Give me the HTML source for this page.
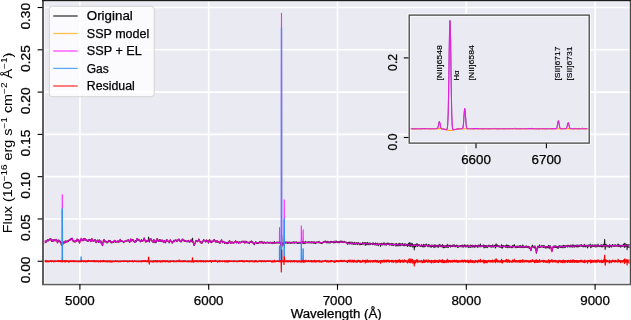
<!DOCTYPE html>
<html><head><meta charset="utf-8"><style>html,body{margin:0;padding:0;background:#fff;overflow:hidden}svg{display:block;font-family:"Liberation Sans",sans-serif}text{-webkit-font-smoothing:antialiased}</style></head><body>
<svg width="631" height="320" viewBox="0 0 631 320" style="will-change:transform">
<defs><clipPath id="cm"><rect x="43" y="0.5" width="587" height="283.5"/></clipPath><clipPath id="ci"><rect x="409" y="15" width="180" height="128"/></clipPath></defs>
<rect x="43" y="0.5" width="587" height="283.5" fill="#eaeaf2"/>
<line x1="43" x2="630" y1="7.51" y2="7.51" stroke="#fff" stroke-width="1.6"/>
<line x1="43" x2="630" y1="49.80" y2="49.80" stroke="#fff" stroke-width="1.6"/>
<line x1="43" x2="630" y1="92.09" y2="92.09" stroke="#fff" stroke-width="1.6"/>
<line x1="43" x2="630" y1="134.38" y2="134.38" stroke="#fff" stroke-width="1.6"/>
<line x1="43" x2="630" y1="176.67" y2="176.67" stroke="#fff" stroke-width="1.6"/>
<line x1="43" x2="630" y1="218.96" y2="218.96" stroke="#fff" stroke-width="1.6"/>
<line x1="43" x2="630" y1="261.25" y2="261.25" stroke="#fff" stroke-width="1.6"/>
<line y1="0.5" y2="284" x1="79.90" x2="79.90" stroke="#fff" stroke-width="1.6"/>
<line y1="0.5" y2="284" x1="208.70" x2="208.70" stroke="#fff" stroke-width="1.6"/>
<line y1="0.5" y2="284" x1="337.50" x2="337.50" stroke="#fff" stroke-width="1.6"/>
<line y1="0.5" y2="284" x1="466.30" x2="466.30" stroke="#fff" stroke-width="1.6"/>
<line y1="0.5" y2="284" x1="595.10" x2="595.10" stroke="#fff" stroke-width="1.6"/>
<g clip-path="url(#cm)" fill="none" stroke-linejoin="round">
<path d="M42.4,240.7 L42.5,240.3 L42.7,240.0 L42.8,239.9 L43.0,239.9 L43.2,239.9 L43.3,240.0 L43.5,240.2 L43.7,240.4 L43.8,240.7 L44.0,241.1 L44.1,241.7 L44.3,242.3 L44.5,242.9 L44.6,243.0 L44.8,242.8 L44.9,242.3 L45.1,241.7 L45.3,241.4 L45.4,241.4 L45.6,241.6 L45.7,241.8 L45.9,241.8 L46.1,241.7 L46.2,241.6 L46.4,241.7 L46.6,241.7 L46.7,241.4 L46.9,241.1 L47.0,240.6 L47.2,240.3 L47.4,240.1 L47.5,240.1 L47.7,240.1 L47.8,240.3 L48.0,240.4 L48.2,240.5 L48.3,240.4 L48.5,240.3 L48.6,240.1 L48.8,240.0 L49.0,239.8 L49.1,239.5 L49.3,239.3 L49.4,239.2 L49.6,239.4 L49.8,239.6 L49.9,239.8 L50.1,239.7 L50.3,239.6 L50.4,239.3 L50.6,239.2 L50.7,239.1 L50.9,239.3 L51.1,239.7 L51.2,240.2 L51.4,240.6 L51.5,240.9 L51.7,241.0 L51.9,240.8 L52.0,240.4 L52.2,240.1 L52.3,240.2 L52.5,240.6 L52.7,241.1 L52.8,241.4 L53.0,241.3 L53.2,240.9 L53.3,240.3 L53.5,239.8 L53.6,239.7 L53.8,239.8 L54.0,239.9 L54.1,239.9 L54.3,239.8 L54.4,239.9 L54.6,240.1 L54.8,240.4 L54.9,240.6 L55.1,240.8 L55.2,240.8 L55.4,240.5 L55.6,240.1 L55.7,239.7 L55.9,239.4 L56.1,239.4 L56.2,239.5 L56.4,239.6 L56.5,239.8 L56.7,240.2 L56.9,240.8 L57.0,241.5 L57.2,242.2 L57.3,242.7 L57.5,242.8 L57.7,242.3 L57.8,241.6 L58.0,240.8 L58.1,240.5 L58.3,240.5 L58.5,240.6 L58.6,240.7 L58.8,240.7 L58.9,240.7 L59.1,240.7 L59.3,240.8 L59.4,241.0 L59.6,241.4 L59.8,241.7 L59.9,241.9 L60.1,242.0 L60.2,241.9 L60.4,241.7 L60.6,241.7 L60.7,241.9 L60.9,242.4 L61.0,243.2 L61.2,244.0 L61.4,244.7 L61.5,245.0 L61.7,245.1 L61.8,244.9 L61.8,244.7 L61.9,244.4 L62.0,244.1 L62.0,243.8 L62.0,243.6 L62.1,243.5 L62.2,243.2 L62.2,243.0 L62.3,242.9 L62.3,243.1 L62.4,243.5 L62.4,243.8 L62.5,243.9 L62.6,243.9 L62.6,244.0 L62.7,244.2 L62.7,244.4 L62.7,244.3 L62.8,243.8 L63.0,243.2 L63.1,242.6 L63.3,242.4 L63.5,242.5 L63.6,242.6 L63.8,242.7 L63.9,242.7 L64.1,242.6 L64.3,242.6 L64.4,242.5 L64.6,242.4 L64.7,242.0 L64.9,241.7 L65.1,241.5 L65.2,241.3 L65.4,241.3 L65.5,241.4 L65.7,241.7 L65.9,242.0 L66.0,242.2 L66.2,242.0 L66.4,241.7 L66.5,241.4 L66.7,241.2 L66.8,241.2 L67.0,241.4 L67.2,241.6 L67.3,241.7 L67.5,241.7 L67.6,241.5 L67.8,241.1 L68.0,240.8 L68.1,240.8 L68.3,240.8 L68.4,240.8 L68.6,240.8 L68.8,240.7 L68.9,240.4 L69.1,240.1 L69.3,239.8 L69.4,239.6 L69.6,239.7 L69.7,240.0 L69.9,240.3 L70.1,240.3 L70.2,240.0 L70.4,239.6 L70.5,239.2 L70.7,239.0 L70.9,238.8 L71.0,238.8 L71.2,239.0 L71.3,239.2 L71.5,239.3 L71.7,239.3 L71.8,239.1 L72.0,238.6 L72.2,238.4 L72.3,238.5 L72.5,239.2 L72.6,240.0 L72.8,240.7 L73.0,241.0 L73.1,241.0 L73.3,241.1 L73.4,241.3 L73.6,241.6 L73.8,241.7 L73.9,241.4 L74.1,241.1 L74.2,241.0 L74.4,241.2 L74.6,241.6 L74.7,241.8 L74.9,241.9 L75.0,241.8 L75.2,241.5 L75.4,241.1 L75.5,240.8 L75.7,240.9 L75.9,241.1 L76.0,241.4 L76.2,241.5 L76.3,241.3 L76.5,240.8 L76.7,240.3 L76.8,239.7 L77.0,239.3 L77.1,239.2 L77.3,239.4 L77.5,239.7 L77.6,240.1 L77.8,240.5 L77.9,240.6 L78.1,240.5 L78.3,240.2 L78.4,239.9 L78.6,239.8 L78.8,239.9 L78.9,240.3 L79.1,241.1 L79.2,242.1 L79.4,242.9 L79.6,243.2 L79.7,242.8 L79.9,241.9 L80.0,241.1 L80.2,240.6 L80.4,240.3 L80.5,240.1 L80.6,239.9 L80.7,239.6 L80.7,239.5 L80.7,239.4 L80.8,239.3 L80.8,239.2 L80.9,239.4 L81.0,239.6 L81.0,239.9 L81.0,240.0 L81.1,240.1 L81.2,240.2 L81.2,240.3 L81.3,240.3 L81.3,240.1 L81.4,239.6 L81.4,239.1 L81.5,238.9 L81.6,239.1 L81.6,239.7 L81.6,240.3 L81.8,240.8 L82.0,240.9 L82.1,240.8 L82.3,240.7 L82.5,240.5 L82.6,240.2 L82.8,239.8 L82.9,239.4 L83.1,239.1 L83.3,239.2 L83.4,239.5 L83.6,239.9 L83.7,240.1 L83.9,239.9 L84.1,239.4 L84.2,238.9 L84.4,238.7 L84.5,238.9 L84.7,239.3 L84.9,239.6 L85.0,239.8 L85.2,239.7 L85.4,239.4 L85.5,239.3 L85.7,239.4 L85.8,239.7 L86.0,239.9 L86.2,239.8 L86.3,239.7 L86.5,239.7 L86.6,240.1 L86.8,240.4 L87.0,240.6 L87.1,240.6 L87.3,240.5 L87.4,240.5 L87.6,240.7 L87.8,241.0 L87.9,241.3 L88.1,241.4 L88.2,241.3 L88.4,241.0 L88.6,240.6 L88.7,240.1 L88.9,239.8 L89.1,239.8 L89.2,240.0 L89.4,240.4 L89.5,240.5 L89.7,240.5 L89.9,240.2 L90.0,239.9 L90.2,239.9 L90.3,240.2 L90.5,240.7 L90.7,241.2 L90.8,241.5 L91.0,241.5 L91.1,241.1 L91.3,240.6 L91.5,239.9 L91.6,239.3 L91.8,239.0 L92.0,238.8 L92.1,239.0 L92.3,239.5 L92.4,240.1 L92.6,240.6 L92.8,240.8 L92.9,240.6 L93.1,240.3 L93.2,240.5 L93.4,240.8 L93.6,241.2 L93.7,241.2 L93.9,241.1 L94.0,240.8 L94.2,240.7 L94.4,240.6 L94.5,240.6 L94.7,240.5 L94.9,240.3 L95.0,239.9 L95.2,239.6 L95.3,239.6 L95.5,240.1 L95.7,240.8 L95.8,241.7 L96.0,242.2 L96.1,242.3 L96.3,242.0 L96.5,241.6 L96.6,241.4 L96.8,241.5 L96.9,241.7 L97.1,241.5 L97.3,240.9 L97.4,240.3 L97.6,240.1 L97.7,240.5 L97.9,241.1 L98.1,241.6 L98.2,241.9 L98.4,242.0 L98.6,241.8 L98.7,241.5 L98.9,240.9 L99.0,240.3 L99.2,239.9 L99.4,239.9 L99.5,240.2 L99.7,240.7 L99.8,241.2 L100.0,241.8 L100.2,242.2 L100.3,242.3 L100.5,242.1 L100.6,241.7 L100.8,241.3 L101.0,241.3 L101.1,241.6 L101.3,242.1 L101.5,242.5 L101.6,242.9 L101.8,243.3 L101.9,243.9 L102.1,244.7 L102.3,245.3 L102.4,245.6 L102.6,245.3 L102.7,244.6 L102.9,243.5 L103.1,242.4 L103.2,241.4 L103.4,240.8 L103.5,240.5 L103.7,240.5 L103.9,240.6 L104.0,240.3 L104.2,240.0 L104.4,239.9 L104.5,240.2 L104.7,240.8 L104.8,241.4 L105.0,241.7 L105.2,241.6 L105.3,241.4 L105.5,241.2 L105.6,241.1 L105.8,241.3 L106.0,241.6 L106.1,241.8 L106.3,242.0 L106.4,242.1 L106.6,242.2 L106.8,242.3 L106.9,242.5 L107.1,242.5 L107.2,242.3 L107.4,242.1 L107.6,241.9 L107.7,241.9 L107.9,241.9 L108.1,241.8 L108.2,241.5 L108.4,241.1 L108.5,240.8 L108.7,240.7 L108.9,240.8 L109.0,241.0 L109.2,241.1 L109.3,241.1 L109.5,241.0 L109.7,240.9 L109.8,241.0 L110.0,241.1 L110.1,241.2 L110.3,241.2 L110.5,241.2 L110.6,241.2 L110.8,241.5 L111.0,241.8 L111.1,242.1 L111.3,242.3 L111.4,242.4 L111.6,242.3 L111.8,242.1 L111.9,242.1 L112.1,242.3 L112.2,242.4 L112.4,242.5 L112.6,242.3 L112.7,242.0 L112.9,241.8 L113.0,241.6 L113.2,241.5 L113.4,241.6 L113.5,241.8 L113.7,242.0 L113.8,242.0 L114.0,241.7 L114.2,241.1 L114.3,240.7 L114.5,240.5 L114.7,240.3 L114.8,240.3 L115.0,240.4 L115.1,240.8 L115.3,241.4 L115.5,242.0 L115.6,242.2 L115.8,241.9 L115.9,241.5 L116.1,241.4 L116.3,241.5 L116.4,241.6 L116.6,241.7 L116.7,241.7 L116.9,241.7 L117.1,241.7 L117.2,241.6 L117.4,241.5 L117.6,241.6 L117.7,241.7 L117.9,241.6 L118.0,241.2 L118.2,240.8 L118.4,240.8 L118.5,241.2 L118.7,241.7 L118.8,242.0 L119.0,241.9 L119.2,241.6 L119.3,241.4 L119.5,241.2 L119.6,240.9 L119.8,240.5 L120.0,239.9 L120.1,239.5 L120.3,239.5 L120.5,239.9 L120.6,240.5 L120.8,241.1 L120.9,241.4 L121.1,241.4 L121.3,241.3 L121.4,241.1 L121.6,240.9 L121.7,240.8 L121.9,240.9 L122.1,241.1 L122.2,241.4 L122.4,241.5 L122.5,241.5 L122.7,241.4 L122.9,241.3 L123.0,241.4 L123.2,241.7 L123.3,241.9 L123.5,242.1 L123.7,242.2 L123.8,242.2 L124.0,242.0 L124.2,241.6 L124.3,241.4 L124.5,241.3 L124.6,241.3 L124.8,241.5 L125.0,241.6 L125.1,241.6 L125.3,241.5 L125.4,241.4 L125.6,241.2 L125.8,241.0 L125.9,240.9 L126.1,240.9 L126.2,240.9 L126.4,241.0 L126.6,240.9 L126.7,240.7 L126.9,240.5 L127.1,240.4 L127.2,240.4 L127.4,240.5 L127.5,240.4 L127.7,240.4 L127.9,240.4 L128.0,240.4 L128.2,240.3 L128.3,240.0 L128.5,239.8 L128.7,239.9 L128.8,240.2 L129.0,240.7 L129.1,241.3 L129.3,241.8 L129.5,242.2 L129.6,242.4 L129.8,242.3 L129.9,241.9 L130.1,241.3 L130.3,240.5 L130.4,239.8 L130.6,239.3 L130.8,239.1 L130.9,239.3 L131.1,239.9 L131.2,240.6 L131.4,241.0 L131.6,241.0 L131.7,240.7 L131.9,240.3 L132.0,240.1 L132.2,240.1 L132.4,240.1 L132.5,240.0 L132.7,239.7 L132.8,239.6 L133.0,239.6 L133.2,239.9 L133.3,240.5 L133.5,241.0 L133.7,241.4 L133.8,241.5 L134.0,241.4 L134.1,241.3 L134.3,241.5 L134.5,241.8 L134.6,242.1 L134.8,242.4 L134.9,242.4 L135.1,242.1 L135.3,241.6 L135.4,241.1 L135.6,240.8 L135.7,240.8 L135.9,241.1 L136.1,241.3 L136.2,241.3 L136.4,240.9 L136.6,240.1 L136.7,239.4 L136.9,238.9 L137.0,238.9 L137.2,239.1 L137.4,239.5 L137.5,239.8 L137.7,239.8 L137.8,239.6 L138.0,239.4 L138.2,239.3 L138.3,239.4 L138.5,239.5 L138.6,239.6 L138.8,239.6 L139.0,239.7 L139.1,239.9 L139.3,240.2 L139.4,240.4 L139.6,240.4 L139.8,240.5 L139.9,240.8 L140.1,241.1 L140.3,241.4 L140.4,241.5 L140.6,241.4 L140.7,241.0 L140.9,240.6 L141.1,240.2 L141.2,240.0 L141.4,240.0 L141.5,240.1 L141.7,240.2 L141.9,240.5 L142.0,240.9 L142.2,241.1 L142.3,241.0 L142.5,240.9 L142.7,240.8 L142.8,240.8 L143.0,240.8 L143.2,240.8 L143.3,240.7 L143.5,240.5 L143.6,240.1 L143.8,239.5 L144.0,238.8 L144.1,238.3 L144.3,238.3 L144.4,238.6 L144.6,239.1 L144.8,239.7 L144.9,240.2 L145.1,240.7 L145.2,241.1 L145.4,241.5 L145.6,241.9 L145.7,242.1 L145.9,242.0 L146.0,241.7 L146.2,241.3 L146.4,240.9 L146.5,240.6 L146.7,240.5 L146.9,240.7 L147.0,240.9 L147.2,241.1 L147.3,241.2 L147.5,241.1 L147.7,241.0 L147.8,241.0 L148.0,241.1 L148.1,241.2 L148.3,241.3 L148.5,241.4 L148.6,241.3 L148.8,241.0 L148.9,240.3 L149.1,239.6 L149.3,239.1 L149.4,239.0 L149.6,239.0 L149.8,239.2 L149.9,239.4 L150.1,239.6 L150.2,239.6 L150.4,239.5 L150.6,239.3 L150.7,239.1 L150.9,238.9 L151.0,239.0 L151.2,239.4 L151.4,240.1 L151.5,240.6 L151.7,240.7 L151.8,240.7 L152.0,240.6 L152.2,240.8 L152.3,241.2 L152.5,241.5 L152.7,241.6 L152.8,241.7 L153.0,241.8 L153.1,241.8 L153.3,241.7 L153.5,241.3 L153.6,240.6 L153.8,239.9 L153.9,239.6 L154.1,239.9 L154.3,240.7 L154.4,241.6 L154.6,242.1 L154.7,242.4 L154.9,242.3 L155.1,242.2 L155.2,242.1 L155.4,242.0 L155.5,241.8 L155.7,241.5 L155.9,241.3 L156.0,241.3 L156.2,241.5 L156.4,241.6 L156.5,241.5 L156.7,241.1 L156.8,240.2 L157.0,239.2 L157.2,238.7 L157.3,238.7 L157.5,239.1 L157.6,239.5 L157.8,239.9 L158.0,240.3 L158.1,240.6 L158.3,240.9 L158.4,241.1 L158.6,241.2 L158.8,241.2 L158.9,240.9 L159.1,240.5 L159.3,240.2 L159.4,240.0 L159.6,240.1 L159.7,240.3 L159.9,240.5 L160.1,240.6 L160.2,240.5 L160.4,240.3 L160.5,240.1 L160.7,240.0 L160.9,240.1 L161.0,240.3 L161.2,240.6 L161.3,240.9 L161.5,241.2 L161.7,241.4 L161.8,241.4 L162.0,241.0 L162.1,240.6 L162.3,240.3 L162.5,240.3 L162.6,240.6 L162.8,240.9 L163.0,241.1 L163.1,241.4 L163.3,241.8 L163.4,242.2 L163.6,242.6 L163.8,242.6 L163.9,242.2 L164.1,241.6 L164.2,241.0 L164.4,240.6 L164.6,240.6 L164.7,241.1 L164.9,241.7 L165.0,242.2 L165.2,242.3 L165.4,242.2 L165.5,242.1 L165.7,241.9 L165.9,241.7 L166.0,241.3 L166.2,240.9 L166.3,240.5 L166.5,240.2 L166.7,240.0 L166.8,239.8 L167.0,239.8 L167.1,240.0 L167.3,240.3 L167.5,240.8 L167.6,241.2 L167.8,241.4 L167.9,241.3 L168.1,241.2 L168.3,241.0 L168.4,241.1 L168.6,241.4 L168.8,241.8 L168.9,242.0 L169.1,242.0 L169.2,241.8 L169.4,241.6 L169.6,241.4 L169.7,241.2 L169.9,240.9 L170.0,240.6 L170.2,240.2 L170.4,239.9 L170.5,240.0 L170.7,240.4 L170.8,240.9 L171.0,241.3 L171.2,241.5 L171.3,241.7 L171.5,241.8 L171.6,242.1 L171.8,242.3 L172.0,242.7 L172.1,242.9 L172.3,243.0 L172.5,242.8 L172.6,242.5 L172.8,242.1 L172.9,241.9 L173.1,241.7 L173.3,241.4 L173.4,241.1 L173.6,240.9 L173.7,241.0 L173.9,241.2 L174.1,241.4 L174.2,241.5 L174.4,241.4 L174.5,241.1 L174.7,240.6 L174.9,240.2 L175.0,240.1 L175.2,240.2 L175.4,240.2 L175.5,240.1 L175.7,239.9 L175.8,239.8 L176.0,239.9 L176.2,240.1 L176.3,240.4 L176.5,240.6 L176.6,241.0 L176.8,241.3 L177.0,241.6 L177.1,241.5 L177.3,241.0 L177.4,240.6 L177.6,240.2 L177.8,240.1 L177.9,240.1 L178.1,239.9 L178.2,239.7 L178.4,239.4 L178.6,239.4 L178.7,239.6 L178.9,239.9 L179.1,240.2 L179.2,240.4 L179.4,240.6 L179.5,240.6 L179.7,240.7 L179.9,240.8 L180.0,241.0 L180.2,241.1 L180.3,241.3 L180.5,241.4 L180.7,241.5 L180.8,241.4 L181.0,241.4 L181.1,241.3 L181.3,241.4 L181.5,241.4 L181.6,241.3 L181.8,241.0 L182.0,240.4 L182.1,239.7 L182.3,239.1 L182.4,239.1 L182.6,239.4 L182.8,239.8 L182.9,240.1 L183.1,240.3 L183.2,240.4 L183.4,240.4 L183.6,240.4 L183.7,240.3 L183.9,240.4 L184.0,240.5 L184.2,240.6 L184.4,240.7 L184.5,240.8 L184.7,241.0 L184.9,241.3 L185.0,241.5 L185.2,241.5 L185.3,241.3 L185.5,240.9 L185.7,240.7 L185.8,240.7 L186.0,240.9 L186.1,241.1 L186.3,241.2 L186.5,241.3 L186.6,241.2 L186.8,241.3 L186.9,241.3 L187.1,241.4 L187.3,241.4 L187.4,241.5 L187.6,241.5 L187.7,241.4 L187.9,241.1 L188.1,240.8 L188.2,240.6 L188.4,240.6 L188.6,240.7 L188.7,240.9 L188.9,241.2 L189.0,241.4 L189.2,241.6 L189.4,241.8 L189.5,241.9 L189.7,241.9 L189.8,241.8 L190.0,241.6 L190.2,241.3 L190.3,240.9 L190.5,240.5 L190.6,240.2 L190.8,240.0 L191.0,240.0 L191.1,240.2 L191.3,240.5 L191.5,240.7 L191.6,240.8 L191.8,240.9 L191.9,241.3 L192.1,241.8 L192.3,241.9 L192.4,241.8 L192.6,241.5 L192.7,241.4 L192.9,241.4 L193.1,241.6 L193.2,241.9 L193.4,242.5 L193.5,243.2 L193.7,244.0 L193.9,244.7 L194.0,245.0 L194.2,245.1 L194.3,244.9 L194.5,244.6 L194.7,244.3 L194.8,243.9 L195.0,243.5 L195.2,243.0 L195.3,242.3 L195.5,241.6 L195.6,241.1 L195.8,240.9 L196.0,240.8 L196.1,240.8 L196.3,240.8 L196.4,240.8 L196.6,240.9 L196.8,241.1 L196.9,241.3 L197.1,241.4 L197.2,241.4 L197.4,241.3 L197.6,241.2 L197.7,241.1 L197.9,241.1 L198.1,241.0 L198.2,240.7 L198.4,240.4 L198.5,240.0 L198.7,239.6 L198.9,239.4 L199.0,239.5 L199.2,239.9 L199.3,240.4 L199.5,240.7 L199.7,241.0 L199.8,241.2 L200.0,241.5 L200.1,242.0 L200.3,242.4 L200.5,242.6 L200.6,242.5 L200.8,242.3 L201.0,242.1 L201.1,242.0 L201.3,242.1 L201.4,242.3 L201.6,242.7 L201.8,243.1 L201.9,243.1 L202.1,242.8 L202.2,242.2 L202.4,241.7 L202.6,241.4 L202.7,241.3 L202.9,241.3 L203.0,241.2 L203.2,240.9 L203.4,240.5 L203.5,240.1 L203.7,240.0 L203.8,240.2 L204.0,240.5 L204.2,240.7 L204.3,240.7 L204.5,240.5 L204.7,240.4 L204.8,240.5 L205.0,240.7 L205.1,241.0 L205.3,241.1 L205.5,241.3 L205.6,241.4 L205.8,241.5 L205.9,241.4 L206.1,241.0 L206.3,240.5 L206.4,240.2 L206.6,240.3 L206.7,240.7 L206.9,241.0 L207.1,241.2 L207.2,241.1 L207.4,241.0 L207.6,240.9 L207.7,240.8 L207.9,241.0 L208.0,241.5 L208.2,242.1 L208.4,242.5 L208.5,242.5 L208.7,242.2 L208.8,241.6 L209.0,240.8 L209.2,240.2 L209.3,239.8 L209.5,239.8 L209.6,240.0 L209.8,240.4 L210.0,240.7 L210.1,241.2 L210.3,241.6 L210.4,241.9 L210.6,242.1 L210.8,242.2 L210.9,242.3 L211.1,242.3 L211.3,242.0 L211.4,241.6 L211.6,241.3 L211.7,241.1 L211.9,241.2 L212.1,241.4 L212.2,241.7 L212.4,241.8 L212.5,241.8 L212.7,241.7 L212.9,241.6 L213.0,241.5 L213.2,241.3 L213.3,241.0 L213.5,240.6 L213.7,240.2 L213.8,239.9 L214.0,239.8 L214.2,239.8 L214.3,239.9 L214.5,239.9 L214.6,240.1 L214.8,240.6 L215.0,241.1 L215.1,241.5 L215.3,241.6 L215.4,241.7 L215.6,241.7 L215.8,241.9 L215.9,242.1 L216.1,242.2 L216.2,242.1 L216.4,241.8 L216.6,241.4 L216.7,241.1 L216.9,240.9 L217.1,240.8 L217.2,241.0 L217.4,241.2 L217.5,241.3 L217.7,241.4 L217.9,241.4 L218.0,241.4 L218.2,241.5 L218.3,241.7 L218.5,241.9 L218.7,242.1 L218.8,242.1 L219.0,242.1 L219.1,242.1 L219.3,242.4 L219.5,242.8 L219.6,243.2 L219.8,243.3 L219.9,242.9 L220.1,242.4 L220.3,242.0 L220.4,241.8 L220.6,241.7 L220.8,241.5 L220.9,241.1 L221.1,240.8 L221.2,240.4 L221.4,240.1 L221.6,239.9 L221.7,240.1 L221.9,240.5 L222.0,241.1 L222.2,241.6 L222.4,242.1 L222.5,242.4 L222.7,242.4 L222.8,242.2 L223.0,241.9 L223.2,241.6 L223.3,241.4 L223.5,241.5 L223.7,241.6 L223.8,241.7 L224.0,241.8 L224.1,242.0 L224.3,242.4 L224.5,242.8 L224.6,243.0 L224.8,243.0 L224.9,242.8 L225.1,242.6 L225.3,242.5 L225.4,242.5 L225.6,242.4 L225.7,242.5 L225.9,242.7 L226.1,243.0 L226.2,243.2 L226.4,243.2 L226.5,243.1 L226.7,243.0 L226.9,242.9 L227.0,242.8 L227.2,242.8 L227.4,242.8 L227.5,242.8 L227.7,242.9 L227.8,243.1 L228.0,243.2 L228.2,243.2 L228.3,243.0 L228.5,242.7 L228.6,242.3 L228.8,241.9 L229.0,241.6 L229.1,241.4 L229.3,241.2 L229.4,241.0 L229.6,241.0 L229.8,241.3 L229.9,241.7 L230.1,242.1 L230.3,242.5 L230.4,242.8 L230.6,243.0 L230.7,243.2 L230.9,243.4 L231.1,243.4 L231.2,243.1 L231.4,242.6 L231.5,242.2 L231.7,242.1 L231.9,242.2 L232.0,242.4 L232.2,242.4 L232.3,242.3 L232.5,242.1 L232.7,242.0 L232.8,242.1 L233.0,242.6 L233.2,243.1 L233.3,243.5 L233.5,243.5 L233.6,243.2 L233.8,242.9 L234.0,242.6 L234.1,242.4 L234.3,242.3 L234.4,242.3 L234.6,242.4 L234.8,242.4 L234.9,242.3 L235.1,241.9 L235.2,241.5 L235.4,241.1 L235.6,240.9 L235.7,241.0 L235.9,241.4 L236.0,241.8 L236.2,242.3 L236.4,242.5 L236.5,242.5 L236.7,242.4 L236.9,242.3 L237.0,242.2 L237.2,242.1 L237.3,241.8 L237.5,241.6 L237.7,241.6 L237.8,241.7 L238.0,242.1 L238.1,242.6 L238.3,243.1 L238.5,243.3 L238.6,243.2 L238.8,243.0 L238.9,242.6 L239.1,242.4 L239.3,242.3 L239.4,242.3 L239.6,242.4 L239.8,242.5 L239.9,242.6 L240.1,242.6 L240.2,242.5 L240.4,242.5 L240.6,242.6 L240.7,242.6 L240.9,242.6 L241.0,242.5 L241.2,242.3 L241.4,242.1 L241.5,241.9 L241.7,241.6 L241.8,241.5 L242.0,241.5 L242.2,241.6 L242.3,241.7 L242.5,241.7 L242.6,241.6 L242.8,241.6 L243.0,241.7 L243.1,241.9 L243.3,242.1 L243.5,242.1 L243.6,241.9 L243.8,241.6 L243.9,241.4 L244.1,241.3 L244.3,241.4 L244.4,241.8 L244.6,242.4 L244.7,242.9 L244.9,243.1 L245.1,242.9 L245.2,242.5 L245.4,242.1 L245.5,241.7 L245.7,241.4 L245.9,241.4 L246.0,241.6 L246.2,241.9 L246.4,242.2 L246.5,242.3 L246.7,242.4 L246.8,242.4 L247.0,242.4 L247.2,242.5 L247.3,242.6 L247.5,242.7 L247.6,242.6 L247.8,242.4 L248.0,242.3 L248.1,242.3 L248.3,242.4 L248.4,242.5 L248.6,242.5 L248.8,242.6 L248.9,242.8 L249.1,243.0 L249.2,243.1 L249.4,242.9 L249.6,242.6 L249.7,242.2 L249.9,242.1 L250.1,242.1 L250.2,242.0 L250.4,241.9 L250.5,241.9 L250.7,242.1 L250.9,242.2 L251.0,242.0 L251.2,241.7 L251.3,241.4 L251.5,241.3 L251.7,241.5 L251.8,241.8 L252.0,242.2 L252.1,242.4 L252.3,242.5 L252.5,242.4 L252.6,242.3 L252.8,242.2 L253.0,242.3 L253.1,242.6 L253.3,242.9 L253.4,243.2 L253.6,243.4 L253.8,243.6 L253.9,243.7 L254.1,243.9 L254.2,244.0 L254.4,244.0 L254.6,243.8 L254.7,243.4 L254.9,243.0 L255.0,242.6 L255.2,242.5 L255.4,242.5 L255.5,242.5 L255.7,242.5 L255.9,242.4 L256.0,242.4 L256.2,242.5 L256.3,242.7 L256.5,242.9 L256.7,243.0 L256.8,243.0 L257.0,243.0 L257.1,243.0 L257.3,242.9 L257.5,242.7 L257.6,242.6 L257.8,242.5 L257.9,242.6 L258.1,242.7 L258.3,242.9 L258.4,243.0 L258.6,243.0 L258.7,243.1 L258.9,243.0 L259.1,242.8 L259.2,242.6 L259.4,242.4 L259.6,242.3 L259.7,242.3 L259.9,242.2 L260.0,242.1 L260.2,242.1 L260.4,242.2 L260.5,242.4 L260.7,242.6 L260.8,242.8 L261.0,242.7 L261.2,242.5 L261.3,242.3 L261.5,242.1 L261.6,242.0 L261.8,242.0 L262.0,242.0 L262.1,242.0 L262.3,242.2 L262.5,242.5 L262.6,242.8 L262.8,243.1 L262.9,243.2 L263.1,243.2 L263.3,243.1 L263.4,242.9 L263.6,242.7 L263.7,242.5 L263.9,242.3 L264.1,242.3 L264.2,242.3 L264.4,242.5 L264.5,242.6 L264.7,242.7 L264.9,242.7 L265.0,242.8 L265.2,242.8 L265.4,242.8 L265.5,242.7 L265.7,242.7 L265.8,242.7 L266.0,242.7 L266.2,242.8 L266.3,242.8 L266.5,242.7 L266.6,242.5 L266.8,242.5 L267.0,242.5 L267.1,242.5 L267.3,242.6 L267.4,242.6 L267.6,242.6 L267.8,242.6 L267.9,242.6 L268.1,242.7 L268.2,242.8 L268.4,242.9 L268.6,242.9 L268.7,242.9 L268.9,242.9 L269.1,242.9 L269.2,242.9 L269.4,242.8 L269.5,242.8 L269.7,242.8 L269.9,242.8 L270.0,242.7 L270.2,242.6 L270.3,242.5 L270.5,242.5 L270.7,242.6 L270.8,242.6 L271.0,242.7 L271.1,242.7 L271.3,242.7 L271.5,242.7 L271.6,242.6 L271.8,242.6 L272.0,242.6 L272.1,242.7 L272.3,242.7 L272.4,242.8 L272.6,242.8 L272.8,242.8 L272.9,242.7 L273.1,242.6 L273.2,242.5 L273.4,242.5 L273.6,242.5 L273.7,242.6 L273.9,242.7 L274.0,242.8 L274.2,242.8 L274.4,242.8 L274.5,242.7 L274.7,242.7 L274.8,242.8 L275.0,242.8 L275.2,242.8 L275.3,242.8 L275.5,242.7 L275.7,242.7 L275.8,242.7 L276.0,242.7 L276.1,242.7 L276.3,242.6 L276.5,242.5 L276.6,242.4 L276.8,242.4 L276.9,242.4 L277.1,242.6 L277.3,242.7 L277.4,242.8 L277.6,242.8 L277.7,242.8 L277.9,242.8 L278.1,242.7 L278.2,242.7 L278.4,242.7 L278.6,242.6 L278.7,242.6 L278.9,242.5 L279.0,242.4 L279.1,242.3 L279.1,242.3 L279.2,242.3 L279.3,242.4 L279.3,242.4 L279.4,242.4 L279.4,242.4 L279.5,242.4 L279.5,242.4 L279.6,242.4 L279.6,242.5 L279.7,242.6 L279.7,242.7 L279.8,242.8 L279.8,242.9 L279.9,242.9 L280.0,243.0 L280.0,242.9 L280.0,242.9 L280.1,242.9 L280.2,243.0 L280.3,243.2 L280.5,243.5 L280.6,244.0 L280.8,244.6 L281.0,245.2 L281.0,245.4 L281.1,245.6 L281.1,245.7 L281.2,245.9 L281.3,246.0 L281.3,246.1 L281.3,246.2 L281.4,246.3 L281.4,246.3 L281.5,246.4 L281.6,246.3 L281.6,246.3 L281.6,246.3 L281.7,246.2 L281.8,246.1 L281.8,246.0 L281.9,245.8 L281.9,245.7 L282.0,245.6 L282.0,245.4 L282.1,245.2 L282.3,244.7 L282.4,244.2 L282.6,243.8 L282.7,243.5 L282.9,243.2 L283.1,242.9 L283.2,242.8 L283.4,242.7 L283.5,242.6 L283.7,242.5 L283.8,242.5 L283.8,242.5 L283.9,242.5 L283.9,242.5 L284.0,242.5 L284.0,242.5 L284.1,242.5 L284.2,242.5 L284.2,242.5 L284.2,242.6 L284.3,242.5 L284.3,242.6 L284.4,242.6 L284.5,242.6 L284.5,242.6 L284.5,242.6 L284.6,242.6 L284.7,242.6 L284.7,242.7 L284.8,242.8 L285.0,242.8 L285.2,242.8 L285.3,242.7 L285.5,242.6 L285.6,242.5 L285.8,242.4 L286.0,242.4 L286.1,242.3 L286.3,242.3 L286.4,242.4 L286.6,242.4 L286.8,242.5 L286.9,242.6 L287.1,242.6 L287.2,242.7 L287.4,242.8 L287.6,242.8 L287.7,242.8 L287.9,242.8 L288.1,242.8 L288.2,242.8 L288.4,242.8 L288.5,242.7 L288.7,242.7 L288.9,242.7 L289.0,242.7 L289.2,242.6 L289.3,242.6 L289.5,242.6 L289.7,242.6 L289.8,242.6 L290.0,242.6 L290.1,242.6 L290.3,242.6 L290.5,242.6 L290.6,242.7 L290.8,242.8 L290.9,242.8 L291.1,242.9 L291.3,242.9 L291.4,242.8 L291.6,242.8 L291.8,242.7 L291.9,242.6 L292.1,242.6 L292.2,242.6 L292.4,242.5 L292.6,242.5 L292.7,242.5 L292.9,242.5 L293.0,242.5 L293.2,242.6 L293.4,242.6 L293.5,242.6 L293.7,242.5 L293.8,242.5 L294.0,242.5 L294.2,242.5 L294.3,242.6 L294.5,242.6 L294.7,242.6 L294.8,242.6 L295.0,242.6 L295.1,242.5 L295.3,242.5 L295.5,242.5 L295.6,242.5 L295.8,242.5 L295.9,242.4 L296.1,242.3 L296.3,242.3 L296.4,242.3 L296.6,242.3 L296.7,242.4 L296.9,242.5 L297.1,242.6 L297.2,242.6 L297.4,242.7 L297.6,242.7 L297.7,242.7 L297.9,242.6 L298.0,242.6 L298.2,242.6 L298.4,242.6 L298.5,242.6 L298.7,242.6 L298.8,242.6 L299.0,242.6 L299.2,242.6 L299.3,242.6 L299.5,242.6 L299.6,242.6 L299.8,242.6 L300.0,242.5 L300.1,242.5 L300.3,242.4 L300.4,242.4 L300.6,242.4 L300.8,242.5 L300.8,242.6 L300.9,242.7 L300.9,242.8 L301.0,242.8 L301.0,242.7 L301.1,242.7 L301.2,242.7 L301.2,242.7 L301.3,242.7 L301.3,242.7 L301.3,242.7 L301.4,242.7 L301.5,242.8 L301.5,242.8 L301.6,242.7 L301.6,242.7 L301.7,242.6 L301.7,242.6 L301.8,242.6 L301.9,242.6 L301.9,242.6 L302.1,242.7 L302.2,242.6 L302.4,242.6 L302.5,242.6 L302.6,242.5 L302.7,242.5 L302.8,242.4 L302.8,242.4 L302.9,242.3 L302.9,242.3 L303.0,242.3 L303.0,242.2 L303.1,242.2 L303.2,242.3 L303.2,242.3 L303.2,242.4 L303.3,242.5 L303.3,242.5 L303.4,242.5 L303.5,242.5 L303.5,242.5 L303.5,242.5 L303.6,242.5 L303.7,242.6 L303.8,242.6 L304.0,242.6 L304.2,242.6 L304.3,242.6 L304.5,242.6 L304.6,242.6 L304.8,242.6 L305.0,242.6 L305.1,242.6 L305.3,242.5 L305.4,242.5 L305.6,242.5 L305.8,242.5 L305.9,242.5 L306.1,242.5 L306.2,242.5 L306.4,242.5 L306.6,242.5 L306.7,242.5 L306.9,242.5 L307.0,242.4 L307.2,242.4 L307.4,242.4 L307.5,242.4 L307.7,242.4 L307.9,242.3 L308.0,242.3 L308.2,242.4 L308.3,242.5 L308.5,242.6 L308.7,242.6 L308.8,242.6 L309.0,242.5 L309.1,242.4 L309.3,242.3 L309.5,242.3 L309.6,242.3 L309.8,242.3 L309.9,242.3 L310.1,242.3 L310.3,242.4 L310.4,242.4 L310.6,242.4 L310.8,242.4 L310.9,242.4 L311.1,242.5 L311.2,242.5 L311.4,242.5 L311.6,242.5 L311.7,242.5 L311.9,242.4 L312.0,242.4 L312.2,242.4 L312.4,242.4 L312.5,242.4 L312.7,242.4 L312.8,242.3 L313.0,242.3 L313.2,242.4 L313.3,242.4 L313.5,242.5 L313.7,242.6 L313.8,242.6 L314.0,242.6 L314.1,242.6 L314.3,242.7 L314.5,242.7 L314.6,242.8 L314.8,242.8 L314.9,242.8 L315.1,242.7 L315.3,242.7 L315.4,242.7 L315.6,242.7 L315.7,242.6 L315.9,242.6 L316.1,242.6 L316.2,242.5 L316.4,242.5 L316.5,242.4 L316.7,242.4 L316.9,242.3 L317.0,242.3 L317.2,242.3 L317.4,242.3 L317.5,242.3 L317.7,242.3 L317.8,242.3 L318.0,242.3 L318.2,242.2 L318.3,242.2 L318.5,242.1 L318.6,242.1 L318.8,242.1 L319.0,242.2 L319.1,242.3 L319.3,242.3 L319.4,242.3 L319.6,242.3 L319.8,242.3 L319.9,242.4 L320.1,242.4 L320.3,242.5 L320.4,242.6 L320.6,242.6 L320.7,242.7 L320.9,242.7 L321.1,242.7 L321.2,242.6 L321.4,242.6 L321.5,242.5 L321.7,242.5 L321.9,242.6 L322.0,242.6 L322.2,242.7 L322.3,242.7 L322.5,242.7 L322.7,242.6 L322.8,242.4 L323.0,242.2 L323.1,242.1 L323.3,242.0 L323.5,242.0 L323.6,242.1 L323.8,242.1 L324.0,242.1 L324.1,242.0 L324.3,242.0 L324.4,241.9 L324.6,241.9 L324.8,241.9 L324.9,241.9 L325.1,241.9 L325.2,242.0 L325.4,242.0 L325.6,242.0 L325.7,242.0 L325.9,242.0 L326.0,242.0 L326.2,242.0 L326.4,242.0 L326.5,242.0 L326.7,242.1 L326.9,242.1 L327.0,242.3 L327.2,242.3 L327.3,242.3 L327.5,242.2 L327.7,242.0 L327.8,242.0 L328.0,242.0 L328.1,242.0 L328.3,242.0 L328.5,242.0 L328.6,242.0 L328.8,242.0 L328.9,242.1 L329.1,242.2 L329.3,242.4 L329.4,242.5 L329.6,242.5 L329.8,242.5 L329.9,242.4 L330.1,242.3 L330.2,242.3 L330.4,242.1 L330.6,242.0 L330.7,241.9 L330.9,241.8 L331.0,241.9 L331.2,241.9 L331.4,242.0 L331.5,242.1 L331.7,242.1 L331.8,242.1 L332.0,242.1 L332.2,242.0 L332.3,242.1 L332.5,242.1 L332.6,242.2 L332.8,242.3 L333.0,242.3 L333.1,242.3 L333.3,242.3 L333.5,242.2 L333.6,242.1 L333.8,241.9 L333.9,241.8 L334.1,241.7 L334.3,241.6 L334.4,241.7 L334.6,241.7 L334.7,241.8 L334.9,241.8 L335.1,241.8 L335.2,241.8 L335.4,241.7 L335.5,241.7 L335.7,241.8 L335.9,241.8 L336.0,241.9 L336.2,241.9 L336.4,241.9 L336.5,241.9 L336.7,241.9 L336.8,241.9 L337.0,242.0 L337.2,242.1 L337.3,242.2 L337.5,242.3 L337.6,242.3 L337.8,242.2 L338.0,242.2 L338.1,242.2 L338.3,242.2 L338.4,242.1 L338.6,242.1 L338.8,242.1 L338.9,242.1 L339.1,242.1 L339.2,242.2 L339.4,242.2 L339.6,242.2 L339.7,242.1 L339.9,242.1 L340.1,242.0 L340.2,242.0 L340.4,242.0 L340.5,242.0 L340.7,242.1 L340.9,242.0 L341.0,242.0 L341.2,241.9 L341.3,241.8 L341.5,241.8 L341.7,241.8 L341.8,241.8 L342.0,241.8 L342.1,241.8 L342.3,241.9 L342.5,242.0 L342.6,242.1 L342.8,242.3 L343.0,242.3 L343.1,242.3 L343.3,242.3 L343.4,242.3 L343.6,242.2 L343.8,242.2 L343.9,242.1 L344.1,242.1 L344.2,242.1 L344.4,242.1 L344.6,242.2 L344.7,242.2 L344.9,242.2 L345.0,242.3 L345.2,242.3 L345.4,242.4 L345.5,242.4 L345.7,242.3 L345.8,242.3 L346.0,242.3 L346.2,242.4 L346.3,242.6 L346.5,242.8 L346.7,242.8 L346.8,242.8 L347.0,242.8 L347.1,242.8 L347.3,243.0 L347.5,243.2 L347.6,243.3 L347.8,243.4 L347.9,243.4 L348.1,243.3 L348.3,243.3 L348.4,243.2 L348.6,243.2 L348.7,243.2 L348.9,243.2 L349.1,243.3 L349.2,243.4 L349.4,243.4 L349.6,243.4 L349.7,243.4 L349.9,243.4 L350.0,243.3 L350.2,243.2 L350.4,243.2 L350.5,243.2 L350.7,243.1 L350.8,243.1 L351.0,243.2 L351.2,243.2 L351.3,243.3 L351.5,243.3 L351.6,243.1 L351.8,243.0 L352.0,243.0 L352.1,243.1 L352.3,243.2 L352.5,243.3 L352.6,243.4 L352.8,243.4 L352.9,243.4 L353.1,243.4 L353.3,243.4 L353.4,243.5 L353.6,243.6 L353.7,243.7 L353.9,243.7 L354.1,243.7 L354.2,243.6 L354.4,243.4 L354.5,243.3 L354.7,243.3 L354.9,243.4 L355.0,243.5 L355.2,243.6 L355.3,243.7 L355.5,243.7 L355.7,243.6 L355.8,243.5 L356.0,243.4 L356.2,243.3 L356.3,243.2 L356.5,243.1 L356.6,243.1 L356.8,243.1 L357.0,243.2 L357.1,243.3 L357.3,243.4 L357.4,243.5 L357.6,243.7 L357.8,243.7 L357.9,243.6 L358.1,243.6 L358.2,243.5 L358.4,243.6 L358.6,243.7 L358.7,243.8 L358.9,243.9 L359.1,243.9 L359.2,243.9 L359.4,243.9 L359.5,243.9 L359.7,243.9 L359.9,243.9 L360.0,243.8 L360.2,243.8 L360.3,243.7 L360.5,243.6 L360.7,243.5 L360.8,243.5 L361.0,243.5 L361.1,243.5 L361.3,243.5 L361.5,243.5 L361.6,243.5 L361.8,243.5 L361.9,243.4 L362.1,243.4 L362.3,243.4 L362.4,243.5 L362.6,243.6 L362.8,243.6 L362.9,243.7 L363.1,243.8 L363.2,243.9 L363.4,243.8 L363.6,243.7 L363.7,243.6 L363.9,243.5 L364.0,243.5 L364.2,243.4 L364.4,243.4 L364.5,243.4 L364.7,243.5 L364.8,243.5 L365.0,243.6 L365.2,243.7 L365.3,243.8 L365.5,243.8 L365.7,243.7 L365.8,243.7 L366.0,243.7 L366.1,243.7 L366.3,243.7 L366.5,243.7 L366.6,243.7 L366.8,243.7 L366.9,243.6 L367.1,243.6 L367.3,243.7 L367.4,243.8 L367.6,243.8 L367.7,243.9 L367.9,243.8 L368.1,243.8 L368.2,243.8 L368.4,243.8 L368.6,243.9 L368.7,244.0 L368.9,244.0 L369.0,243.9 L369.2,243.7 L369.4,243.6 L369.5,243.6 L369.7,243.7 L369.8,243.7 L370.0,243.7 L370.2,243.7 L370.3,243.7 L370.5,243.7 L370.6,243.7 L370.8,243.7 L371.0,243.7 L371.1,243.8 L371.3,243.8 L371.4,243.9 L371.6,244.0 L371.8,244.0 L371.9,244.0 L372.1,243.9 L372.3,243.9 L372.4,243.8 L372.6,243.7 L372.7,243.6 L372.9,243.6 L373.1,243.5 L373.2,243.5 L373.4,243.6 L373.5,243.6 L373.7,243.7 L373.9,243.8 L374.0,243.9 L374.2,244.1 L374.3,244.2 L374.5,244.3 L374.7,244.4 L374.8,244.3 L375.0,244.2 L375.2,244.1 L375.3,244.0 L375.5,244.0 L375.6,244.0 L375.8,244.1 L376.0,244.2 L376.1,244.3 L376.3,244.3 L376.4,244.3 L376.6,244.3 L376.8,244.3 L376.9,244.3 L377.1,244.2 L377.2,244.1 L377.4,244.0 L377.6,243.9 L377.7,244.0 L377.9,244.2 L378.1,244.4 L378.2,244.5 L378.4,244.5 L378.5,244.4 L378.7,244.3 L378.9,244.2 L379.0,244.1 L379.2,244.1 L379.3,244.1 L379.5,244.1 L379.7,244.2 L379.8,244.2 L380.0,244.3 L380.1,244.4 L380.3,244.5 L380.5,244.4 L380.6,244.3 L380.8,244.1 L380.9,244.0 L381.1,244.0 L381.3,244.0 L381.4,244.1 L381.6,244.2 L381.8,244.3 L381.9,244.3 L382.1,244.2 L382.2,244.2 L382.4,244.2 L382.6,244.2 L382.7,244.2 L382.9,244.1 L383.0,244.1 L383.2,244.1 L383.4,244.1 L383.5,244.1 L383.7,244.1 L383.8,244.0 L384.0,243.9 L384.2,243.8 L384.3,243.9 L384.5,244.0 L384.7,244.2 L384.8,244.3 L385.0,244.4 L385.1,244.4 L385.3,244.4 L385.5,244.5 L385.6,244.5 L385.8,244.5 L385.9,244.5 L386.1,244.5 L386.3,244.4 L386.4,244.4 L386.6,244.4 L386.7,244.4 L386.9,244.4 L387.1,244.3 L387.2,244.1 L387.4,244.1 L387.5,244.1 L387.7,244.2 L387.9,244.2 L388.0,244.2 L388.2,244.1 L388.4,244.0 L388.5,244.0 L388.7,244.0 L388.8,244.0 L389.0,244.0 L389.2,244.1 L389.3,244.2 L389.5,244.3 L389.6,244.4 L389.8,244.5 L390.0,244.6 L390.1,244.7 L390.3,244.7 L390.4,244.6 L390.6,244.4 L390.8,244.2 L390.9,244.1 L391.1,244.1 L391.3,244.1 L391.4,244.3 L391.6,244.4 L391.7,244.6 L391.9,244.6 L392.1,244.7 L392.2,244.7 L392.4,244.7 L392.5,244.6 L392.7,244.5 L392.9,244.5 L393.0,244.4 L393.2,244.4 L393.3,244.5 L393.5,244.5 L393.7,244.6 L393.8,244.6 L394.0,244.5 L394.2,244.4 L394.3,244.4 L394.5,244.5 L394.6,244.6 L394.8,244.7 L395.0,244.7 L395.1,244.7 L395.3,244.6 L395.4,244.6 L395.6,244.6 L395.8,244.5 L395.9,244.5 L396.1,244.4 L396.2,244.4 L396.4,244.4 L396.6,244.5 L396.7,244.5 L396.9,244.6 L397.0,244.7 L397.2,244.7 L397.4,244.8 L397.5,244.8 L397.7,244.8 L397.9,244.8 L398.0,244.9 L398.2,245.1 L398.3,245.2 L398.5,245.1 L398.7,245.0 L398.8,244.8 L399.0,244.7 L399.1,244.6 L399.3,244.7 L399.5,244.8 L399.6,244.8 L399.8,244.8 L399.9,244.8 L400.1,244.8 L400.3,244.7 L400.4,244.6 L400.6,244.6 L400.8,244.6 L400.9,244.6 L401.1,244.6 L401.2,244.6 L401.4,244.6 L401.6,244.7 L401.7,244.7 L401.9,244.7 L402.0,244.7 L402.2,244.6 L402.4,244.5 L402.5,244.5 L402.7,244.4 L402.8,244.4 L403.0,244.4 L403.2,244.4 L403.3,244.5 L403.5,244.7 L403.6,244.9 L403.8,245.0 L404.0,245.0 L404.1,245.0 L404.3,245.0 L404.5,245.1 L404.6,245.1 L404.8,245.2 L404.9,245.1 L405.1,244.9 L405.3,244.7 L405.4,244.5 L405.6,244.5 L405.7,244.7 L405.9,244.9 L406.1,245.2 L406.2,245.3 L406.4,245.2 L406.5,245.1 L406.7,244.9 L406.9,244.7 L407.0,244.7 L407.2,244.7 L407.4,244.7 L407.5,244.8 L407.7,244.9 L407.8,244.9 L408.0,244.9 L408.2,244.8 L408.3,244.8 L408.5,244.8 L408.6,244.9 L408.8,245.0 L409.0,245.0 L409.1,245.0 L409.3,244.9 L409.4,244.9 L409.6,244.9 L409.8,244.9 L409.9,244.9 L410.1,245.0 L410.3,245.0 L410.4,245.0 L410.6,245.0 L410.7,245.0 L410.9,245.1 L411.1,245.1 L411.2,245.2 L411.4,245.2 L411.5,245.2 L411.7,245.2 L411.9,245.2 L412.0,245.3 L412.2,245.4 L412.3,245.4 L412.5,245.4 L412.7,245.3 L412.8,245.2 L413.0,245.2 L413.1,245.1 L413.3,245.1 L413.5,245.2 L413.6,245.2 L413.8,245.2 L414.0,245.2 L414.1,245.2 L414.3,245.2 L414.4,245.3 L414.6,245.3 L414.8,245.2 L414.9,245.2 L415.1,245.1 L415.2,245.0 L415.4,244.9 L415.6,245.0 L415.7,245.2 L415.9,245.3 L416.0,245.4 L416.2,245.4 L416.4,245.3 L416.5,245.3 L416.7,245.3 L416.9,245.3 L417.0,245.4 L417.2,245.4 L417.3,245.4 L417.5,245.4 L417.7,245.4 L417.8,245.2 L418.0,245.1 L418.1,244.9 L418.3,244.9 L418.5,244.8 L418.6,244.8 L418.8,244.8 L418.9,244.8 L419.1,244.9 L419.3,245.0 L419.4,245.2 L419.6,245.3 L419.7,245.4 L419.9,245.5 L420.1,245.7 L420.2,245.8 L420.4,245.9 L420.6,245.8 L420.7,245.7 L420.9,245.6 L421.0,245.5 L421.2,245.3 L421.4,245.2 L421.5,245.1 L421.7,245.0 L421.8,245.1 L422.0,245.1 L422.2,245.2 L422.3,245.2 L422.5,245.3 L422.6,245.4 L422.8,245.5 L423.0,245.7 L423.1,245.7 L423.3,245.8 L423.5,245.8 L423.6,245.8 L423.8,245.7 L423.9,245.7 L424.1,245.7 L424.3,245.7 L424.4,245.8 L424.6,245.8 L424.7,245.8 L424.9,245.7 L425.1,245.6 L425.2,245.5 L425.4,245.5 L425.5,245.5 L425.7,245.5 L425.9,245.4 L426.0,245.4 L426.2,245.4 L426.3,245.4 L426.5,245.4 L426.7,245.4 L426.8,245.3 L427.0,245.3 L427.2,245.3 L427.3,245.3 L427.5,245.3 L427.6,245.4 L427.8,245.5 L428.0,245.6 L428.1,245.7 L428.3,245.7 L428.4,245.8 L428.6,245.8 L428.8,245.7 L428.9,245.7 L429.1,245.6 L429.2,245.6 L429.4,245.7 L429.6,245.7 L429.7,245.7 L429.9,245.8 L430.1,245.9 L430.2,246.0 L430.4,246.1 L430.5,246.1 L430.7,246.0 L430.9,246.0 L431.0,245.9 L431.2,245.8 L431.3,245.7 L431.5,245.6 L431.7,245.5 L431.8,245.5 L432.0,245.5 L432.1,245.5 L432.3,245.6 L432.5,245.7 L432.6,245.7 L432.8,245.8 L433.0,245.9 L433.1,245.9 L433.3,245.9 L433.4,245.9 L433.6,246.0 L433.8,246.1 L433.9,246.2 L434.1,246.2 L434.2,246.2 L434.4,246.0 L434.6,245.9 L434.7,245.8 L434.9,245.8 L435.0,245.8 L435.2,245.9 L435.4,245.9 L435.5,246.0 L435.7,245.9 L435.8,245.9 L436.0,245.9 L436.2,246.0 L436.3,246.1 L436.5,246.1 L436.7,246.1 L436.8,246.0 L437.0,246.0 L437.1,245.9 L437.3,245.9 L437.5,245.9 L437.6,245.9 L437.8,245.9 L437.9,246.0 L438.1,246.1 L438.3,246.1 L438.4,246.1 L438.6,246.0 L438.7,245.9 L438.9,245.8 L439.1,245.7 L439.2,245.7 L439.4,245.7 L439.6,245.7 L439.7,245.7 L439.9,245.7 L440.0,245.7 L440.2,245.8 L440.4,245.9 L440.5,246.0 L440.7,246.1 L440.8,246.2 L441.0,246.3 L441.2,246.3 L441.3,246.1 L441.5,246.0 L441.6,245.8 L441.8,245.8 L442.0,245.8 L442.1,245.9 L442.3,246.0 L442.4,246.1 L442.6,246.1 L442.8,246.2 L442.9,246.2 L443.1,246.2 L443.3,246.3 L443.4,246.3 L443.6,246.4 L443.7,246.4 L443.9,246.4 L444.1,246.4 L444.2,246.4 L444.4,246.3 L444.5,246.2 L444.7,246.2 L444.9,246.2 L445.0,246.2 L445.2,246.2 L445.3,246.2 L445.5,246.2 L445.7,246.2 L445.8,246.2 L446.0,246.2 L446.2,246.1 L446.3,246.0 L446.5,246.0 L446.6,246.1 L446.8,246.1 L447.0,246.1 L447.1,246.2 L447.3,246.2 L447.4,246.3 L447.6,246.3 L447.8,246.3 L447.9,246.3 L448.1,246.3 L448.2,246.3 L448.4,246.3 L448.6,246.3 L448.7,246.2 L448.9,246.2 L449.1,246.2 L449.2,246.2 L449.4,246.3 L449.5,246.2 L449.7,246.1 L449.9,246.0 L450.0,245.9 L450.2,246.0 L450.3,246.0 L450.5,246.1 L450.7,246.1 L450.8,246.1 L451.0,245.9 L451.1,245.8 L451.3,245.8 L451.5,245.8 L451.6,245.8 L451.8,245.9 L451.9,246.0 L452.1,246.1 L452.3,246.0 L452.4,246.0 L452.6,245.9 L452.8,245.9 L452.9,245.9 L453.1,246.0 L453.2,245.9 L453.4,245.9 L453.6,245.9 L453.7,245.8 L453.9,245.8 L454.0,245.9 L454.2,245.9 L454.4,245.9 L454.5,246.0 L454.7,245.9 L454.8,245.9 L455.0,245.9 L455.2,245.9 L455.3,245.9 L455.5,246.0 L455.7,246.1 L455.8,246.2 L456.0,246.3 L456.1,246.3 L456.3,246.2 L456.5,246.1 L456.6,245.9 L456.8,245.7 L456.9,245.7 L457.1,245.7 L457.3,245.9 L457.4,246.2 L457.6,246.3 L457.7,246.4 L457.9,246.5 L458.1,246.5 L458.2,246.5 L458.4,246.5 L458.6,246.5 L458.7,246.5 L458.9,246.4 L459.0,246.2 L459.2,246.1 L459.4,246.0 L459.5,245.9 L459.7,245.9 L459.8,245.9 L460.0,245.9 L460.2,245.9 L460.3,245.9 L460.5,246.1 L460.6,246.2 L460.8,246.3 L461.0,246.3 L461.1,246.3 L461.3,246.2 L461.4,246.1 L461.6,246.1 L461.8,246.1 L461.9,246.2 L462.1,246.2 L462.3,246.2 L462.4,246.2 L462.6,246.1 L462.7,246.0 L462.9,246.0 L463.1,245.9 L463.2,246.0 L463.4,246.1 L463.5,246.2 L463.7,246.3 L463.9,246.3 L464.0,246.2 L464.2,246.2 L464.3,246.1 L464.5,246.1 L464.7,246.1 L464.8,246.1 L465.0,246.1 L465.2,246.1 L465.3,246.0 L465.5,246.1 L465.6,246.1 L465.8,246.3 L466.0,246.4 L466.1,246.5 L466.3,246.4 L466.4,246.4 L466.6,246.3 L466.8,246.2 L466.9,246.1 L467.1,246.1 L467.2,246.0 L467.4,246.0 L467.6,246.0 L467.7,246.0 L467.9,246.1 L468.0,246.3 L468.2,246.4 L468.4,246.4 L468.5,246.3 L468.7,246.2 L468.9,246.1 L469.0,246.0 L469.2,246.1 L469.3,246.2 L469.5,246.4 L469.7,246.5 L469.8,246.5 L470.0,246.5 L470.1,246.4 L470.3,246.4 L470.5,246.4 L470.6,246.3 L470.8,246.3 L470.9,246.2 L471.1,246.2 L471.3,246.1 L471.4,246.1 L471.6,246.0 L471.8,246.0 L471.9,245.8 L472.1,245.7 L472.2,245.7 L472.4,245.6 L472.6,245.7 L472.7,245.7 L472.9,245.8 L473.0,245.8 L473.2,245.9 L473.4,246.0 L473.5,246.0 L473.7,246.0 L473.8,246.0 L474.0,246.0 L474.2,246.0 L474.3,246.0 L474.5,245.9 L474.7,245.9 L474.8,245.8 L475.0,245.8 L475.1,245.8 L475.3,245.8 L475.5,245.9 L475.6,246.0 L475.8,246.1 L475.9,246.2 L476.1,246.2 L476.3,246.2 L476.4,246.1 L476.6,246.0 L476.7,246.0 L476.9,245.9 L477.1,245.8 L477.2,245.9 L477.4,245.9 L477.5,246.0 L477.7,246.0 L477.9,246.0 L478.0,246.0 L478.2,246.0 L478.4,246.1 L478.5,246.3 L478.7,246.5 L478.8,246.5 L479.0,246.4 L479.2,246.3 L479.3,246.2 L479.5,246.1 L479.6,246.1 L479.8,246.1 L480.0,246.1 L480.1,246.0 L480.3,245.9 L480.4,245.8 L480.6,245.9 L480.8,246.1 L480.9,246.2 L481.1,246.3 L481.3,246.4 L481.4,246.3 L481.6,246.3 L481.7,246.2 L481.9,246.3 L482.1,246.3 L482.2,246.3 L482.4,246.3 L482.5,246.2 L482.7,246.1 L482.9,246.0 L483.0,246.0 L483.2,246.0 L483.3,246.1 L483.5,246.2 L483.7,246.2 L483.8,246.2 L484.0,246.1 L484.1,245.9 L484.3,245.9 L484.5,246.0 L484.6,246.0 L484.8,246.1 L485.0,246.1 L485.1,246.0 L485.3,246.0 L485.4,246.0 L485.6,246.0 L485.8,246.0 L485.9,246.0 L486.1,245.9 L486.2,245.9 L486.4,245.8 L486.6,245.8 L486.7,245.8 L486.9,245.9 L487.0,246.0 L487.2,246.1 L487.4,246.3 L487.5,246.4 L487.7,246.4 L487.9,246.4 L488.0,246.4 L488.2,246.4 L488.3,246.3 L488.5,246.3 L488.7,246.2 L488.8,246.0 L489.0,245.9 L489.1,245.8 L489.3,245.8 L489.5,245.9 L489.6,246.0 L489.8,246.1 L489.9,246.1 L490.1,246.1 L490.3,246.2 L490.4,246.2 L490.6,246.2 L490.8,246.2 L490.9,246.2 L491.1,246.3 L491.2,246.3 L491.4,246.4 L491.6,246.4 L491.7,246.4 L491.9,246.4 L492.0,246.4 L492.2,246.3 L492.4,246.3 L492.5,246.2 L492.7,246.1 L492.8,246.0 L493.0,245.9 L493.2,246.0 L493.3,246.0 L493.5,246.1 L493.6,246.2 L493.8,246.3 L494.0,246.3 L494.1,246.3 L494.3,246.3 L494.5,246.3 L494.6,246.3 L494.8,246.3 L494.9,246.3 L495.1,246.3 L495.3,246.3 L495.4,246.4 L495.6,246.4 L495.7,246.4 L495.9,246.4 L496.1,246.4 L496.2,246.3 L496.4,246.2 L496.5,246.2 L496.7,246.2 L496.9,246.2 L497.0,246.2 L497.2,246.3 L497.4,246.3 L497.5,246.2 L497.7,246.1 L497.8,245.9 L498.0,245.9 L498.2,245.9 L498.3,246.0 L498.5,246.0 L498.6,246.1 L498.8,246.1 L499.0,246.1 L499.1,246.1 L499.3,246.2 L499.4,246.2 L499.6,246.2 L499.8,246.2 L499.9,246.2 L500.1,246.2 L500.2,246.3 L500.4,246.4 L500.6,246.5 L500.7,246.6 L500.9,246.6 L501.1,246.6 L501.2,246.5 L501.4,246.5 L501.5,246.4 L501.7,246.5 L501.9,246.5 L502.0,246.6 L502.2,246.6 L502.3,246.5 L502.5,246.4 L502.7,246.3 L502.8,246.1 L503.0,246.1 L503.1,246.1 L503.3,246.1 L503.5,246.2 L503.6,246.2 L503.8,246.2 L504.0,246.2 L504.1,246.2 L504.3,246.2 L504.4,246.2 L504.6,246.3 L504.8,246.4 L504.9,246.4 L505.1,246.4 L505.2,246.5 L505.4,246.5 L505.6,246.6 L505.7,246.7 L505.9,246.8 L506.0,247.0 L506.2,247.0 L506.4,246.9 L506.5,246.8 L506.7,246.6 L506.8,246.6 L507.0,246.6 L507.2,246.6 L507.3,246.7 L507.5,246.8 L507.7,246.8 L507.8,246.8 L508.0,246.8 L508.1,246.8 L508.3,246.7 L508.5,246.7 L508.6,246.6 L508.8,246.6 L508.9,246.6 L509.1,246.6 L509.3,246.6 L509.4,246.6 L509.6,246.6 L509.7,246.6 L509.9,246.6 L510.1,246.7 L510.2,246.7 L510.4,246.7 L510.6,246.6 L510.7,246.5 L510.9,246.4 L511.0,246.4 L511.2,246.4 L511.4,246.5 L511.5,246.6 L511.7,246.7 L511.8,246.8 L512.0,246.8 L512.2,246.8 L512.3,246.8 L512.5,246.8 L512.6,246.7 L512.8,246.7 L513.0,246.7 L513.1,246.6 L513.3,246.5 L513.5,246.4 L513.6,246.4 L513.8,246.4 L513.9,246.4 L514.1,246.5 L514.3,246.5 L514.4,246.6 L514.6,246.6 L514.7,246.6 L514.9,246.6 L515.1,246.6 L515.2,246.7 L515.4,246.8 L515.5,246.8 L515.7,246.8 L515.9,246.8 L516.0,246.8 L516.2,246.8 L516.3,246.7 L516.5,246.7 L516.7,246.7 L516.8,246.7 L517.0,246.7 L517.2,246.7 L517.3,246.7 L517.5,246.7 L517.6,246.7 L517.8,246.7 L518.0,246.7 L518.1,246.8 L518.3,246.8 L518.4,246.9 L518.6,246.9 L518.8,246.8 L518.9,246.8 L519.1,246.6 L519.2,246.5 L519.4,246.5 L519.6,246.5 L519.7,246.5 L519.9,246.5 L520.1,246.5 L520.2,246.5 L520.4,246.5 L520.5,246.6 L520.7,246.6 L520.9,246.6 L521.0,246.7 L521.2,246.8 L521.3,246.9 L521.5,247.0 L521.7,247.0 L521.8,247.0 L522.0,247.0 L522.1,246.9 L522.3,246.8 L522.5,246.6 L522.6,246.5 L522.8,246.4 L522.9,246.3 L523.1,246.4 L523.3,246.5 L523.4,246.8 L523.6,247.0 L523.8,247.1 L523.9,247.0 L524.1,246.9 L524.2,246.8 L524.4,246.8 L524.6,246.8 L524.7,246.9 L524.9,247.0 L525.0,247.1 L525.2,247.1 L525.4,247.0 L525.5,247.0 L525.7,246.9 L525.8,246.9 L526.0,246.8 L526.2,246.7 L526.3,246.7 L526.5,246.7 L526.7,246.8 L526.8,247.0 L527.0,247.0 L527.1,247.0 L527.3,247.0 L527.5,246.9 L527.6,246.9 L527.8,247.0 L527.9,247.0 L528.1,247.0 L528.3,247.0 L528.4,246.9 L528.6,246.9 L528.7,247.0 L528.9,247.0 L529.1,247.1 L529.2,247.1 L529.4,247.0 L529.6,247.0 L529.7,247.1 L529.9,247.3 L530.0,247.6 L530.2,248.2 L530.4,248.9 L530.5,249.7 L530.7,250.2 L530.8,250.2 L531.0,249.7 L531.2,248.9 L531.3,248.2 L531.5,247.7 L531.6,247.3 L531.8,247.1 L532.0,246.9 L532.1,246.8 L532.3,246.7 L532.4,246.7 L532.6,246.7 L532.8,246.8 L532.9,246.8 L533.1,246.8 L533.3,246.8 L533.4,246.8 L533.6,246.9 L533.7,247.0 L533.9,247.1 L534.1,247.0 L534.2,246.9 L534.4,246.7 L534.5,246.6 L534.7,246.6 L534.9,246.6 L535.0,246.7 L535.2,246.8 L535.3,247.2 L535.5,247.7 L535.7,248.4 L535.8,249.4 L536.0,250.6 L536.2,251.6 L536.3,252.3 L536.5,252.4 L536.6,251.9 L536.8,250.8 L537.0,249.7 L537.1,248.5 L537.3,247.7 L537.4,247.1 L537.6,246.8 L537.8,246.7 L537.9,246.8 L538.1,246.9 L538.2,247.0 L538.4,247.0 L538.6,246.9 L538.7,246.8 L538.9,246.6 L539.0,246.6 L539.2,246.5 L539.4,246.6 L539.5,246.6 L539.7,246.6 L539.9,246.6 L540.0,246.6 L540.2,246.6 L540.3,246.6 L540.5,246.6 L540.7,246.7 L540.8,246.8 L541.0,246.9 L541.1,246.9 L541.3,246.8 L541.5,246.6 L541.6,246.5 L541.8,246.4 L541.9,246.4 L542.1,246.4 L542.3,246.5 L542.4,246.5 L542.6,246.6 L542.8,246.6 L542.9,246.5 L543.1,246.5 L543.2,246.5 L543.4,246.4 L543.6,246.4 L543.7,246.4 L543.9,246.4 L544.0,246.5 L544.2,246.5 L544.4,246.6 L544.5,246.8 L544.7,246.9 L544.8,247.0 L545.0,247.0 L545.2,247.0 L545.3,247.0 L545.5,246.9 L545.7,246.9 L545.8,246.8 L546.0,246.8 L546.1,246.8 L546.3,246.9 L546.5,246.9 L546.6,246.9 L546.8,246.9 L546.9,246.8 L547.1,246.7 L547.3,246.7 L547.4,246.8 L547.6,246.9 L547.7,247.0 L547.9,247.0 L548.1,247.0 L548.2,247.0 L548.4,246.9 L548.5,246.8 L548.7,246.8 L548.9,246.9 L549.0,246.9 L549.2,246.9 L549.4,246.8 L549.5,246.7 L549.7,246.6 L549.8,246.5 L550.0,246.5 L550.2,246.5 L550.3,246.5 L550.5,246.6 L550.6,246.8 L550.8,247.1 L551.0,247.6 L551.1,248.3 L551.3,249.2 L551.4,250.2 L551.6,251.1 L551.8,251.7 L551.9,251.7 L552.1,251.1 L552.3,250.1 L552.4,249.0 L552.6,248.0 L552.7,247.4 L552.9,247.0 L553.1,246.9 L553.2,246.8 L553.4,246.7 L553.5,246.6 L553.7,246.6 L553.9,246.6 L554.0,246.6 L554.2,246.6 L554.3,246.6 L554.5,246.6 L554.7,246.7 L554.8,246.8 L555.0,246.9 L555.1,246.9 L555.3,246.9 L555.5,246.7 L555.6,246.6 L555.8,246.6 L556.0,246.6 L556.1,246.6 L556.3,246.6 L556.4,246.6 L556.6,246.6 L556.8,246.6 L556.9,246.7 L557.1,246.8 L557.2,246.9 L557.4,247.0 L557.6,246.9 L557.7,246.8 L557.9,246.8 L558.0,246.7 L558.2,246.7 L558.4,246.7 L558.5,246.7 L558.7,246.8 L558.9,246.8 L559.0,246.7 L559.2,246.7 L559.3,246.6 L559.5,246.6 L559.7,246.6 L559.8,246.7 L560.0,246.7 L560.1,246.6 L560.3,246.6 L560.5,246.6 L560.6,246.6 L560.8,246.6 L560.9,246.6 L561.1,246.5 L561.3,246.5 L561.4,246.5 L561.6,246.5 L561.8,246.5 L561.9,246.6 L562.1,246.6 L562.2,246.7 L562.4,246.8 L562.6,246.8 L562.7,246.7 L562.9,246.7 L563.0,246.6 L563.2,246.6 L563.4,246.5 L563.5,246.5 L563.7,246.4 L563.8,246.3 L564.0,246.3 L564.2,246.3 L564.3,246.3 L564.5,246.3 L564.6,246.3 L564.8,246.3 L565.0,246.4 L565.1,246.4 L565.3,246.3 L565.5,246.3 L565.6,246.2 L565.8,246.2 L565.9,246.2 L566.1,246.2 L566.3,246.3 L566.4,246.3 L566.6,246.3 L566.7,246.3 L566.9,246.2 L567.1,246.1 L567.2,246.0 L567.4,246.0 L567.5,246.1 L567.7,246.2 L567.9,246.3 L568.0,246.3 L568.2,246.3 L568.4,246.3 L568.5,246.2 L568.7,246.1 L568.8,246.0 L569.0,245.9 L569.2,245.9 L569.3,246.0 L569.5,246.0 L569.6,246.0 L569.8,246.0 L570.0,246.1 L570.1,246.1 L570.3,246.2 L570.4,246.2 L570.6,246.2 L570.8,246.1 L570.9,246.0 L571.1,246.0 L571.2,245.9 L571.4,245.9 L571.6,246.0 L571.7,246.0 L571.9,246.0 L572.1,246.0 L572.2,246.0 L572.4,246.1 L572.5,246.1 L572.7,246.2 L572.9,246.2 L573.0,246.3 L573.2,246.3 L573.3,246.3 L573.5,246.3 L573.7,246.3 L573.8,246.2 L574.0,246.2 L574.1,246.2 L574.3,246.2 L574.5,246.2 L574.6,246.1 L574.8,246.0 L575.0,245.9 L575.1,245.9 L575.3,245.9 L575.4,245.9 L575.6,245.8 L575.8,245.7 L575.9,245.7 L576.1,245.7 L576.2,245.8 L576.4,245.9 L576.6,245.9 L576.7,245.9 L576.9,246.0 L577.0,246.0 L577.2,245.9 L577.4,245.9 L577.5,245.9 L577.7,245.9 L577.9,245.9 L578.0,245.9 L578.2,245.9 L578.3,245.8 L578.5,245.8 L578.7,245.8 L578.8,245.8 L579.0,245.8 L579.1,245.7 L579.3,245.7 L579.5,245.7 L579.6,245.7 L579.8,245.7 L579.9,245.6 L580.1,245.6 L580.3,245.6 L580.4,245.6 L580.6,245.6 L580.7,245.6 L580.9,245.7 L581.1,245.7 L581.2,245.8 L581.4,245.8 L581.6,245.8 L581.7,245.8 L581.9,245.8 L582.0,245.8 L582.2,245.8 L582.4,245.8 L582.5,245.8 L582.7,245.8 L582.8,245.8 L583.0,245.8 L583.2,245.7 L583.3,245.6 L583.5,245.6 L583.6,245.5 L583.8,245.5 L584.0,245.5 L584.1,245.4 L584.3,245.4 L584.5,245.3 L584.6,245.3 L584.8,245.4 L584.9,245.4 L585.1,245.5 L585.3,245.6 L585.4,245.7 L585.6,245.8 L585.7,245.9 L585.9,245.9 L586.1,245.8 L586.2,245.7 L586.4,245.7 L586.5,245.7 L586.7,245.7 L586.9,245.7 L587.0,245.7 L587.2,245.8 L587.3,245.9 L587.5,246.1 L587.7,246.1 L587.8,246.1 L588.0,246.0 L588.2,245.9 L588.3,245.7 L588.5,245.7 L588.6,245.6 L588.8,245.7 L589.0,245.7 L589.1,245.7 L589.3,245.7 L589.4,245.7 L589.6,245.7 L589.8,245.7 L589.9,245.7 L590.1,245.6 L590.2,245.6 L590.4,245.6 L590.6,245.7 L590.7,245.9 L590.9,246.0 L591.1,246.0 L591.2,246.0 L591.4,246.0 L591.5,245.9 L591.7,245.9 L591.9,245.8 L592.0,245.9 L592.2,245.9 L592.3,245.8 L592.5,245.8 L592.7,245.7 L592.8,245.6 L593.0,245.6 L593.1,245.6 L593.3,245.7 L593.5,245.8 L593.6,245.8 L593.8,245.8 L594.0,245.7 L594.1,245.6 L594.3,245.6 L594.4,245.7 L594.6,245.8 L594.8,245.9 L594.9,245.8 L595.1,245.8 L595.2,245.7 L595.4,245.7 L595.6,245.8 L595.7,245.8 L595.9,245.8 L596.0,245.8 L596.2,245.8 L596.4,245.7 L596.5,245.8 L596.7,245.8 L596.8,245.9 L597.0,246.0 L597.2,246.0 L597.3,245.9 L597.5,245.8 L597.7,245.8 L597.8,245.8 L598.0,245.8 L598.1,245.8 L598.3,245.8 L598.5,245.9 L598.6,245.9 L598.8,245.9 L598.9,245.9 L599.1,245.9 L599.3,245.7 L599.4,245.6 L599.6,245.6 L599.7,245.6 L599.9,245.7 L600.1,245.7 L600.2,245.8 L600.4,245.7 L600.6,245.6 L600.7,245.5 L600.9,245.5 L601.0,245.5 L601.2,245.6 L601.4,245.6 L601.5,245.6 L601.7,245.6 L601.8,245.6 L602.0,245.6 L602.2,245.7 L602.3,245.8 L602.5,245.8 L602.6,245.9 L602.8,245.8 L603.0,245.8 L603.1,245.7 L603.3,245.7 L603.4,245.7 L603.6,245.7 L603.8,245.7 L603.9,245.6 L604.1,245.6 L604.3,245.5 L604.4,245.5 L604.6,245.5 L604.7,245.5 L604.9,245.5 L605.1,245.6 L605.2,245.6 L605.4,245.7 L605.5,245.6 L605.7,245.7 L605.9,245.7 L606.0,245.8 L606.2,245.8 L606.3,245.9 L606.5,246.0 L606.7,246.0 L606.8,246.0 L607.0,246.0 L607.2,246.0 L607.3,246.0 L607.5,245.9 L607.6,245.9 L607.8,246.0 L608.0,246.0 L608.1,246.0 L608.3,246.0 L608.4,246.1 L608.6,246.1 L608.8,246.0 L608.9,245.9 L609.1,245.8 L609.2,245.8 L609.4,245.7 L609.6,245.6 L609.7,245.5 L609.9,245.5 L610.1,245.6 L610.2,245.7 L610.4,245.8 L610.5,245.8 L610.7,245.8 L610.9,245.8 L611.0,245.8 L611.2,245.8 L611.3,245.7 L611.5,245.7 L611.7,245.7 L611.8,245.7 L612.0,245.7 L612.1,245.6 L612.3,245.5 L612.5,245.5 L612.6,245.5 L612.8,245.6 L612.9,245.7 L613.1,245.8 L613.3,245.9 L613.4,245.9 L613.6,245.9 L613.8,245.9 L613.9,245.9 L614.1,245.8 L614.2,245.7 L614.4,245.7 L614.6,245.7 L614.7,245.7 L614.9,245.6 L615.0,245.6 L615.2,245.6 L615.4,245.6 L615.5,245.6 L615.7,245.6 L615.8,245.6 L616.0,245.6 L616.2,245.6 L616.3,245.6 L616.5,245.7 L616.7,245.7 L616.8,245.7 L617.0,245.6 L617.1,245.4 L617.3,245.3 L617.5,245.4 L617.6,245.5 L617.8,245.7 L617.9,245.8 L618.1,245.9 L618.3,246.0 L618.4,246.0 L618.6,246.0 L618.7,245.8 L618.9,245.7 L619.1,245.6 L619.2,245.6 L619.4,245.7 L619.5,245.8 L619.7,245.9 L619.9,246.0 L620.0,245.9 L620.2,245.8 L620.4,245.8 L620.5,245.7 L620.7,245.7 L620.8,245.7 L621.0,245.7 L621.2,245.7 L621.3,245.8 L621.5,245.8 L621.6,245.8 L621.8,245.8 L622.0,245.8 L622.1,245.8 L622.3,245.8 L622.4,245.7 L622.6,245.6 L622.8,245.5 L622.9,245.5 L623.1,245.4 L623.3,245.5 L623.4,245.6 L623.6,245.7 L623.7,245.6 L623.9,245.5 L624.1,245.4 L624.2,245.3 L624.4,245.3 L624.5,245.4 L624.7,245.5 L624.9,245.6 L625.0,245.7 L625.2,245.8 L625.3,245.8 L625.5,245.9 L625.7,245.9 L625.8,245.9 L626.0,245.9 L626.2,245.9 L626.3,245.9 L626.5,245.9 L626.6,245.9 L626.8,245.9 L627.0,245.9 L627.1,245.9 L627.3,246.0 L627.4,246.0 L627.6,246.0 L627.8,246.0 L627.9,245.9 L628.1,245.9 L628.2,245.9 L628.4,245.9 L628.6,245.9 L628.7,245.9 L628.9,245.8 L629.0,245.8 L629.2,245.8 L629.4,245.8 L629.5,245.9 L629.7,246.0 L629.9,246.0 L630.0,246.0 L630.2,245.9 L630.3,245.8 L630.5,245.9 L630.7,246.0 L630.8,246.1 L631.0,246.1 L631.1,246.1 L631.3,246.0 L631.5,245.9 L631.6,245.8 L631.8,245.7 L631.9,245.7 L632.1,245.6 L632.3,245.7" stroke="#ffa500" stroke-width="1.1"/>
<path d="M42.4,240.8 L42.5,240.4 L42.7,240.2 L42.8,239.7 L43.0,240.1 L43.2,240.1 L43.3,240.3 L43.5,240.0 L43.7,240.6 L43.8,241.2 L44.0,240.9 L44.1,241.9 L44.3,242.2 L44.5,242.7 L44.6,242.6 L44.8,242.5 L44.9,242.5 L45.1,241.8 L45.3,241.8 L45.4,240.8 L45.6,241.5 L45.7,241.4 L45.9,241.9 L46.1,242.4 L46.2,241.1 L46.4,241.6 L46.6,241.6 L46.7,241.4 L46.9,240.8 L47.0,240.4 L47.2,240.8 L47.4,239.7 L47.5,240.3 L47.7,240.3 L47.8,239.7 L48.0,240.1 L48.2,240.6 L48.3,241.1 L48.5,240.2 L48.6,239.9 L48.8,240.0 L49.0,240.2 L49.1,239.8 L49.3,239.7 L49.4,239.1 L49.6,239.1 L49.8,239.3 L49.9,240.0 L50.1,239.7 L50.3,239.4 L50.4,239.5 L50.6,239.2 L50.7,238.4 L50.9,239.2 L51.1,239.4 L51.2,240.3 L51.4,240.6 L51.5,241.5 L51.7,241.0 L51.9,240.4 L52.0,239.7 L52.2,239.7 L52.3,240.0 L52.5,240.6 L52.7,241.3 L52.8,241.4 L53.0,241.1 L53.2,241.2 L53.3,240.0 L53.5,240.1 L53.6,240.3 L53.8,240.1 L54.0,240.4 L54.1,240.3 L54.3,239.5 L54.4,240.0 L54.6,240.0 L54.8,240.0 L54.9,240.2 L55.1,241.0 L55.2,240.3 L55.4,240.4 L55.6,240.1 L55.7,239.5 L55.9,239.9 L56.1,239.7 L56.2,239.5 L56.4,239.4 L56.5,239.9 L56.7,240.2 L56.9,240.4 L57.0,241.0 L57.2,241.9 L57.3,242.3 L57.5,242.9 L57.7,242.4 L57.8,241.5 L58.0,240.9 L58.1,240.6 L58.3,239.9 L58.5,240.7 L58.6,241.1 L58.8,240.5 L58.9,240.0 L59.1,240.6 L59.3,240.4 L59.4,241.2 L59.6,241.5 L59.8,241.9 L59.9,241.9 L60.1,241.3 L60.2,242.3 L60.4,241.2 L60.6,242.0 L60.7,242.0 L60.9,242.2 L61.0,243.0 L61.2,244.0 L61.4,245.2 L61.5,244.9 L61.7,245.4 L61.8,244.1 L61.8,244.8 L61.9,244.4 L62.0,244.5 L62.0,244.0 L62.0,244.1 L62.1,243.1 L62.2,243.3 L62.2,242.8 L62.3,243.1 L62.3,243.3 L62.4,243.0 L62.4,244.1 L62.5,244.5 L62.6,243.7 L62.6,244.4 L62.7,244.4 L62.7,244.1 L62.7,244.5 L62.8,243.5 L63.0,243.4 L63.1,242.1 L63.3,241.9 L63.5,242.6 L63.6,242.7 L63.8,243.0 L63.9,242.6 L64.1,242.2 L64.3,243.1 L64.4,242.2 L64.6,242.8 L64.7,242.3 L64.9,242.3 L65.1,240.8 L65.2,241.3 L65.4,241.2 L65.5,241.6 L65.7,241.3 L65.9,242.7 L66.0,242.2 L66.2,241.3 L66.4,241.8 L66.5,241.4 L66.7,241.0 L66.8,241.5 L67.0,241.4 L67.2,241.2 L67.3,241.7 L67.5,241.6 L67.6,241.6 L67.8,241.0 L68.0,240.8 L68.1,240.3 L68.3,240.6 L68.4,240.9 L68.6,241.6 L68.8,240.4 L68.9,240.2 L69.1,240.4 L69.3,240.5 L69.4,240.0 L69.6,239.4 L69.7,240.4 L69.9,240.4 L70.1,240.2 L70.2,239.5 L70.4,239.6 L70.5,239.3 L70.7,239.2 L70.9,238.3 L71.0,238.5 L71.2,239.0 L71.3,239.7 L71.5,239.6 L71.7,239.1 L71.8,239.3 L72.0,238.3 L72.2,238.2 L72.3,238.4 L72.5,238.9 L72.6,239.9 L72.8,241.0 L73.0,241.1 L73.1,240.2 L73.3,241.5 L73.4,241.5 L73.6,241.3 L73.8,241.7 L73.9,241.7 L74.1,241.6 L74.2,240.9 L74.4,240.9 L74.6,241.1 L74.7,241.8 L74.9,241.6 L75.0,242.2 L75.2,241.4 L75.4,241.3 L75.5,240.7 L75.7,240.6 L75.9,240.8 L76.0,241.7 L76.2,241.0 L76.3,241.4 L76.5,241.2 L76.7,240.3 L76.8,240.2 L77.0,239.3 L77.1,239.1 L77.3,239.4 L77.5,239.5 L77.6,240.2 L77.8,240.5 L77.9,241.1 L78.1,240.4 L78.3,240.4 L78.4,240.0 L78.6,239.8 L78.8,239.8 L78.9,240.9 L79.1,241.6 L79.2,242.2 L79.4,242.7 L79.6,243.0 L79.7,242.5 L79.9,241.5 L80.0,240.9 L80.2,240.6 L80.4,240.7 L80.5,240.5 L80.6,240.0 L80.7,239.5 L80.7,239.4 L80.7,239.4 L80.8,239.3 L80.8,239.0 L80.9,239.3 L81.0,239.5 L81.0,239.8 L81.0,240.2 L81.1,240.5 L81.2,240.1 L81.2,240.2 L81.3,240.4 L81.3,240.2 L81.4,238.8 L81.4,239.3 L81.5,238.9 L81.6,239.0 L81.6,240.1 L81.6,240.3 L81.8,240.1 L82.0,240.6 L82.1,240.6 L82.3,240.5 L82.5,240.5 L82.6,239.9 L82.8,239.8 L82.9,239.5 L83.1,239.1 L83.3,238.9 L83.4,239.4 L83.6,239.7 L83.7,240.8 L83.9,239.5 L84.1,238.6 L84.2,238.4 L84.4,238.8 L84.5,239.2 L84.7,239.2 L84.9,239.9 L85.0,239.5 L85.2,239.8 L85.4,239.1 L85.5,238.8 L85.7,240.1 L85.8,239.6 L86.0,240.1 L86.2,240.3 L86.3,239.9 L86.5,239.8 L86.6,239.7 L86.8,241.0 L87.0,240.3 L87.1,239.9 L87.3,240.3 L87.4,240.4 L87.6,240.7 L87.8,241.4 L87.9,241.1 L88.1,241.3 L88.2,241.1 L88.4,240.1 L88.6,240.3 L88.7,240.0 L88.9,239.3 L89.1,240.3 L89.2,240.4 L89.4,240.5 L89.5,240.8 L89.7,240.3 L89.9,240.3 L90.0,239.4 L90.2,239.4 L90.3,239.9 L90.5,240.8 L90.7,241.0 L90.8,241.2 L91.0,241.8 L91.1,241.0 L91.3,240.3 L91.5,239.9 L91.6,238.8 L91.8,238.6 L92.0,239.1 L92.1,239.0 L92.3,239.7 L92.4,239.9 L92.6,240.9 L92.8,240.5 L92.9,240.4 L93.1,240.0 L93.2,240.5 L93.4,241.3 L93.6,240.6 L93.7,241.3 L93.9,240.6 L94.0,240.7 L94.2,240.4 L94.4,240.0 L94.5,240.5 L94.7,240.0 L94.9,240.8 L95.0,239.6 L95.2,239.7 L95.3,239.6 L95.5,240.0 L95.7,240.7 L95.8,241.1 L96.0,242.8 L96.1,242.3 L96.3,242.2 L96.5,241.2 L96.6,241.6 L96.8,241.4 L96.9,241.8 L97.1,241.2 L97.3,240.6 L97.4,240.5 L97.6,240.1 L97.7,240.9 L97.9,241.0 L98.1,241.3 L98.2,242.1 L98.4,241.6 L98.6,242.5 L98.7,242.1 L98.9,241.4 L99.0,240.5 L99.2,239.9 L99.4,240.0 L99.5,240.3 L99.7,240.5 L99.8,241.4 L100.0,242.2 L100.2,242.6 L100.3,241.6 L100.5,242.9 L100.6,241.7 L100.8,240.8 L101.0,241.2 L101.1,241.9 L101.3,242.1 L101.5,242.2 L101.6,242.5 L101.8,243.6 L101.9,243.7 L102.1,244.6 L102.3,245.0 L102.4,245.2 L102.6,245.4 L102.7,245.0 L102.9,243.4 L103.1,241.8 L103.2,241.2 L103.4,240.7 L103.5,239.7 L103.7,240.9 L103.9,240.3 L104.0,240.5 L104.2,240.0 L104.4,239.9 L104.5,239.7 L104.7,241.1 L104.8,241.6 L105.0,242.2 L105.2,241.5 L105.3,241.5 L105.5,241.0 L105.6,241.5 L105.8,241.4 L106.0,241.2 L106.1,241.9 L106.3,241.8 L106.4,241.9 L106.6,242.3 L106.8,242.9 L106.9,242.1 L107.1,242.4 L107.2,242.0 L107.4,242.7 L107.6,242.5 L107.7,242.6 L107.9,242.2 L108.1,241.5 L108.2,241.3 L108.4,241.2 L108.5,240.8 L108.7,240.4 L108.9,240.9 L109.0,240.8 L109.2,241.0 L109.3,241.8 L109.5,241.1 L109.7,240.5 L109.8,241.1 L110.0,241.2 L110.1,241.5 L110.3,241.4 L110.5,240.8 L110.6,241.3 L110.8,241.8 L111.0,242.9 L111.1,242.3 L111.3,243.0 L111.4,243.0 L111.6,242.0 L111.8,241.9 L111.9,242.8 L112.1,242.0 L112.2,242.3 L112.4,242.7 L112.6,242.0 L112.7,242.6 L112.9,242.2 L113.0,242.1 L113.2,241.9 L113.4,241.3 L113.5,242.2 L113.7,242.4 L113.8,242.3 L114.0,241.6 L114.2,241.3 L114.3,240.4 L114.5,240.7 L114.7,240.8 L114.8,240.4 L115.0,240.4 L115.1,241.1 L115.3,241.3 L115.5,241.4 L115.6,242.4 L115.8,241.9 L115.9,241.1 L116.1,241.6 L116.3,241.8 L116.4,242.0 L116.6,241.6 L116.7,241.6 L116.9,241.8 L117.1,241.7 L117.2,241.1 L117.4,241.2 L117.6,242.1 L117.7,241.7 L117.9,241.6 L118.0,241.0 L118.2,240.9 L118.4,241.0 L118.5,241.4 L118.7,242.3 L118.8,242.0 L119.0,242.1 L119.2,241.4 L119.3,241.7 L119.5,241.3 L119.6,241.3 L119.8,240.9 L120.0,239.7 L120.1,239.6 L120.3,239.3 L120.5,240.3 L120.6,240.5 L120.8,241.7 L120.9,241.5 L121.1,241.6 L121.3,241.1 L121.4,241.0 L121.6,240.9 L121.7,240.5 L121.9,240.8 L122.1,240.9 L122.2,241.1 L122.4,241.5 L122.5,241.6 L122.7,241.3 L122.9,241.5 L123.0,241.3 L123.2,241.3 L123.3,241.6 L123.5,242.3 L123.7,242.7 L123.8,242.2 L124.0,242.0 L124.2,241.3 L124.3,241.5 L124.5,241.3 L124.6,241.1 L124.8,241.7 L125.0,241.6 L125.1,241.0 L125.3,241.0 L125.4,241.2 L125.6,241.1 L125.8,241.4 L125.9,240.7 L126.1,240.9 L126.2,240.9 L126.4,241.2 L126.6,240.9 L126.7,240.8 L126.9,240.4 L127.1,239.9 L127.2,240.3 L127.4,241.0 L127.5,240.8 L127.7,240.9 L127.9,240.7 L128.0,240.2 L128.2,240.2 L128.3,240.3 L128.5,239.7 L128.7,240.1 L128.8,240.7 L129.0,241.2 L129.1,241.6 L129.3,241.3 L129.5,242.6 L129.6,242.0 L129.8,241.9 L129.9,242.0 L130.1,241.3 L130.3,240.8 L130.4,239.9 L130.6,239.1 L130.8,239.1 L130.9,239.0 L131.1,239.6 L131.2,240.5 L131.4,240.9 L131.6,241.1 L131.7,240.6 L131.9,240.7 L132.0,240.0 L132.2,240.1 L132.4,240.4 L132.5,239.3 L132.7,240.1 L132.8,239.9 L133.0,239.5 L133.2,240.6 L133.3,240.7 L133.5,241.5 L133.7,241.7 L133.8,241.5 L134.0,241.3 L134.1,241.0 L134.3,241.3 L134.5,241.4 L134.6,241.9 L134.8,242.5 L134.9,242.0 L135.1,242.3 L135.3,241.8 L135.4,240.6 L135.6,240.5 L135.7,240.7 L135.9,240.8 L136.1,241.0 L136.2,241.8 L136.4,240.9 L136.6,240.5 L136.7,239.3 L136.9,239.1 L137.0,238.4 L137.2,239.0 L137.4,239.8 L137.5,239.8 L137.7,240.2 L137.8,239.7 L138.0,239.3 L138.2,239.3 L138.3,240.1 L138.5,239.7 L138.6,239.4 L138.8,239.5 L139.0,239.3 L139.1,240.4 L139.3,240.1 L139.4,240.7 L139.6,240.4 L139.8,240.4 L139.9,240.5 L140.1,241.3 L140.3,241.4 L140.4,241.9 L140.6,241.9 L140.7,240.9 L140.9,240.6 L141.1,240.8 L141.2,240.3 L141.4,240.0 L141.5,239.5 L141.7,239.9 L141.9,240.3 L142.0,241.5 L142.2,241.1 L142.3,240.9 L142.5,240.8 L142.7,240.7 L142.8,240.9 L143.0,240.2 L143.2,240.3 L143.3,240.7 L143.5,240.8 L143.6,239.4 L143.8,239.7 L144.0,238.4 L144.1,237.7 L144.3,238.6 L144.4,238.6 L144.6,239.3 L144.8,239.5 L144.9,240.1 L145.1,240.0 L145.2,240.9 L145.4,241.5 L145.6,241.5 L145.7,242.2 L145.9,242.2 L146.0,241.0 L146.2,241.6 L146.4,241.1 L146.5,240.6 L146.7,240.9 L146.9,241.4 L147.0,240.6 L147.2,241.4 L147.3,241.4 L147.5,241.2 L147.7,241.3 L147.8,241.3 L148.0,241.0 L148.1,240.3 L148.3,240.2 L148.5,237.7 L148.6,237.1 L148.8,238.8 L148.9,240.8 L149.1,241.4 L149.3,242.1 L149.4,240.4 L149.6,239.3 L149.8,239.4 L149.9,239.9 L150.1,239.4 L150.2,240.1 L150.4,239.9 L150.6,239.4 L150.7,239.3 L150.9,238.8 L151.0,238.6 L151.2,239.4 L151.4,240.0 L151.5,240.6 L151.7,240.4 L151.8,241.3 L152.0,240.5 L152.2,241.2 L152.3,241.6 L152.5,241.5 L152.7,241.8 L152.8,241.6 L153.0,241.5 L153.1,242.7 L153.3,241.8 L153.5,240.7 L153.6,240.3 L153.8,239.5 L153.9,239.6 L154.1,240.4 L154.3,241.1 L154.4,241.3 L154.6,241.8 L154.7,242.6 L154.9,242.4 L155.1,242.2 L155.2,242.8 L155.4,242.1 L155.5,241.2 L155.7,240.8 L155.9,241.4 L156.0,240.7 L156.2,241.7 L156.4,241.9 L156.5,242.3 L156.7,240.7 L156.8,240.3 L157.0,238.5 L157.2,238.6 L157.3,238.6 L157.5,239.7 L157.6,239.0 L157.8,240.1 L158.0,240.3 L158.1,241.3 L158.3,240.6 L158.4,240.7 L158.6,241.4 L158.8,241.1 L158.9,240.8 L159.1,240.2 L159.3,240.1 L159.4,239.5 L159.6,240.2 L159.7,240.5 L159.9,240.7 L160.1,241.5 L160.2,240.8 L160.4,239.9 L160.5,240.0 L160.7,240.3 L160.9,240.0 L161.0,241.0 L161.2,240.7 L161.3,240.8 L161.5,241.0 L161.7,241.7 L161.8,241.1 L162.0,240.4 L162.1,240.8 L162.3,240.1 L162.5,240.9 L162.6,241.2 L162.8,240.7 L163.0,241.1 L163.1,241.4 L163.3,242.0 L163.4,242.4 L163.6,242.3 L163.8,242.0 L163.9,242.3 L164.1,242.2 L164.2,240.6 L164.4,240.4 L164.6,240.4 L164.7,241.1 L164.9,241.0 L165.0,242.2 L165.2,242.2 L165.4,242.9 L165.5,242.3 L165.7,242.2 L165.9,241.7 L166.0,241.2 L166.2,241.1 L166.3,239.9 L166.5,240.6 L166.7,240.1 L166.8,239.8 L167.0,240.2 L167.1,239.8 L167.3,240.1 L167.5,240.9 L167.6,240.6 L167.8,241.3 L167.9,241.2 L168.1,241.5 L168.3,241.6 L168.4,241.3 L168.6,241.5 L168.8,242.0 L168.9,241.8 L169.1,242.9 L169.2,242.2 L169.4,242.2 L169.6,240.9 L169.7,241.4 L169.9,241.1 L170.0,241.0 L170.2,239.9 L170.4,240.1 L170.5,239.9 L170.7,241.1 L170.8,240.5 L171.0,241.2 L171.2,241.4 L171.3,241.3 L171.5,241.9 L171.6,242.1 L171.8,242.1 L172.0,242.5 L172.1,243.0 L172.3,243.0 L172.5,243.0 L172.6,242.2 L172.8,241.8 L172.9,242.0 L173.1,241.1 L173.3,242.0 L173.4,241.2 L173.6,240.3 L173.7,241.1 L173.9,241.7 L174.1,240.9 L174.2,241.4 L174.4,241.8 L174.5,240.8 L174.7,240.9 L174.9,240.7 L175.0,240.2 L175.2,240.4 L175.4,240.6 L175.5,240.3 L175.7,240.3 L175.8,239.8 L176.0,239.9 L176.2,239.9 L176.3,240.6 L176.5,241.1 L176.6,241.4 L176.8,241.4 L177.0,241.1 L177.1,241.2 L177.3,241.3 L177.4,240.3 L177.6,240.6 L177.8,239.8 L177.9,240.2 L178.1,239.7 L178.2,239.5 L178.4,239.6 L178.6,239.3 L178.7,240.0 L178.9,239.9 L179.1,239.8 L179.2,239.1 L179.4,240.4 L179.5,240.6 L179.7,241.1 L179.9,240.5 L180.0,241.5 L180.2,241.4 L180.3,241.2 L180.5,241.9 L180.7,241.0 L180.8,241.1 L181.0,241.6 L181.1,241.5 L181.3,241.8 L181.5,241.9 L181.6,241.2 L181.8,240.8 L182.0,240.3 L182.1,239.6 L182.3,239.4 L182.4,239.0 L182.6,239.9 L182.8,239.8 L182.9,239.6 L183.1,239.9 L183.2,240.6 L183.4,240.6 L183.6,239.9 L183.7,239.8 L183.9,240.9 L184.0,240.7 L184.2,240.6 L184.4,240.3 L184.5,241.1 L184.7,240.8 L184.9,241.4 L185.0,240.7 L185.2,241.4 L185.3,241.3 L185.5,241.0 L185.7,240.4 L185.8,240.5 L186.0,241.3 L186.1,241.0 L186.3,241.7 L186.5,241.5 L186.6,241.7 L186.8,241.7 L186.9,241.6 L187.1,241.7 L187.3,241.3 L187.4,241.2 L187.6,241.6 L187.7,241.8 L187.9,240.9 L188.1,241.5 L188.2,241.3 L188.4,240.3 L188.6,240.5 L188.7,240.6 L188.9,241.3 L189.0,241.9 L189.2,241.8 L189.4,241.6 L189.5,242.1 L189.7,242.1 L189.8,242.3 L190.0,242.0 L190.2,241.1 L190.3,240.8 L190.5,240.9 L190.6,240.6 L190.8,240.2 L191.0,239.8 L191.1,240.6 L191.3,240.6 L191.5,241.4 L191.6,241.2 L191.8,240.8 L191.9,241.0 L192.1,242.0 L192.3,241.1 L192.4,238.3 L192.6,238.2 L192.7,240.2 L192.9,241.9 L193.1,242.7 L193.2,242.2 L193.4,242.3 L193.5,243.5 L193.7,244.1 L193.9,244.7 L194.0,245.5 L194.2,245.4 L194.3,244.6 L194.5,245.2 L194.7,244.0 L194.8,243.9 L195.0,243.6 L195.2,242.8 L195.3,242.1 L195.5,241.2 L195.6,241.2 L195.8,240.9 L196.0,240.9 L196.1,240.2 L196.3,240.5 L196.4,241.2 L196.6,241.1 L196.8,241.4 L196.9,241.3 L197.1,241.4 L197.2,240.7 L197.4,242.0 L197.6,240.9 L197.7,241.0 L197.9,241.3 L198.1,241.0 L198.2,240.9 L198.4,240.4 L198.5,239.6 L198.7,240.1 L198.9,238.9 L199.0,239.6 L199.2,239.4 L199.3,240.3 L199.5,240.3 L199.7,240.8 L199.8,240.8 L200.0,241.5 L200.1,242.3 L200.3,242.2 L200.5,242.4 L200.6,241.8 L200.8,243.0 L201.0,242.2 L201.1,241.7 L201.3,242.5 L201.4,242.4 L201.6,242.0 L201.8,242.6 L201.9,243.4 L202.1,242.3 L202.2,241.8 L202.4,241.5 L202.6,241.3 L202.7,241.3 L202.9,241.6 L203.0,241.4 L203.2,240.6 L203.4,240.4 L203.5,239.5 L203.7,240.1 L203.8,241.0 L204.0,240.6 L204.2,240.6 L204.3,240.6 L204.5,240.5 L204.7,240.7 L204.8,240.0 L205.0,240.9 L205.1,240.7 L205.3,241.2 L205.5,241.7 L205.6,240.9 L205.8,242.3 L205.9,241.7 L206.1,240.9 L206.3,240.6 L206.4,239.9 L206.6,240.3 L206.7,240.8 L206.9,240.3 L207.1,241.3 L207.2,241.2 L207.4,241.4 L207.6,241.1 L207.7,240.6 L207.9,240.8 L208.0,241.5 L208.2,242.3 L208.4,242.3 L208.5,243.1 L208.7,242.3 L208.8,241.7 L209.0,241.1 L209.2,240.1 L209.3,240.1 L209.5,240.1 L209.6,239.4 L209.8,240.1 L210.0,240.3 L210.1,241.2 L210.3,241.3 L210.4,241.6 L210.6,241.7 L210.8,241.4 L210.9,242.4 L211.1,242.2 L211.3,242.0 L211.4,242.8 L211.6,241.7 L211.7,241.1 L211.9,241.0 L212.1,241.6 L212.2,241.3 L212.4,241.4 L212.5,241.9 L212.7,241.2 L212.9,241.0 L213.0,241.3 L213.2,241.6 L213.3,240.5 L213.5,240.6 L213.7,240.3 L213.8,239.9 L214.0,240.0 L214.2,239.5 L214.3,239.6 L214.5,239.5 L214.6,239.9 L214.8,240.9 L215.0,241.1 L215.1,241.2 L215.3,241.8 L215.4,240.7 L215.6,241.8 L215.8,242.1 L215.9,241.7 L216.1,241.9 L216.2,242.1 L216.4,241.9 L216.6,241.3 L216.7,240.8 L216.9,240.6 L217.1,240.9 L217.2,240.8 L217.4,240.9 L217.5,241.1 L217.7,242.5 L217.9,241.7 L218.0,241.7 L218.2,241.6 L218.3,241.6 L218.5,241.6 L218.7,241.9 L218.8,242.2 L219.0,242.1 L219.1,241.5 L219.3,242.6 L219.5,242.7 L219.6,242.7 L219.8,243.1 L219.9,243.6 L220.1,242.3 L220.3,242.1 L220.4,241.8 L220.6,241.3 L220.8,241.3 L220.9,241.2 L221.1,240.5 L221.2,240.2 L221.4,240.0 L221.6,239.8 L221.7,240.0 L221.9,240.7 L222.0,241.3 L222.2,241.6 L222.4,242.4 L222.5,242.8 L222.7,242.0 L222.8,242.3 L223.0,241.9 L223.2,241.6 L223.3,241.4 L223.5,241.5 L223.7,241.6 L223.8,242.0 L224.0,241.5 L224.1,242.3 L224.3,242.1 L224.5,243.5 L224.6,243.4 L224.8,242.6 L224.9,242.8 L225.1,242.8 L225.3,242.4 L225.4,242.8 L225.6,242.4 L225.7,243.3 L225.9,242.9 L226.1,243.2 L226.2,243.0 L226.4,242.9 L226.5,243.4 L226.7,242.4 L226.9,243.1 L227.0,243.5 L227.2,243.6 L227.4,242.2 L227.5,242.8 L227.7,243.1 L227.8,243.3 L228.0,243.6 L228.2,242.7 L228.3,243.0 L228.5,242.1 L228.6,242.3 L228.8,242.7 L229.0,241.4 L229.1,241.5 L229.3,241.3 L229.4,240.5 L229.6,241.1 L229.8,240.9 L229.9,241.7 L230.1,242.3 L230.3,242.3 L230.4,243.0 L230.6,242.6 L230.7,242.9 L230.9,243.4 L231.1,243.2 L231.2,242.9 L231.4,242.7 L231.5,241.9 L231.7,242.2 L231.9,242.0 L232.0,242.7 L232.2,242.4 L232.3,242.2 L232.5,242.4 L232.7,242.1 L232.8,242.3 L233.0,242.3 L233.2,243.4 L233.3,243.3 L233.5,243.0 L233.6,243.1 L233.8,243.4 L234.0,242.5 L234.1,242.0 L234.3,242.4 L234.4,241.9 L234.6,242.1 L234.8,242.2 L234.9,242.3 L235.1,242.1 L235.2,241.6 L235.4,241.1 L235.6,240.8 L235.7,240.9 L235.9,241.5 L236.0,241.8 L236.2,242.1 L236.4,243.0 L236.5,242.7 L236.7,242.7 L236.9,242.4 L237.0,242.3 L237.2,242.1 L237.3,242.1 L237.5,241.4 L237.7,241.5 L237.8,242.3 L238.0,242.1 L238.1,243.0 L238.3,242.5 L238.5,243.5 L238.6,243.4 L238.8,242.9 L238.9,242.7 L239.1,242.4 L239.3,241.8 L239.4,242.2 L239.6,242.1 L239.8,242.1 L239.9,242.9 L240.1,242.0 L240.2,242.3 L240.4,242.2 L240.6,242.8 L240.7,242.3 L240.9,242.4 L241.0,242.7 L241.2,241.5 L241.4,241.9 L241.5,242.0 L241.7,241.6 L241.8,241.2 L242.0,241.1 L242.2,241.4 L242.3,241.3 L242.5,241.2 L242.6,242.0 L242.8,241.7 L243.0,242.0 L243.1,241.9 L243.3,241.6 L243.5,241.9 L243.6,242.3 L243.8,241.7 L243.9,241.0 L244.1,241.5 L244.3,241.5 L244.4,241.7 L244.6,243.0 L244.7,242.6 L244.9,242.9 L245.1,242.7 L245.2,242.8 L245.4,242.3 L245.5,241.9 L245.7,241.3 L245.9,241.3 L246.0,241.5 L246.2,241.3 L246.4,241.7 L246.5,242.6 L246.7,242.6 L246.8,241.8 L247.0,242.5 L247.2,242.0 L247.3,242.1 L247.5,242.8 L247.6,242.7 L247.8,242.4 L248.0,242.6 L248.1,242.6 L248.3,242.5 L248.4,242.2 L248.6,242.7 L248.8,242.7 L248.9,242.9 L249.1,243.5 L249.2,242.6 L249.4,243.7 L249.6,242.8 L249.7,242.1 L249.9,242.6 L250.1,241.9 L250.2,241.6 L250.4,242.2 L250.5,241.8 L250.7,242.4 L250.9,242.0 L251.0,242.0 L251.2,241.6 L251.3,240.9 L251.5,241.1 L251.7,241.0 L251.8,241.6 L252.0,242.6 L252.1,242.3 L252.3,242.3 L252.5,242.9 L252.6,241.9 L252.8,242.2 L253.0,242.2 L253.1,242.9 L253.3,242.9 L253.4,243.1 L253.6,243.5 L253.8,243.5 L253.9,244.4 L254.1,243.4 L254.2,244.3 L254.4,244.7 L254.6,244.1 L254.7,243.7 L254.9,242.8 L255.0,242.9 L255.2,242.4 L255.4,242.8 L255.5,241.8 L255.7,242.3 L255.9,241.8 L256.0,242.8 L256.2,242.3 L256.3,243.0 L256.5,242.7 L256.7,242.8 L256.8,243.6 L257.0,243.4 L257.1,243.4 L257.3,243.4 L257.5,243.0 L257.6,242.9 L257.8,243.0 L257.9,242.6 L258.1,242.5 L258.3,243.3 L258.4,243.2 L258.6,243.0 L258.7,243.1 L258.9,243.2 L259.1,242.5 L259.2,242.3 L259.4,242.2 L259.6,242.4 L259.7,241.6 L259.9,241.6 L260.0,242.3 L260.2,242.2 L260.4,241.8 L260.5,242.7 L260.7,242.5 L260.8,242.7 L261.0,243.0 L261.2,242.6 L261.3,242.8 L261.5,242.3 L261.6,242.7 L261.8,241.2 L262.0,241.5 L262.1,241.6 L262.3,242.1 L262.5,242.2 L262.6,242.4 L262.8,242.7 L262.9,242.9 L263.1,243.5 L263.3,242.9 L263.4,243.1 L263.6,243.1 L263.7,242.8 L263.9,242.2 L264.1,241.9 L264.2,242.8 L264.4,241.9 L264.5,242.1 L264.7,242.8 L264.9,242.9 L265.0,242.8 L265.2,242.5 L265.4,242.9 L265.5,243.1 L265.7,242.5 L265.8,243.4 L266.0,242.7 L266.2,242.4 L266.3,242.7 L266.5,242.4 L266.6,242.4 L266.8,242.2 L267.0,242.4 L267.1,242.8 L267.3,242.6 L267.4,242.6 L267.6,242.2 L267.8,242.0 L267.9,242.5 L268.1,242.9 L268.2,243.0 L268.4,242.9 L268.6,242.4 L268.7,242.8 L268.9,242.9 L269.1,243.2 L269.2,242.6 L269.4,242.7 L269.5,242.8 L269.7,242.8 L269.9,242.2 L270.0,242.8 L270.2,242.1 L270.3,242.1 L270.5,242.5 L270.7,242.3 L270.8,242.6 L271.0,242.9 L271.1,242.8 L271.3,243.0 L271.5,242.5 L271.6,242.6 L271.8,242.4 L272.0,242.3 L272.1,243.7 L272.3,242.6 L272.4,243.4 L272.6,242.7 L272.8,243.0 L272.9,242.6 L273.1,242.1 L273.2,243.1 L273.4,242.4 L273.6,242.6 L273.7,243.3 L273.9,242.5 L274.0,242.8 L274.2,243.0 L274.4,243.0 L274.5,241.6 L274.7,242.9 L274.8,243.4 L275.0,243.1 L275.2,242.9 L275.3,242.9 L275.5,242.7 L275.7,243.0 L275.8,242.5 L276.0,242.8 L276.1,243.1 L276.3,242.9 L276.5,242.6 L276.6,242.1 L276.8,242.2 L276.9,242.6 L277.1,242.5 L277.3,242.6 L277.4,242.1 L277.6,243.0 L277.7,242.7 L277.9,242.5 L278.1,243.1 L278.2,242.6 L278.4,242.6 L278.6,242.8 L278.7,242.4 L278.9,242.1 L279.0,242.0 L279.1,242.4 L279.1,242.3 L279.2,241.5 L279.3,242.8 L279.3,242.3 L279.4,242.1 L279.4,242.3 L279.5,242.2 L279.5,242.3 L279.6,242.2 L279.6,242.0 L279.7,242.6 L279.7,242.6 L279.8,242.8 L279.8,243.0 L279.9,242.9 L280.0,243.4 L280.0,242.7 L280.0,242.3 L280.1,242.3 L280.2,242.5 L280.3,243.5 L280.5,243.0 L280.6,244.3 L280.8,244.6 L281.0,244.6 L281.0,245.7 L281.1,245.3 L281.1,246.1 L281.2,248.6 L281.3,253.8 L281.3,255.6 L281.3,256.9 L281.4,253.3 L281.4,248.3 L281.5,245.6 L281.6,240.1 L281.6,236.9 L281.6,234.7 L281.7,235.4 L281.8,240.9 L281.8,244.8 L281.9,246.2 L281.9,245.8 L282.0,245.4 L282.0,245.8 L282.1,245.5 L282.3,244.1 L282.4,243.8 L282.6,244.4 L282.7,243.9 L282.9,243.0 L283.1,243.4 L283.2,242.9 L283.4,242.9 L283.5,242.4 L283.7,243.5 L283.8,243.4 L283.8,243.5 L283.9,243.3 L283.9,244.4 L284.0,245.7 L284.0,244.1 L284.1,242.9 L284.2,242.7 L284.2,242.6 L284.2,242.2 L284.3,241.1 L284.3,239.5 L284.4,238.2 L284.5,239.6 L284.5,240.8 L284.5,241.9 L284.6,242.3 L284.7,242.7 L284.7,242.8 L284.8,242.4 L285.0,242.6 L285.2,242.4 L285.3,243.2 L285.5,242.4 L285.6,242.7 L285.8,242.7 L286.0,242.7 L286.1,241.9 L286.3,242.0 L286.4,242.6 L286.6,242.9 L286.8,242.5 L286.9,242.7 L287.1,242.0 L287.2,243.2 L287.4,243.4 L287.6,242.9 L287.7,242.8 L287.9,242.7 L288.1,242.5 L288.2,242.0 L288.4,242.9 L288.5,242.9 L288.7,243.3 L288.9,242.6 L289.0,242.4 L289.2,242.7 L289.3,242.2 L289.5,242.6 L289.7,242.0 L289.8,242.4 L290.0,243.0 L290.1,242.8 L290.3,243.1 L290.5,243.3 L290.6,242.6 L290.8,242.4 L290.9,242.1 L291.1,242.9 L291.3,242.9 L291.4,243.2 L291.6,242.4 L291.8,242.6 L291.9,242.9 L292.1,242.3 L292.2,242.4 L292.4,243.2 L292.6,242.2 L292.7,242.4 L292.9,242.6 L293.0,242.7 L293.2,241.9 L293.4,242.0 L293.5,241.9 L293.7,243.0 L293.8,242.8 L294.0,242.2 L294.2,243.0 L294.3,242.8 L294.5,243.3 L294.7,241.9 L294.8,242.2 L295.0,242.4 L295.1,242.4 L295.3,242.7 L295.5,242.7 L295.6,242.3 L295.8,242.8 L295.9,241.9 L296.1,242.5 L296.3,242.6 L296.4,241.8 L296.6,242.4 L296.7,242.2 L296.9,242.6 L297.1,243.4 L297.2,242.4 L297.4,243.2 L297.6,242.3 L297.7,243.3 L297.9,243.4 L298.0,242.5 L298.2,242.4 L298.4,242.6 L298.5,243.1 L298.7,242.3 L298.8,243.2 L299.0,242.8 L299.2,242.9 L299.3,242.7 L299.5,242.3 L299.6,242.8 L299.8,242.3 L300.0,242.2 L300.1,243.1 L300.3,242.9 L300.4,242.5 L300.6,242.6 L300.8,242.4 L300.8,243.4 L300.9,242.4 L300.9,242.5 L301.0,242.8 L301.0,243.3 L301.1,242.7 L301.2,242.9 L301.2,242.5 L301.3,242.7 L301.3,242.4 L301.3,242.9 L301.4,242.2 L301.5,243.7 L301.5,243.2 L301.6,242.5 L301.6,243.3 L301.7,242.3 L301.7,243.0 L301.8,242.5 L301.9,243.0 L301.9,242.8 L302.1,242.6 L302.2,242.7 L302.4,242.8 L302.5,241.7 L302.6,242.5 L302.7,242.9 L302.8,242.1 L302.8,242.0 L302.9,241.8 L302.9,241.6 L303.0,242.6 L303.0,241.8 L303.1,241.8 L303.2,242.3 L303.2,242.2 L303.2,243.6 L303.3,242.7 L303.3,241.8 L303.4,243.2 L303.5,242.7 L303.5,242.4 L303.5,242.3 L303.6,241.9 L303.7,243.3 L303.8,242.6 L304.0,242.3 L304.2,243.1 L304.3,242.6 L304.5,241.9 L304.6,242.1 L304.8,242.4 L305.0,243.6 L305.1,242.6 L305.3,242.4 L305.4,242.6 L305.6,242.5 L305.8,241.2 L305.9,242.6 L306.1,242.8 L306.2,242.4 L306.4,242.6 L306.6,242.6 L306.7,242.5 L306.9,242.2 L307.0,242.3 L307.2,242.9 L307.4,242.5 L307.5,242.2 L307.7,242.5 L307.9,241.8 L308.0,242.0 L308.2,242.8 L308.3,242.3 L308.5,241.8 L308.7,242.0 L308.8,242.6 L309.0,242.1 L309.1,242.7 L309.3,242.9 L309.5,242.1 L309.6,242.2 L309.8,242.1 L309.9,242.3 L310.1,242.2 L310.3,242.6 L310.4,242.2 L310.6,242.1 L310.8,242.4 L310.9,242.1 L311.1,243.2 L311.2,242.8 L311.4,241.9 L311.6,241.8 L311.7,242.4 L311.9,242.5 L312.0,242.9 L312.2,242.2 L312.4,242.0 L312.5,243.0 L312.7,242.1 L312.8,242.1 L313.0,242.1 L313.2,242.8 L313.3,242.2 L313.5,243.1 L313.7,241.9 L313.8,242.6 L314.0,243.1 L314.1,242.1 L314.3,242.2 L314.5,243.0 L314.6,241.8 L314.8,243.2 L314.9,242.6 L315.1,242.2 L315.3,243.6 L315.4,242.3 L315.6,242.7 L315.7,242.6 L315.9,243.1 L316.1,242.4 L316.2,243.0 L316.4,242.9 L316.5,242.6 L316.7,242.9 L316.9,241.7 L317.0,242.8 L317.2,242.6 L317.4,242.4 L317.5,242.3 L317.7,242.0 L317.8,242.0 L318.0,242.4 L318.2,242.4 L318.3,242.2 L318.5,241.7 L318.6,241.8 L318.8,242.3 L319.0,243.1 L319.1,241.3 L319.3,241.9 L319.4,242.2 L319.6,242.2 L319.8,242.5 L319.9,242.8 L320.1,242.6 L320.3,242.6 L320.4,242.8 L320.6,243.2 L320.7,242.8 L320.9,242.5 L321.1,242.9 L321.2,242.6 L321.4,243.5 L321.5,242.6 L321.7,242.6 L321.9,243.1 L322.0,243.4 L322.2,242.5 L322.3,243.1 L322.5,242.5 L322.7,242.8 L322.8,242.2 L323.0,242.4 L323.1,242.7 L323.3,242.0 L323.5,242.2 L323.6,241.8 L323.8,242.3 L324.0,242.3 L324.1,241.7 L324.3,241.4 L324.4,241.6 L324.6,241.4 L324.8,241.7 L324.9,241.6 L325.1,241.6 L325.2,241.8 L325.4,242.0 L325.6,242.0 L325.7,240.9 L325.9,242.0 L326.0,242.1 L326.2,242.1 L326.4,242.0 L326.5,241.9 L326.7,242.6 L326.9,243.0 L327.0,242.1 L327.2,243.0 L327.3,242.2 L327.5,242.1 L327.7,241.5 L327.8,241.2 L328.0,241.8 L328.1,242.3 L328.3,242.5 L328.5,242.3 L328.6,241.9 L328.8,242.9 L328.9,242.1 L329.1,242.3 L329.3,242.1 L329.4,242.6 L329.6,242.5 L329.8,242.8 L329.9,242.6 L330.1,243.1 L330.2,242.2 L330.4,241.5 L330.6,241.9 L330.7,241.7 L330.9,242.3 L331.0,241.2 L331.2,242.3 L331.4,241.7 L331.5,242.0 L331.7,242.5 L331.8,241.6 L332.0,242.0 L332.2,242.0 L332.3,241.9 L332.5,242.1 L332.6,242.4 L332.8,242.0 L333.0,242.5 L333.1,242.3 L333.3,242.6 L333.5,242.9 L333.6,242.4 L333.8,242.2 L333.9,241.8 L334.1,241.1 L334.3,242.4 L334.4,241.6 L334.6,242.7 L334.7,242.2 L334.9,242.0 L335.1,242.8 L335.2,242.6 L335.4,241.7 L335.5,241.7 L335.7,241.8 L335.9,242.2 L336.0,240.9 L336.2,242.0 L336.4,242.3 L336.5,241.1 L336.7,241.6 L336.8,242.1 L337.0,241.4 L337.2,242.0 L337.3,241.9 L337.5,242.2 L337.6,242.7 L337.8,241.8 L338.0,242.1 L338.1,242.7 L338.3,242.5 L338.4,241.7 L338.6,242.2 L338.8,242.0 L338.9,241.8 L339.1,242.1 L339.2,242.9 L339.4,241.9 L339.6,241.7 L339.7,241.7 L339.9,241.3 L340.1,241.9 L340.2,241.6 L340.4,241.2 L340.5,242.2 L340.7,241.2 L340.9,241.2 L341.0,241.6 L341.2,241.0 L341.3,241.4 L341.5,242.2 L341.7,241.3 L341.8,241.7 L342.0,241.6 L342.1,241.7 L342.3,241.2 L342.5,241.7 L342.6,242.5 L342.8,242.0 L343.0,242.0 L343.1,242.7 L343.3,242.5 L343.4,242.5 L343.6,242.5 L343.8,242.0 L343.9,241.6 L344.1,241.2 L344.2,241.5 L344.4,241.6 L344.6,241.6 L344.7,241.6 L344.9,242.4 L345.0,241.9 L345.2,242.1 L345.4,242.4 L345.5,242.6 L345.7,242.6 L345.8,242.4 L346.0,242.9 L346.2,242.1 L346.3,242.6 L346.5,242.7 L346.7,242.7 L346.8,242.4 L347.0,243.1 L347.1,242.9 L347.3,243.8 L347.5,244.3 L347.6,244.3 L347.8,242.6 L347.9,244.3 L348.1,243.1 L348.3,242.5 L348.4,243.5 L348.6,242.4 L348.7,242.3 L348.9,242.8 L349.1,242.1 L349.2,243.1 L349.4,243.8 L349.6,243.2 L349.7,243.6 L349.9,244.0 L350.0,243.9 L350.2,242.1 L350.4,243.5 L350.5,243.2 L350.7,243.5 L350.8,243.0 L351.0,243.3 L351.2,243.4 L351.3,243.9 L351.5,244.0 L351.6,243.5 L351.8,242.9 L352.0,241.9 L352.1,242.5 L352.3,242.3 L352.5,243.0 L352.6,243.4 L352.8,244.0 L352.9,243.4 L353.1,244.5 L353.3,243.6 L353.4,242.7 L353.6,243.5 L353.7,243.1 L353.9,243.9 L354.1,244.4 L354.2,243.8 L354.4,243.6 L354.5,242.7 L354.7,242.3 L354.9,243.8 L355.0,243.7 L355.2,243.7 L355.3,243.9 L355.5,244.3 L355.7,243.6 L355.8,243.3 L356.0,243.2 L356.2,243.9 L356.3,243.2 L356.5,244.0 L356.6,242.6 L356.8,243.7 L357.0,243.3 L357.1,243.5 L357.3,243.7 L357.4,244.1 L357.6,244.6 L357.8,242.8 L357.9,243.5 L358.1,243.4 L358.2,242.4 L358.4,243.6 L358.6,243.4 L358.7,243.8 L358.9,243.2 L359.1,243.6 L359.2,243.7 L359.4,244.0 L359.5,243.7 L359.7,243.2 L359.9,245.0 L360.0,243.9 L360.2,244.0 L360.3,243.8 L360.5,244.6 L360.7,243.1 L360.8,244.0 L361.0,243.7 L361.1,243.8 L361.3,244.4 L361.5,243.7 L361.6,244.5 L361.8,244.0 L361.9,243.6 L362.1,243.4 L362.3,243.4 L362.4,243.5 L362.6,242.4 L362.8,243.4 L362.9,244.4 L363.1,244.1 L363.2,244.2 L363.4,243.9 L363.6,244.0 L363.7,244.0 L363.9,242.6 L364.0,243.4 L364.2,243.6 L364.4,243.5 L364.5,243.5 L364.7,242.7 L364.8,243.3 L365.0,243.0 L365.2,245.4 L365.3,243.6 L365.5,243.2 L365.7,242.6 L365.8,243.6 L366.0,244.6 L366.1,243.3 L366.3,244.0 L366.5,244.7 L366.6,244.0 L366.8,243.1 L366.9,242.9 L367.1,243.2 L367.3,244.2 L367.4,242.3 L367.6,244.5 L367.7,243.9 L367.9,244.6 L368.1,243.0 L368.2,243.5 L368.4,243.3 L368.6,243.9 L368.7,244.0 L368.9,243.9 L369.0,244.9 L369.2,243.1 L369.4,243.1 L369.5,243.8 L369.7,243.7 L369.8,243.5 L370.0,242.8 L370.2,243.4 L370.3,243.6 L370.5,244.0 L370.6,244.6 L370.8,244.0 L371.0,243.7 L371.1,243.9 L371.3,243.8 L371.4,243.5 L371.6,243.7 L371.8,243.8 L371.9,243.6 L372.1,243.8 L372.3,243.8 L372.4,243.5 L372.6,244.7 L372.7,242.9 L372.9,244.3 L373.1,243.0 L373.2,243.5 L373.4,242.9 L373.5,243.6 L373.7,244.2 L373.9,243.2 L374.0,243.8 L374.2,244.0 L374.3,244.1 L374.5,243.7 L374.7,243.8 L374.8,244.2 L375.0,245.1 L375.2,244.3 L375.3,244.0 L375.5,242.9 L375.6,243.8 L375.8,244.1 L376.0,243.5 L376.1,244.3 L376.3,244.3 L376.4,244.2 L376.6,245.1 L376.8,243.7 L376.9,244.0 L377.1,244.4 L377.2,244.8 L377.4,243.8 L377.6,243.1 L377.7,244.4 L377.9,244.8 L378.1,244.1 L378.2,245.4 L378.4,245.8 L378.5,244.6 L378.7,244.6 L378.9,244.3 L379.0,244.4 L379.2,243.8 L379.3,244.2 L379.5,244.4 L379.7,244.4 L379.8,243.8 L380.0,243.7 L380.1,243.8 L380.3,244.0 L380.5,246.4 L380.6,244.9 L380.8,244.3 L380.9,243.8 L381.1,244.9 L381.3,243.1 L381.4,243.9 L381.6,244.6 L381.8,244.1 L381.9,244.4 L382.1,244.6 L382.2,243.9 L382.4,244.4 L382.6,245.0 L382.7,244.5 L382.9,244.2 L383.0,244.7 L383.2,243.2 L383.4,244.7 L383.5,242.9 L383.7,243.5 L383.8,244.5 L384.0,243.8 L384.2,243.1 L384.3,243.9 L384.5,244.7 L384.7,244.1 L384.8,243.1 L385.0,245.3 L385.1,244.0 L385.3,244.4 L385.5,244.5 L385.6,244.7 L385.8,244.7 L385.9,243.8 L386.1,244.1 L386.3,245.0 L386.4,243.4 L386.6,245.2 L386.7,243.9 L386.9,244.2 L387.1,243.5 L387.2,243.9 L387.4,243.4 L387.5,244.1 L387.7,243.5 L387.9,244.0 L388.0,242.8 L388.2,244.5 L388.4,243.3 L388.5,243.7 L388.7,243.8 L388.8,244.3 L389.0,243.7 L389.2,245.0 L389.3,245.0 L389.5,243.8 L389.6,245.3 L389.8,243.5 L390.0,244.7 L390.1,244.4 L390.3,244.6 L390.4,244.3 L390.6,244.6 L390.8,244.4 L390.9,244.1 L391.1,243.3 L391.3,243.4 L391.4,243.4 L391.6,244.2 L391.7,244.6 L391.9,245.7 L392.1,244.2 L392.2,244.1 L392.4,244.9 L392.5,244.0 L392.7,243.6 L392.9,244.4 L393.0,243.7 L393.2,244.2 L393.3,245.6 L393.5,244.8 L393.7,244.8 L393.8,244.2 L394.0,245.0 L394.2,244.7 L394.3,245.0 L394.5,244.5 L394.6,244.5 L394.8,244.0 L395.0,244.1 L395.1,244.5 L395.3,244.4 L395.4,244.5 L395.6,244.4 L395.8,243.5 L395.9,246.1 L396.1,244.5 L396.2,244.2 L396.4,243.6 L396.6,245.1 L396.7,244.2 L396.9,244.0 L397.0,244.9 L397.2,245.9 L397.4,245.0 L397.5,245.5 L397.7,244.3 L397.9,245.3 L398.0,243.7 L398.2,244.9 L398.3,245.7 L398.5,245.4 L398.7,245.7 L398.8,244.5 L399.0,243.6 L399.1,244.7 L399.3,244.0 L399.5,245.3 L399.6,244.6 L399.8,243.3 L399.9,245.7 L400.1,243.9 L400.3,243.8 L400.4,245.8 L400.6,245.5 L400.8,245.2 L400.9,243.9 L401.1,244.9 L401.2,244.7 L401.4,244.1 L401.6,244.5 L401.7,244.5 L401.9,244.9 L402.0,243.8 L402.2,245.1 L402.4,243.3 L402.5,244.6 L402.7,244.9 L402.8,243.9 L403.0,244.1 L403.2,245.7 L403.3,244.3 L403.5,245.6 L403.6,245.4 L403.8,244.4 L404.0,245.6 L404.1,244.7 L404.3,245.2 L404.5,243.7 L404.6,245.2 L404.8,245.9 L404.9,245.8 L405.1,245.5 L405.3,244.5 L405.4,244.4 L405.6,243.8 L405.7,244.5 L405.9,244.8 L406.1,244.9 L406.2,245.4 L406.4,245.0 L406.5,244.5 L406.7,244.3 L406.9,245.0 L407.0,245.8 L407.2,245.2 L407.4,244.5 L407.5,246.5 L407.7,245.2 L407.8,244.6 L408.0,245.3 L408.2,245.6 L408.3,243.4 L408.5,243.7 L408.6,245.0 L408.8,243.8 L409.0,243.9 L409.1,245.9 L409.3,242.5 L409.4,245.7 L409.6,245.1 L409.8,246.0 L409.9,244.8 L410.1,246.4 L410.3,244.9 L410.4,243.5 L410.6,244.6 L410.7,245.3 L410.9,242.7 L411.1,246.5 L411.2,243.4 L411.4,245.5 L411.5,244.5 L411.7,244.6 L411.9,244.3 L412.0,244.5 L412.2,245.9 L412.3,245.5 L412.5,243.5 L412.7,244.9 L412.8,247.2 L413.0,246.4 L413.1,246.4 L413.3,245.1 L413.5,244.7 L413.6,244.9 L413.8,246.3 L414.0,245.1 L414.1,247.5 L414.3,250.0 L414.4,245.3 L414.6,247.7 L414.8,246.5 L414.9,246.8 L415.1,244.2 L415.2,246.4 L415.4,244.6 L415.6,245.5 L415.7,246.4 L415.9,246.8 L416.0,244.9 L416.2,245.0 L416.4,244.6 L416.5,243.7 L416.7,245.0 L416.9,245.1 L417.0,245.4 L417.2,245.3 L417.3,245.7 L417.5,246.0 L417.7,243.9 L417.8,246.5 L418.0,244.9 L418.1,244.6 L418.3,244.7 L418.5,245.5 L418.6,244.9 L418.8,245.1 L418.9,245.6 L419.1,245.0 L419.3,245.3 L419.4,245.5 L419.6,244.8 L419.7,246.1 L419.9,245.2 L420.1,246.1 L420.2,245.5 L420.4,245.8 L420.6,245.7 L420.7,246.4 L420.9,246.2 L421.0,246.1 L421.2,245.2 L421.4,244.7 L421.5,244.4 L421.7,245.4 L421.8,245.0 L422.0,246.2 L422.2,246.7 L422.3,245.8 L422.5,245.7 L422.6,246.5 L422.8,246.7 L423.0,245.3 L423.1,246.3 L423.3,246.9 L423.5,244.3 L423.6,245.7 L423.8,246.0 L423.9,245.2 L424.1,246.2 L424.3,244.7 L424.4,246.8 L424.6,246.7 L424.7,245.9 L424.9,246.2 L425.1,244.7 L425.2,246.6 L425.4,246.0 L425.5,245.3 L425.7,245.1 L425.9,244.8 L426.0,245.2 L426.2,243.9 L426.3,245.7 L426.5,245.3 L426.7,244.8 L426.8,245.6 L427.0,245.5 L427.2,245.6 L427.3,245.7 L427.5,246.1 L427.6,245.8 L427.8,246.6 L428.0,245.4 L428.1,246.8 L428.3,244.4 L428.4,244.6 L428.6,245.0 L428.8,245.9 L428.9,246.1 L429.1,244.8 L429.2,245.5 L429.4,245.3 L429.6,246.2 L429.7,245.0 L429.9,246.4 L430.1,245.9 L430.2,247.2 L430.4,246.5 L430.5,245.7 L430.7,246.4 L430.9,246.3 L431.0,245.4 L431.2,245.9 L431.3,244.9 L431.5,247.3 L431.7,245.2 L431.8,245.2 L432.0,246.6 L432.1,246.4 L432.3,245.0 L432.5,246.4 L432.6,246.2 L432.8,245.5 L433.0,246.1 L433.1,245.6 L433.3,246.5 L433.4,245.7 L433.6,245.3 L433.8,245.9 L433.9,247.7 L434.1,245.8 L434.2,246.1 L434.4,246.7 L434.6,245.0 L434.7,247.1 L434.9,244.6 L435.0,246.3 L435.2,244.9 L435.4,246.0 L435.5,246.9 L435.7,245.9 L435.8,245.7 L436.0,245.6 L436.2,245.3 L436.3,246.7 L436.5,245.8 L436.7,245.6 L436.8,246.2 L437.0,246.6 L437.1,246.6 L437.3,245.4 L437.5,245.4 L437.6,246.5 L437.8,246.9 L437.9,245.2 L438.1,247.1 L438.3,246.0 L438.4,246.7 L438.6,247.2 L438.7,245.8 L438.9,245.9 L439.1,244.8 L439.2,244.2 L439.4,245.9 L439.6,245.1 L439.7,245.1 L439.9,246.1 L440.0,246.3 L440.2,244.7 L440.4,246.1 L440.5,246.0 L440.7,246.3 L440.8,246.4 L441.0,246.7 L441.2,245.8 L441.3,245.3 L441.5,246.3 L441.6,246.8 L441.8,245.8 L442.0,246.8 L442.1,246.3 L442.3,245.2 L442.4,244.5 L442.6,245.9 L442.8,246.9 L442.9,245.7 L443.1,247.8 L443.3,246.8 L443.4,245.3 L443.6,245.9 L443.7,247.4 L443.9,247.6 L444.1,245.9 L444.2,246.5 L444.4,246.8 L444.5,246.0 L444.7,246.6 L444.9,247.5 L445.0,245.7 L445.2,246.7 L445.3,247.0 L445.5,247.2 L445.7,246.1 L445.8,246.8 L446.0,245.8 L446.2,246.3 L446.3,245.4 L446.5,246.3 L446.6,246.6 L446.8,247.5 L447.0,246.9 L447.1,245.7 L447.3,244.2 L447.4,247.2 L447.6,247.1 L447.8,246.1 L447.9,246.0 L448.1,246.8 L448.2,246.3 L448.4,247.4 L448.6,246.5 L448.7,245.7 L448.9,245.1 L449.1,246.3 L449.2,246.4 L449.4,246.0 L449.5,245.5 L449.7,245.8 L449.9,246.5 L450.0,245.7 L450.2,245.3 L450.3,246.6 L450.5,247.1 L450.7,245.8 L450.8,245.9 L451.0,245.3 L451.1,245.8 L451.3,246.2 L451.5,246.1 L451.6,246.5 L451.8,246.5 L451.9,246.4 L452.1,246.4 L452.3,245.3 L452.4,246.8 L452.6,246.0 L452.8,246.3 L452.9,245.0 L453.1,245.8 L453.2,246.2 L453.4,245.4 L453.6,245.8 L453.7,246.2 L453.9,244.8 L454.0,245.4 L454.2,244.8 L454.4,245.2 L454.5,245.5 L454.7,245.9 L454.8,246.7 L455.0,245.5 L455.2,245.9 L455.3,245.5 L455.5,246.0 L455.7,246.6 L455.8,246.9 L456.0,245.8 L456.1,245.5 L456.3,246.5 L456.5,245.8 L456.6,245.0 L456.8,246.3 L456.9,245.9 L457.1,246.5 L457.3,245.2 L457.4,246.0 L457.6,246.7 L457.7,247.6 L457.9,246.6 L458.1,245.9 L458.2,246.7 L458.4,246.8 L458.6,246.1 L458.7,247.3 L458.9,246.4 L459.0,245.8 L459.2,246.6 L459.4,246.5 L459.5,245.8 L459.7,246.0 L459.8,246.1 L460.0,245.8 L460.2,245.8 L460.3,246.6 L460.5,246.5 L460.6,245.9 L460.8,245.6 L461.0,245.5 L461.1,246.9 L461.3,245.5 L461.4,245.7 L461.6,246.2 L461.8,245.8 L461.9,245.6 L462.1,245.0 L462.3,247.0 L462.4,245.8 L462.6,246.2 L462.7,246.2 L462.9,245.2 L463.1,245.4 L463.2,246.7 L463.4,246.3 L463.5,246.1 L463.7,247.2 L463.9,245.7 L464.0,246.3 L464.2,246.1 L464.3,245.9 L464.5,244.9 L464.7,246.1 L464.8,246.3 L465.0,244.9 L465.2,246.4 L465.3,246.4 L465.5,247.0 L465.6,245.4 L465.8,246.1 L466.0,246.1 L466.1,246.4 L466.3,246.5 L466.4,246.9 L466.6,246.8 L466.8,245.9 L466.9,246.1 L467.1,245.0 L467.2,246.5 L467.4,246.3 L467.6,246.7 L467.7,245.1 L467.9,247.0 L468.0,245.8 L468.2,245.4 L468.4,246.5 L468.5,245.8 L468.7,247.6 L468.9,246.4 L469.0,247.2 L469.2,246.0 L469.3,246.2 L469.5,246.9 L469.7,245.9 L469.8,246.3 L470.0,246.8 L470.1,246.8 L470.3,247.4 L470.5,246.5 L470.6,244.9 L470.8,246.8 L470.9,245.9 L471.1,246.5 L471.3,245.6 L471.4,245.8 L471.6,246.2 L471.8,247.2 L471.9,246.2 L472.1,245.0 L472.2,245.9 L472.4,245.2 L472.6,246.0 L472.7,247.0 L472.9,245.5 L473.0,245.7 L473.2,246.3 L473.4,246.2 L473.5,245.8 L473.7,246.4 L473.8,245.8 L474.0,246.1 L474.2,247.6 L474.3,246.1 L474.5,246.4 L474.7,246.5 L474.8,245.6 L475.0,246.2 L475.1,245.5 L475.3,245.1 L475.5,245.8 L475.6,247.0 L475.8,246.6 L475.9,245.6 L476.1,246.4 L476.3,246.7 L476.4,246.2 L476.6,245.7 L476.7,245.8 L476.9,245.5 L477.1,246.4 L477.2,246.1 L477.4,246.1 L477.5,246.0 L477.7,247.4 L477.9,246.2 L478.0,246.9 L478.2,245.1 L478.4,245.1 L478.5,245.2 L478.7,245.9 L478.8,246.8 L479.0,245.8 L479.2,246.4 L479.3,245.8 L479.5,246.7 L479.6,246.5 L479.8,245.8 L480.0,244.9 L480.1,246.0 L480.3,244.4 L480.4,244.0 L480.6,246.8 L480.8,246.1 L480.9,246.9 L481.1,246.4 L481.3,246.7 L481.4,246.4 L481.6,245.6 L481.7,245.6 L481.9,246.1 L482.1,246.3 L482.2,246.3 L482.4,246.2 L482.5,245.8 L482.7,246.1 L482.9,245.7 L483.0,246.8 L483.2,245.5 L483.3,244.9 L483.5,246.1 L483.7,247.2 L483.8,245.3 L484.0,246.3 L484.1,247.9 L484.3,246.1 L484.5,245.6 L484.6,245.8 L484.8,245.2 L485.0,245.7 L485.1,246.0 L485.3,247.4 L485.4,246.8 L485.6,245.9 L485.8,245.6 L485.9,246.7 L486.1,246.4 L486.2,245.6 L486.4,247.1 L486.6,247.1 L486.7,246.0 L486.9,245.7 L487.0,246.3 L487.2,247.7 L487.4,246.3 L487.5,247.3 L487.7,246.0 L487.9,246.5 L488.0,246.2 L488.2,245.9 L488.3,246.7 L488.5,245.7 L488.7,245.3 L488.8,245.8 L489.0,245.0 L489.1,246.3 L489.3,245.2 L489.5,245.7 L489.6,246.7 L489.8,246.1 L489.9,246.5 L490.1,246.5 L490.3,246.1 L490.4,245.5 L490.6,246.4 L490.8,246.1 L490.9,247.2 L491.1,246.2 L491.2,245.6 L491.4,245.8 L491.6,246.1 L491.7,246.8 L491.9,247.1 L492.0,246.4 L492.2,246.8 L492.4,246.2 L492.5,245.0 L492.7,246.6 L492.8,244.8 L493.0,246.9 L493.2,245.7 L493.3,246.8 L493.5,246.0 L493.6,246.9 L493.8,246.2 L494.0,246.4 L494.1,246.6 L494.3,246.0 L494.5,245.3 L494.6,246.7 L494.8,245.7 L494.9,246.3 L495.1,246.3 L495.3,244.9 L495.4,247.9 L495.6,246.9 L495.7,247.7 L495.9,246.6 L496.1,246.5 L496.2,243.7 L496.4,246.0 L496.5,245.0 L496.7,245.3 L496.9,246.5 L497.0,245.9 L497.2,245.1 L497.4,245.6 L497.5,245.1 L497.7,245.2 L497.8,246.8 L498.0,246.4 L498.2,245.7 L498.3,245.6 L498.5,246.7 L498.6,246.3 L498.8,246.2 L499.0,246.2 L499.1,245.7 L499.3,246.1 L499.4,246.1 L499.6,247.1 L499.8,246.9 L499.9,246.0 L500.1,247.3 L500.2,246.2 L500.4,246.9 L500.6,247.1 L500.7,246.2 L500.9,247.1 L501.1,247.2 L501.2,247.0 L501.4,246.5 L501.5,244.6 L501.7,247.9 L501.9,246.5 L502.0,246.8 L502.2,246.0 L502.3,246.8 L502.5,248.1 L502.7,245.4 L502.8,246.9 L503.0,246.1 L503.1,247.0 L503.3,246.9 L503.5,246.5 L503.6,245.6 L503.8,245.7 L504.0,246.6 L504.1,245.9 L504.3,246.5 L504.4,246.2 L504.6,246.2 L504.8,246.0 L504.9,246.9 L505.1,246.6 L505.2,246.3 L505.4,246.4 L505.6,247.1 L505.7,245.6 L505.9,247.2 L506.0,246.5 L506.2,246.8 L506.4,245.5 L506.5,247.2 L506.7,244.7 L506.8,246.6 L507.0,247.4 L507.2,246.6 L507.3,245.2 L507.5,246.5 L507.7,247.7 L507.8,247.2 L508.0,245.9 L508.1,247.7 L508.3,246.9 L508.5,246.9 L508.6,245.2 L508.8,246.8 L508.9,245.8 L509.1,247.1 L509.3,247.2 L509.4,245.9 L509.6,246.2 L509.7,247.8 L509.9,246.2 L510.1,246.3 L510.2,247.2 L510.4,246.6 L510.6,246.4 L510.7,246.8 L510.9,246.8 L511.0,246.9 L511.2,246.6 L511.4,247.4 L511.5,246.7 L511.7,247.8 L511.8,246.8 L512.0,246.9 L512.2,247.6 L512.3,246.3 L512.5,245.5 L512.6,245.9 L512.8,247.6 L513.0,245.8 L513.1,246.5 L513.3,246.5 L513.5,246.8 L513.6,246.4 L513.8,245.4 L513.9,245.8 L514.1,245.3 L514.3,244.5 L514.4,245.4 L514.6,245.9 L514.7,245.3 L514.9,247.3 L515.1,246.7 L515.2,247.0 L515.4,247.3 L515.5,246.6 L515.7,246.5 L515.9,247.8 L516.0,247.5 L516.2,246.0 L516.3,246.5 L516.5,246.4 L516.7,247.1 L516.8,247.0 L517.0,246.4 L517.2,247.1 L517.3,247.5 L517.5,246.7 L517.6,246.1 L517.8,247.4 L518.0,246.0 L518.1,246.3 L518.3,247.4 L518.4,246.9 L518.6,246.9 L518.8,246.4 L518.9,246.3 L519.1,247.5 L519.2,247.4 L519.4,245.8 L519.6,246.4 L519.7,246.2 L519.9,246.3 L520.1,245.5 L520.2,247.3 L520.4,245.8 L520.5,247.1 L520.7,246.1 L520.9,245.8 L521.0,247.7 L521.2,246.6 L521.3,247.1 L521.5,247.2 L521.7,246.9 L521.8,247.2 L522.0,246.8 L522.1,246.0 L522.3,246.1 L522.5,247.0 L522.6,247.5 L522.8,244.9 L522.9,245.6 L523.1,246.2 L523.3,247.2 L523.4,247.2 L523.6,246.8 L523.8,247.7 L523.9,246.0 L524.1,246.9 L524.2,246.6 L524.4,247.5 L524.6,247.4 L524.7,247.4 L524.9,246.8 L525.0,247.3 L525.2,247.3 L525.4,246.9 L525.5,246.9 L525.7,246.0 L525.8,247.0 L526.0,247.5 L526.2,246.8 L526.3,245.7 L526.5,247.1 L526.7,246.8 L526.8,247.2 L527.0,246.8 L527.1,246.9 L527.3,247.6 L527.5,247.1 L527.6,246.3 L527.8,246.3 L527.9,246.4 L528.1,246.5 L528.3,247.2 L528.4,247.2 L528.6,246.3 L528.7,247.8 L528.9,247.1 L529.1,248.4 L529.2,247.3 L529.4,247.5 L529.6,247.8 L529.7,246.7 L529.9,247.8 L530.0,247.9 L530.2,248.4 L530.4,249.5 L530.5,248.8 L530.7,250.6 L530.8,250.1 L531.0,250.6 L531.2,249.3 L531.3,248.5 L531.5,247.9 L531.6,247.8 L531.8,247.0 L532.0,245.9 L532.1,246.9 L532.3,246.9 L532.4,247.0 L532.6,245.1 L532.8,245.7 L532.9,246.4 L533.1,246.3 L533.3,247.3 L533.4,247.0 L533.6,246.8 L533.7,247.0 L533.9,247.6 L534.1,247.5 L534.2,246.5 L534.4,246.5 L534.5,248.0 L534.7,246.5 L534.9,245.8 L535.0,247.1 L535.2,246.7 L535.3,248.1 L535.5,247.1 L535.7,249.2 L535.8,250.3 L536.0,250.8 L536.2,250.1 L536.3,252.8 L536.5,253.3 L536.6,251.6 L536.8,250.7 L537.0,248.6 L537.1,249.4 L537.3,248.8 L537.4,247.4 L537.6,246.6 L537.8,246.5 L537.9,246.1 L538.1,247.9 L538.2,247.5 L538.4,247.1 L538.6,246.4 L538.7,246.5 L538.9,246.9 L539.0,247.3 L539.2,246.0 L539.4,245.9 L539.5,244.8 L539.7,246.8 L539.9,245.6 L540.0,247.5 L540.2,247.0 L540.3,247.1 L540.5,246.9 L540.7,247.3 L540.8,247.2 L541.0,246.9 L541.1,247.2 L541.3,246.4 L541.5,246.7 L541.6,246.5 L541.8,245.4 L541.9,246.2 L542.1,246.4 L542.3,246.5 L542.4,246.5 L542.6,246.2 L542.8,247.1 L542.9,245.8 L543.1,245.5 L543.2,245.7 L543.4,246.8 L543.6,247.5 L543.7,246.8 L543.9,246.4 L544.0,245.9 L544.2,246.7 L544.4,246.8 L544.5,245.8 L544.7,247.3 L544.8,246.3 L545.0,246.4 L545.2,247.9 L545.3,246.8 L545.5,247.3 L545.7,247.5 L545.8,248.1 L546.0,247.9 L546.1,246.6 L546.3,247.1 L546.5,246.8 L546.6,247.7 L546.8,247.1 L546.9,247.0 L547.1,247.7 L547.3,247.8 L547.4,246.5 L547.6,246.8 L547.7,247.6 L547.9,247.1 L548.1,246.6 L548.2,245.8 L548.4,247.5 L548.5,246.4 L548.7,245.4 L548.9,246.8 L549.0,245.9 L549.2,248.6 L549.4,245.9 L549.5,246.7 L549.7,247.8 L549.8,246.0 L550.0,245.8 L550.2,245.7 L550.3,245.7 L550.5,246.6 L550.6,247.3 L550.8,247.4 L551.0,247.6 L551.1,248.0 L551.3,249.4 L551.4,249.7 L551.6,249.7 L551.8,251.0 L551.9,250.1 L552.1,249.7 L552.3,250.9 L552.4,249.4 L552.6,248.9 L552.7,248.1 L552.9,246.7 L553.1,247.6 L553.2,247.5 L553.4,246.9 L553.5,246.1 L553.7,246.9 L553.9,246.9 L554.0,246.0 L554.2,246.3 L554.3,246.3 L554.5,246.0 L554.7,247.4 L554.8,246.7 L555.0,247.4 L555.1,246.3 L555.3,246.4 L555.5,247.5 L555.6,245.7 L555.8,247.4 L556.0,245.8 L556.1,246.5 L556.3,247.2 L556.4,247.4 L556.6,246.8 L556.8,246.6 L556.9,247.2 L557.1,246.5 L557.2,247.9 L557.4,247.0 L557.6,246.9 L557.7,248.1 L557.9,246.6 L558.0,247.6 L558.2,248.4 L558.4,247.1 L558.5,246.9 L558.7,246.2 L558.9,247.1 L559.0,245.8 L559.2,245.7 L559.3,245.9 L559.5,245.7 L559.7,246.4 L559.8,247.1 L560.0,246.3 L560.1,246.0 L560.3,246.5 L560.5,246.8 L560.6,247.6 L560.8,246.1 L560.9,246.4 L561.1,247.4 L561.3,246.5 L561.4,246.0 L561.6,246.6 L561.8,246.0 L561.9,246.1 L562.1,247.6 L562.2,246.9 L562.4,246.5 L562.6,246.2 L562.7,245.8 L562.9,248.0 L563.0,246.7 L563.2,246.1 L563.4,245.7 L563.5,245.3 L563.7,247.0 L563.8,246.6 L564.0,247.0 L564.2,245.8 L564.3,247.2 L564.5,245.5 L564.6,245.7 L564.8,246.0 L565.0,247.8 L565.1,246.8 L565.3,245.9 L565.5,247.3 L565.6,246.4 L565.8,246.3 L565.9,245.6 L566.1,246.1 L566.3,246.1 L566.4,246.6 L566.6,246.3 L566.7,246.4 L566.9,245.7 L567.1,246.2 L567.2,245.4 L567.4,247.2 L567.5,245.3 L567.7,246.3 L567.9,245.6 L568.0,246.3 L568.2,245.8 L568.4,245.3 L568.5,246.6 L568.7,246.0 L568.8,246.1 L569.0,245.8 L569.2,247.0 L569.3,246.0 L569.5,245.7 L569.6,245.7 L569.8,245.7 L570.0,247.0 L570.1,245.2 L570.3,245.9 L570.4,245.0 L570.6,246.8 L570.8,246.9 L570.9,245.9 L571.1,247.1 L571.2,245.8 L571.4,246.4 L571.6,246.2 L571.7,245.9 L571.9,246.0 L572.1,244.8 L572.2,245.6 L572.4,247.0 L572.5,245.5 L572.7,247.1 L572.9,246.2 L573.0,247.1 L573.2,246.8 L573.3,244.9 L573.5,245.7 L573.7,246.1 L573.8,246.5 L574.0,246.4 L574.1,245.3 L574.3,247.0 L574.5,247.0 L574.6,245.7 L574.8,247.1 L575.0,246.2 L575.1,245.2 L575.3,245.9 L575.4,246.2 L575.6,246.3 L575.8,246.4 L575.9,246.1 L576.1,245.7 L576.2,245.0 L576.4,245.2 L576.6,246.3 L576.7,246.5 L576.9,245.5 L577.0,247.1 L577.2,245.7 L577.4,245.1 L577.5,246.1 L577.7,246.5 L577.9,245.7 L578.0,247.0 L578.2,246.5 L578.3,246.3 L578.5,245.8 L578.7,246.7 L578.8,245.1 L579.0,246.0 L579.1,245.9 L579.3,246.0 L579.5,246.2 L579.6,246.4 L579.8,245.0 L579.9,245.6 L580.1,245.7 L580.3,245.0 L580.4,246.1 L580.6,245.2 L580.7,245.6 L580.9,246.2 L581.1,244.7 L581.2,245.8 L581.4,244.8 L581.6,246.3 L581.7,245.6 L581.9,245.0 L582.0,245.5 L582.2,246.3 L582.4,245.9 L582.5,246.1 L582.7,246.7 L582.8,246.6 L583.0,245.8 L583.2,245.4 L583.3,246.9 L583.5,245.7 L583.6,245.3 L583.8,245.5 L584.0,246.2 L584.1,244.8 L584.3,246.2 L584.5,244.9 L584.6,244.3 L584.8,246.8 L584.9,245.3 L585.1,245.4 L585.3,245.5 L585.4,246.3 L585.6,246.1 L585.7,246.9 L585.9,245.9 L586.1,245.4 L586.2,245.6 L586.4,245.3 L586.5,245.4 L586.7,245.6 L586.9,245.7 L587.0,245.9 L587.2,245.8 L587.3,246.9 L587.5,247.9 L587.7,245.8 L587.8,245.2 L588.0,247.0 L588.2,246.4 L588.3,245.6 L588.5,245.1 L588.6,245.3 L588.8,244.9 L589.0,245.8 L589.1,245.5 L589.3,245.5 L589.4,246.1 L589.6,245.0 L589.8,245.4 L589.9,245.0 L590.1,245.4 L590.2,244.1 L590.4,245.9 L590.6,245.4 L590.7,247.7 L590.9,246.7 L591.1,245.6 L591.2,246.4 L591.4,245.9 L591.5,247.1 L591.7,244.9 L591.9,245.5 L592.0,245.9 L592.2,245.6 L592.3,245.7 L592.5,244.9 L592.7,245.6 L592.8,246.6 L593.0,245.8 L593.1,244.9 L593.3,245.4 L593.5,246.1 L593.6,245.4 L593.8,245.7 L594.0,245.4 L594.1,246.8 L594.3,246.3 L594.4,245.3 L594.6,246.0 L594.8,245.7 L594.9,244.6 L595.1,246.0 L595.2,245.6 L595.4,246.2 L595.6,246.3 L595.7,245.9 L595.9,246.9 L596.0,247.3 L596.2,244.9 L596.4,245.9 L596.5,245.1 L596.7,245.8 L596.8,245.9 L597.0,245.6 L597.2,245.5 L597.3,246.8 L597.5,245.1 L597.7,246.5 L597.8,245.7 L598.0,244.1 L598.1,245.8 L598.3,244.8 L598.5,246.2 L598.6,245.6 L598.8,246.0 L598.9,245.7 L599.1,246.5 L599.3,246.4 L599.4,245.5 L599.6,246.7 L599.7,246.2 L599.9,245.3 L600.1,246.2 L600.2,246.4 L600.4,246.5 L600.6,245.6 L600.7,245.8 L600.9,245.5 L601.0,245.7 L601.2,244.4 L601.4,245.9 L601.5,247.0 L601.7,245.6 L601.8,245.6 L602.0,245.6 L602.2,246.8 L602.3,245.1 L602.5,245.9 L602.6,246.0 L602.8,247.0 L603.0,245.6 L603.1,245.8 L603.3,244.9 L603.4,246.0 L603.6,246.2 L603.8,244.1 L603.9,244.2 L604.1,244.4 L604.3,246.0 L604.4,244.0 L604.6,240.1 L604.7,239.4 L604.9,244.2 L605.1,248.6 L605.2,249.5 L605.4,247.8 L605.5,245.8 L605.7,245.5 L605.9,245.9 L606.0,244.3 L606.2,244.4 L606.3,245.7 L606.5,245.6 L606.7,245.8 L606.8,246.4 L607.0,246.9 L607.2,245.5 L607.3,245.3 L607.5,245.6 L607.6,245.7 L607.8,245.8 L608.0,246.1 L608.1,245.9 L608.3,246.1 L608.4,245.9 L608.6,246.8 L608.8,246.5 L608.9,245.6 L609.1,246.1 L609.2,247.4 L609.4,245.7 L609.6,247.2 L609.7,244.4 L609.9,245.1 L610.1,245.2 L610.2,246.2 L610.4,246.6 L610.5,246.0 L610.7,245.8 L610.9,246.3 L611.0,245.7 L611.2,245.4 L611.3,245.4 L611.5,246.5 L611.7,247.2 L611.8,245.8 L612.0,246.2 L612.1,245.4 L612.3,244.5 L612.5,244.5 L612.6,245.4 L612.8,245.0 L612.9,244.7 L613.1,245.9 L613.3,245.7 L613.4,245.4 L613.6,246.0 L613.8,246.3 L613.9,246.4 L614.1,245.9 L614.2,246.2 L614.4,245.2 L614.6,246.0 L614.7,244.8 L614.9,244.9 L615.0,246.5 L615.2,244.9 L615.4,245.9 L615.5,244.7 L615.7,245.3 L615.8,245.7 L616.0,245.2 L616.2,246.0 L616.3,245.4 L616.5,245.5 L616.7,245.8 L616.8,245.5 L617.0,246.3 L617.1,245.1 L617.3,246.2 L617.5,245.0 L617.6,245.2 L617.8,245.2 L617.9,246.2 L618.1,243.9 L618.3,246.2 L618.4,246.0 L618.6,246.5 L618.7,244.9 L618.9,246.0 L619.1,244.9 L619.2,246.3 L619.4,245.5 L619.5,246.1 L619.7,245.3 L619.9,246.2 L620.0,246.6 L620.2,245.6 L620.4,246.7 L620.5,246.5 L620.7,245.2 L620.8,247.2 L621.0,245.2 L621.2,246.1 L621.3,246.6 L621.5,245.7 L621.6,245.4 L621.8,246.3 L622.0,246.0 L622.1,245.2 L622.3,245.2 L622.4,245.8 L622.6,246.3 L622.8,246.4 L622.9,246.0 L623.1,244.9 L623.3,245.0 L623.4,245.4 L623.6,244.4 L623.7,246.0 L623.9,245.9 L624.1,245.8 L624.2,243.4 L624.4,247.4 L624.5,245.1 L624.7,245.1 L624.9,245.6 L625.0,243.2 L625.2,244.5 L625.3,245.0 L625.5,246.9 L625.7,245.3 L625.8,246.3 L626.0,245.9 L626.2,245.7 L626.3,246.5 L626.5,245.2 L626.6,244.3 L626.8,245.8 L627.0,247.3 L627.1,249.7 L627.3,245.0 L627.4,244.7 L627.6,246.3 L627.8,246.7 L627.9,245.1 L628.1,247.1 L628.2,244.8 L628.4,247.5 L628.6,246.9 L628.7,244.7 L628.9,246.3 L629.0,244.6 L629.2,244.6 L629.4,247.8 L629.5,244.5 L629.7,246.9 L629.9,245.2 L630.0,245.6 L630.2,246.6 L630.3,246.7 L630.5,248.6 L630.7,247.1 L630.8,247.3 L631.0,243.6 L631.1,244.5 L631.3,248.2 L631.5,244.7 L631.6,245.5 L631.8,246.3 L631.9,244.9 L632.1,244.4 L632.3,246.6" stroke="#000" stroke-opacity="0.85" stroke-width="1.05"/>
<path d="M42.4,240.7 L42.5,240.3 L42.7,240.0 L42.8,239.9 L43.0,239.9 L43.2,239.9 L43.3,240.0 L43.5,240.2 L43.7,240.4 L43.8,240.7 L44.0,241.1 L44.1,241.7 L44.3,242.3 L44.5,242.9 L44.6,243.0 L44.8,242.8 L44.9,242.3 L45.1,241.7 L45.3,241.4 L45.4,241.4 L45.6,241.6 L45.7,241.8 L45.9,241.8 L46.1,241.7 L46.2,241.6 L46.4,241.7 L46.6,241.7 L46.7,241.4 L46.9,241.1 L47.0,240.6 L47.2,240.3 L47.4,240.1 L47.5,240.1 L47.7,240.1 L47.8,240.3 L48.0,240.4 L48.2,240.5 L48.3,240.4 L48.5,240.3 L48.6,240.1 L48.8,240.0 L49.0,239.8 L49.1,239.5 L49.3,239.3 L49.4,239.2 L49.6,239.4 L49.8,239.6 L49.9,239.8 L50.1,239.7 L50.3,239.6 L50.4,239.3 L50.6,239.2 L50.7,239.1 L50.9,239.3 L51.1,239.7 L51.2,240.2 L51.4,240.6 L51.5,240.9 L51.7,241.0 L51.9,240.8 L52.0,240.4 L52.2,240.1 L52.3,240.2 L52.5,240.6 L52.7,241.1 L52.8,241.4 L53.0,241.3 L53.2,240.9 L53.3,240.3 L53.5,239.8 L53.6,239.7 L53.8,239.8 L54.0,239.9 L54.1,239.9 L54.3,239.8 L54.4,239.9 L54.6,240.1 L54.8,240.4 L54.9,240.6 L55.1,240.8 L55.2,240.8 L55.4,240.5 L55.6,240.1 L55.7,239.7 L55.9,239.4 L56.1,239.4 L56.2,239.5 L56.4,239.6 L56.5,239.8 L56.7,240.2 L56.9,240.8 L57.0,241.5 L57.2,242.2 L57.3,242.7 L57.5,242.8 L57.7,242.3 L57.8,241.6 L58.0,240.8 L58.1,240.5 L58.3,240.5 L58.5,240.6 L58.6,240.7 L58.8,240.7 L58.9,240.7 L59.1,240.7 L59.3,240.8 L59.4,241.0 L59.6,241.4 L59.8,241.7 L59.9,241.9 L60.1,242.0 L60.2,241.9 L60.4,241.7 L60.6,241.7 L60.7,241.9 L60.9,242.4 L61.0,243.2 L61.2,244.0 L61.4,244.7 L61.5,245.0 L61.7,245.1 L61.8,244.9 L61.8,244.7 L61.9,244.4 L62.0,244.1 L62.0,243.8 L62.0,243.6 L62.1,242.9 L62.2,236.7 L62.2,213.7 L62.3,194.7 L62.3,200.5 L62.4,214.2 L62.4,237.2 L62.5,243.3 L62.6,243.9 L62.6,244.0 L62.7,244.2 L62.7,244.4 L62.7,244.3 L62.8,243.8 L63.0,243.2 L63.1,242.6 L63.3,242.4 L63.5,242.5 L63.6,242.6 L63.8,242.7 L63.9,242.7 L64.1,242.6 L64.3,242.6 L64.4,242.5 L64.6,242.4 L64.7,242.0 L64.9,241.7 L65.1,241.5 L65.2,241.3 L65.4,241.3 L65.5,241.4 L65.7,241.7 L65.9,242.0 L66.0,242.2 L66.2,242.0 L66.4,241.7 L66.5,241.4 L66.7,241.2 L66.8,241.2 L67.0,241.4 L67.2,241.6 L67.3,241.7 L67.5,241.7 L67.6,241.5 L67.8,241.1 L68.0,240.8 L68.1,240.8 L68.3,240.8 L68.4,240.8 L68.6,240.8 L68.8,240.7 L68.9,240.4 L69.1,240.1 L69.3,239.8 L69.4,239.6 L69.6,239.7 L69.7,240.0 L69.9,240.3 L70.1,240.3 L70.2,240.0 L70.4,239.6 L70.5,239.2 L70.7,239.0 L70.9,238.8 L71.0,238.8 L71.2,239.0 L71.3,239.2 L71.5,239.3 L71.7,239.3 L71.8,239.1 L72.0,238.6 L72.2,238.4 L72.3,238.5 L72.5,239.2 L72.6,240.0 L72.8,240.7 L73.0,241.0 L73.1,241.0 L73.3,241.1 L73.4,241.3 L73.6,241.6 L73.8,241.7 L73.9,241.4 L74.1,241.1 L74.2,241.0 L74.4,241.2 L74.6,241.6 L74.7,241.8 L74.9,241.9 L75.0,241.8 L75.2,241.5 L75.4,241.1 L75.5,240.8 L75.7,240.9 L75.9,241.1 L76.0,241.4 L76.2,241.5 L76.3,241.3 L76.5,240.8 L76.7,240.3 L76.8,239.7 L77.0,239.3 L77.1,239.2 L77.3,239.4 L77.5,239.7 L77.6,240.1 L77.8,240.5 L77.9,240.6 L78.1,240.5 L78.3,240.2 L78.4,239.9 L78.6,239.8 L78.8,239.9 L78.9,240.3 L79.1,241.1 L79.2,242.1 L79.4,242.9 L79.6,243.2 L79.7,242.8 L79.9,241.9 L80.0,241.1 L80.2,240.6 L80.4,240.3 L80.5,240.1 L80.6,239.9 L80.7,239.6 L80.7,239.5 L80.7,239.4 L80.8,239.3 L80.8,239.2 L80.9,239.3 L81.0,239.3 L81.0,239.2 L81.0,238.8 L81.1,238.0 L81.2,238.9 L81.2,240.1 L81.3,240.3 L81.3,240.0 L81.4,239.6 L81.4,239.1 L81.5,238.9 L81.6,239.1 L81.6,239.7 L81.6,240.3 L81.8,240.8 L82.0,240.9 L82.1,240.8 L82.3,240.7 L82.5,240.5 L82.6,240.2 L82.8,239.8 L82.9,239.4 L83.1,239.1 L83.3,239.2 L83.4,239.5 L83.6,239.9 L83.7,240.1 L83.9,239.9 L84.1,239.4 L84.2,238.9 L84.4,238.7 L84.5,238.9 L84.7,239.3 L84.9,239.6 L85.0,239.8 L85.2,239.7 L85.4,239.4 L85.5,239.3 L85.7,239.4 L85.8,239.7 L86.0,239.9 L86.2,239.8 L86.3,239.7 L86.5,239.7 L86.6,240.1 L86.8,240.4 L87.0,240.6 L87.1,240.6 L87.3,240.5 L87.4,240.5 L87.6,240.7 L87.8,241.0 L87.9,241.3 L88.1,241.4 L88.2,241.3 L88.4,241.0 L88.6,240.6 L88.7,240.1 L88.9,239.8 L89.1,239.8 L89.2,240.0 L89.4,240.4 L89.5,240.5 L89.7,240.5 L89.9,240.2 L90.0,239.9 L90.2,239.9 L90.3,240.2 L90.5,240.7 L90.7,241.2 L90.8,241.5 L91.0,241.5 L91.1,241.1 L91.3,240.6 L91.5,239.9 L91.6,239.3 L91.8,239.0 L92.0,238.8 L92.1,239.0 L92.3,239.5 L92.4,240.1 L92.6,240.6 L92.8,240.8 L92.9,240.6 L93.1,240.3 L93.2,240.5 L93.4,240.8 L93.6,241.2 L93.7,241.2 L93.9,241.1 L94.0,240.8 L94.2,240.7 L94.4,240.6 L94.5,240.6 L94.7,240.5 L94.9,240.3 L95.0,239.9 L95.2,239.6 L95.3,239.6 L95.5,240.1 L95.7,240.8 L95.8,241.7 L96.0,242.2 L96.1,242.3 L96.3,242.0 L96.5,241.6 L96.6,241.4 L96.8,241.5 L96.9,241.7 L97.1,241.5 L97.3,240.9 L97.4,240.3 L97.6,240.1 L97.7,240.5 L97.9,241.1 L98.1,241.6 L98.2,241.9 L98.4,242.0 L98.6,241.8 L98.7,241.5 L98.9,240.9 L99.0,240.3 L99.2,239.9 L99.4,239.9 L99.5,240.2 L99.7,240.7 L99.8,241.2 L100.0,241.8 L100.2,242.2 L100.3,242.3 L100.5,242.1 L100.6,241.7 L100.8,241.3 L101.0,241.3 L101.1,241.6 L101.3,242.1 L101.5,242.5 L101.6,242.9 L101.8,243.3 L101.9,243.9 L102.1,244.7 L102.3,245.3 L102.4,245.6 L102.6,245.3 L102.7,244.6 L102.9,243.5 L103.1,242.4 L103.2,241.4 L103.4,240.8 L103.5,240.5 L103.7,240.5 L103.9,240.6 L104.0,240.3 L104.2,240.0 L104.4,239.9 L104.5,240.2 L104.7,240.8 L104.8,241.4 L105.0,241.7 L105.2,241.6 L105.3,241.4 L105.5,241.2 L105.6,241.1 L105.8,241.3 L106.0,241.6 L106.1,241.8 L106.3,242.0 L106.4,242.1 L106.6,242.2 L106.8,242.3 L106.9,242.5 L107.1,242.5 L107.2,242.3 L107.4,242.1 L107.6,241.9 L107.7,241.9 L107.9,241.9 L108.1,241.8 L108.2,241.5 L108.4,241.1 L108.5,240.8 L108.7,240.7 L108.9,240.8 L109.0,241.0 L109.2,241.1 L109.3,241.1 L109.5,241.0 L109.7,240.9 L109.8,241.0 L110.0,241.1 L110.1,241.2 L110.3,241.2 L110.5,241.2 L110.6,241.2 L110.8,241.5 L111.0,241.8 L111.1,242.1 L111.3,242.3 L111.4,242.4 L111.6,242.3 L111.8,242.1 L111.9,242.1 L112.1,242.3 L112.2,242.4 L112.4,242.5 L112.6,242.3 L112.7,242.0 L112.9,241.8 L113.0,241.6 L113.2,241.5 L113.4,241.6 L113.5,241.8 L113.7,242.0 L113.8,242.0 L114.0,241.7 L114.2,241.1 L114.3,240.7 L114.5,240.5 L114.7,240.3 L114.8,240.3 L115.0,240.4 L115.1,240.8 L115.3,241.4 L115.5,242.0 L115.6,242.2 L115.8,241.9 L115.9,241.5 L116.1,241.4 L116.3,241.5 L116.4,241.6 L116.6,241.7 L116.7,241.7 L116.9,241.7 L117.1,241.7 L117.2,241.6 L117.4,241.5 L117.6,241.6 L117.7,241.7 L117.9,241.6 L118.0,241.2 L118.2,240.8 L118.4,240.8 L118.5,241.2 L118.7,241.7 L118.8,242.0 L119.0,241.9 L119.2,241.6 L119.3,241.4 L119.5,241.2 L119.6,240.9 L119.8,240.5 L120.0,239.9 L120.1,239.5 L120.3,239.5 L120.5,239.9 L120.6,240.5 L120.8,241.1 L120.9,241.4 L121.1,241.4 L121.3,241.3 L121.4,241.1 L121.6,240.9 L121.7,240.8 L121.9,240.9 L122.1,241.1 L122.2,241.4 L122.4,241.5 L122.5,241.5 L122.7,241.4 L122.9,241.3 L123.0,241.4 L123.2,241.7 L123.3,241.9 L123.5,242.1 L123.7,242.2 L123.8,242.2 L124.0,242.0 L124.2,241.6 L124.3,241.4 L124.5,241.3 L124.6,241.3 L124.8,241.5 L125.0,241.6 L125.1,241.6 L125.3,241.5 L125.4,241.4 L125.6,241.2 L125.8,241.0 L125.9,240.9 L126.1,240.9 L126.2,240.9 L126.4,241.0 L126.6,240.9 L126.7,240.7 L126.9,240.5 L127.1,240.4 L127.2,240.4 L127.4,240.5 L127.5,240.4 L127.7,240.4 L127.9,240.4 L128.0,240.4 L128.2,240.3 L128.3,240.0 L128.5,239.8 L128.7,239.9 L128.8,240.2 L129.0,240.7 L129.1,241.3 L129.3,241.8 L129.5,242.2 L129.6,242.4 L129.8,242.3 L129.9,241.9 L130.1,241.3 L130.3,240.5 L130.4,239.8 L130.6,239.3 L130.8,239.1 L130.9,239.3 L131.1,239.9 L131.2,240.6 L131.4,241.0 L131.6,241.0 L131.7,240.7 L131.9,240.3 L132.0,240.1 L132.2,240.1 L132.4,240.1 L132.5,240.0 L132.7,239.7 L132.8,239.6 L133.0,239.6 L133.2,239.9 L133.3,240.5 L133.5,241.0 L133.7,241.4 L133.8,241.5 L134.0,241.4 L134.1,241.3 L134.3,241.5 L134.5,241.8 L134.6,242.1 L134.8,242.4 L134.9,242.4 L135.1,242.1 L135.3,241.6 L135.4,241.1 L135.6,240.8 L135.7,240.8 L135.9,241.1 L136.1,241.3 L136.2,241.3 L136.4,240.9 L136.6,240.1 L136.7,239.4 L136.9,238.9 L137.0,238.9 L137.2,239.1 L137.4,239.5 L137.5,239.8 L137.7,239.8 L137.8,239.6 L138.0,239.4 L138.2,239.3 L138.3,239.4 L138.5,239.5 L138.6,239.6 L138.8,239.6 L139.0,239.7 L139.1,239.9 L139.3,240.2 L139.4,240.4 L139.6,240.4 L139.8,240.5 L139.9,240.8 L140.1,241.1 L140.3,241.4 L140.4,241.5 L140.6,241.4 L140.7,241.0 L140.9,240.6 L141.1,240.2 L141.2,240.0 L141.4,240.0 L141.5,240.1 L141.7,240.2 L141.9,240.5 L142.0,240.9 L142.2,241.1 L142.3,241.0 L142.5,240.9 L142.7,240.8 L142.8,240.8 L143.0,240.8 L143.2,240.8 L143.3,240.7 L143.5,240.5 L143.6,240.1 L143.8,239.5 L144.0,238.8 L144.1,238.3 L144.3,238.3 L144.4,238.6 L144.6,239.1 L144.8,239.7 L144.9,240.2 L145.1,240.7 L145.2,241.1 L145.4,241.5 L145.6,241.9 L145.7,242.1 L145.9,242.0 L146.0,241.7 L146.2,241.3 L146.4,240.9 L146.5,240.6 L146.7,240.5 L146.9,240.7 L147.0,240.9 L147.2,241.1 L147.3,241.2 L147.5,241.1 L147.7,241.0 L147.8,241.0 L148.0,241.1 L148.1,241.2 L148.3,241.3 L148.5,241.4 L148.6,241.3 L148.8,241.0 L148.9,240.3 L149.1,239.6 L149.3,239.1 L149.4,239.0 L149.6,239.0 L149.8,239.2 L149.9,239.4 L150.1,239.6 L150.2,239.6 L150.4,239.5 L150.6,239.3 L150.7,239.1 L150.9,238.9 L151.0,239.0 L151.2,239.4 L151.4,240.1 L151.5,240.6 L151.7,240.7 L151.8,240.7 L152.0,240.6 L152.2,240.8 L152.3,241.2 L152.5,241.5 L152.7,241.6 L152.8,241.7 L153.0,241.8 L153.1,241.8 L153.3,241.7 L153.5,241.3 L153.6,240.6 L153.8,239.9 L153.9,239.6 L154.1,239.9 L154.3,240.7 L154.4,241.6 L154.6,242.1 L154.7,242.4 L154.9,242.3 L155.1,242.2 L155.2,242.1 L155.4,242.0 L155.5,241.8 L155.7,241.5 L155.9,241.3 L156.0,241.3 L156.2,241.5 L156.4,241.6 L156.5,241.5 L156.7,241.1 L156.8,240.2 L157.0,239.2 L157.2,238.7 L157.3,238.7 L157.5,239.1 L157.6,239.5 L157.8,239.9 L158.0,240.3 L158.1,240.6 L158.3,240.9 L158.4,241.1 L158.6,241.2 L158.8,241.2 L158.9,240.9 L159.1,240.5 L159.3,240.2 L159.4,240.0 L159.6,240.1 L159.7,240.3 L159.9,240.5 L160.1,240.6 L160.2,240.5 L160.4,240.3 L160.5,240.1 L160.7,240.0 L160.9,240.1 L161.0,240.3 L161.2,240.6 L161.3,240.9 L161.5,241.2 L161.7,241.4 L161.8,241.4 L162.0,241.0 L162.1,240.6 L162.3,240.3 L162.5,240.3 L162.6,240.6 L162.8,240.9 L163.0,241.1 L163.1,241.4 L163.3,241.8 L163.4,242.2 L163.6,242.6 L163.8,242.6 L163.9,242.2 L164.1,241.6 L164.2,241.0 L164.4,240.6 L164.6,240.6 L164.7,241.1 L164.9,241.7 L165.0,242.2 L165.2,242.3 L165.4,242.2 L165.5,242.1 L165.7,241.9 L165.9,241.7 L166.0,241.3 L166.2,240.9 L166.3,240.5 L166.5,240.2 L166.7,240.0 L166.8,239.8 L167.0,239.8 L167.1,240.0 L167.3,240.3 L167.5,240.8 L167.6,241.2 L167.8,241.4 L167.9,241.3 L168.1,241.2 L168.3,241.0 L168.4,241.1 L168.6,241.4 L168.8,241.8 L168.9,242.0 L169.1,242.0 L169.2,241.8 L169.4,241.6 L169.6,241.4 L169.7,241.2 L169.9,240.9 L170.0,240.6 L170.2,240.2 L170.4,239.9 L170.5,240.0 L170.7,240.4 L170.8,240.9 L171.0,241.3 L171.2,241.5 L171.3,241.7 L171.5,241.8 L171.6,242.1 L171.8,242.3 L172.0,242.7 L172.1,242.9 L172.3,243.0 L172.5,242.8 L172.6,242.5 L172.8,242.1 L172.9,241.9 L173.1,241.7 L173.3,241.4 L173.4,241.1 L173.6,240.9 L173.7,241.0 L173.9,241.2 L174.1,241.4 L174.2,241.5 L174.4,241.4 L174.5,241.1 L174.7,240.6 L174.9,240.2 L175.0,240.1 L175.2,240.2 L175.4,240.2 L175.5,240.1 L175.7,239.9 L175.8,239.8 L176.0,239.9 L176.2,240.1 L176.3,240.4 L176.5,240.6 L176.6,241.0 L176.8,241.3 L177.0,241.6 L177.1,241.5 L177.3,241.0 L177.4,240.6 L177.6,240.2 L177.8,240.1 L177.9,240.1 L178.1,239.9 L178.2,239.7 L178.4,239.4 L178.6,239.4 L178.7,239.6 L178.9,239.9 L179.1,240.2 L179.2,240.4 L179.4,240.6 L179.5,240.6 L179.7,240.7 L179.9,240.8 L180.0,241.0 L180.2,241.1 L180.3,241.3 L180.5,241.4 L180.7,241.5 L180.8,241.4 L181.0,241.4 L181.1,241.3 L181.3,241.4 L181.5,241.4 L181.6,241.3 L181.8,241.0 L182.0,240.4 L182.1,239.7 L182.3,239.1 L182.4,239.1 L182.6,239.4 L182.8,239.8 L182.9,240.1 L183.1,240.3 L183.2,240.4 L183.4,240.4 L183.6,240.4 L183.7,240.3 L183.9,240.4 L184.0,240.5 L184.2,240.6 L184.4,240.7 L184.5,240.8 L184.7,241.0 L184.9,241.3 L185.0,241.5 L185.2,241.5 L185.3,241.3 L185.5,240.9 L185.7,240.7 L185.8,240.7 L186.0,240.9 L186.1,241.1 L186.3,241.2 L186.5,241.3 L186.6,241.2 L186.8,241.3 L186.9,241.3 L187.1,241.4 L187.3,241.4 L187.4,241.5 L187.6,241.5 L187.7,241.4 L187.9,241.1 L188.1,240.8 L188.2,240.6 L188.4,240.6 L188.6,240.7 L188.7,240.9 L188.9,241.2 L189.0,241.4 L189.2,241.6 L189.4,241.8 L189.5,241.9 L189.7,241.9 L189.8,241.8 L190.0,241.6 L190.2,241.3 L190.3,240.9 L190.5,240.5 L190.6,240.2 L190.8,240.0 L191.0,240.0 L191.1,240.2 L191.3,240.5 L191.5,240.7 L191.6,240.8 L191.8,240.9 L191.9,241.3 L192.1,241.8 L192.3,241.9 L192.4,241.8 L192.6,241.5 L192.7,241.4 L192.9,241.4 L193.1,241.6 L193.2,241.9 L193.4,242.5 L193.5,243.2 L193.7,244.0 L193.9,244.7 L194.0,245.0 L194.2,245.1 L194.3,244.9 L194.5,244.6 L194.7,244.3 L194.8,243.9 L195.0,243.5 L195.2,243.0 L195.3,242.3 L195.5,241.6 L195.6,241.1 L195.8,240.9 L196.0,240.8 L196.1,240.8 L196.3,240.8 L196.4,240.8 L196.6,240.9 L196.8,241.1 L196.9,241.3 L197.1,241.4 L197.2,241.4 L197.4,241.3 L197.6,241.2 L197.7,241.1 L197.9,241.1 L198.1,241.0 L198.2,240.7 L198.4,240.4 L198.5,240.0 L198.7,239.6 L198.9,239.4 L199.0,239.5 L199.2,239.9 L199.3,240.4 L199.5,240.7 L199.7,241.0 L199.8,241.2 L200.0,241.5 L200.1,242.0 L200.3,242.4 L200.5,242.6 L200.6,242.5 L200.8,242.3 L201.0,242.1 L201.1,242.0 L201.3,242.1 L201.4,242.3 L201.6,242.7 L201.8,243.1 L201.9,243.1 L202.1,242.8 L202.2,242.2 L202.4,241.7 L202.6,241.4 L202.7,241.3 L202.9,241.3 L203.0,241.2 L203.2,240.9 L203.4,240.5 L203.5,240.1 L203.7,240.0 L203.8,240.2 L204.0,240.5 L204.2,240.7 L204.3,240.7 L204.5,240.5 L204.7,240.4 L204.8,240.5 L205.0,240.7 L205.1,241.0 L205.3,241.1 L205.5,241.3 L205.6,241.4 L205.8,241.5 L205.9,241.4 L206.1,241.0 L206.3,240.5 L206.4,240.2 L206.6,240.3 L206.7,240.7 L206.9,241.0 L207.1,241.2 L207.2,241.1 L207.4,241.0 L207.6,240.9 L207.7,240.8 L207.9,241.0 L208.0,241.5 L208.2,242.1 L208.4,242.5 L208.5,242.5 L208.7,242.2 L208.8,241.6 L209.0,240.8 L209.2,240.2 L209.3,239.8 L209.5,239.8 L209.6,240.0 L209.8,240.4 L210.0,240.7 L210.1,241.2 L210.3,241.6 L210.4,241.9 L210.6,242.1 L210.8,242.2 L210.9,242.3 L211.1,242.3 L211.3,242.0 L211.4,241.6 L211.6,241.3 L211.7,241.1 L211.9,241.2 L212.1,241.4 L212.2,241.7 L212.4,241.8 L212.5,241.8 L212.7,241.7 L212.9,241.6 L213.0,241.5 L213.2,241.3 L213.3,241.0 L213.5,240.6 L213.7,240.2 L213.8,239.9 L214.0,239.8 L214.2,239.8 L214.3,239.9 L214.5,239.9 L214.6,240.1 L214.8,240.6 L215.0,241.1 L215.1,241.5 L215.3,241.6 L215.4,241.7 L215.6,241.7 L215.8,241.9 L215.9,242.1 L216.1,242.2 L216.2,242.1 L216.4,241.8 L216.6,241.4 L216.7,241.1 L216.9,240.9 L217.1,240.8 L217.2,241.0 L217.4,241.2 L217.5,241.3 L217.7,241.4 L217.9,241.4 L218.0,241.4 L218.2,241.5 L218.3,241.7 L218.5,241.9 L218.7,242.1 L218.8,242.1 L219.0,242.1 L219.1,242.1 L219.3,242.4 L219.5,242.8 L219.6,243.2 L219.8,243.3 L219.9,242.9 L220.1,242.4 L220.3,242.0 L220.4,241.8 L220.6,241.7 L220.8,241.5 L220.9,241.1 L221.1,240.8 L221.2,240.4 L221.4,240.1 L221.6,239.9 L221.7,240.1 L221.9,240.5 L222.0,241.1 L222.2,241.6 L222.4,242.1 L222.5,242.4 L222.7,242.4 L222.8,242.2 L223.0,241.9 L223.2,241.6 L223.3,241.4 L223.5,241.5 L223.7,241.6 L223.8,241.7 L224.0,241.8 L224.1,242.0 L224.3,242.4 L224.5,242.8 L224.6,243.0 L224.8,243.0 L224.9,242.8 L225.1,242.6 L225.3,242.5 L225.4,242.5 L225.6,242.4 L225.7,242.5 L225.9,242.7 L226.1,243.0 L226.2,243.2 L226.4,243.2 L226.5,243.1 L226.7,243.0 L226.9,242.9 L227.0,242.8 L227.2,242.8 L227.4,242.8 L227.5,242.8 L227.7,242.9 L227.8,243.1 L228.0,243.2 L228.2,243.2 L228.3,243.0 L228.5,242.7 L228.6,242.3 L228.8,241.9 L229.0,241.6 L229.1,241.4 L229.3,241.2 L229.4,241.0 L229.6,241.0 L229.8,241.3 L229.9,241.7 L230.1,242.1 L230.3,242.5 L230.4,242.8 L230.6,243.0 L230.7,243.2 L230.9,243.4 L231.1,243.4 L231.2,243.1 L231.4,242.6 L231.5,242.2 L231.7,242.1 L231.9,242.2 L232.0,242.4 L232.2,242.4 L232.3,242.3 L232.5,242.1 L232.7,242.0 L232.8,242.1 L233.0,242.6 L233.2,243.1 L233.3,243.5 L233.5,243.5 L233.6,243.2 L233.8,242.9 L234.0,242.6 L234.1,242.4 L234.3,242.3 L234.4,242.3 L234.6,242.4 L234.8,242.4 L234.9,242.3 L235.1,241.9 L235.2,241.5 L235.4,241.1 L235.6,240.9 L235.7,241.0 L235.9,241.4 L236.0,241.8 L236.2,242.3 L236.4,242.5 L236.5,242.5 L236.7,242.4 L236.9,242.3 L237.0,242.2 L237.2,242.1 L237.3,241.8 L237.5,241.6 L237.7,241.6 L237.8,241.7 L238.0,242.1 L238.1,242.6 L238.3,243.1 L238.5,243.3 L238.6,243.2 L238.8,243.0 L238.9,242.6 L239.1,242.4 L239.3,242.3 L239.4,242.3 L239.6,242.4 L239.8,242.5 L239.9,242.6 L240.1,242.6 L240.2,242.5 L240.4,242.5 L240.6,242.6 L240.7,242.6 L240.9,242.6 L241.0,242.5 L241.2,242.3 L241.4,242.1 L241.5,241.9 L241.7,241.6 L241.8,241.5 L242.0,241.5 L242.2,241.6 L242.3,241.7 L242.5,241.7 L242.6,241.6 L242.8,241.6 L243.0,241.7 L243.1,241.9 L243.3,242.1 L243.5,242.1 L243.6,241.9 L243.8,241.6 L243.9,241.4 L244.1,241.3 L244.3,241.4 L244.4,241.8 L244.6,242.4 L244.7,242.9 L244.9,243.1 L245.1,242.9 L245.2,242.5 L245.4,242.1 L245.5,241.7 L245.7,241.4 L245.9,241.4 L246.0,241.6 L246.2,241.9 L246.4,242.2 L246.5,242.3 L246.7,242.4 L246.8,242.4 L247.0,242.4 L247.2,242.5 L247.3,242.6 L247.5,242.7 L247.6,242.6 L247.8,242.4 L248.0,242.3 L248.1,242.3 L248.3,242.4 L248.4,242.5 L248.6,242.5 L248.8,242.6 L248.9,242.8 L249.1,243.0 L249.2,243.1 L249.4,242.9 L249.6,242.6 L249.7,242.2 L249.9,242.1 L250.1,242.1 L250.2,242.0 L250.4,241.9 L250.5,241.9 L250.7,242.1 L250.9,242.2 L251.0,242.0 L251.2,241.7 L251.3,241.4 L251.5,241.3 L251.7,241.5 L251.8,241.8 L252.0,242.2 L252.1,242.4 L252.3,242.5 L252.5,242.4 L252.6,242.3 L252.8,242.2 L253.0,242.3 L253.1,242.6 L253.3,242.9 L253.4,243.2 L253.6,243.4 L253.8,243.6 L253.9,243.7 L254.1,243.9 L254.2,244.0 L254.4,244.0 L254.6,243.8 L254.7,243.4 L254.9,243.0 L255.0,242.6 L255.2,242.5 L255.4,242.5 L255.5,242.5 L255.7,242.5 L255.9,242.4 L256.0,242.4 L256.2,242.5 L256.3,242.7 L256.5,242.9 L256.7,243.0 L256.8,243.0 L257.0,243.0 L257.1,243.0 L257.3,242.9 L257.5,242.7 L257.6,242.6 L257.8,242.5 L257.9,242.6 L258.1,242.7 L258.3,242.9 L258.4,243.0 L258.6,243.0 L258.7,243.1 L258.9,243.0 L259.1,242.8 L259.2,242.6 L259.4,242.4 L259.6,242.3 L259.7,242.3 L259.9,242.2 L260.0,242.1 L260.2,242.1 L260.4,242.2 L260.5,242.4 L260.7,242.6 L260.8,242.8 L261.0,242.7 L261.2,242.5 L261.3,242.3 L261.5,242.1 L261.6,242.0 L261.8,242.0 L262.0,242.0 L262.1,242.0 L262.3,242.2 L262.5,242.5 L262.6,242.8 L262.8,243.1 L262.9,243.2 L263.1,243.2 L263.3,243.1 L263.4,242.9 L263.6,242.7 L263.7,242.5 L263.9,242.3 L264.1,242.3 L264.2,242.3 L264.4,242.5 L264.5,242.6 L264.7,242.7 L264.9,242.7 L265.0,242.8 L265.2,242.8 L265.4,242.8 L265.5,242.7 L265.7,242.7 L265.8,242.7 L266.0,242.7 L266.2,242.8 L266.3,242.8 L266.5,242.7 L266.6,242.5 L266.8,242.5 L267.0,242.5 L267.1,242.5 L267.3,242.6 L267.4,242.6 L267.6,242.6 L267.8,242.6 L267.9,242.6 L268.1,242.7 L268.2,242.8 L268.4,242.9 L268.6,242.9 L268.7,242.9 L268.9,242.9 L269.1,242.9 L269.2,242.9 L269.4,242.8 L269.5,242.8 L269.7,242.8 L269.9,242.8 L270.0,242.7 L270.2,242.6 L270.3,242.5 L270.5,242.5 L270.7,242.6 L270.8,242.6 L271.0,242.7 L271.1,242.7 L271.3,242.7 L271.5,242.7 L271.6,242.6 L271.8,242.6 L272.0,242.6 L272.1,242.7 L272.3,242.7 L272.4,242.8 L272.6,242.8 L272.8,242.8 L272.9,242.7 L273.1,242.6 L273.2,242.5 L273.4,242.5 L273.6,242.5 L273.7,242.6 L273.9,242.7 L274.0,242.8 L274.2,242.8 L274.4,242.8 L274.5,242.7 L274.7,242.7 L274.8,242.8 L275.0,242.8 L275.2,242.8 L275.3,242.8 L275.5,242.7 L275.7,242.7 L275.8,242.7 L276.0,242.7 L276.1,242.7 L276.3,242.6 L276.5,242.5 L276.6,242.4 L276.8,242.4 L276.9,242.4 L277.1,242.6 L277.3,242.7 L277.4,242.8 L277.6,242.8 L277.7,242.8 L277.9,242.8 L278.1,242.7 L278.2,242.7 L278.4,242.7 L278.6,242.6 L278.7,242.6 L278.9,242.5 L279.0,242.4 L279.1,242.3 L279.1,242.3 L279.2,242.3 L279.3,242.4 L279.3,242.4 L279.4,242.4 L279.4,242.2 L279.5,240.4 L279.5,233.4 L279.6,227.5 L279.6,233.5 L279.7,237.7 L279.7,240.6 L279.8,242.6 L279.8,242.9 L279.9,242.9 L280.0,243.0 L280.0,242.9 L280.0,242.9 L280.1,242.9 L280.2,243.0 L280.3,243.2 L280.5,243.5 L280.6,244.0 L280.8,244.6 L281.0,245.2 L281.0,245.4 L281.1,245.6 L281.1,245.7 L281.2,245.9 L281.3,245.9 L281.3,245.6 L281.3,243.6 L281.4,214.7 L281.4,105.0 L281.5,13.3 L281.6,105.0 L281.6,170.7 L281.6,214.8 L281.7,243.6 L281.8,246.0 L281.8,246.0 L281.9,245.8 L281.9,245.7 L282.0,245.6 L282.0,245.4 L282.1,245.2 L282.3,244.7 L282.4,244.2 L282.6,243.8 L282.7,243.5 L282.9,243.2 L283.1,242.9 L283.2,242.8 L283.4,242.7 L283.5,242.6 L283.7,242.5 L283.8,242.5 L283.8,242.5 L283.9,242.5 L283.9,242.5 L284.0,242.5 L284.0,242.0 L284.1,236.7 L284.2,216.6 L284.2,204.8 L284.2,199.8 L284.3,216.6 L284.3,236.8 L284.4,242.1 L284.5,242.6 L284.5,242.6 L284.5,242.6 L284.6,242.6 L284.7,242.6 L284.7,242.7 L284.8,242.8 L285.0,242.8 L285.2,242.8 L285.3,242.7 L285.5,242.6 L285.6,242.5 L285.8,242.4 L286.0,242.4 L286.1,242.3 L286.3,242.3 L286.4,242.4 L286.6,242.4 L286.8,242.5 L286.9,242.6 L287.1,242.6 L287.2,242.7 L287.4,242.8 L287.6,242.8 L287.7,242.8 L287.9,242.8 L288.1,242.8 L288.2,242.8 L288.4,242.8 L288.5,242.7 L288.7,242.7 L288.9,242.7 L289.0,242.7 L289.2,242.6 L289.3,242.6 L289.5,242.6 L289.7,242.6 L289.8,242.6 L290.0,242.6 L290.1,242.6 L290.3,242.6 L290.5,242.6 L290.6,242.7 L290.8,242.8 L290.9,242.8 L291.1,242.9 L291.3,242.9 L291.4,242.8 L291.6,242.8 L291.8,242.7 L291.9,242.6 L292.1,242.6 L292.2,242.6 L292.4,242.5 L292.6,242.5 L292.7,242.5 L292.9,242.5 L293.0,242.5 L293.2,242.6 L293.4,242.6 L293.5,242.6 L293.7,242.5 L293.8,242.5 L294.0,242.5 L294.2,242.5 L294.3,242.6 L294.5,242.6 L294.7,242.6 L294.8,242.6 L295.0,242.6 L295.1,242.5 L295.3,242.5 L295.5,242.5 L295.6,242.5 L295.8,242.5 L295.9,242.4 L296.1,242.3 L296.3,242.3 L296.4,242.3 L296.6,242.3 L296.7,242.4 L296.9,242.5 L297.1,242.6 L297.2,242.6 L297.4,242.7 L297.6,242.7 L297.7,242.7 L297.9,242.6 L298.0,242.6 L298.2,242.6 L298.4,242.6 L298.5,242.6 L298.7,242.6 L298.8,242.6 L299.0,242.6 L299.2,242.6 L299.3,242.6 L299.5,242.6 L299.6,242.6 L299.8,242.6 L300.0,242.5 L300.1,242.5 L300.3,242.4 L300.4,242.4 L300.6,242.4 L300.8,242.5 L300.8,242.6 L300.9,242.7 L300.9,242.8 L301.0,242.8 L301.0,242.7 L301.1,242.7 L301.2,242.5 L301.2,240.4 L301.3,237.2 L301.3,232.5 L301.3,225.8 L301.4,232.5 L301.5,240.5 L301.5,242.6 L301.6,242.7 L301.6,242.7 L301.7,242.6 L301.7,242.6 L301.8,242.6 L301.9,242.6 L301.9,242.6 L302.1,242.7 L302.2,242.6 L302.4,242.6 L302.5,242.6 L302.6,242.5 L302.7,242.5 L302.8,242.4 L302.8,242.4 L302.9,242.3 L302.9,242.3 L303.0,242.1 L303.0,240.5 L303.1,234.7 L303.2,229.8 L303.2,231.3 L303.2,234.8 L303.3,240.8 L303.3,242.4 L303.4,242.5 L303.5,242.5 L303.5,242.5 L303.5,242.5 L303.6,242.5 L303.7,242.6 L303.8,242.6 L304.0,242.6 L304.2,242.6 L304.3,242.6 L304.5,242.6 L304.6,242.6 L304.8,242.6 L305.0,242.6 L305.1,242.6 L305.3,242.5 L305.4,242.5 L305.6,242.5 L305.8,242.5 L305.9,242.5 L306.1,242.5 L306.2,242.5 L306.4,242.5 L306.6,242.5 L306.7,242.5 L306.9,242.5 L307.0,242.4 L307.2,242.4 L307.4,242.4 L307.5,242.4 L307.7,242.4 L307.9,242.3 L308.0,242.3 L308.2,242.4 L308.3,242.5 L308.5,242.6 L308.7,242.6 L308.8,242.6 L309.0,242.5 L309.1,242.4 L309.3,242.3 L309.5,242.3 L309.6,242.3 L309.8,242.3 L309.9,242.3 L310.1,242.3 L310.3,242.4 L310.4,242.4 L310.6,242.4 L310.8,242.4 L310.9,242.4 L311.1,242.5 L311.2,242.5 L311.4,242.5 L311.6,242.5 L311.7,242.5 L311.9,242.4 L312.0,242.4 L312.2,242.4 L312.4,242.4 L312.5,242.4 L312.7,242.4 L312.8,242.3 L313.0,242.3 L313.2,242.4 L313.3,242.4 L313.5,242.5 L313.7,242.6 L313.8,242.6 L314.0,242.6 L314.1,242.6 L314.3,242.7 L314.5,242.7 L314.6,242.8 L314.8,242.8 L314.9,242.8 L315.1,242.7 L315.3,242.7 L315.4,242.7 L315.6,242.7 L315.7,242.6 L315.9,242.6 L316.1,242.6 L316.2,242.5 L316.4,242.5 L316.5,242.4 L316.7,242.4 L316.9,242.3 L317.0,242.3 L317.2,242.3 L317.4,242.3 L317.5,242.3 L317.7,242.3 L317.8,242.3 L318.0,242.3 L318.2,242.2 L318.3,242.2 L318.5,242.1 L318.6,242.1 L318.8,242.1 L319.0,242.2 L319.1,242.3 L319.3,242.3 L319.4,242.3 L319.6,242.3 L319.8,242.3 L319.9,242.4 L320.1,242.4 L320.3,242.5 L320.4,242.6 L320.6,242.6 L320.7,242.7 L320.9,242.7 L321.1,242.7 L321.2,242.6 L321.4,242.6 L321.5,242.5 L321.7,242.5 L321.9,242.6 L322.0,242.6 L322.2,242.7 L322.3,242.7 L322.5,242.7 L322.7,242.6 L322.8,242.4 L323.0,242.2 L323.1,242.1 L323.3,242.0 L323.5,242.0 L323.6,242.1 L323.8,242.1 L324.0,242.1 L324.1,242.0 L324.3,242.0 L324.4,241.9 L324.6,241.9 L324.8,241.9 L324.9,241.9 L325.1,241.9 L325.2,242.0 L325.4,242.0 L325.6,242.0 L325.7,242.0 L325.9,242.0 L326.0,242.0 L326.2,242.0 L326.4,242.0 L326.5,242.0 L326.7,242.1 L326.9,242.1 L327.0,242.3 L327.2,242.3 L327.3,242.3 L327.5,242.2 L327.7,242.0 L327.8,242.0 L328.0,242.0 L328.1,242.0 L328.3,242.0 L328.5,242.0 L328.6,242.0 L328.8,242.0 L328.9,242.1 L329.1,242.2 L329.3,242.4 L329.4,242.5 L329.6,242.5 L329.8,242.5 L329.9,242.4 L330.1,242.3 L330.2,242.3 L330.4,242.1 L330.6,242.0 L330.7,241.9 L330.9,241.8 L331.0,241.9 L331.2,241.9 L331.4,242.0 L331.5,242.1 L331.7,242.1 L331.8,242.1 L332.0,242.1 L332.2,242.0 L332.3,242.1 L332.5,242.1 L332.6,242.2 L332.8,242.3 L333.0,242.3 L333.1,242.3 L333.3,242.3 L333.5,242.2 L333.6,242.1 L333.8,241.9 L333.9,241.8 L334.1,241.7 L334.3,241.6 L334.4,241.7 L334.6,241.7 L334.7,241.8 L334.9,241.8 L335.1,241.8 L335.2,241.8 L335.4,241.7 L335.5,241.7 L335.7,241.8 L335.9,241.8 L336.0,241.9 L336.2,241.9 L336.4,241.9 L336.5,241.9 L336.7,241.9 L336.8,241.9 L337.0,242.0 L337.2,242.1 L337.3,242.2 L337.5,242.3 L337.6,242.3 L337.8,242.2 L338.0,242.2 L338.1,242.2 L338.3,242.2 L338.4,242.1 L338.6,242.1 L338.8,242.1 L338.9,242.1 L339.1,242.1 L339.2,242.2 L339.4,242.2 L339.6,242.2 L339.7,242.1 L339.9,242.1 L340.1,242.0 L340.2,242.0 L340.4,242.0 L340.5,242.0 L340.7,242.1 L340.9,242.0 L341.0,242.0 L341.2,241.9 L341.3,241.8 L341.5,241.8 L341.7,241.8 L341.8,241.8 L342.0,241.8 L342.1,241.8 L342.3,241.9 L342.5,242.0 L342.6,242.1 L342.8,242.3 L343.0,242.3 L343.1,242.3 L343.3,242.3 L343.4,242.3 L343.6,242.2 L343.8,242.2 L343.9,242.1 L344.1,242.1 L344.2,242.1 L344.4,242.1 L344.6,242.2 L344.7,242.2 L344.9,242.2 L345.0,242.3 L345.2,242.3 L345.4,242.4 L345.5,242.4 L345.7,242.3 L345.8,242.3 L346.0,242.3 L346.2,242.4 L346.3,242.6 L346.5,242.8 L346.7,242.8 L346.8,242.8 L347.0,242.8 L347.1,242.8 L347.3,243.0 L347.5,243.2 L347.6,243.3 L347.8,243.4 L347.9,243.4 L348.1,243.3 L348.3,243.3 L348.4,243.2 L348.6,243.2 L348.7,243.2 L348.9,243.2 L349.1,243.3 L349.2,243.4 L349.4,243.4 L349.6,243.4 L349.7,243.4 L349.9,243.4 L350.0,243.3 L350.2,243.2 L350.4,243.2 L350.5,243.2 L350.7,243.1 L350.8,243.1 L351.0,243.2 L351.2,243.2 L351.3,243.3 L351.5,243.3 L351.6,243.1 L351.8,243.0 L352.0,243.0 L352.1,243.1 L352.3,243.2 L352.5,243.3 L352.6,243.4 L352.8,243.4 L352.9,243.4 L353.1,243.4 L353.3,243.4 L353.4,243.5 L353.6,243.6 L353.7,243.7 L353.9,243.7 L354.1,243.7 L354.2,243.6 L354.4,243.4 L354.5,243.3 L354.7,243.3 L354.9,243.4 L355.0,243.5 L355.2,243.6 L355.3,243.7 L355.5,243.7 L355.7,243.6 L355.8,243.5 L356.0,243.4 L356.2,243.3 L356.3,243.2 L356.5,243.1 L356.6,243.1 L356.8,243.1 L357.0,243.2 L357.1,243.3 L357.3,243.4 L357.4,243.5 L357.6,243.7 L357.8,243.7 L357.9,243.6 L358.1,243.6 L358.2,243.5 L358.4,243.6 L358.6,243.7 L358.7,243.8 L358.9,243.9 L359.1,243.9 L359.2,243.9 L359.4,243.9 L359.5,243.9 L359.7,243.9 L359.9,243.9 L360.0,243.8 L360.2,243.8 L360.3,243.7 L360.5,243.6 L360.7,243.5 L360.8,243.5 L361.0,243.5 L361.1,243.5 L361.3,243.5 L361.5,243.5 L361.6,243.5 L361.8,243.5 L361.9,243.4 L362.1,243.4 L362.3,243.4 L362.4,243.5 L362.6,243.6 L362.8,243.6 L362.9,243.7 L363.1,243.8 L363.2,243.9 L363.4,243.8 L363.6,243.7 L363.7,243.6 L363.9,243.5 L364.0,243.5 L364.2,243.4 L364.4,243.4 L364.5,243.4 L364.7,243.5 L364.8,243.5 L365.0,243.6 L365.2,243.7 L365.3,243.8 L365.5,243.8 L365.7,243.7 L365.8,243.7 L366.0,243.7 L366.1,243.7 L366.3,243.7 L366.5,243.7 L366.6,243.7 L366.8,243.7 L366.9,243.6 L367.1,243.6 L367.3,243.7 L367.4,243.8 L367.6,243.8 L367.7,243.9 L367.9,243.8 L368.1,243.8 L368.2,243.8 L368.4,243.8 L368.6,243.9 L368.7,244.0 L368.9,244.0 L369.0,243.9 L369.2,243.7 L369.4,243.6 L369.5,243.6 L369.7,243.7 L369.8,243.7 L370.0,243.7 L370.2,243.7 L370.3,243.7 L370.5,243.7 L370.6,243.7 L370.8,243.7 L371.0,243.7 L371.1,243.8 L371.3,243.8 L371.4,243.9 L371.6,244.0 L371.8,244.0 L371.9,244.0 L372.1,243.9 L372.3,243.9 L372.4,243.8 L372.6,243.7 L372.7,243.6 L372.9,243.6 L373.1,243.5 L373.2,243.5 L373.4,243.6 L373.5,243.6 L373.7,243.7 L373.9,243.8 L374.0,243.9 L374.2,244.1 L374.3,244.2 L374.5,244.3 L374.7,244.4 L374.8,244.3 L375.0,244.2 L375.2,244.1 L375.3,244.0 L375.5,244.0 L375.6,244.0 L375.8,244.1 L376.0,244.2 L376.1,244.3 L376.3,244.3 L376.4,244.3 L376.6,244.3 L376.8,244.3 L376.9,244.3 L377.1,244.2 L377.2,244.1 L377.4,244.0 L377.6,243.9 L377.7,244.0 L377.9,244.2 L378.1,244.4 L378.2,244.5 L378.4,244.5 L378.5,244.4 L378.7,244.3 L378.9,244.2 L379.0,244.1 L379.2,244.1 L379.3,244.1 L379.5,244.1 L379.7,244.2 L379.8,244.2 L380.0,244.3 L380.1,244.4 L380.3,244.5 L380.5,244.4 L380.6,244.3 L380.8,244.1 L380.9,244.0 L381.1,244.0 L381.3,244.0 L381.4,244.1 L381.6,244.2 L381.8,244.3 L381.9,244.3 L382.1,244.2 L382.2,244.2 L382.4,244.2 L382.6,244.2 L382.7,244.2 L382.9,244.1 L383.0,244.1 L383.2,244.1 L383.4,244.1 L383.5,244.1 L383.7,244.1 L383.8,244.0 L384.0,243.9 L384.2,243.8 L384.3,243.9 L384.5,244.0 L384.7,244.2 L384.8,244.3 L385.0,244.4 L385.1,244.4 L385.3,244.4 L385.5,244.5 L385.6,244.5 L385.8,244.5 L385.9,244.5 L386.1,244.5 L386.3,244.4 L386.4,244.4 L386.6,244.4 L386.7,244.4 L386.9,244.4 L387.1,244.3 L387.2,244.1 L387.4,244.1 L387.5,244.1 L387.7,244.2 L387.9,244.2 L388.0,244.2 L388.2,244.1 L388.4,244.0 L388.5,244.0 L388.7,244.0 L388.8,244.0 L389.0,244.0 L389.2,244.1 L389.3,244.2 L389.5,244.3 L389.6,244.4 L389.8,244.5 L390.0,244.6 L390.1,244.7 L390.3,244.7 L390.4,244.6 L390.6,244.4 L390.8,244.2 L390.9,244.1 L391.1,244.1 L391.3,244.1 L391.4,244.3 L391.6,244.4 L391.7,244.6 L391.9,244.6 L392.1,244.7 L392.2,244.7 L392.4,244.7 L392.5,244.6 L392.7,244.5 L392.9,244.5 L393.0,244.4 L393.2,244.4 L393.3,244.5 L393.5,244.5 L393.7,244.6 L393.8,244.6 L394.0,244.5 L394.2,244.4 L394.3,244.4 L394.5,244.5 L394.6,244.6 L394.8,244.7 L395.0,244.7 L395.1,244.7 L395.3,244.6 L395.4,244.6 L395.6,244.6 L395.8,244.5 L395.9,244.5 L396.1,244.4 L396.2,244.4 L396.4,244.4 L396.6,244.5 L396.7,244.5 L396.9,244.6 L397.0,244.7 L397.2,244.7 L397.4,244.8 L397.5,244.8 L397.7,244.8 L397.9,244.8 L398.0,244.9 L398.2,245.1 L398.3,245.2 L398.5,245.1 L398.7,245.0 L398.8,244.8 L399.0,244.7 L399.1,244.6 L399.3,244.7 L399.5,244.8 L399.6,244.8 L399.8,244.8 L399.9,244.8 L400.1,244.8 L400.3,244.7 L400.4,244.6 L400.6,244.6 L400.8,244.6 L400.9,244.6 L401.1,244.6 L401.2,244.6 L401.4,244.6 L401.6,244.7 L401.7,244.7 L401.9,244.7 L402.0,244.7 L402.2,244.6 L402.4,244.5 L402.5,244.5 L402.7,244.4 L402.8,244.4 L403.0,244.4 L403.2,244.4 L403.3,244.5 L403.5,244.7 L403.6,244.9 L403.8,245.0 L404.0,245.0 L404.1,245.0 L404.3,245.0 L404.5,245.1 L404.6,245.1 L404.8,245.2 L404.9,245.1 L405.1,244.9 L405.3,244.7 L405.4,244.5 L405.6,244.5 L405.7,244.7 L405.9,244.9 L406.1,245.2 L406.2,245.3 L406.4,245.2 L406.5,245.1 L406.7,244.9 L406.9,244.7 L407.0,244.7 L407.2,244.7 L407.4,244.7 L407.5,244.8 L407.7,244.9 L407.8,244.9 L408.0,244.9 L408.2,244.8 L408.3,244.8 L408.5,244.8 L408.6,244.9 L408.8,245.0 L409.0,245.0 L409.1,245.0 L409.3,244.9 L409.4,244.9 L409.6,244.9 L409.8,244.9 L409.9,244.9 L410.1,245.0 L410.3,245.0 L410.4,245.0 L410.6,245.0 L410.7,245.0 L410.9,245.1 L411.1,245.1 L411.2,245.2 L411.4,245.2 L411.5,245.2 L411.7,245.2 L411.9,245.2 L412.0,245.3 L412.2,245.4 L412.3,245.4 L412.5,245.4 L412.7,245.3 L412.8,245.2 L413.0,245.2 L413.1,245.1 L413.3,245.1 L413.5,245.2 L413.6,245.2 L413.8,245.2 L414.0,245.2 L414.1,245.2 L414.3,245.2 L414.4,245.3 L414.6,245.3 L414.8,245.2 L414.9,245.2 L415.1,245.1 L415.2,245.0 L415.4,244.9 L415.6,245.0 L415.7,245.2 L415.9,245.3 L416.0,245.4 L416.2,245.4 L416.4,245.3 L416.5,245.3 L416.7,245.3 L416.9,245.3 L417.0,245.4 L417.2,245.4 L417.3,245.4 L417.5,245.4 L417.7,245.4 L417.8,245.2 L418.0,245.1 L418.1,244.9 L418.3,244.9 L418.5,244.8 L418.6,244.8 L418.8,244.8 L418.9,244.8 L419.1,244.9 L419.3,245.0 L419.4,245.2 L419.6,245.3 L419.7,245.4 L419.9,245.5 L420.1,245.7 L420.2,245.8 L420.4,245.9 L420.6,245.8 L420.7,245.7 L420.9,245.6 L421.0,245.5 L421.2,245.3 L421.4,245.2 L421.5,245.1 L421.7,245.0 L421.8,245.1 L422.0,245.1 L422.2,245.2 L422.3,245.2 L422.5,245.3 L422.6,245.4 L422.8,245.5 L423.0,245.7 L423.1,245.7 L423.3,245.8 L423.5,245.8 L423.6,245.8 L423.8,245.7 L423.9,245.7 L424.1,245.7 L424.3,245.7 L424.4,245.8 L424.6,245.8 L424.7,245.8 L424.9,245.7 L425.1,245.6 L425.2,245.5 L425.4,245.5 L425.5,245.5 L425.7,245.5 L425.9,245.4 L426.0,245.4 L426.2,245.4 L426.3,245.4 L426.5,245.4 L426.7,245.4 L426.8,245.3 L427.0,245.3 L427.2,245.3 L427.3,245.3 L427.5,245.3 L427.6,245.4 L427.8,245.5 L428.0,245.6 L428.1,245.7 L428.3,245.7 L428.4,245.8 L428.6,245.8 L428.8,245.7 L428.9,245.7 L429.1,245.6 L429.2,245.6 L429.4,245.7 L429.6,245.7 L429.7,245.7 L429.9,245.8 L430.1,245.9 L430.2,246.0 L430.4,246.1 L430.5,246.1 L430.7,246.0 L430.9,246.0 L431.0,245.9 L431.2,245.8 L431.3,245.7 L431.5,245.6 L431.7,245.5 L431.8,245.5 L432.0,245.5 L432.1,245.5 L432.3,245.6 L432.5,245.7 L432.6,245.7 L432.8,245.8 L433.0,245.9 L433.1,245.9 L433.3,245.9 L433.4,245.9 L433.6,246.0 L433.8,246.1 L433.9,246.2 L434.1,246.2 L434.2,246.2 L434.4,246.0 L434.6,245.9 L434.7,245.8 L434.9,245.8 L435.0,245.8 L435.2,245.9 L435.4,245.9 L435.5,246.0 L435.7,245.9 L435.8,245.9 L436.0,245.9 L436.2,246.0 L436.3,246.1 L436.5,246.1 L436.7,246.1 L436.8,246.0 L437.0,246.0 L437.1,245.9 L437.3,245.9 L437.5,245.9 L437.6,245.9 L437.8,245.9 L437.9,246.0 L438.1,246.1 L438.3,246.1 L438.4,246.1 L438.6,246.0 L438.7,245.9 L438.9,245.8 L439.1,245.7 L439.2,245.7 L439.4,245.7 L439.6,245.7 L439.7,245.7 L439.9,245.7 L440.0,245.7 L440.2,245.8 L440.4,245.9 L440.5,246.0 L440.7,246.1 L440.8,246.2 L441.0,246.3 L441.2,246.3 L441.3,246.1 L441.5,246.0 L441.6,245.8 L441.8,245.8 L442.0,245.8 L442.1,245.9 L442.3,246.0 L442.4,246.1 L442.6,246.1 L442.8,246.2 L442.9,246.2 L443.1,246.2 L443.3,246.3 L443.4,246.3 L443.6,246.4 L443.7,246.4 L443.9,246.4 L444.1,246.4 L444.2,246.4 L444.4,246.3 L444.5,246.2 L444.7,246.2 L444.9,246.2 L445.0,246.2 L445.2,246.2 L445.3,246.2 L445.5,246.2 L445.7,246.2 L445.8,246.2 L446.0,246.2 L446.2,246.1 L446.3,246.0 L446.5,246.0 L446.6,246.1 L446.8,246.1 L447.0,246.1 L447.1,246.2 L447.3,246.2 L447.4,246.3 L447.6,246.3 L447.8,246.3 L447.9,246.3 L448.1,246.3 L448.2,246.3 L448.4,246.3 L448.6,246.3 L448.7,246.2 L448.9,246.2 L449.1,246.2 L449.2,246.2 L449.4,246.3 L449.5,246.2 L449.7,246.1 L449.9,246.0 L450.0,245.9 L450.2,246.0 L450.3,246.0 L450.5,246.1 L450.7,246.1 L450.8,246.1 L451.0,245.9 L451.1,245.8 L451.3,245.8 L451.5,245.8 L451.6,245.8 L451.8,245.9 L451.9,246.0 L452.1,246.1 L452.3,246.0 L452.4,246.0 L452.6,245.9 L452.8,245.9 L452.9,245.9 L453.1,246.0 L453.2,245.9 L453.4,245.9 L453.6,245.9 L453.7,245.8 L453.9,245.8 L454.0,245.9 L454.2,245.9 L454.4,245.9 L454.5,246.0 L454.7,245.9 L454.8,245.9 L455.0,245.9 L455.2,245.9 L455.3,245.9 L455.5,246.0 L455.7,246.1 L455.8,246.2 L456.0,246.3 L456.1,246.3 L456.3,246.2 L456.5,246.1 L456.6,245.9 L456.8,245.7 L456.9,245.7 L457.1,245.7 L457.3,245.9 L457.4,246.2 L457.6,246.3 L457.7,246.4 L457.9,246.5 L458.1,246.5 L458.2,246.5 L458.4,246.5 L458.6,246.5 L458.7,246.5 L458.9,246.4 L459.0,246.2 L459.2,246.1 L459.4,246.0 L459.5,245.9 L459.7,245.9 L459.8,245.9 L460.0,245.9 L460.2,245.9 L460.3,245.9 L460.5,246.1 L460.6,246.2 L460.8,246.3 L461.0,246.3 L461.1,246.3 L461.3,246.2 L461.4,246.1 L461.6,246.1 L461.8,246.1 L461.9,246.2 L462.1,246.2 L462.3,246.2 L462.4,246.2 L462.6,246.1 L462.7,246.0 L462.9,246.0 L463.1,245.9 L463.2,246.0 L463.4,246.1 L463.5,246.2 L463.7,246.3 L463.9,246.3 L464.0,246.2 L464.2,246.2 L464.3,246.1 L464.5,246.1 L464.7,246.1 L464.8,246.1 L465.0,246.1 L465.2,246.1 L465.3,246.0 L465.5,246.1 L465.6,246.1 L465.8,246.3 L466.0,246.4 L466.1,246.5 L466.3,246.4 L466.4,246.4 L466.6,246.3 L466.8,246.2 L466.9,246.1 L467.1,246.1 L467.2,246.0 L467.4,246.0 L467.6,246.0 L467.7,246.0 L467.9,246.1 L468.0,246.3 L468.2,246.4 L468.4,246.4 L468.5,246.3 L468.7,246.2 L468.9,246.1 L469.0,246.0 L469.2,246.1 L469.3,246.2 L469.5,246.4 L469.7,246.5 L469.8,246.5 L470.0,246.5 L470.1,246.4 L470.3,246.4 L470.5,246.4 L470.6,246.3 L470.8,246.3 L470.9,246.2 L471.1,246.2 L471.3,246.1 L471.4,246.1 L471.6,246.0 L471.8,246.0 L471.9,245.8 L472.1,245.7 L472.2,245.7 L472.4,245.6 L472.6,245.7 L472.7,245.7 L472.9,245.8 L473.0,245.8 L473.2,245.9 L473.4,246.0 L473.5,246.0 L473.7,246.0 L473.8,246.0 L474.0,246.0 L474.2,246.0 L474.3,246.0 L474.5,245.9 L474.7,245.9 L474.8,245.8 L475.0,245.8 L475.1,245.8 L475.3,245.8 L475.5,245.9 L475.6,246.0 L475.8,246.1 L475.9,246.2 L476.1,246.2 L476.3,246.2 L476.4,246.1 L476.6,246.0 L476.7,246.0 L476.9,245.9 L477.1,245.8 L477.2,245.9 L477.4,245.9 L477.5,246.0 L477.7,246.0 L477.9,246.0 L478.0,246.0 L478.2,246.0 L478.4,246.1 L478.5,246.3 L478.7,246.5 L478.8,246.5 L479.0,246.4 L479.2,246.3 L479.3,246.2 L479.5,246.1 L479.6,246.1 L479.8,246.1 L480.0,246.1 L480.1,246.0 L480.3,245.9 L480.4,245.8 L480.6,245.9 L480.8,246.1 L480.9,246.2 L481.1,246.3 L481.3,246.4 L481.4,246.3 L481.6,246.3 L481.7,246.2 L481.9,246.3 L482.1,246.3 L482.2,246.3 L482.4,246.3 L482.5,246.2 L482.7,246.1 L482.9,246.0 L483.0,246.0 L483.2,246.0 L483.3,246.1 L483.5,246.2 L483.7,246.2 L483.8,246.2 L484.0,246.1 L484.1,245.9 L484.3,245.9 L484.5,246.0 L484.6,246.0 L484.8,246.1 L485.0,246.1 L485.1,246.0 L485.3,246.0 L485.4,246.0 L485.6,246.0 L485.8,246.0 L485.9,246.0 L486.1,245.9 L486.2,245.9 L486.4,245.8 L486.6,245.8 L486.7,245.8 L486.9,245.9 L487.0,246.0 L487.2,246.1 L487.4,246.3 L487.5,246.4 L487.7,246.4 L487.9,246.4 L488.0,246.4 L488.2,246.4 L488.3,246.3 L488.5,246.3 L488.7,246.2 L488.8,246.0 L489.0,245.9 L489.1,245.8 L489.3,245.8 L489.5,245.9 L489.6,246.0 L489.8,246.1 L489.9,246.1 L490.1,246.1 L490.3,246.2 L490.4,246.2 L490.6,246.2 L490.8,246.2 L490.9,246.2 L491.1,246.3 L491.2,246.3 L491.4,246.4 L491.6,246.4 L491.7,246.4 L491.9,246.4 L492.0,246.4 L492.2,246.3 L492.4,246.3 L492.5,246.2 L492.7,246.1 L492.8,246.0 L493.0,245.9 L493.2,246.0 L493.3,246.0 L493.5,246.1 L493.6,246.2 L493.8,246.3 L494.0,246.3 L494.1,246.3 L494.3,246.3 L494.5,246.3 L494.6,246.3 L494.8,246.3 L494.9,246.3 L495.1,246.3 L495.3,246.3 L495.4,246.4 L495.6,246.4 L495.7,246.4 L495.9,246.4 L496.1,246.4 L496.2,246.3 L496.4,246.2 L496.5,246.2 L496.7,246.2 L496.9,246.2 L497.0,246.2 L497.2,246.3 L497.4,246.3 L497.5,246.2 L497.7,246.1 L497.8,245.9 L498.0,245.9 L498.2,245.9 L498.3,246.0 L498.5,246.0 L498.6,246.1 L498.8,246.1 L499.0,246.1 L499.1,246.1 L499.3,246.2 L499.4,246.2 L499.6,246.2 L499.8,246.2 L499.9,246.2 L500.1,246.2 L500.2,246.3 L500.4,246.4 L500.6,246.5 L500.7,246.6 L500.9,246.6 L501.1,246.6 L501.2,246.5 L501.4,246.5 L501.5,246.4 L501.7,246.5 L501.9,246.5 L502.0,246.6 L502.2,246.6 L502.3,246.5 L502.5,246.4 L502.7,246.3 L502.8,246.1 L503.0,246.1 L503.1,246.1 L503.3,246.1 L503.5,246.2 L503.6,246.2 L503.8,246.2 L504.0,246.2 L504.1,246.2 L504.3,246.2 L504.4,246.2 L504.6,246.3 L504.8,246.4 L504.9,246.4 L505.1,246.4 L505.2,246.5 L505.4,246.5 L505.6,246.6 L505.7,246.7 L505.9,246.8 L506.0,247.0 L506.2,247.0 L506.4,246.9 L506.5,246.8 L506.7,246.6 L506.8,246.6 L507.0,246.6 L507.2,246.6 L507.3,246.7 L507.5,246.8 L507.7,246.8 L507.8,246.8 L508.0,246.8 L508.1,246.8 L508.3,246.7 L508.5,246.7 L508.6,246.6 L508.8,246.6 L508.9,246.6 L509.1,246.6 L509.3,246.6 L509.4,246.6 L509.6,246.6 L509.7,246.6 L509.9,246.6 L510.1,246.7 L510.2,246.7 L510.4,246.7 L510.6,246.6 L510.7,246.5 L510.9,246.4 L511.0,246.4 L511.2,246.4 L511.4,246.5 L511.5,246.6 L511.7,246.7 L511.8,246.8 L512.0,246.8 L512.2,246.8 L512.3,246.8 L512.5,246.8 L512.6,246.7 L512.8,246.7 L513.0,246.7 L513.1,246.6 L513.3,246.5 L513.5,246.4 L513.6,246.4 L513.8,246.4 L513.9,246.4 L514.1,246.5 L514.3,246.5 L514.4,246.6 L514.6,246.6 L514.7,246.6 L514.9,246.6 L515.1,246.6 L515.2,246.7 L515.4,246.8 L515.5,246.8 L515.7,246.8 L515.9,246.8 L516.0,246.8 L516.2,246.8 L516.3,246.7 L516.5,246.7 L516.7,246.7 L516.8,246.7 L517.0,246.7 L517.2,246.7 L517.3,246.7 L517.5,246.7 L517.6,246.7 L517.8,246.7 L518.0,246.7 L518.1,246.8 L518.3,246.8 L518.4,246.9 L518.6,246.9 L518.8,246.8 L518.9,246.8 L519.1,246.6 L519.2,246.5 L519.4,246.5 L519.6,246.5 L519.7,246.5 L519.9,246.5 L520.1,246.5 L520.2,246.5 L520.4,246.5 L520.5,246.6 L520.7,246.6 L520.9,246.6 L521.0,246.7 L521.2,246.8 L521.3,246.9 L521.5,247.0 L521.7,247.0 L521.8,247.0 L522.0,247.0 L522.1,246.9 L522.3,246.8 L522.5,246.6 L522.6,246.5 L522.8,246.4 L522.9,246.3 L523.1,246.4 L523.3,246.5 L523.4,246.8 L523.6,247.0 L523.8,247.1 L523.9,247.0 L524.1,246.9 L524.2,246.8 L524.4,246.8 L524.6,246.8 L524.7,246.9 L524.9,247.0 L525.0,247.1 L525.2,247.1 L525.4,247.0 L525.5,247.0 L525.7,246.9 L525.8,246.9 L526.0,246.8 L526.2,246.7 L526.3,246.7 L526.5,246.7 L526.7,246.8 L526.8,247.0 L527.0,247.0 L527.1,247.0 L527.3,247.0 L527.5,246.9 L527.6,246.9 L527.8,247.0 L527.9,247.0 L528.1,247.0 L528.3,247.0 L528.4,246.9 L528.6,246.9 L528.7,247.0 L528.9,247.0 L529.1,247.1 L529.2,247.1 L529.4,247.0 L529.6,247.0 L529.7,247.1 L529.9,247.3 L530.0,247.6 L530.2,248.2 L530.4,248.9 L530.5,249.7 L530.7,250.2 L530.8,250.2 L531.0,249.7 L531.2,248.9 L531.3,248.2 L531.5,247.7 L531.6,247.3 L531.8,247.1 L532.0,246.9 L532.1,246.8 L532.3,246.7 L532.4,246.7 L532.6,246.7 L532.8,246.8 L532.9,246.8 L533.1,246.8 L533.3,246.8 L533.4,246.8 L533.6,246.9 L533.7,247.0 L533.9,247.1 L534.1,247.0 L534.2,246.9 L534.4,246.7 L534.5,246.6 L534.7,246.6 L534.9,246.6 L535.0,246.7 L535.2,246.8 L535.3,247.2 L535.5,247.7 L535.7,248.4 L535.8,249.4 L536.0,250.6 L536.2,251.6 L536.3,252.3 L536.5,252.4 L536.6,251.9 L536.8,250.8 L537.0,249.7 L537.1,248.5 L537.3,247.7 L537.4,247.1 L537.6,246.8 L537.8,246.7 L537.9,246.8 L538.1,246.9 L538.2,247.0 L538.4,247.0 L538.6,246.9 L538.7,246.8 L538.9,246.6 L539.0,246.6 L539.2,246.5 L539.4,246.6 L539.5,246.6 L539.7,246.6 L539.9,246.6 L540.0,246.6 L540.2,246.6 L540.3,246.6 L540.5,246.6 L540.7,246.7 L540.8,246.8 L541.0,246.9 L541.1,246.9 L541.3,246.8 L541.5,246.6 L541.6,246.5 L541.8,246.4 L541.9,246.4 L542.1,246.4 L542.3,246.5 L542.4,246.5 L542.6,246.6 L542.8,246.6 L542.9,246.5 L543.1,246.5 L543.2,246.5 L543.4,246.4 L543.6,246.4 L543.7,246.4 L543.9,246.4 L544.0,246.5 L544.2,246.5 L544.4,246.6 L544.5,246.8 L544.7,246.9 L544.8,247.0 L545.0,247.0 L545.2,247.0 L545.3,247.0 L545.5,246.9 L545.7,246.9 L545.8,246.8 L546.0,246.8 L546.1,246.8 L546.3,246.9 L546.5,246.9 L546.6,246.9 L546.8,246.9 L546.9,246.8 L547.1,246.7 L547.3,246.7 L547.4,246.8 L547.6,246.9 L547.7,247.0 L547.9,247.0 L548.1,247.0 L548.2,247.0 L548.4,246.9 L548.5,246.8 L548.7,246.8 L548.9,246.9 L549.0,246.9 L549.2,246.9 L549.4,246.8 L549.5,246.7 L549.7,246.6 L549.8,246.5 L550.0,246.5 L550.2,246.5 L550.3,246.5 L550.5,246.6 L550.6,246.8 L550.8,247.1 L551.0,247.6 L551.1,248.3 L551.3,249.2 L551.4,250.2 L551.6,251.1 L551.8,251.7 L551.9,251.7 L552.1,251.1 L552.3,250.1 L552.4,249.0 L552.6,248.0 L552.7,247.4 L552.9,247.0 L553.1,246.9 L553.2,246.8 L553.4,246.7 L553.5,246.6 L553.7,246.6 L553.9,246.6 L554.0,246.6 L554.2,246.6 L554.3,246.6 L554.5,246.6 L554.7,246.7 L554.8,246.8 L555.0,246.9 L555.1,246.9 L555.3,246.9 L555.5,246.7 L555.6,246.6 L555.8,246.6 L556.0,246.6 L556.1,246.6 L556.3,246.6 L556.4,246.6 L556.6,246.6 L556.8,246.6 L556.9,246.7 L557.1,246.8 L557.2,246.9 L557.4,247.0 L557.6,246.9 L557.7,246.8 L557.9,246.8 L558.0,246.7 L558.2,246.7 L558.4,246.7 L558.5,246.7 L558.7,246.8 L558.9,246.8 L559.0,246.7 L559.2,246.7 L559.3,246.6 L559.5,246.6 L559.7,246.6 L559.8,246.7 L560.0,246.7 L560.1,246.6 L560.3,246.6 L560.5,246.6 L560.6,246.6 L560.8,246.6 L560.9,246.6 L561.1,246.5 L561.3,246.5 L561.4,246.5 L561.6,246.5 L561.8,246.5 L561.9,246.6 L562.1,246.6 L562.2,246.7 L562.4,246.8 L562.6,246.8 L562.7,246.7 L562.9,246.7 L563.0,246.6 L563.2,246.6 L563.4,246.5 L563.5,246.5 L563.7,246.4 L563.8,246.3 L564.0,246.3 L564.2,246.3 L564.3,246.3 L564.5,246.3 L564.6,246.3 L564.8,246.3 L565.0,246.4 L565.1,246.4 L565.3,246.3 L565.5,246.3 L565.6,246.2 L565.8,246.2 L565.9,246.2 L566.1,246.2 L566.3,246.3 L566.4,246.3 L566.6,246.3 L566.7,246.3 L566.9,246.2 L567.1,246.1 L567.2,246.0 L567.4,246.0 L567.5,246.1 L567.7,246.2 L567.9,246.3 L568.0,246.3 L568.2,246.3 L568.4,246.3 L568.5,246.2 L568.7,246.1 L568.8,246.0 L569.0,245.9 L569.2,245.9 L569.3,246.0 L569.5,246.0 L569.6,246.0 L569.8,246.0 L570.0,246.1 L570.1,246.1 L570.3,246.2 L570.4,246.2 L570.6,246.2 L570.8,246.1 L570.9,246.0 L571.1,246.0 L571.2,245.9 L571.4,245.9 L571.6,246.0 L571.7,246.0 L571.9,246.0 L572.1,246.0 L572.2,246.0 L572.4,246.1 L572.5,246.1 L572.7,246.2 L572.9,246.2 L573.0,246.3 L573.2,246.3 L573.3,246.3 L573.5,246.3 L573.7,246.3 L573.8,246.2 L574.0,246.2 L574.1,246.2 L574.3,246.2 L574.5,246.2 L574.6,246.1 L574.8,246.0 L575.0,245.9 L575.1,245.9 L575.3,245.9 L575.4,245.9 L575.6,245.8 L575.8,245.7 L575.9,245.7 L576.1,245.7 L576.2,245.8 L576.4,245.9 L576.6,245.9 L576.7,245.9 L576.9,246.0 L577.0,246.0 L577.2,245.9 L577.4,245.9 L577.5,245.9 L577.7,245.9 L577.9,245.9 L578.0,245.9 L578.2,245.9 L578.3,245.8 L578.5,245.8 L578.7,245.8 L578.8,245.8 L579.0,245.8 L579.1,245.7 L579.3,245.7 L579.5,245.7 L579.6,245.7 L579.8,245.7 L579.9,245.6 L580.1,245.6 L580.3,245.6 L580.4,245.6 L580.6,245.6 L580.7,245.6 L580.9,245.7 L581.1,245.7 L581.2,245.8 L581.4,245.8 L581.6,245.8 L581.7,245.8 L581.9,245.8 L582.0,245.8 L582.2,245.8 L582.4,245.8 L582.5,245.8 L582.7,245.8 L582.8,245.8 L583.0,245.8 L583.2,245.7 L583.3,245.6 L583.5,245.6 L583.6,245.5 L583.8,245.5 L584.0,245.5 L584.1,245.4 L584.3,245.4 L584.5,245.3 L584.6,245.3 L584.8,245.4 L584.9,245.4 L585.1,245.5 L585.3,245.6 L585.4,245.7 L585.6,245.8 L585.7,245.9 L585.9,245.9 L586.1,245.8 L586.2,245.7 L586.4,245.7 L586.5,245.7 L586.7,245.7 L586.9,245.7 L587.0,245.7 L587.2,245.8 L587.3,245.9 L587.5,246.1 L587.7,246.1 L587.8,246.1 L588.0,246.0 L588.2,245.9 L588.3,245.7 L588.5,245.7 L588.6,245.6 L588.8,245.7 L589.0,245.7 L589.1,245.7 L589.3,245.7 L589.4,245.7 L589.6,245.7 L589.8,245.7 L589.9,245.7 L590.1,245.6 L590.2,245.6 L590.4,245.6 L590.6,245.7 L590.7,245.9 L590.9,246.0 L591.1,246.0 L591.2,246.0 L591.4,246.0 L591.5,245.9 L591.7,245.9 L591.9,245.8 L592.0,245.9 L592.2,245.9 L592.3,245.8 L592.5,245.8 L592.7,245.7 L592.8,245.6 L593.0,245.6 L593.1,245.6 L593.3,245.7 L593.5,245.8 L593.6,245.8 L593.8,245.8 L594.0,245.7 L594.1,245.6 L594.3,245.6 L594.4,245.7 L594.6,245.8 L594.8,245.9 L594.9,245.8 L595.1,245.8 L595.2,245.7 L595.4,245.7 L595.6,245.8 L595.7,245.8 L595.9,245.8 L596.0,245.8 L596.2,245.8 L596.4,245.7 L596.5,245.8 L596.7,245.8 L596.8,245.9 L597.0,246.0 L597.2,246.0 L597.3,245.9 L597.5,245.8 L597.7,245.8 L597.8,245.8 L598.0,245.8 L598.1,245.8 L598.3,245.8 L598.5,245.9 L598.6,245.9 L598.8,245.9 L598.9,245.9 L599.1,245.9 L599.3,245.7 L599.4,245.6 L599.6,245.6 L599.7,245.6 L599.9,245.7 L600.1,245.7 L600.2,245.8 L600.4,245.7 L600.6,245.6 L600.7,245.5 L600.9,245.5 L601.0,245.5 L601.2,245.6 L601.4,245.6 L601.5,245.6 L601.7,245.6 L601.8,245.6 L602.0,245.6 L602.2,245.7 L602.3,245.8 L602.5,245.8 L602.6,245.9 L602.8,245.8 L603.0,245.8 L603.1,245.7 L603.3,245.7 L603.4,245.7 L603.6,245.7 L603.8,245.7 L603.9,245.6 L604.1,245.6 L604.3,245.5 L604.4,245.5 L604.6,245.5 L604.7,245.5 L604.9,245.5 L605.1,245.6 L605.2,245.6 L605.4,245.7 L605.5,245.6 L605.7,245.7 L605.9,245.7 L606.0,245.8 L606.2,245.8 L606.3,245.9 L606.5,246.0 L606.7,246.0 L606.8,246.0 L607.0,246.0 L607.2,246.0 L607.3,246.0 L607.5,245.9 L607.6,245.9 L607.8,246.0 L608.0,246.0 L608.1,246.0 L608.3,246.0 L608.4,246.1 L608.6,246.1 L608.8,246.0 L608.9,245.9 L609.1,245.8 L609.2,245.8 L609.4,245.7 L609.6,245.6 L609.7,245.5 L609.9,245.5 L610.1,245.6 L610.2,245.7 L610.4,245.8 L610.5,245.8 L610.7,245.8 L610.9,245.8 L611.0,245.8 L611.2,245.8 L611.3,245.7 L611.5,245.7 L611.7,245.7 L611.8,245.7 L612.0,245.7 L612.1,245.6 L612.3,245.5 L612.5,245.5 L612.6,245.5 L612.8,245.6 L612.9,245.7 L613.1,245.8 L613.3,245.9 L613.4,245.9 L613.6,245.9 L613.8,245.9 L613.9,245.9 L614.1,245.8 L614.2,245.7 L614.4,245.7 L614.6,245.7 L614.7,245.7 L614.9,245.6 L615.0,245.6 L615.2,245.6 L615.4,245.6 L615.5,245.6 L615.7,245.6 L615.8,245.6 L616.0,245.6 L616.2,245.6 L616.3,245.6 L616.5,245.7 L616.7,245.7 L616.8,245.7 L617.0,245.6 L617.1,245.4 L617.3,245.3 L617.5,245.4 L617.6,245.5 L617.8,245.7 L617.9,245.8 L618.1,245.9 L618.3,246.0 L618.4,246.0 L618.6,246.0 L618.7,245.8 L618.9,245.7 L619.1,245.6 L619.2,245.6 L619.4,245.7 L619.5,245.8 L619.7,245.9 L619.9,246.0 L620.0,245.9 L620.2,245.8 L620.4,245.8 L620.5,245.7 L620.7,245.7 L620.8,245.7 L621.0,245.7 L621.2,245.7 L621.3,245.8 L621.5,245.8 L621.6,245.8 L621.8,245.8 L622.0,245.8 L622.1,245.8 L622.3,245.8 L622.4,245.7 L622.6,245.6 L622.8,245.5 L622.9,245.5 L623.1,245.4 L623.3,245.5 L623.4,245.6 L623.6,245.7 L623.7,245.6 L623.9,245.5 L624.1,245.4 L624.2,245.3 L624.4,245.3 L624.5,245.4 L624.7,245.5 L624.9,245.6 L625.0,245.7 L625.2,245.8 L625.3,245.8 L625.5,245.9 L625.7,245.9 L625.8,245.9 L626.0,245.9 L626.2,245.9 L626.3,245.9 L626.5,245.9 L626.6,245.9 L626.8,245.9 L627.0,245.9 L627.1,245.9 L627.3,246.0 L627.4,246.0 L627.6,246.0 L627.8,246.0 L627.9,245.9 L628.1,245.9 L628.2,245.9 L628.4,245.9 L628.6,245.9 L628.7,245.9 L628.9,245.8 L629.0,245.8 L629.2,245.8 L629.4,245.8 L629.5,245.9 L629.7,246.0 L629.9,246.0 L630.0,246.0 L630.2,245.9 L630.3,245.8 L630.5,245.9 L630.7,246.0 L630.8,246.1 L631.0,246.1 L631.1,246.1 L631.3,246.0 L631.5,245.9 L631.6,245.8 L631.8,245.7 L631.9,245.7 L632.1,245.6 L632.3,245.7" stroke="#ff00ff" stroke-opacity="0.82" stroke-width="1.15"/>
<path d="M42.4,261.2 L42.5,261.2 L42.7,261.2 L42.8,261.2 L43.0,261.2 L43.2,261.2 L43.3,261.2 L43.5,261.2 L43.7,261.2 L43.8,261.2 L44.0,261.2 L44.1,261.2 L44.3,261.2 L44.5,261.2 L44.6,261.2 L44.8,261.2 L44.9,261.2 L45.1,261.2 L45.3,261.2 L45.4,261.2 L45.6,261.2 L45.7,261.2 L45.9,261.2 L46.1,261.2 L46.2,261.2 L46.4,261.2 L46.6,261.2 L46.7,261.2 L46.9,261.2 L47.0,261.2 L47.2,261.2 L47.4,261.2 L47.5,261.2 L47.7,261.2 L47.8,261.2 L48.0,261.2 L48.2,261.2 L48.3,261.2 L48.5,261.2 L48.6,261.2 L48.8,261.2 L49.0,261.2 L49.1,261.2 L49.3,261.2 L49.4,261.2 L49.6,261.2 L49.8,261.2 L49.9,261.2 L50.1,261.2 L50.3,261.2 L50.4,261.2 L50.6,261.2 L50.7,261.2 L50.9,261.2 L51.1,261.2 L51.2,261.2 L51.4,261.2 L51.5,261.2 L51.7,261.2 L51.9,261.2 L52.0,261.2 L52.2,261.2 L52.3,261.2 L52.5,261.2 L52.7,261.2 L52.8,261.2 L53.0,261.2 L53.2,261.2 L53.3,261.2 L53.5,261.2 L53.6,261.2 L53.8,261.2 L54.0,261.2 L54.1,261.2 L54.3,261.2 L54.4,261.2 L54.6,261.2 L54.8,261.2 L54.9,261.2 L55.1,261.2 L55.2,261.2 L55.4,261.2 L55.6,261.2 L55.7,261.2 L55.9,261.2 L56.1,261.2 L56.2,261.2 L56.4,261.2 L56.5,261.2 L56.7,261.2 L56.9,261.2 L57.0,261.2 L57.2,261.2 L57.3,261.2 L57.5,261.2 L57.7,261.2 L57.8,261.2 L58.0,261.2 L58.1,261.2 L58.3,261.2 L58.5,261.2 L58.6,261.2 L58.8,261.2 L58.9,261.2 L59.1,261.2 L59.3,261.2 L59.4,261.2 L59.6,261.2 L59.8,261.2 L59.9,261.2 L60.1,261.2 L60.2,261.2 L60.4,261.2 L60.6,261.2 L60.7,261.2 L60.9,261.2 L61.0,261.2 L61.2,261.2 L61.4,261.2 L61.5,261.2 L61.7,261.2 L61.8,261.2 L61.8,261.2 L61.9,261.2 L62.0,261.2 L62.0,261.2 L62.0,261.2 L62.1,260.7 L62.2,254.2 L62.2,229.4 L62.3,208.8 L62.3,215.0 L62.4,229.4 L62.4,254.2 L62.5,260.7 L62.6,261.2 L62.6,261.2 L62.7,261.2 L62.7,261.2 L62.7,261.2 L62.8,261.2 L63.0,261.2 L63.1,261.2 L63.3,261.2 L63.5,261.2 L63.6,261.2 L63.8,261.2 L63.9,261.2 L64.1,261.2 L64.3,261.2 L64.4,261.2 L64.6,261.2 L64.7,261.2 L64.9,261.2 L65.1,261.2 L65.2,261.2 L65.4,261.2 L65.5,261.2 L65.7,261.2 L65.9,261.2 L66.0,261.2 L66.2,261.2 L66.4,261.2 L66.5,261.2 L66.7,261.2 L66.8,261.2 L67.0,261.2 L67.2,261.2 L67.3,261.2 L67.5,261.2 L67.6,261.2 L67.8,261.2 L68.0,261.2 L68.1,261.2 L68.3,261.2 L68.4,261.2 L68.6,261.2 L68.8,261.2 L68.9,261.2 L69.1,261.2 L69.3,261.2 L69.4,261.2 L69.6,261.2 L69.7,261.2 L69.9,261.2 L70.1,261.2 L70.2,261.2 L70.4,261.2 L70.5,261.2 L70.7,261.2 L70.9,261.2 L71.0,261.2 L71.2,261.2 L71.3,261.2 L71.5,261.2 L71.7,261.2 L71.8,261.2 L72.0,261.2 L72.2,261.2 L72.3,261.2 L72.5,261.2 L72.6,261.2 L72.8,261.2 L73.0,261.2 L73.1,261.2 L73.3,261.2 L73.4,261.2 L73.6,261.2 L73.8,261.2 L73.9,261.2 L74.1,261.2 L74.2,261.2 L74.4,261.2 L74.6,261.2 L74.7,261.2 L74.9,261.2 L75.0,261.2 L75.2,261.2 L75.4,261.2 L75.5,261.2 L75.7,261.2 L75.9,261.2 L76.0,261.2 L76.2,261.2 L76.3,261.2 L76.5,261.2 L76.7,261.2 L76.8,261.2 L77.0,261.2 L77.1,261.2 L77.3,261.2 L77.5,261.2 L77.6,261.2 L77.8,261.2 L77.9,261.2 L78.1,261.2 L78.3,261.2 L78.4,261.2 L78.6,261.2 L78.8,261.2 L78.9,261.2 L79.1,261.2 L79.2,261.2 L79.4,261.2 L79.6,261.2 L79.7,261.2 L79.9,261.2 L80.0,261.2 L80.2,261.2 L80.4,261.2 L80.5,261.2 L80.6,261.2 L80.7,261.2 L80.7,261.2 L80.7,261.2 L80.8,261.2 L80.8,261.2 L80.9,261.2 L81.0,260.7 L81.0,259.9 L81.0,258.7 L81.1,257.0 L81.2,258.7 L81.2,260.7 L81.3,261.2 L81.3,261.2 L81.4,261.2 L81.4,261.2 L81.5,261.2 L81.6,261.2 L81.6,261.2 L81.6,261.2 L81.8,261.2 L82.0,261.2 L82.1,261.2 L82.3,261.2 L82.5,261.2 L82.6,261.2 L82.8,261.2 L82.9,261.2 L83.1,261.2 L83.3,261.2 L83.4,261.2 L83.6,261.2 L83.7,261.2 L83.9,261.2 L84.1,261.2 L84.2,261.2 L84.4,261.2 L84.5,261.2 L84.7,261.2 L84.9,261.2 L85.0,261.2 L85.2,261.2 L85.4,261.2 L85.5,261.2 L85.7,261.2 L85.8,261.2 L86.0,261.2 L86.2,261.2 L86.3,261.2 L86.5,261.2 L86.6,261.2 L86.8,261.2 L87.0,261.2 L87.1,261.2 L87.3,261.2 L87.4,261.2 L87.6,261.2 L87.8,261.2 L87.9,261.2 L88.1,261.2 L88.2,261.2 L88.4,261.2 L88.6,261.2 L88.7,261.2 L88.9,261.2 L89.1,261.2 L89.2,261.2 L89.4,261.2 L89.5,261.2 L89.7,261.2 L89.9,261.2 L90.0,261.2 L90.2,261.2 L90.3,261.2 L90.5,261.2 L90.7,261.2 L90.8,261.2 L91.0,261.2 L91.1,261.2 L91.3,261.2 L91.5,261.2 L91.6,261.2 L91.8,261.2 L92.0,261.2 L92.1,261.2 L92.3,261.2 L92.4,261.2 L92.6,261.2 L92.8,261.2 L92.9,261.2 L93.1,261.2 L93.2,261.2 L93.4,261.2 L93.6,261.2 L93.7,261.2 L93.9,261.2 L94.0,261.2 L94.2,261.2 L94.4,261.2 L94.5,261.2 L94.7,261.2 L94.9,261.2 L95.0,261.2 L95.2,261.2 L95.3,261.2 L95.5,261.2 L95.7,261.2 L95.8,261.2 L96.0,261.2 L96.1,261.2 L96.3,261.2 L96.5,261.2 L96.6,261.2 L96.8,261.2 L96.9,261.2 L97.1,261.2 L97.3,261.2 L97.4,261.2 L97.6,261.2 L97.7,261.2 L97.9,261.2 L98.1,261.2 L98.2,261.2 L98.4,261.2 L98.6,261.2 L98.7,261.2 L98.9,261.2 L99.0,261.2 L99.2,261.2 L99.4,261.2 L99.5,261.2 L99.7,261.2 L99.8,261.2 L100.0,261.2 L100.2,261.2 L100.3,261.2 L100.5,261.2 L100.6,261.2 L100.8,261.2 L101.0,261.2 L101.1,261.2 L101.3,261.2 L101.5,261.2 L101.6,261.2 L101.8,261.2 L101.9,261.2 L102.1,261.2 L102.3,261.2 L102.4,261.2 L102.6,261.2 L102.7,261.2 L102.9,261.2 L103.1,261.2 L103.2,261.2 L103.4,261.2 L103.5,261.2 L103.7,261.2 L103.9,261.2 L104.0,261.2 L104.2,261.2 L104.4,261.2 L104.5,261.2 L104.7,261.2 L104.8,261.2 L105.0,261.2 L105.2,261.2 L105.3,261.2 L105.5,261.2 L105.6,261.2 L105.8,261.2 L106.0,261.2 L106.1,261.2 L106.3,261.2 L106.4,261.2 L106.6,261.2 L106.8,261.2 L106.9,261.2 L107.1,261.2 L107.2,261.2 L107.4,261.2 L107.6,261.2 L107.7,261.2 L107.9,261.2 L108.1,261.2 L108.2,261.2 L108.4,261.2 L108.5,261.2 L108.7,261.2 L108.9,261.2 L109.0,261.2 L109.2,261.2 L109.3,261.2 L109.5,261.2 L109.7,261.2 L109.8,261.2 L110.0,261.2 L110.1,261.2 L110.3,261.2 L110.5,261.2 L110.6,261.2 L110.8,261.2 L111.0,261.2 L111.1,261.2 L111.3,261.2 L111.4,261.2 L111.6,261.2 L111.8,261.2 L111.9,261.2 L112.1,261.2 L112.2,261.2 L112.4,261.2 L112.6,261.2 L112.7,261.2 L112.9,261.2 L113.0,261.2 L113.2,261.2 L113.4,261.2 L113.5,261.2 L113.7,261.2 L113.8,261.2 L114.0,261.2 L114.2,261.2 L114.3,261.2 L114.5,261.2 L114.7,261.2 L114.8,261.2 L115.0,261.2 L115.1,261.2 L115.3,261.2 L115.5,261.2 L115.6,261.2 L115.8,261.2 L115.9,261.2 L116.1,261.2 L116.3,261.2 L116.4,261.2 L116.6,261.2 L116.7,261.2 L116.9,261.2 L117.1,261.2 L117.2,261.2 L117.4,261.2 L117.6,261.2 L117.7,261.2 L117.9,261.2 L118.0,261.2 L118.2,261.2 L118.4,261.2 L118.5,261.2 L118.7,261.2 L118.8,261.2 L119.0,261.2 L119.2,261.2 L119.3,261.2 L119.5,261.2 L119.6,261.2 L119.8,261.2 L120.0,261.2 L120.1,261.2 L120.3,261.2 L120.5,261.2 L120.6,261.2 L120.8,261.2 L120.9,261.2 L121.1,261.2 L121.3,261.2 L121.4,261.2 L121.6,261.2 L121.7,261.2 L121.9,261.2 L122.1,261.2 L122.2,261.2 L122.4,261.2 L122.5,261.2 L122.7,261.2 L122.9,261.2 L123.0,261.2 L123.2,261.2 L123.3,261.2 L123.5,261.2 L123.7,261.2 L123.8,261.2 L124.0,261.2 L124.2,261.2 L124.3,261.2 L124.5,261.2 L124.6,261.2 L124.8,261.2 L125.0,261.2 L125.1,261.2 L125.3,261.2 L125.4,261.2 L125.6,261.2 L125.8,261.2 L125.9,261.2 L126.1,261.2 L126.2,261.2 L126.4,261.2 L126.6,261.2 L126.7,261.2 L126.9,261.2 L127.1,261.2 L127.2,261.2 L127.4,261.2 L127.5,261.2 L127.7,261.2 L127.9,261.2 L128.0,261.2 L128.2,261.2 L128.3,261.2 L128.5,261.2 L128.7,261.2 L128.8,261.2 L129.0,261.2 L129.1,261.2 L129.3,261.2 L129.5,261.2 L129.6,261.2 L129.8,261.2 L129.9,261.2 L130.1,261.2 L130.3,261.2 L130.4,261.2 L130.6,261.2 L130.8,261.2 L130.9,261.2 L131.1,261.2 L131.2,261.2 L131.4,261.2 L131.6,261.2 L131.7,261.2 L131.9,261.2 L132.0,261.2 L132.2,261.2 L132.4,261.2 L132.5,261.2 L132.7,261.2 L132.8,261.2 L133.0,261.2 L133.2,261.2 L133.3,261.2 L133.5,261.2 L133.7,261.2 L133.8,261.2 L134.0,261.2 L134.1,261.2 L134.3,261.2 L134.5,261.2 L134.6,261.2 L134.8,261.2 L134.9,261.2 L135.1,261.2 L135.3,261.2 L135.4,261.2 L135.6,261.2 L135.7,261.2 L135.9,261.2 L136.1,261.2 L136.2,261.2 L136.4,261.2 L136.6,261.2 L136.7,261.2 L136.9,261.2 L137.0,261.2 L137.2,261.2 L137.4,261.2 L137.5,261.2 L137.7,261.2 L137.8,261.2 L138.0,261.2 L138.2,261.2 L138.3,261.2 L138.5,261.2 L138.6,261.2 L138.8,261.2 L139.0,261.2 L139.1,261.2 L139.3,261.2 L139.4,261.2 L139.6,261.2 L139.8,261.2 L139.9,261.2 L140.1,261.2 L140.3,261.2 L140.4,261.2 L140.6,261.2 L140.7,261.2 L140.9,261.2 L141.1,261.2 L141.2,261.2 L141.4,261.2 L141.5,261.2 L141.7,261.2 L141.9,261.2 L142.0,261.2 L142.2,261.2 L142.3,261.2 L142.5,261.2 L142.7,261.2 L142.8,261.2 L143.0,261.2 L143.2,261.2 L143.3,261.2 L143.5,261.2 L143.6,261.2 L143.8,261.2 L144.0,261.2 L144.1,261.2 L144.3,261.2 L144.4,261.2 L144.6,261.2 L144.8,261.2 L144.9,261.2 L145.1,261.2 L145.2,261.2 L145.4,261.2 L145.6,261.2 L145.7,261.2 L145.9,261.2 L146.0,261.2 L146.2,261.2 L146.4,261.2 L146.5,261.2 L146.7,261.2 L146.9,261.2 L147.0,261.2 L147.2,261.2 L147.3,261.2 L147.5,261.2 L147.7,261.2 L147.8,261.2 L148.0,261.2 L148.1,261.2 L148.3,261.2 L148.5,261.2 L148.6,261.2 L148.8,261.2 L148.9,261.2 L149.1,261.2 L149.3,261.2 L149.4,261.2 L149.6,261.2 L149.8,261.2 L149.9,261.2 L150.1,261.2 L150.2,261.2 L150.4,261.2 L150.6,261.2 L150.7,261.2 L150.9,261.2 L151.0,261.2 L151.2,261.2 L151.4,261.2 L151.5,261.2 L151.7,261.2 L151.8,261.2 L152.0,261.2 L152.2,261.2 L152.3,261.2 L152.5,261.2 L152.7,261.2 L152.8,261.2 L153.0,261.2 L153.1,261.2 L153.3,261.2 L153.5,261.2 L153.6,261.2 L153.8,261.2 L153.9,261.2 L154.1,261.2 L154.3,261.2 L154.4,261.2 L154.6,261.2 L154.7,261.2 L154.9,261.2 L155.1,261.2 L155.2,261.2 L155.4,261.2 L155.5,261.2 L155.7,261.2 L155.9,261.2 L156.0,261.2 L156.2,261.2 L156.4,261.2 L156.5,261.2 L156.7,261.2 L156.8,261.2 L157.0,261.2 L157.2,261.2 L157.3,261.2 L157.5,261.2 L157.6,261.2 L157.8,261.2 L158.0,261.2 L158.1,261.2 L158.3,261.2 L158.4,261.2 L158.6,261.2 L158.8,261.2 L158.9,261.2 L159.1,261.2 L159.3,261.2 L159.4,261.2 L159.6,261.2 L159.7,261.2 L159.9,261.2 L160.1,261.2 L160.2,261.2 L160.4,261.2 L160.5,261.2 L160.7,261.2 L160.9,261.2 L161.0,261.2 L161.2,261.2 L161.3,261.2 L161.5,261.2 L161.7,261.2 L161.8,261.2 L162.0,261.2 L162.1,261.2 L162.3,261.2 L162.5,261.2 L162.6,261.2 L162.8,261.2 L163.0,261.2 L163.1,261.2 L163.3,261.2 L163.4,261.2 L163.6,261.2 L163.8,261.2 L163.9,261.2 L164.1,261.2 L164.2,261.2 L164.4,261.2 L164.6,261.2 L164.7,261.2 L164.9,261.2 L165.0,261.2 L165.2,261.2 L165.4,261.2 L165.5,261.2 L165.7,261.2 L165.9,261.2 L166.0,261.2 L166.2,261.2 L166.3,261.2 L166.5,261.2 L166.7,261.2 L166.8,261.2 L167.0,261.2 L167.1,261.2 L167.3,261.2 L167.5,261.2 L167.6,261.2 L167.8,261.2 L167.9,261.2 L168.1,261.2 L168.3,261.2 L168.4,261.2 L168.6,261.2 L168.8,261.2 L168.9,261.2 L169.1,261.2 L169.2,261.2 L169.4,261.2 L169.6,261.2 L169.7,261.2 L169.9,261.2 L170.0,261.2 L170.2,261.2 L170.4,261.2 L170.5,261.2 L170.7,261.2 L170.8,261.2 L171.0,261.2 L171.2,261.2 L171.3,261.2 L171.5,261.2 L171.6,261.2 L171.8,261.2 L172.0,261.2 L172.1,261.2 L172.3,261.2 L172.5,261.2 L172.6,261.2 L172.8,261.2 L172.9,261.2 L173.1,261.2 L173.3,261.2 L173.4,261.2 L173.6,261.2 L173.7,261.2 L173.9,261.2 L174.1,261.2 L174.2,261.2 L174.4,261.2 L174.5,261.2 L174.7,261.2 L174.9,261.2 L175.0,261.2 L175.2,261.2 L175.4,261.2 L175.5,261.2 L175.7,261.2 L175.8,261.2 L176.0,261.2 L176.2,261.2 L176.3,261.2 L176.5,261.2 L176.6,261.2 L176.8,261.2 L177.0,261.2 L177.1,261.2 L177.3,261.2 L177.4,261.2 L177.6,261.2 L177.8,261.2 L177.9,261.2 L178.1,261.2 L178.2,261.2 L178.4,261.2 L178.6,261.2 L178.7,261.2 L178.9,261.2 L179.1,261.2 L179.2,261.2 L179.4,261.2 L179.5,261.2 L179.7,261.2 L179.9,261.2 L180.0,261.2 L180.2,261.2 L180.3,261.2 L180.5,261.2 L180.7,261.2 L180.8,261.2 L181.0,261.2 L181.1,261.2 L181.3,261.2 L181.5,261.2 L181.6,261.2 L181.8,261.2 L182.0,261.2 L182.1,261.2 L182.3,261.2 L182.4,261.2 L182.6,261.2 L182.8,261.2 L182.9,261.2 L183.1,261.2 L183.2,261.2 L183.4,261.2 L183.6,261.2 L183.7,261.2 L183.9,261.2 L184.0,261.2 L184.2,261.2 L184.4,261.2 L184.5,261.2 L184.7,261.2 L184.9,261.2 L185.0,261.2 L185.2,261.2 L185.3,261.2 L185.5,261.2 L185.7,261.2 L185.8,261.2 L186.0,261.2 L186.1,261.2 L186.3,261.2 L186.5,261.2 L186.6,261.2 L186.8,261.2 L186.9,261.2 L187.1,261.2 L187.3,261.2 L187.4,261.2 L187.6,261.2 L187.7,261.2 L187.9,261.2 L188.1,261.2 L188.2,261.2 L188.4,261.2 L188.6,261.2 L188.7,261.2 L188.9,261.2 L189.0,261.2 L189.2,261.2 L189.4,261.2 L189.5,261.2 L189.7,261.2 L189.8,261.2 L190.0,261.2 L190.2,261.2 L190.3,261.2 L190.5,261.2 L190.6,261.2 L190.8,261.2 L191.0,261.2 L191.1,261.2 L191.3,261.2 L191.5,261.2 L191.6,261.2 L191.8,261.2 L191.9,261.2 L192.1,261.2 L192.3,261.2 L192.4,261.2 L192.6,261.2 L192.7,261.2 L192.9,261.2 L193.1,261.2 L193.2,261.2 L193.4,261.2 L193.5,261.2 L193.7,261.2 L193.9,261.2 L194.0,261.2 L194.2,261.2 L194.3,261.2 L194.5,261.2 L194.7,261.2 L194.8,261.2 L195.0,261.2 L195.2,261.2 L195.3,261.2 L195.5,261.2 L195.6,261.2 L195.8,261.2 L196.0,261.2 L196.1,261.2 L196.3,261.2 L196.4,261.2 L196.6,261.2 L196.8,261.2 L196.9,261.2 L197.1,261.2 L197.2,261.2 L197.4,261.2 L197.6,261.2 L197.7,261.2 L197.9,261.2 L198.1,261.2 L198.2,261.2 L198.4,261.2 L198.5,261.2 L198.7,261.2 L198.9,261.2 L199.0,261.2 L199.2,261.2 L199.3,261.2 L199.5,261.2 L199.7,261.2 L199.8,261.2 L200.0,261.2 L200.1,261.2 L200.3,261.2 L200.5,261.2 L200.6,261.2 L200.8,261.2 L201.0,261.2 L201.1,261.2 L201.3,261.2 L201.4,261.2 L201.6,261.2 L201.8,261.2 L201.9,261.2 L202.1,261.2 L202.2,261.2 L202.4,261.2 L202.6,261.2 L202.7,261.2 L202.9,261.2 L203.0,261.2 L203.2,261.2 L203.4,261.2 L203.5,261.2 L203.7,261.2 L203.8,261.2 L204.0,261.2 L204.2,261.2 L204.3,261.2 L204.5,261.2 L204.7,261.2 L204.8,261.2 L205.0,261.2 L205.1,261.2 L205.3,261.2 L205.5,261.2 L205.6,261.2 L205.8,261.2 L205.9,261.2 L206.1,261.2 L206.3,261.2 L206.4,261.2 L206.6,261.2 L206.7,261.2 L206.9,261.2 L207.1,261.2 L207.2,261.2 L207.4,261.2 L207.6,261.2 L207.7,261.2 L207.9,261.2 L208.0,261.2 L208.2,261.2 L208.4,261.2 L208.5,261.2 L208.7,261.2 L208.8,261.2 L209.0,261.2 L209.2,261.2 L209.3,261.2 L209.5,261.2 L209.6,261.2 L209.8,261.2 L210.0,261.2 L210.1,261.2 L210.3,261.2 L210.4,261.2 L210.6,261.2 L210.8,261.2 L210.9,261.2 L211.1,261.2 L211.3,261.2 L211.4,261.2 L211.6,261.2 L211.7,261.2 L211.9,261.2 L212.1,261.2 L212.2,261.2 L212.4,261.2 L212.5,261.2 L212.7,261.2 L212.9,261.2 L213.0,261.2 L213.2,261.2 L213.3,261.2 L213.5,261.2 L213.7,261.2 L213.8,261.2 L214.0,261.2 L214.2,261.2 L214.3,261.2 L214.5,261.2 L214.6,261.2 L214.8,261.2 L215.0,261.2 L215.1,261.2 L215.3,261.2 L215.4,261.2 L215.6,261.2 L215.8,261.2 L215.9,261.2 L216.1,261.2 L216.2,261.2 L216.4,261.2 L216.6,261.2 L216.7,261.2 L216.9,261.2 L217.1,261.2 L217.2,261.2 L217.4,261.2 L217.5,261.2 L217.7,261.2 L217.9,261.2 L218.0,261.2 L218.2,261.2 L218.3,261.2 L218.5,261.2 L218.7,261.2 L218.8,261.2 L219.0,261.2 L219.1,261.2 L219.3,261.2 L219.5,261.2 L219.6,261.2 L219.8,261.2 L219.9,261.2 L220.1,261.2 L220.3,261.2 L220.4,261.2 L220.6,261.2 L220.8,261.2 L220.9,261.2 L221.1,261.2 L221.2,261.2 L221.4,261.2 L221.6,261.2 L221.7,261.2 L221.9,261.2 L222.0,261.2 L222.2,261.2 L222.4,261.2 L222.5,261.2 L222.7,261.2 L222.8,261.2 L223.0,261.2 L223.2,261.2 L223.3,261.2 L223.5,261.2 L223.7,261.2 L223.8,261.2 L224.0,261.2 L224.1,261.2 L224.3,261.2 L224.5,261.2 L224.6,261.2 L224.8,261.2 L224.9,261.2 L225.1,261.2 L225.3,261.2 L225.4,261.2 L225.6,261.2 L225.7,261.2 L225.9,261.2 L226.1,261.2 L226.2,261.2 L226.4,261.2 L226.5,261.2 L226.7,261.2 L226.9,261.2 L227.0,261.2 L227.2,261.2 L227.4,261.2 L227.5,261.2 L227.7,261.2 L227.8,261.2 L228.0,261.2 L228.2,261.2 L228.3,261.2 L228.5,261.2 L228.6,261.2 L228.8,261.2 L229.0,261.2 L229.1,261.2 L229.3,261.2 L229.4,261.2 L229.6,261.2 L229.8,261.2 L229.9,261.2 L230.1,261.2 L230.3,261.2 L230.4,261.2 L230.6,261.2 L230.7,261.2 L230.9,261.2 L231.1,261.2 L231.2,261.2 L231.4,261.2 L231.5,261.2 L231.7,261.2 L231.9,261.2 L232.0,261.2 L232.2,261.2 L232.3,261.2 L232.5,261.2 L232.7,261.2 L232.8,261.2 L233.0,261.2 L233.2,261.2 L233.3,261.2 L233.5,261.2 L233.6,261.2 L233.8,261.2 L234.0,261.2 L234.1,261.2 L234.3,261.2 L234.4,261.2 L234.6,261.2 L234.8,261.2 L234.9,261.2 L235.1,261.2 L235.2,261.2 L235.4,261.2 L235.6,261.2 L235.7,261.2 L235.9,261.2 L236.0,261.2 L236.2,261.2 L236.4,261.2 L236.5,261.2 L236.7,261.2 L236.9,261.2 L237.0,261.2 L237.2,261.2 L237.3,261.2 L237.5,261.2 L237.7,261.2 L237.8,261.2 L238.0,261.2 L238.1,261.2 L238.3,261.2 L238.5,261.2 L238.6,261.2 L238.8,261.2 L238.9,261.2 L239.1,261.2 L239.3,261.2 L239.4,261.2 L239.6,261.2 L239.8,261.2 L239.9,261.2 L240.1,261.2 L240.2,261.2 L240.4,261.2 L240.6,261.2 L240.7,261.2 L240.9,261.2 L241.0,261.2 L241.2,261.2 L241.4,261.2 L241.5,261.2 L241.7,261.2 L241.8,261.2 L242.0,261.2 L242.2,261.2 L242.3,261.2 L242.5,261.2 L242.6,261.2 L242.8,261.2 L243.0,261.2 L243.1,261.2 L243.3,261.2 L243.5,261.2 L243.6,261.2 L243.8,261.2 L243.9,261.2 L244.1,261.2 L244.3,261.2 L244.4,261.2 L244.6,261.2 L244.7,261.2 L244.9,261.2 L245.1,261.2 L245.2,261.2 L245.4,261.2 L245.5,261.2 L245.7,261.2 L245.9,261.2 L246.0,261.2 L246.2,261.2 L246.4,261.2 L246.5,261.2 L246.7,261.2 L246.8,261.2 L247.0,261.2 L247.2,261.2 L247.3,261.2 L247.5,261.2 L247.6,261.2 L247.8,261.2 L248.0,261.2 L248.1,261.2 L248.3,261.2 L248.4,261.2 L248.6,261.2 L248.8,261.2 L248.9,261.2 L249.1,261.2 L249.2,261.2 L249.4,261.2 L249.6,261.2 L249.7,261.2 L249.9,261.2 L250.1,261.2 L250.2,261.2 L250.4,261.2 L250.5,261.2 L250.7,261.2 L250.9,261.2 L251.0,261.2 L251.2,261.2 L251.3,261.2 L251.5,261.2 L251.7,261.2 L251.8,261.2 L252.0,261.2 L252.1,261.2 L252.3,261.2 L252.5,261.2 L252.6,261.2 L252.8,261.2 L253.0,261.2 L253.1,261.2 L253.3,261.2 L253.4,261.2 L253.6,261.2 L253.8,261.2 L253.9,261.2 L254.1,261.2 L254.2,261.2 L254.4,261.2 L254.6,261.2 L254.7,261.2 L254.9,261.2 L255.0,261.2 L255.2,261.2 L255.4,261.2 L255.5,261.2 L255.7,261.2 L255.9,261.2 L256.0,261.2 L256.2,261.2 L256.3,261.2 L256.5,261.2 L256.7,261.2 L256.8,261.2 L257.0,261.2 L257.1,261.2 L257.3,261.2 L257.5,261.2 L257.6,261.2 L257.8,261.2 L257.9,261.2 L258.1,261.2 L258.3,261.2 L258.4,261.2 L258.6,261.2 L258.7,261.2 L258.9,261.2 L259.1,261.2 L259.2,261.2 L259.4,261.2 L259.6,261.2 L259.7,261.2 L259.9,261.2 L260.0,261.2 L260.2,261.2 L260.4,261.2 L260.5,261.2 L260.7,261.2 L260.8,261.2 L261.0,261.2 L261.2,261.2 L261.3,261.2 L261.5,261.2 L261.6,261.2 L261.8,261.2 L262.0,261.2 L262.1,261.2 L262.3,261.2 L262.5,261.2 L262.6,261.2 L262.8,261.2 L262.9,261.2 L263.1,261.2 L263.3,261.2 L263.4,261.2 L263.6,261.2 L263.7,261.2 L263.9,261.2 L264.1,261.2 L264.2,261.2 L264.4,261.2 L264.5,261.2 L264.7,261.2 L264.9,261.2 L265.0,261.2 L265.2,261.2 L265.4,261.2 L265.5,261.2 L265.7,261.2 L265.8,261.2 L266.0,261.2 L266.2,261.2 L266.3,261.2 L266.5,261.2 L266.6,261.2 L266.8,261.2 L267.0,261.2 L267.1,261.2 L267.3,261.2 L267.4,261.2 L267.6,261.2 L267.8,261.2 L267.9,261.2 L268.1,261.2 L268.2,261.2 L268.4,261.2 L268.6,261.2 L268.7,261.2 L268.9,261.2 L269.1,261.2 L269.2,261.2 L269.4,261.2 L269.5,261.2 L269.7,261.2 L269.9,261.2 L270.0,261.2 L270.2,261.2 L270.3,261.2 L270.5,261.2 L270.7,261.2 L270.8,261.2 L271.0,261.2 L271.1,261.2 L271.3,261.2 L271.5,261.2 L271.6,261.2 L271.8,261.2 L272.0,261.2 L272.1,261.2 L272.3,261.2 L272.4,261.2 L272.6,261.2 L272.8,261.2 L272.9,261.2 L273.1,261.2 L273.2,261.2 L273.4,261.2 L273.6,261.2 L273.7,261.2 L273.9,261.2 L274.0,261.2 L274.2,261.2 L274.4,261.2 L274.5,261.2 L274.7,261.2 L274.8,261.2 L275.0,261.2 L275.2,261.2 L275.3,261.2 L275.5,261.2 L275.7,261.2 L275.8,261.2 L276.0,261.2 L276.1,261.2 L276.3,261.2 L276.5,261.2 L276.6,261.2 L276.8,261.2 L276.9,261.2 L277.1,261.2 L277.3,261.2 L277.4,261.2 L277.6,261.2 L277.7,261.2 L277.9,261.2 L278.1,261.2 L278.2,261.2 L278.4,261.2 L278.6,261.2 L278.7,261.2 L278.9,261.2 L279.0,261.2 L279.1,261.2 L279.1,261.2 L279.2,261.2 L279.3,261.2 L279.3,261.2 L279.4,261.2 L279.4,261.1 L279.5,259.2 L279.5,252.0 L279.6,246.0 L279.6,252.0 L279.7,256.3 L279.7,259.2 L279.8,261.1 L279.8,261.2 L279.9,261.2 L280.0,261.2 L280.0,261.2 L280.0,261.2 L280.1,261.2 L280.2,261.2 L280.3,261.2 L280.5,261.2 L280.6,261.2 L280.8,261.2 L281.0,261.2 L281.0,261.2 L281.1,261.2 L281.1,261.2 L281.2,261.2 L281.3,261.2 L281.3,260.7 L281.3,258.7 L281.4,229.7 L281.4,119.7 L281.5,27.8 L281.6,119.7 L281.6,185.5 L281.6,229.7 L281.7,258.7 L281.8,261.2 L281.8,261.2 L281.9,261.2 L281.9,261.2 L282.0,261.2 L282.0,261.2 L282.1,261.2 L282.3,261.2 L282.4,261.2 L282.6,261.2 L282.7,261.2 L282.9,261.2 L283.1,261.2 L283.2,261.2 L283.4,261.2 L283.5,261.2 L283.7,261.2 L283.8,261.2 L283.8,261.2 L283.9,261.2 L283.9,261.2 L284.0,261.2 L284.0,260.8 L284.1,255.5 L284.2,235.6 L284.2,223.9 L284.2,219.0 L284.3,235.6 L284.3,255.5 L284.4,260.8 L284.5,261.2 L284.5,261.2 L284.5,261.2 L284.6,261.2 L284.7,261.2 L284.7,261.2 L284.8,261.2 L285.0,261.2 L285.2,261.2 L285.3,261.2 L285.5,261.2 L285.6,261.2 L285.8,261.2 L286.0,261.2 L286.1,261.2 L286.3,261.2 L286.4,261.2 L286.6,261.2 L286.8,261.2 L286.9,261.2 L287.1,261.2 L287.2,261.2 L287.4,261.2 L287.6,261.2 L287.7,261.2 L287.9,261.2 L288.1,261.2 L288.2,261.2 L288.4,261.2 L288.5,261.2 L288.7,261.2 L288.9,261.2 L289.0,261.2 L289.2,261.2 L289.3,261.2 L289.5,261.2 L289.7,261.2 L289.8,261.2 L290.0,261.2 L290.1,261.2 L290.3,261.2 L290.5,261.2 L290.6,261.2 L290.8,261.2 L290.9,261.2 L291.1,261.2 L291.3,261.2 L291.4,261.2 L291.6,261.2 L291.8,261.2 L291.9,261.2 L292.1,261.2 L292.2,261.2 L292.4,261.2 L292.6,261.2 L292.7,261.2 L292.9,261.2 L293.0,261.2 L293.2,261.2 L293.4,261.2 L293.5,261.2 L293.7,261.2 L293.8,261.2 L294.0,261.2 L294.2,261.2 L294.3,261.2 L294.5,261.2 L294.7,261.2 L294.8,261.2 L295.0,261.2 L295.1,261.2 L295.3,261.2 L295.5,261.2 L295.6,261.2 L295.8,261.2 L295.9,261.2 L296.1,261.2 L296.3,261.2 L296.4,261.2 L296.6,261.2 L296.7,261.2 L296.9,261.2 L297.1,261.2 L297.2,261.2 L297.4,261.2 L297.6,261.2 L297.7,261.2 L297.9,261.2 L298.0,261.2 L298.2,261.2 L298.4,261.2 L298.5,261.2 L298.7,261.2 L298.8,261.2 L299.0,261.2 L299.2,261.2 L299.3,261.2 L299.5,261.2 L299.6,261.2 L299.8,261.2 L300.0,261.2 L300.1,261.2 L300.3,261.2 L300.4,261.2 L300.6,261.2 L300.8,261.2 L300.8,261.2 L300.9,261.2 L300.9,261.2 L301.0,261.2 L301.0,261.2 L301.1,261.2 L301.2,261.0 L301.2,258.8 L301.3,255.3 L301.3,250.2 L301.3,243.0 L301.4,250.2 L301.5,258.8 L301.5,261.0 L301.6,261.2 L301.6,261.2 L301.7,261.2 L301.7,261.2 L301.8,261.2 L301.9,261.2 L301.9,261.2 L302.1,261.2 L302.2,261.2 L302.4,261.2 L302.5,261.2 L302.6,261.2 L302.7,261.2 L302.8,261.2 L302.8,261.2 L302.9,261.2 L302.9,261.2 L303.0,261.1 L303.0,259.6 L303.1,253.7 L303.2,248.8 L303.2,250.3 L303.2,253.7 L303.3,259.6 L303.3,261.1 L303.4,261.2 L303.5,261.2 L303.5,261.2 L303.5,261.2 L303.6,261.2 L303.7,261.2 L303.8,261.2 L304.0,261.2 L304.2,261.2 L304.3,261.2 L304.5,261.2 L304.6,261.2 L304.8,261.2 L305.0,261.2 L305.1,261.2 L305.3,261.2 L305.4,261.2 L305.6,261.2 L305.8,261.2 L305.9,261.2 L306.1,261.2 L306.2,261.2 L306.4,261.2 L306.6,261.2 L306.7,261.2 L306.9,261.2 L307.0,261.2 L307.2,261.2 L307.4,261.2 L307.5,261.2 L307.7,261.2 L307.9,261.2 L308.0,261.2 L308.2,261.2 L308.3,261.2 L308.5,261.2 L308.7,261.2 L308.8,261.2 L309.0,261.2 L309.1,261.2 L309.3,261.2 L309.5,261.2 L309.6,261.2 L309.8,261.2 L309.9,261.2 L310.1,261.2 L310.3,261.2 L310.4,261.2 L310.6,261.2 L310.8,261.2 L310.9,261.2 L311.1,261.2 L311.2,261.2 L311.4,261.2 L311.6,261.2 L311.7,261.2 L311.9,261.2 L312.0,261.2 L312.2,261.2 L312.4,261.2 L312.5,261.2 L312.7,261.2 L312.8,261.2 L313.0,261.2 L313.2,261.2 L313.3,261.2 L313.5,261.2 L313.7,261.2 L313.8,261.2 L314.0,261.2 L314.1,261.2 L314.3,261.2 L314.5,261.2 L314.6,261.2 L314.8,261.2 L314.9,261.2 L315.1,261.2 L315.3,261.2 L315.4,261.2 L315.6,261.2 L315.7,261.2 L315.9,261.2 L316.1,261.2 L316.2,261.2 L316.4,261.2 L316.5,261.2 L316.7,261.2 L316.9,261.2 L317.0,261.2 L317.2,261.2 L317.4,261.2 L317.5,261.2 L317.7,261.2 L317.8,261.2 L318.0,261.2 L318.2,261.2 L318.3,261.2 L318.5,261.2 L318.6,261.2 L318.8,261.2 L319.0,261.2 L319.1,261.2 L319.3,261.2 L319.4,261.2 L319.6,261.2 L319.8,261.2 L319.9,261.2 L320.1,261.2 L320.3,261.2 L320.4,261.2 L320.6,261.2 L320.7,261.2 L320.9,261.2 L321.1,261.2 L321.2,261.2 L321.4,261.2 L321.5,261.2 L321.7,261.2 L321.9,261.2 L322.0,261.2 L322.2,261.2 L322.3,261.2 L322.5,261.2 L322.7,261.2 L322.8,261.2 L323.0,261.2 L323.1,261.2 L323.3,261.2 L323.5,261.2 L323.6,261.2 L323.8,261.2 L324.0,261.2 L324.1,261.2 L324.3,261.2 L324.4,261.2 L324.6,261.2 L324.8,261.2 L324.9,261.2 L325.1,261.2 L325.2,261.2 L325.4,261.2 L325.6,261.2 L325.7,261.2 L325.9,261.2 L326.0,261.2 L326.2,261.2 L326.4,261.2 L326.5,261.2 L326.7,261.2 L326.9,261.2 L327.0,261.2 L327.2,261.2 L327.3,261.2 L327.5,261.2 L327.7,261.2 L327.8,261.2 L328.0,261.2 L328.1,261.2 L328.3,261.2 L328.5,261.2 L328.6,261.2 L328.8,261.2 L328.9,261.2 L329.1,261.2 L329.3,261.2 L329.4,261.2 L329.6,261.2 L329.8,261.2 L329.9,261.2 L330.1,261.2 L330.2,261.2 L330.4,261.2 L330.6,261.2 L330.7,261.2 L330.9,261.2 L331.0,261.2 L331.2,261.2 L331.4,261.2 L331.5,261.2 L331.7,261.2 L331.8,261.2 L332.0,261.2 L332.2,261.2 L332.3,261.2 L332.5,261.2 L332.6,261.2 L332.8,261.2 L333.0,261.2 L333.1,261.2 L333.3,261.2 L333.5,261.2 L333.6,261.2 L333.8,261.2 L333.9,261.2 L334.1,261.2 L334.3,261.2 L334.4,261.2 L334.6,261.2 L334.7,261.2 L334.9,261.2 L335.1,261.2 L335.2,261.2 L335.4,261.2 L335.5,261.2 L335.7,261.2 L335.9,261.2 L336.0,261.2 L336.2,261.2 L336.4,261.2 L336.5,261.2 L336.7,261.2 L336.8,261.2 L337.0,261.2 L337.2,261.2 L337.3,261.2 L337.5,261.2 L337.6,261.2 L337.8,261.2 L338.0,261.2 L338.1,261.2 L338.3,261.2 L338.4,261.2 L338.6,261.2 L338.8,261.2 L338.9,261.2 L339.1,261.2 L339.2,261.2 L339.4,261.2 L339.6,261.2 L339.7,261.2 L339.9,261.2 L340.1,261.2 L340.2,261.2 L340.4,261.2 L340.5,261.2 L340.7,261.2 L340.9,261.2 L341.0,261.2 L341.2,261.2 L341.3,261.2 L341.5,261.2 L341.7,261.2 L341.8,261.2 L342.0,261.2 L342.1,261.2 L342.3,261.2 L342.5,261.2 L342.6,261.2 L342.8,261.2 L343.0,261.2 L343.1,261.2 L343.3,261.2 L343.4,261.2 L343.6,261.2 L343.8,261.2 L343.9,261.2 L344.1,261.2 L344.2,261.2 L344.4,261.2 L344.6,261.2 L344.7,261.2 L344.9,261.2 L345.0,261.2 L345.2,261.2 L345.4,261.2 L345.5,261.2 L345.7,261.2 L345.8,261.2 L346.0,261.2 L346.2,261.2 L346.3,261.2 L346.5,261.2 L346.7,261.2 L346.8,261.2 L347.0,261.2 L347.1,261.2 L347.3,261.2 L347.5,261.2 L347.6,261.2 L347.8,261.2 L347.9,261.2 L348.1,261.2 L348.3,261.2 L348.4,261.2 L348.6,261.2 L348.7,261.2 L348.9,261.2 L349.1,261.2 L349.2,261.2 L349.4,261.2 L349.6,261.2 L349.7,261.2 L349.9,261.2 L350.0,261.2 L350.2,261.2 L350.4,261.2 L350.5,261.2 L350.7,261.2 L350.8,261.2 L351.0,261.2 L351.2,261.2 L351.3,261.2 L351.5,261.2 L351.6,261.2 L351.8,261.2 L352.0,261.2 L352.1,261.2 L352.3,261.2 L352.5,261.2 L352.6,261.2 L352.8,261.2 L352.9,261.2 L353.1,261.2 L353.3,261.2 L353.4,261.2 L353.6,261.2 L353.7,261.2 L353.9,261.2 L354.1,261.2 L354.2,261.2 L354.4,261.2 L354.5,261.2 L354.7,261.2 L354.9,261.2 L355.0,261.2 L355.2,261.2 L355.3,261.2 L355.5,261.2 L355.7,261.2 L355.8,261.2 L356.0,261.2 L356.2,261.2 L356.3,261.2 L356.5,261.2 L356.6,261.2 L356.8,261.2 L357.0,261.2 L357.1,261.2 L357.3,261.2 L357.4,261.2 L357.6,261.2 L357.8,261.2 L357.9,261.2 L358.1,261.2 L358.2,261.2 L358.4,261.2 L358.6,261.2 L358.7,261.2 L358.9,261.2 L359.1,261.2 L359.2,261.2 L359.4,261.2 L359.5,261.2 L359.7,261.2 L359.9,261.2 L360.0,261.2 L360.2,261.2 L360.3,261.2 L360.5,261.2 L360.7,261.2 L360.8,261.2 L361.0,261.2 L361.1,261.2 L361.3,261.2 L361.5,261.2 L361.6,261.2 L361.8,261.2 L361.9,261.2 L362.1,261.2 L362.3,261.2 L362.4,261.2 L362.6,261.2 L362.8,261.2 L362.9,261.2 L363.1,261.2 L363.2,261.2 L363.4,261.2 L363.6,261.2 L363.7,261.2 L363.9,261.2 L364.0,261.2 L364.2,261.2 L364.4,261.2 L364.5,261.2 L364.7,261.2 L364.8,261.2 L365.0,261.2 L365.2,261.2 L365.3,261.2 L365.5,261.2 L365.7,261.2 L365.8,261.2 L366.0,261.2 L366.1,261.2 L366.3,261.2 L366.5,261.2 L366.6,261.2 L366.8,261.2 L366.9,261.2 L367.1,261.2 L367.3,261.2 L367.4,261.2 L367.6,261.2 L367.7,261.2 L367.9,261.2 L368.1,261.2 L368.2,261.2 L368.4,261.2 L368.6,261.2 L368.7,261.2 L368.9,261.2 L369.0,261.2 L369.2,261.2 L369.4,261.2 L369.5,261.2 L369.7,261.2 L369.8,261.2 L370.0,261.2 L370.2,261.2 L370.3,261.2 L370.5,261.2 L370.6,261.2 L370.8,261.2 L371.0,261.2 L371.1,261.2 L371.3,261.2 L371.4,261.2 L371.6,261.2 L371.8,261.2 L371.9,261.2 L372.1,261.2 L372.3,261.2 L372.4,261.2 L372.6,261.2 L372.7,261.2 L372.9,261.2 L373.1,261.2 L373.2,261.2 L373.4,261.2 L373.5,261.2 L373.7,261.2 L373.9,261.2 L374.0,261.2 L374.2,261.2 L374.3,261.2 L374.5,261.2 L374.7,261.2 L374.8,261.2 L375.0,261.2 L375.2,261.2 L375.3,261.2 L375.5,261.2 L375.6,261.2 L375.8,261.2 L376.0,261.2 L376.1,261.2 L376.3,261.2 L376.4,261.2 L376.6,261.2 L376.8,261.2 L376.9,261.2 L377.1,261.2 L377.2,261.2 L377.4,261.2 L377.6,261.2 L377.7,261.2 L377.9,261.2 L378.1,261.2 L378.2,261.2 L378.4,261.2 L378.5,261.2 L378.7,261.2 L378.9,261.2 L379.0,261.2 L379.2,261.2 L379.3,261.2 L379.5,261.2 L379.7,261.2 L379.8,261.2 L380.0,261.2 L380.1,261.2 L380.3,261.2 L380.5,261.2 L380.6,261.2 L380.8,261.2 L380.9,261.2 L381.1,261.2 L381.3,261.2 L381.4,261.2 L381.6,261.2 L381.8,261.2 L381.9,261.2 L382.1,261.2 L382.2,261.2 L382.4,261.2 L382.6,261.2 L382.7,261.2 L382.9,261.2 L383.0,261.2 L383.2,261.2 L383.4,261.2 L383.5,261.2 L383.7,261.2 L383.8,261.2 L384.0,261.2 L384.2,261.2 L384.3,261.2 L384.5,261.2 L384.7,261.2 L384.8,261.2 L385.0,261.2 L385.1,261.2 L385.3,261.2 L385.5,261.2 L385.6,261.2 L385.8,261.2 L385.9,261.2 L386.1,261.2 L386.3,261.2 L386.4,261.2 L386.6,261.2 L386.7,261.2 L386.9,261.2 L387.1,261.2 L387.2,261.2 L387.4,261.2 L387.5,261.2 L387.7,261.2 L387.9,261.2 L388.0,261.2 L388.2,261.2 L388.4,261.2 L388.5,261.2 L388.7,261.2 L388.8,261.2 L389.0,261.2 L389.2,261.2 L389.3,261.2 L389.5,261.2 L389.6,261.2 L389.8,261.2 L390.0,261.2 L390.1,261.2 L390.3,261.2 L390.4,261.2 L390.6,261.2 L390.8,261.2 L390.9,261.2 L391.1,261.2 L391.3,261.2 L391.4,261.2 L391.6,261.2 L391.7,261.2 L391.9,261.2 L392.1,261.2 L392.2,261.2 L392.4,261.2 L392.5,261.2 L392.7,261.2 L392.9,261.2 L393.0,261.2 L393.2,261.2 L393.3,261.2 L393.5,261.2 L393.7,261.2 L393.8,261.2 L394.0,261.2 L394.2,261.2 L394.3,261.2 L394.5,261.2 L394.6,261.2 L394.8,261.2 L395.0,261.2 L395.1,261.2 L395.3,261.2 L395.4,261.2 L395.6,261.2 L395.8,261.2 L395.9,261.2 L396.1,261.2 L396.2,261.2 L396.4,261.2 L396.6,261.2 L396.7,261.2 L396.9,261.2 L397.0,261.2 L397.2,261.2 L397.4,261.2 L397.5,261.2 L397.7,261.2 L397.9,261.2 L398.0,261.2 L398.2,261.2 L398.3,261.2 L398.5,261.2 L398.7,261.2 L398.8,261.2 L399.0,261.2 L399.1,261.2 L399.3,261.2 L399.5,261.2 L399.6,261.2 L399.8,261.2 L399.9,261.2 L400.1,261.2 L400.3,261.2 L400.4,261.2 L400.6,261.2 L400.8,261.2 L400.9,261.2 L401.1,261.2 L401.2,261.2 L401.4,261.2 L401.6,261.2 L401.7,261.2 L401.9,261.2 L402.0,261.2 L402.2,261.2 L402.4,261.2 L402.5,261.2 L402.7,261.2 L402.8,261.2 L403.0,261.2 L403.2,261.2 L403.3,261.2 L403.5,261.2 L403.6,261.2 L403.8,261.2 L404.0,261.2 L404.1,261.2 L404.3,261.2 L404.5,261.2 L404.6,261.2 L404.8,261.2 L404.9,261.2 L405.1,261.2 L405.3,261.2 L405.4,261.2 L405.6,261.2 L405.7,261.2 L405.9,261.2 L406.1,261.2 L406.2,261.2 L406.4,261.2 L406.5,261.2 L406.7,261.2 L406.9,261.2 L407.0,261.2 L407.2,261.2 L407.4,261.2 L407.5,261.2 L407.7,261.2 L407.8,261.2 L408.0,261.2 L408.2,261.2 L408.3,261.2 L408.5,261.2 L408.6,261.2 L408.8,261.2 L409.0,261.2 L409.1,261.2 L409.3,261.2 L409.4,261.2 L409.6,261.2 L409.8,261.2 L409.9,261.2 L410.1,261.2 L410.3,261.2 L410.4,261.2 L410.6,261.2 L410.7,261.2 L410.9,261.2 L411.1,261.2 L411.2,261.2 L411.4,261.2 L411.5,261.2 L411.7,261.2 L411.9,261.2 L412.0,261.2 L412.2,261.2 L412.3,261.2 L412.5,261.2 L412.7,261.2 L412.8,261.2 L413.0,261.2 L413.1,261.2 L413.3,261.2 L413.5,261.2 L413.6,261.2 L413.8,261.2 L414.0,261.2 L414.1,261.2 L414.3,261.2 L414.4,261.2 L414.6,261.2 L414.8,261.2 L414.9,261.2 L415.1,261.2 L415.2,261.2 L415.4,261.2 L415.6,261.2 L415.7,261.2 L415.9,261.2 L416.0,261.2 L416.2,261.2 L416.4,261.2 L416.5,261.2 L416.7,261.2 L416.9,261.2 L417.0,261.2 L417.2,261.2 L417.3,261.2 L417.5,261.2 L417.7,261.2 L417.8,261.2 L418.0,261.2 L418.1,261.2 L418.3,261.2 L418.5,261.2 L418.6,261.2 L418.8,261.2 L418.9,261.2 L419.1,261.2 L419.3,261.2 L419.4,261.2 L419.6,261.2 L419.7,261.2 L419.9,261.2 L420.1,261.2 L420.2,261.2 L420.4,261.2 L420.6,261.2 L420.7,261.2 L420.9,261.2 L421.0,261.2 L421.2,261.2 L421.4,261.2 L421.5,261.2 L421.7,261.2 L421.8,261.2 L422.0,261.2 L422.2,261.2 L422.3,261.2 L422.5,261.2 L422.6,261.2 L422.8,261.2 L423.0,261.2 L423.1,261.2 L423.3,261.2 L423.5,261.2 L423.6,261.2 L423.8,261.2 L423.9,261.2 L424.1,261.2 L424.3,261.2 L424.4,261.2 L424.6,261.2 L424.7,261.2 L424.9,261.2 L425.1,261.2 L425.2,261.2 L425.4,261.2 L425.5,261.2 L425.7,261.2 L425.9,261.2 L426.0,261.2 L426.2,261.2 L426.3,261.2 L426.5,261.2 L426.7,261.2 L426.8,261.2 L427.0,261.2 L427.2,261.2 L427.3,261.2 L427.5,261.2 L427.6,261.2 L427.8,261.2 L428.0,261.2 L428.1,261.2 L428.3,261.2 L428.4,261.2 L428.6,261.2 L428.8,261.2 L428.9,261.2 L429.1,261.2 L429.2,261.2 L429.4,261.2 L429.6,261.2 L429.7,261.2 L429.9,261.2 L430.1,261.2 L430.2,261.2 L430.4,261.2 L430.5,261.2 L430.7,261.2 L430.9,261.2 L431.0,261.2 L431.2,261.2 L431.3,261.2 L431.5,261.2 L431.7,261.2 L431.8,261.2 L432.0,261.2 L432.1,261.2 L432.3,261.2 L432.5,261.2 L432.6,261.2 L432.8,261.2 L433.0,261.2 L433.1,261.2 L433.3,261.2 L433.4,261.2 L433.6,261.2 L433.8,261.2 L433.9,261.2 L434.1,261.2 L434.2,261.2 L434.4,261.2 L434.6,261.2 L434.7,261.2 L434.9,261.2 L435.0,261.2 L435.2,261.2 L435.4,261.2 L435.5,261.2 L435.7,261.2 L435.8,261.2 L436.0,261.2 L436.2,261.2 L436.3,261.2 L436.5,261.2 L436.7,261.2 L436.8,261.2 L437.0,261.2 L437.1,261.2 L437.3,261.2 L437.5,261.2 L437.6,261.2 L437.8,261.2 L437.9,261.2 L438.1,261.2 L438.3,261.2 L438.4,261.2 L438.6,261.2 L438.7,261.2 L438.9,261.2 L439.1,261.2 L439.2,261.2 L439.4,261.2 L439.6,261.2 L439.7,261.2 L439.9,261.2 L440.0,261.2 L440.2,261.2 L440.4,261.2 L440.5,261.2 L440.7,261.2 L440.8,261.2 L441.0,261.2 L441.2,261.2 L441.3,261.2 L441.5,261.2 L441.6,261.2 L441.8,261.2 L442.0,261.2 L442.1,261.2 L442.3,261.2 L442.4,261.2 L442.6,261.2 L442.8,261.2 L442.9,261.2 L443.1,261.2 L443.3,261.2 L443.4,261.2 L443.6,261.2 L443.7,261.2 L443.9,261.2 L444.1,261.2 L444.2,261.2 L444.4,261.2 L444.5,261.2 L444.7,261.2 L444.9,261.2 L445.0,261.2 L445.2,261.2 L445.3,261.2 L445.5,261.2 L445.7,261.2 L445.8,261.2 L446.0,261.2 L446.2,261.2 L446.3,261.2 L446.5,261.2 L446.6,261.2 L446.8,261.2 L447.0,261.2 L447.1,261.2 L447.3,261.2 L447.4,261.2 L447.6,261.2 L447.8,261.2 L447.9,261.2 L448.1,261.2 L448.2,261.2 L448.4,261.2 L448.6,261.2 L448.7,261.2 L448.9,261.2 L449.1,261.2 L449.2,261.2 L449.4,261.2 L449.5,261.2 L449.7,261.2 L449.9,261.2 L450.0,261.2 L450.2,261.2 L450.3,261.2 L450.5,261.2 L450.7,261.2 L450.8,261.2 L451.0,261.2 L451.1,261.2 L451.3,261.2 L451.5,261.2 L451.6,261.2 L451.8,261.2 L451.9,261.2 L452.1,261.2 L452.3,261.2 L452.4,261.2 L452.6,261.2 L452.8,261.2 L452.9,261.2 L453.1,261.2 L453.2,261.2 L453.4,261.2 L453.6,261.2 L453.7,261.2 L453.9,261.2 L454.0,261.2 L454.2,261.2 L454.4,261.2 L454.5,261.2 L454.7,261.2 L454.8,261.2 L455.0,261.2 L455.2,261.2 L455.3,261.2 L455.5,261.2 L455.7,261.2 L455.8,261.2 L456.0,261.2 L456.1,261.2 L456.3,261.2 L456.5,261.2 L456.6,261.2 L456.8,261.2 L456.9,261.2 L457.1,261.2 L457.3,261.2 L457.4,261.2 L457.6,261.2 L457.7,261.2 L457.9,261.2 L458.1,261.2 L458.2,261.2 L458.4,261.2 L458.6,261.2 L458.7,261.2 L458.9,261.2 L459.0,261.2 L459.2,261.2 L459.4,261.2 L459.5,261.2 L459.7,261.2 L459.8,261.2 L460.0,261.2 L460.2,261.2 L460.3,261.2 L460.5,261.2 L460.6,261.2 L460.8,261.2 L461.0,261.2 L461.1,261.2 L461.3,261.2 L461.4,261.2 L461.6,261.2 L461.8,261.2 L461.9,261.2 L462.1,261.2 L462.3,261.2 L462.4,261.2 L462.6,261.2 L462.7,261.2 L462.9,261.2 L463.1,261.2 L463.2,261.2 L463.4,261.2 L463.5,261.2 L463.7,261.2 L463.9,261.2 L464.0,261.2 L464.2,261.2 L464.3,261.2 L464.5,261.2 L464.7,261.2 L464.8,261.2 L465.0,261.2 L465.2,261.2 L465.3,261.2 L465.5,261.2 L465.6,261.2 L465.8,261.2 L466.0,261.2 L466.1,261.2 L466.3,261.2 L466.4,261.2 L466.6,261.2 L466.8,261.2 L466.9,261.2 L467.1,261.2 L467.2,261.2 L467.4,261.2 L467.6,261.2 L467.7,261.2 L467.9,261.2 L468.0,261.2 L468.2,261.2 L468.4,261.2 L468.5,261.2 L468.7,261.2 L468.9,261.2 L469.0,261.2 L469.2,261.2 L469.3,261.2 L469.5,261.2 L469.7,261.2 L469.8,261.2 L470.0,261.2 L470.1,261.2 L470.3,261.2 L470.5,261.2 L470.6,261.2 L470.8,261.2 L470.9,261.2 L471.1,261.2 L471.3,261.2 L471.4,261.2 L471.6,261.2 L471.8,261.2 L471.9,261.2 L472.1,261.2 L472.2,261.2 L472.4,261.2 L472.6,261.2 L472.7,261.2 L472.9,261.2 L473.0,261.2 L473.2,261.2 L473.4,261.2 L473.5,261.2 L473.7,261.2 L473.8,261.2 L474.0,261.2 L474.2,261.2 L474.3,261.2 L474.5,261.2 L474.7,261.2 L474.8,261.2 L475.0,261.2 L475.1,261.2 L475.3,261.2 L475.5,261.2 L475.6,261.2 L475.8,261.2 L475.9,261.2 L476.1,261.2 L476.3,261.2 L476.4,261.2 L476.6,261.2 L476.7,261.2 L476.9,261.2 L477.1,261.2 L477.2,261.2 L477.4,261.2 L477.5,261.2 L477.7,261.2 L477.9,261.2 L478.0,261.2 L478.2,261.2 L478.4,261.2 L478.5,261.2 L478.7,261.2 L478.8,261.2 L479.0,261.2 L479.2,261.2 L479.3,261.2 L479.5,261.2 L479.6,261.2 L479.8,261.2 L480.0,261.2 L480.1,261.2 L480.3,261.2 L480.4,261.2 L480.6,261.2 L480.8,261.2 L480.9,261.2 L481.1,261.2 L481.3,261.2 L481.4,261.2 L481.6,261.2 L481.7,261.2 L481.9,261.2 L482.1,261.2 L482.2,261.2 L482.4,261.2 L482.5,261.2 L482.7,261.2 L482.9,261.2 L483.0,261.2 L483.2,261.2 L483.3,261.2 L483.5,261.2 L483.7,261.2 L483.8,261.2 L484.0,261.2 L484.1,261.2 L484.3,261.2 L484.5,261.2 L484.6,261.2 L484.8,261.2 L485.0,261.2 L485.1,261.2 L485.3,261.2 L485.4,261.2 L485.6,261.2 L485.8,261.2 L485.9,261.2 L486.1,261.2 L486.2,261.2 L486.4,261.2 L486.6,261.2 L486.7,261.2 L486.9,261.2 L487.0,261.2 L487.2,261.2 L487.4,261.2 L487.5,261.2 L487.7,261.2 L487.9,261.2 L488.0,261.2 L488.2,261.2 L488.3,261.2 L488.5,261.2 L488.7,261.2 L488.8,261.2 L489.0,261.2 L489.1,261.2 L489.3,261.2 L489.5,261.2 L489.6,261.2 L489.8,261.2 L489.9,261.2 L490.1,261.2 L490.3,261.2 L490.4,261.2 L490.6,261.2 L490.8,261.2 L490.9,261.2 L491.1,261.2 L491.2,261.2 L491.4,261.2 L491.6,261.2 L491.7,261.2 L491.9,261.2 L492.0,261.2 L492.2,261.2 L492.4,261.2 L492.5,261.2 L492.7,261.2 L492.8,261.2 L493.0,261.2 L493.2,261.2 L493.3,261.2 L493.5,261.2 L493.6,261.2 L493.8,261.2 L494.0,261.2 L494.1,261.2 L494.3,261.2 L494.5,261.2 L494.6,261.2 L494.8,261.2 L494.9,261.2 L495.1,261.2 L495.3,261.2 L495.4,261.2 L495.6,261.2 L495.7,261.2 L495.9,261.2 L496.1,261.2 L496.2,261.2 L496.4,261.2 L496.5,261.2 L496.7,261.2 L496.9,261.2 L497.0,261.2 L497.2,261.2 L497.4,261.2 L497.5,261.2 L497.7,261.2 L497.8,261.2 L498.0,261.2 L498.2,261.2 L498.3,261.2 L498.5,261.2 L498.6,261.2 L498.8,261.2 L499.0,261.2 L499.1,261.2 L499.3,261.2 L499.4,261.2 L499.6,261.2 L499.8,261.2 L499.9,261.2 L500.1,261.2 L500.2,261.2 L500.4,261.2 L500.6,261.2 L500.7,261.2 L500.9,261.2 L501.1,261.2 L501.2,261.2 L501.4,261.2 L501.5,261.2 L501.7,261.2 L501.9,261.2 L502.0,261.2 L502.2,261.2 L502.3,261.2 L502.5,261.2 L502.7,261.2 L502.8,261.2 L503.0,261.2 L503.1,261.2 L503.3,261.2 L503.5,261.2 L503.6,261.2 L503.8,261.2 L504.0,261.2 L504.1,261.2 L504.3,261.2 L504.4,261.2 L504.6,261.2 L504.8,261.2 L504.9,261.2 L505.1,261.2 L505.2,261.2 L505.4,261.2 L505.6,261.2 L505.7,261.2 L505.9,261.2 L506.0,261.2 L506.2,261.2 L506.4,261.2 L506.5,261.2 L506.7,261.2 L506.8,261.2 L507.0,261.2 L507.2,261.2 L507.3,261.2 L507.5,261.2 L507.7,261.2 L507.8,261.2 L508.0,261.2 L508.1,261.2 L508.3,261.2 L508.5,261.2 L508.6,261.2 L508.8,261.2 L508.9,261.2 L509.1,261.2 L509.3,261.2 L509.4,261.2 L509.6,261.2 L509.7,261.2 L509.9,261.2 L510.1,261.2 L510.2,261.2 L510.4,261.2 L510.6,261.2 L510.7,261.2 L510.9,261.2 L511.0,261.2 L511.2,261.2 L511.4,261.2 L511.5,261.2 L511.7,261.2 L511.8,261.2 L512.0,261.2 L512.2,261.2 L512.3,261.2 L512.5,261.2 L512.6,261.2 L512.8,261.2 L513.0,261.2 L513.1,261.2 L513.3,261.2 L513.5,261.2 L513.6,261.2 L513.8,261.2 L513.9,261.2 L514.1,261.2 L514.3,261.2 L514.4,261.2 L514.6,261.2 L514.7,261.2 L514.9,261.2 L515.1,261.2 L515.2,261.2 L515.4,261.2 L515.5,261.2 L515.7,261.2 L515.9,261.2 L516.0,261.2 L516.2,261.2 L516.3,261.2 L516.5,261.2 L516.7,261.2 L516.8,261.2 L517.0,261.2 L517.2,261.2 L517.3,261.2 L517.5,261.2 L517.6,261.2 L517.8,261.2 L518.0,261.2 L518.1,261.2 L518.3,261.2 L518.4,261.2 L518.6,261.2 L518.8,261.2 L518.9,261.2 L519.1,261.2 L519.2,261.2 L519.4,261.2 L519.6,261.2 L519.7,261.2 L519.9,261.2 L520.1,261.2 L520.2,261.2 L520.4,261.2 L520.5,261.2 L520.7,261.2 L520.9,261.2 L521.0,261.2 L521.2,261.2 L521.3,261.2 L521.5,261.2 L521.7,261.2 L521.8,261.2 L522.0,261.2 L522.1,261.2 L522.3,261.2 L522.5,261.2 L522.6,261.2 L522.8,261.2 L522.9,261.2 L523.1,261.2 L523.3,261.2 L523.4,261.2 L523.6,261.2 L523.8,261.2 L523.9,261.2 L524.1,261.2 L524.2,261.2 L524.4,261.2 L524.6,261.2 L524.7,261.2 L524.9,261.2 L525.0,261.2 L525.2,261.2 L525.4,261.2 L525.5,261.2 L525.7,261.2 L525.8,261.2 L526.0,261.2 L526.2,261.2 L526.3,261.2 L526.5,261.2 L526.7,261.2 L526.8,261.2 L527.0,261.2 L527.1,261.2 L527.3,261.2 L527.5,261.2 L527.6,261.2 L527.8,261.2 L527.9,261.2 L528.1,261.2 L528.3,261.2 L528.4,261.2 L528.6,261.2 L528.7,261.2 L528.9,261.2 L529.1,261.2 L529.2,261.2 L529.4,261.2 L529.6,261.2 L529.7,261.2 L529.9,261.2 L530.0,261.2 L530.2,261.2 L530.4,261.2 L530.5,261.2 L530.7,261.2 L530.8,261.2 L531.0,261.2 L531.2,261.2 L531.3,261.2 L531.5,261.2 L531.6,261.2 L531.8,261.2 L532.0,261.2 L532.1,261.2 L532.3,261.2 L532.4,261.2 L532.6,261.2 L532.8,261.2 L532.9,261.2 L533.1,261.2 L533.3,261.2 L533.4,261.2 L533.6,261.2 L533.7,261.2 L533.9,261.2 L534.1,261.2 L534.2,261.2 L534.4,261.2 L534.5,261.2 L534.7,261.2 L534.9,261.2 L535.0,261.2 L535.2,261.2 L535.3,261.2 L535.5,261.2 L535.7,261.2 L535.8,261.2 L536.0,261.2 L536.2,261.2 L536.3,261.2 L536.5,261.2 L536.6,261.2 L536.8,261.2 L537.0,261.2 L537.1,261.2 L537.3,261.2 L537.4,261.2 L537.6,261.2 L537.8,261.2 L537.9,261.2 L538.1,261.2 L538.2,261.2 L538.4,261.2 L538.6,261.2 L538.7,261.2 L538.9,261.2 L539.0,261.2 L539.2,261.2 L539.4,261.2 L539.5,261.2 L539.7,261.2 L539.9,261.2 L540.0,261.2 L540.2,261.2 L540.3,261.2 L540.5,261.2 L540.7,261.2 L540.8,261.2 L541.0,261.2 L541.1,261.2 L541.3,261.2 L541.5,261.2 L541.6,261.2 L541.8,261.2 L541.9,261.2 L542.1,261.2 L542.3,261.2 L542.4,261.2 L542.6,261.2 L542.8,261.2 L542.9,261.2 L543.1,261.2 L543.2,261.2 L543.4,261.2 L543.6,261.2 L543.7,261.2 L543.9,261.2 L544.0,261.2 L544.2,261.2 L544.4,261.2 L544.5,261.2 L544.7,261.2 L544.8,261.2 L545.0,261.2 L545.2,261.2 L545.3,261.2 L545.5,261.2 L545.7,261.2 L545.8,261.2 L546.0,261.2 L546.1,261.2 L546.3,261.2 L546.5,261.2 L546.6,261.2 L546.8,261.2 L546.9,261.2 L547.1,261.2 L547.3,261.2 L547.4,261.2 L547.6,261.2 L547.7,261.2 L547.9,261.2 L548.1,261.2 L548.2,261.2 L548.4,261.2 L548.5,261.2 L548.7,261.2 L548.9,261.2 L549.0,261.2 L549.2,261.2 L549.4,261.2 L549.5,261.2 L549.7,261.2 L549.8,261.2 L550.0,261.2 L550.2,261.2 L550.3,261.2 L550.5,261.2 L550.6,261.2 L550.8,261.2 L551.0,261.2 L551.1,261.2 L551.3,261.2 L551.4,261.2 L551.6,261.2 L551.8,261.2 L551.9,261.2 L552.1,261.2 L552.3,261.2 L552.4,261.2 L552.6,261.2 L552.7,261.2 L552.9,261.2 L553.1,261.2 L553.2,261.2 L553.4,261.2 L553.5,261.2 L553.7,261.2 L553.9,261.2 L554.0,261.2 L554.2,261.2 L554.3,261.2 L554.5,261.2 L554.7,261.2 L554.8,261.2 L555.0,261.2 L555.1,261.2 L555.3,261.2 L555.5,261.2 L555.6,261.2 L555.8,261.2 L556.0,261.2 L556.1,261.2 L556.3,261.2 L556.4,261.2 L556.6,261.2 L556.8,261.2 L556.9,261.2 L557.1,261.2 L557.2,261.2 L557.4,261.2 L557.6,261.2 L557.7,261.2 L557.9,261.2 L558.0,261.2 L558.2,261.2 L558.4,261.2 L558.5,261.2 L558.7,261.2 L558.9,261.2 L559.0,261.2 L559.2,261.2 L559.3,261.2 L559.5,261.2 L559.7,261.2 L559.8,261.2 L560.0,261.2 L560.1,261.2 L560.3,261.2 L560.5,261.2 L560.6,261.2 L560.8,261.2 L560.9,261.2 L561.1,261.2 L561.3,261.2 L561.4,261.2 L561.6,261.2 L561.8,261.2 L561.9,261.2 L562.1,261.2 L562.2,261.2 L562.4,261.2 L562.6,261.2 L562.7,261.2 L562.9,261.2 L563.0,261.2 L563.2,261.2 L563.4,261.2 L563.5,261.2 L563.7,261.2 L563.8,261.2 L564.0,261.2 L564.2,261.2 L564.3,261.2 L564.5,261.2 L564.6,261.2 L564.8,261.2 L565.0,261.2 L565.1,261.2 L565.3,261.2 L565.5,261.2 L565.6,261.2 L565.8,261.2 L565.9,261.2 L566.1,261.2 L566.3,261.2 L566.4,261.2 L566.6,261.2 L566.7,261.2 L566.9,261.2 L567.1,261.2 L567.2,261.2 L567.4,261.2 L567.5,261.2 L567.7,261.2 L567.9,261.2 L568.0,261.2 L568.2,261.2 L568.4,261.2 L568.5,261.2 L568.7,261.2 L568.8,261.2 L569.0,261.2 L569.2,261.2 L569.3,261.2 L569.5,261.2 L569.6,261.2 L569.8,261.2 L570.0,261.2 L570.1,261.2 L570.3,261.2 L570.4,261.2 L570.6,261.2 L570.8,261.2 L570.9,261.2 L571.1,261.2 L571.2,261.2 L571.4,261.2 L571.6,261.2 L571.7,261.2 L571.9,261.2 L572.1,261.2 L572.2,261.2 L572.4,261.2 L572.5,261.2 L572.7,261.2 L572.9,261.2 L573.0,261.2 L573.2,261.2 L573.3,261.2 L573.5,261.2 L573.7,261.2 L573.8,261.2 L574.0,261.2 L574.1,261.2 L574.3,261.2 L574.5,261.2 L574.6,261.2 L574.8,261.2 L575.0,261.2 L575.1,261.2 L575.3,261.2 L575.4,261.2 L575.6,261.2 L575.8,261.2 L575.9,261.2 L576.1,261.2 L576.2,261.2 L576.4,261.2 L576.6,261.2 L576.7,261.2 L576.9,261.2 L577.0,261.2 L577.2,261.2 L577.4,261.2 L577.5,261.2 L577.7,261.2 L577.9,261.2 L578.0,261.2 L578.2,261.2 L578.3,261.2 L578.5,261.2 L578.7,261.2 L578.8,261.2 L579.0,261.2 L579.1,261.2 L579.3,261.2 L579.5,261.2 L579.6,261.2 L579.8,261.2 L579.9,261.2 L580.1,261.2 L580.3,261.2 L580.4,261.2 L580.6,261.2 L580.7,261.2 L580.9,261.2 L581.1,261.2 L581.2,261.2 L581.4,261.2 L581.6,261.2 L581.7,261.2 L581.9,261.2 L582.0,261.2 L582.2,261.2 L582.4,261.2 L582.5,261.2 L582.7,261.2 L582.8,261.2 L583.0,261.2 L583.2,261.2 L583.3,261.2 L583.5,261.2 L583.6,261.2 L583.8,261.2 L584.0,261.2 L584.1,261.2 L584.3,261.2 L584.5,261.2 L584.6,261.2 L584.8,261.2 L584.9,261.2 L585.1,261.2 L585.3,261.2 L585.4,261.2 L585.6,261.2 L585.7,261.2 L585.9,261.2 L586.1,261.2 L586.2,261.2 L586.4,261.2 L586.5,261.2 L586.7,261.2 L586.9,261.2 L587.0,261.2 L587.2,261.2 L587.3,261.2 L587.5,261.2 L587.7,261.2 L587.8,261.2 L588.0,261.2 L588.2,261.2 L588.3,261.2 L588.5,261.2 L588.6,261.2 L588.8,261.2 L589.0,261.2 L589.1,261.2 L589.3,261.2 L589.4,261.2 L589.6,261.2 L589.8,261.2 L589.9,261.2 L590.1,261.2 L590.2,261.2 L590.4,261.2 L590.6,261.2 L590.7,261.2 L590.9,261.2 L591.1,261.2 L591.2,261.2 L591.4,261.2 L591.5,261.2 L591.7,261.2 L591.9,261.2 L592.0,261.2 L592.2,261.2 L592.3,261.2 L592.5,261.2 L592.7,261.2 L592.8,261.2 L593.0,261.2 L593.1,261.2 L593.3,261.2 L593.5,261.2 L593.6,261.2 L593.8,261.2 L594.0,261.2 L594.1,261.2 L594.3,261.2 L594.4,261.2 L594.6,261.2 L594.8,261.2 L594.9,261.2 L595.1,261.2 L595.2,261.2 L595.4,261.2 L595.6,261.2 L595.7,261.2 L595.9,261.2 L596.0,261.2 L596.2,261.2 L596.4,261.2 L596.5,261.2 L596.7,261.2 L596.8,261.2 L597.0,261.2 L597.2,261.2 L597.3,261.2 L597.5,261.2 L597.7,261.2 L597.8,261.2 L598.0,261.2 L598.1,261.2 L598.3,261.2 L598.5,261.2 L598.6,261.2 L598.8,261.2 L598.9,261.2 L599.1,261.2 L599.3,261.2 L599.4,261.2 L599.6,261.2 L599.7,261.2 L599.9,261.2 L600.1,261.2 L600.2,261.2 L600.4,261.2 L600.6,261.2 L600.7,261.2 L600.9,261.2 L601.0,261.2 L601.2,261.2 L601.4,261.2 L601.5,261.2 L601.7,261.2 L601.8,261.2 L602.0,261.2 L602.2,261.2 L602.3,261.2 L602.5,261.2 L602.6,261.2 L602.8,261.2 L603.0,261.2 L603.1,261.2 L603.3,261.2 L603.4,261.2 L603.6,261.2 L603.8,261.2 L603.9,261.2 L604.1,261.2 L604.3,261.2 L604.4,261.2 L604.6,261.2 L604.7,261.2 L604.9,261.2 L605.1,261.2 L605.2,261.2 L605.4,261.2 L605.5,261.2 L605.7,261.2 L605.9,261.2 L606.0,261.2 L606.2,261.2 L606.3,261.2 L606.5,261.2 L606.7,261.2 L606.8,261.2 L607.0,261.2 L607.2,261.2 L607.3,261.2 L607.5,261.2 L607.6,261.2 L607.8,261.2 L608.0,261.2 L608.1,261.2 L608.3,261.2 L608.4,261.2 L608.6,261.2 L608.8,261.2 L608.9,261.2 L609.1,261.2 L609.2,261.2 L609.4,261.2 L609.6,261.2 L609.7,261.2 L609.9,261.2 L610.1,261.2 L610.2,261.2 L610.4,261.2 L610.5,261.2 L610.7,261.2 L610.9,261.2 L611.0,261.2 L611.2,261.2 L611.3,261.2 L611.5,261.2 L611.7,261.2 L611.8,261.2 L612.0,261.2 L612.1,261.2 L612.3,261.2 L612.5,261.2 L612.6,261.2 L612.8,261.2 L612.9,261.2 L613.1,261.2 L613.3,261.2 L613.4,261.2 L613.6,261.2 L613.8,261.2 L613.9,261.2 L614.1,261.2 L614.2,261.2 L614.4,261.2 L614.6,261.2 L614.7,261.2 L614.9,261.2 L615.0,261.2 L615.2,261.2 L615.4,261.2 L615.5,261.2 L615.7,261.2 L615.8,261.2 L616.0,261.2 L616.2,261.2 L616.3,261.2 L616.5,261.2 L616.7,261.2 L616.8,261.2 L617.0,261.2 L617.1,261.2 L617.3,261.2 L617.5,261.2 L617.6,261.2 L617.8,261.2 L617.9,261.2 L618.1,261.2 L618.3,261.2 L618.4,261.2 L618.6,261.2 L618.7,261.2 L618.9,261.2 L619.1,261.2 L619.2,261.2 L619.4,261.2 L619.5,261.2 L619.7,261.2 L619.9,261.2 L620.0,261.2 L620.2,261.2 L620.4,261.2 L620.5,261.2 L620.7,261.2 L620.8,261.2 L621.0,261.2 L621.2,261.2 L621.3,261.2 L621.5,261.2 L621.6,261.2 L621.8,261.2 L622.0,261.2 L622.1,261.2 L622.3,261.2 L622.4,261.2 L622.6,261.2 L622.8,261.2 L622.9,261.2 L623.1,261.2 L623.3,261.2 L623.4,261.2 L623.6,261.2 L623.7,261.2 L623.9,261.2 L624.1,261.2 L624.2,261.2 L624.4,261.2 L624.5,261.2 L624.7,261.2 L624.9,261.2 L625.0,261.2 L625.2,261.2 L625.3,261.2 L625.5,261.2 L625.7,261.2 L625.8,261.2 L626.0,261.2 L626.2,261.2 L626.3,261.2 L626.5,261.2 L626.6,261.2 L626.8,261.2 L627.0,261.2 L627.1,261.2 L627.3,261.2 L627.4,261.2 L627.6,261.2 L627.8,261.2 L627.9,261.2 L628.1,261.2 L628.2,261.2 L628.4,261.2 L628.6,261.2 L628.7,261.2 L628.9,261.2 L629.0,261.2 L629.2,261.2 L629.4,261.2 L629.5,261.2 L629.7,261.2 L629.9,261.2 L630.0,261.2 L630.2,261.2 L630.3,261.2 L630.5,261.2 L630.7,261.2 L630.8,261.2 L631.0,261.2 L631.1,261.2 L631.3,261.2 L631.5,261.2 L631.6,261.2 L631.8,261.2 L631.9,261.2 L632.1,261.2 L632.3,261.2" stroke="#3592f2" stroke-width="1.35"/>
<path d="M42.4,261.4 L42.5,261.3 L42.7,261.5 L42.8,261.0 L43.0,261.4 L43.2,261.5 L43.3,261.5 L43.5,261.1 L43.7,261.4 L43.8,261.8 L44.0,261.0 L44.1,261.5 L44.3,261.1 L44.5,261.1 L44.6,260.8 L44.8,260.9 L44.9,261.4 L45.1,261.3 L45.3,261.7 L45.4,260.7 L45.6,261.1 L45.7,260.8 L45.9,261.4 L46.1,261.9 L46.2,260.7 L46.4,261.2 L46.6,261.2 L46.7,261.2 L46.9,261.0 L47.0,261.1 L47.2,261.8 L47.4,260.9 L47.5,261.4 L47.7,261.4 L47.8,260.7 L48.0,260.9 L48.2,261.4 L48.3,261.9 L48.5,261.2 L48.6,261.1 L48.8,261.3 L49.0,261.7 L49.1,261.5 L49.3,261.7 L49.4,261.2 L49.6,261.0 L49.8,260.9 L49.9,261.5 L50.1,261.2 L50.3,261.1 L50.4,261.4 L50.6,261.3 L50.7,260.5 L50.9,261.2 L51.1,261.0 L51.2,261.4 L51.4,261.2 L51.5,261.8 L51.7,261.3 L51.9,260.8 L52.0,260.5 L52.2,260.8 L52.3,261.0 L52.5,261.2 L52.7,261.5 L52.8,261.3 L53.0,261.0 L53.2,261.5 L53.3,260.9 L53.5,261.6 L53.6,261.9 L53.8,261.6 L54.0,261.8 L54.1,261.7 L54.3,260.9 L54.4,261.3 L54.6,261.2 L54.8,260.9 L54.9,260.8 L55.1,261.4 L55.2,260.8 L55.4,261.1 L55.6,261.2 L55.7,261.1 L55.9,261.7 L56.1,261.5 L56.2,261.3 L56.4,261.0 L56.5,261.4 L56.7,261.3 L56.9,260.9 L57.0,260.8 L57.2,261.0 L57.3,260.8 L57.5,261.4 L57.7,261.4 L57.8,261.1 L58.0,261.4 L58.1,261.4 L58.3,260.7 L58.5,261.3 L58.6,261.6 L58.8,261.1 L58.9,260.6 L59.1,261.2 L59.3,260.8 L59.4,261.4 L59.6,261.4 L59.8,261.5 L59.9,261.3 L60.1,260.6 L60.2,261.6 L60.4,260.7 L60.6,261.6 L60.7,261.3 L60.9,261.0 L61.0,261.0 L61.2,261.2 L61.4,261.8 L61.5,261.1 L61.7,261.6 L61.8,260.4 L61.8,261.3 L61.9,261.2 L62.0,261.6 L62.0,261.4 L62.0,261.7 L62.1,260.9 L62.2,261.3 L62.2,261.1 L62.3,261.5 L62.3,261.4 L62.4,260.8 L62.4,261.6 L62.5,261.9 L62.6,261.1 L62.6,261.6 L62.7,261.4 L62.7,260.9 L62.7,261.5 L62.8,261.0 L63.0,261.5 L63.1,260.7 L63.3,260.8 L63.5,261.4 L63.6,261.3 L63.8,261.5 L63.9,261.2 L64.1,260.9 L64.3,261.7 L64.4,260.9 L64.6,261.7 L64.7,261.5 L64.9,261.9 L65.1,260.5 L65.2,261.2 L65.4,261.2 L65.5,261.5 L65.7,260.9 L65.9,262.0 L66.0,261.2 L66.2,260.5 L66.4,261.4 L66.5,261.2 L66.7,261.0 L66.8,261.5 L67.0,261.2 L67.2,260.9 L67.3,261.2 L67.5,261.1 L67.6,261.4 L67.8,261.1 L68.0,261.2 L68.1,260.8 L68.3,261.0 L68.4,261.3 L68.6,262.1 L68.8,261.0 L68.9,261.0 L69.1,261.6 L69.3,261.9 L69.4,261.6 L69.6,260.9 L69.7,261.6 L69.9,261.4 L70.1,261.2 L70.2,260.8 L70.4,261.3 L70.5,261.3 L70.7,261.4 L70.9,260.7 L71.0,260.9 L71.2,261.3 L71.3,261.7 L71.5,261.5 L71.7,261.1 L71.8,261.5 L72.0,260.9 L72.2,261.1 L72.3,261.2 L72.5,261.0 L72.6,261.1 L72.8,261.5 L73.0,261.4 L73.1,260.5 L73.3,261.7 L73.4,261.4 L73.6,260.9 L73.8,261.3 L73.9,261.5 L74.1,261.7 L74.2,261.1 L74.4,260.9 L74.6,260.8 L74.7,261.2 L74.9,260.9 L75.0,261.6 L75.2,261.2 L75.4,261.5 L75.5,261.2 L75.7,261.0 L75.9,260.9 L76.0,261.6 L76.2,260.8 L76.3,261.4 L76.5,261.6 L76.7,261.3 L76.8,261.7 L77.0,261.2 L77.1,261.2 L77.3,261.3 L77.5,261.1 L77.6,261.4 L77.8,261.2 L77.9,261.7 L78.1,261.2 L78.3,261.5 L78.4,261.4 L78.6,261.3 L78.8,261.2 L78.9,261.8 L79.1,261.8 L79.2,261.4 L79.4,261.1 L79.6,261.1 L79.7,260.9 L79.9,260.8 L80.0,261.1 L80.2,261.3 L80.4,261.6 L80.5,261.6 L80.6,261.4 L80.7,261.2 L80.7,261.2 L80.7,261.2 L80.8,261.3 L80.8,261.0 L80.9,261.2 L81.0,261.1 L81.0,261.1 L81.0,261.4 L81.1,261.6 L81.2,261.1 L81.2,261.1 L81.3,261.3 L81.3,261.4 L81.4,260.5 L81.4,261.5 L81.5,261.3 L81.6,261.2 L81.6,261.6 L81.6,261.2 L81.8,260.6 L82.0,260.9 L82.1,261.0 L82.3,261.0 L82.5,261.2 L82.6,260.9 L82.8,261.3 L82.9,261.4 L83.1,261.2 L83.3,260.9 L83.4,261.1 L83.6,261.0 L83.7,261.9 L83.9,260.8 L84.1,260.5 L84.2,260.8 L84.4,261.4 L84.5,261.5 L84.7,261.2 L84.9,261.6 L85.0,261.0 L85.2,261.4 L85.4,260.9 L85.5,260.8 L85.7,261.9 L85.8,261.2 L86.0,261.5 L86.2,261.7 L86.3,261.5 L86.5,261.3 L86.6,260.9 L86.8,261.8 L87.0,260.9 L87.1,260.6 L87.3,261.0 L87.4,261.1 L87.6,261.3 L87.8,261.6 L87.9,261.1 L88.1,261.1 L88.2,261.0 L88.4,260.4 L88.6,261.0 L88.7,261.1 L88.9,260.7 L89.1,261.7 L89.2,261.6 L89.4,261.4 L89.5,261.5 L89.7,261.0 L89.9,261.4 L90.0,260.7 L90.2,260.7 L90.3,261.0 L90.5,261.4 L90.7,261.0 L90.8,261.0 L91.0,261.6 L91.1,261.1 L91.3,261.0 L91.5,261.2 L91.6,260.7 L91.8,260.8 L92.0,261.5 L92.1,261.2 L92.3,261.5 L92.4,261.1 L92.6,261.5 L92.8,260.9 L92.9,261.1 L93.1,260.9 L93.2,261.3 L93.4,261.7 L93.6,260.7 L93.7,261.3 L93.9,260.8 L94.0,261.1 L94.2,261.0 L94.4,260.6 L94.5,261.1 L94.7,260.8 L94.9,261.8 L95.0,261.0 L95.2,261.3 L95.3,261.3 L95.5,261.2 L95.7,261.1 L95.8,260.7 L96.0,261.9 L96.1,261.2 L96.3,261.5 L96.5,260.9 L96.6,261.4 L96.8,261.1 L96.9,261.4 L97.1,261.0 L97.3,260.9 L97.4,261.4 L97.6,261.2 L97.7,261.7 L97.9,261.1 L98.1,261.0 L98.2,261.4 L98.4,260.9 L98.6,262.0 L98.7,261.9 L98.9,261.7 L99.0,261.4 L99.2,261.2 L99.4,261.3 L99.5,261.3 L99.7,261.0 L99.8,261.4 L100.0,261.7 L100.2,261.7 L100.3,260.5 L100.5,262.0 L100.6,261.3 L100.8,260.8 L101.0,261.1 L101.1,261.5 L101.3,261.2 L101.5,261.0 L101.6,260.8 L101.8,261.6 L101.9,261.0 L102.1,261.2 L102.3,260.9 L102.4,260.8 L102.6,261.4 L102.7,261.7 L102.9,261.1 L103.1,260.6 L103.2,261.0 L103.4,261.2 L103.5,260.4 L103.7,261.6 L103.9,260.9 L104.0,261.4 L104.2,261.2 L104.4,261.2 L104.5,260.7 L104.7,261.6 L104.8,261.4 L105.0,261.8 L105.2,261.1 L105.3,261.4 L105.5,261.1 L105.6,261.6 L105.8,261.4 L106.0,260.9 L106.1,261.3 L106.3,261.0 L106.4,261.1 L106.6,261.4 L106.8,261.8 L106.9,260.9 L107.1,261.2 L107.2,260.9 L107.4,261.9 L107.6,261.8 L107.7,262.0 L107.9,261.5 L108.1,260.9 L108.2,261.1 L108.4,261.3 L108.5,261.2 L108.7,261.0 L108.9,261.4 L109.0,261.1 L109.2,261.2 L109.3,262.0 L109.5,261.4 L109.7,260.8 L109.8,261.4 L110.0,261.3 L110.1,261.5 L110.3,261.4 L110.5,260.9 L110.6,261.3 L110.8,261.6 L111.0,262.3 L111.1,261.4 L111.3,261.9 L111.4,261.9 L111.6,261.0 L111.8,261.0 L111.9,261.9 L112.1,261.0 L112.2,261.1 L112.4,261.5 L112.6,261.0 L112.7,261.8 L112.9,261.7 L113.0,261.7 L113.2,261.6 L113.4,261.0 L113.5,261.7 L113.7,261.6 L113.8,261.6 L114.0,261.2 L114.2,261.4 L114.3,261.0 L114.5,261.5 L114.7,261.7 L114.8,261.4 L115.0,261.2 L115.1,261.6 L115.3,261.2 L115.5,260.6 L115.6,261.4 L115.8,261.2 L115.9,260.8 L116.1,261.5 L116.3,261.5 L116.4,261.6 L116.6,261.1 L116.7,261.1 L116.9,261.3 L117.1,261.2 L117.2,260.8 L117.4,261.0 L117.6,261.7 L117.7,261.3 L117.9,261.2 L118.0,261.0 L118.2,261.3 L118.4,261.5 L118.5,261.4 L118.7,261.9 L118.8,261.3 L119.0,261.5 L119.2,261.1 L119.3,261.6 L119.5,261.4 L119.6,261.6 L119.8,261.6 L120.0,261.0 L120.1,261.4 L120.3,261.1 L120.5,261.6 L120.6,261.2 L120.8,261.8 L120.9,261.4 L121.1,261.4 L121.3,261.1 L121.4,261.2 L121.6,261.3 L121.7,261.0 L121.9,261.2 L122.1,261.1 L122.2,261.0 L122.4,261.3 L122.5,261.4 L122.7,261.2 L122.9,261.4 L123.0,261.1 L123.2,260.9 L123.3,261.0 L123.5,261.4 L123.7,261.7 L123.8,261.3 L124.0,261.3 L124.2,260.9 L124.3,261.4 L124.5,261.3 L124.6,261.0 L124.8,261.4 L125.0,261.3 L125.1,260.7 L125.3,260.8 L125.4,261.1 L125.6,261.2 L125.8,261.6 L125.9,261.1 L126.1,261.2 L126.2,261.2 L126.4,261.4 L126.6,261.3 L126.7,261.3 L126.9,261.2 L127.1,260.8 L127.2,261.1 L127.4,261.8 L127.5,261.6 L127.7,261.8 L127.9,261.5 L128.0,261.1 L128.2,261.1 L128.3,261.5 L128.5,261.2 L128.7,261.5 L128.8,261.7 L129.0,261.7 L129.1,261.6 L129.3,260.8 L129.5,261.7 L129.6,260.8 L129.8,260.8 L129.9,261.3 L130.1,261.3 L130.3,261.5 L130.4,261.3 L130.6,261.0 L130.8,261.3 L130.9,260.9 L131.1,260.9 L131.2,261.2 L131.4,261.2 L131.6,261.3 L131.7,261.2 L131.9,261.6 L132.0,261.1 L132.2,261.2 L132.4,261.6 L132.5,260.5 L132.7,261.6 L132.8,261.6 L133.0,261.2 L133.2,261.9 L133.3,261.5 L133.5,261.8 L133.7,261.6 L133.8,261.3 L134.0,261.2 L134.1,260.9 L134.3,261.0 L134.5,260.9 L134.6,261.1 L134.8,261.4 L134.9,260.9 L135.1,261.4 L135.3,261.5 L135.4,260.8 L135.6,261.0 L135.7,261.2 L135.9,261.0 L136.1,261.0 L136.2,261.7 L136.4,261.3 L136.6,261.7 L136.7,261.2 L136.9,261.5 L137.0,260.8 L137.2,261.1 L137.4,261.5 L137.5,261.3 L137.7,261.7 L137.8,261.3 L138.0,261.1 L138.2,261.2 L138.3,261.9 L138.5,261.4 L138.6,261.1 L138.8,261.2 L139.0,260.9 L139.1,261.7 L139.3,261.1 L139.4,261.5 L139.6,261.2 L139.8,261.1 L139.9,261.0 L140.1,261.5 L140.3,261.2 L140.4,261.7 L140.6,261.7 L140.7,261.1 L140.9,261.3 L141.1,261.8 L141.2,261.6 L141.4,261.3 L141.5,260.7 L141.7,260.9 L141.9,261.0 L142.0,261.9 L142.2,261.3 L142.3,261.1 L142.5,261.1 L142.7,261.1 L142.8,261.3 L143.0,260.7 L143.2,260.8 L143.3,261.3 L143.5,261.6 L143.6,260.6 L143.8,261.5 L144.0,260.9 L144.1,260.6 L144.3,261.6 L144.4,261.2 L144.6,261.4 L144.8,261.1 L144.9,261.2 L145.1,260.6 L145.2,261.1 L145.4,261.3 L145.6,260.9 L145.7,261.4 L145.9,261.4 L146.0,260.5 L146.2,261.5 L146.4,261.4 L146.5,261.3 L146.7,261.6 L146.9,262.0 L147.0,260.9 L147.2,261.5 L147.3,261.5 L147.5,261.4 L147.7,261.6 L147.8,261.6 L148.0,261.2 L148.1,260.4 L148.3,260.2 L148.5,257.6 L148.6,257.0 L148.8,259.1 L148.9,261.8 L149.1,263.1 L149.3,264.2 L149.4,262.6 L149.6,261.5 L149.8,261.5 L149.9,261.8 L150.1,261.1 L150.2,261.7 L150.4,261.7 L150.6,261.4 L150.7,261.5 L150.9,261.2 L151.0,260.9 L151.2,261.2 L151.4,261.2 L151.5,261.3 L151.7,261.0 L151.8,261.9 L152.0,261.1 L152.2,261.6 L152.3,261.7 L152.5,261.3 L152.7,261.4 L152.8,261.1 L153.0,260.9 L153.1,262.1 L153.3,261.3 L153.5,260.6 L153.6,261.0 L153.8,260.8 L153.9,261.2 L154.1,261.8 L154.3,261.7 L154.4,261.0 L154.6,260.9 L154.7,261.5 L154.9,261.4 L155.1,261.2 L155.2,261.9 L155.4,261.4 L155.5,260.7 L155.7,260.5 L155.9,261.3 L156.0,260.7 L156.2,261.4 L156.4,261.5 L156.5,262.0 L156.7,260.9 L156.8,261.4 L157.0,260.5 L157.2,261.2 L157.3,261.2 L157.5,261.9 L157.6,260.8 L157.8,261.4 L158.0,261.3 L158.1,262.0 L158.3,261.0 L158.4,260.9 L158.6,261.5 L158.8,261.2 L158.9,261.1 L159.1,260.9 L159.3,261.2 L159.4,260.7 L159.6,261.4 L159.7,261.5 L159.9,261.4 L160.1,262.1 L160.2,261.5 L160.4,260.9 L160.5,261.2 L160.7,261.5 L160.9,261.2 L161.0,262.0 L161.2,261.4 L161.3,261.1 L161.5,261.0 L161.7,261.5 L161.8,261.0 L162.0,260.6 L162.1,261.4 L162.3,261.0 L162.5,261.8 L162.6,261.9 L162.8,261.1 L163.0,261.3 L163.1,261.2 L163.3,261.5 L163.4,261.4 L163.6,261.0 L163.8,260.7 L163.9,261.3 L164.1,261.8 L164.2,260.8 L164.4,261.1 L164.6,261.0 L164.7,261.2 L164.9,260.5 L165.0,261.2 L165.2,261.1 L165.4,261.9 L165.5,261.5 L165.7,261.5 L165.9,261.3 L166.0,261.1 L166.2,261.5 L166.3,260.7 L166.5,261.6 L166.7,261.4 L166.8,261.2 L167.0,261.7 L167.1,261.1 L167.3,261.1 L167.5,261.4 L167.6,260.6 L167.8,261.2 L167.9,261.2 L168.1,261.6 L168.3,261.8 L168.4,261.5 L168.6,261.4 L168.8,261.4 L168.9,261.0 L169.1,262.1 L169.2,261.7 L169.4,261.9 L169.6,260.8 L169.7,261.5 L169.9,261.4 L170.0,261.6 L170.2,261.0 L170.4,261.4 L170.5,261.2 L170.7,262.0 L170.8,260.9 L171.0,261.1 L171.2,261.1 L171.3,260.8 L171.5,261.3 L171.6,261.3 L171.8,261.0 L172.0,261.1 L172.1,261.3 L172.3,261.3 L172.5,261.4 L172.6,261.0 L172.8,261.0 L172.9,261.3 L173.1,260.6 L173.3,261.8 L173.4,261.3 L173.6,260.7 L173.7,261.4 L173.9,261.8 L174.1,260.8 L174.2,261.1 L174.4,261.7 L174.5,261.0 L174.7,261.6 L174.9,261.7 L175.0,261.3 L175.2,261.4 L175.4,261.6 L175.5,261.4 L175.7,261.6 L175.8,261.2 L176.0,261.3 L176.2,261.0 L176.3,261.4 L176.5,261.7 L176.6,261.7 L176.8,261.3 L177.0,260.7 L177.1,261.0 L177.3,261.5 L177.4,260.9 L177.6,261.7 L177.8,260.9 L177.9,261.4 L178.1,261.0 L178.2,261.1 L178.4,261.4 L178.6,261.2 L178.7,261.6 L178.9,261.3 L179.1,260.9 L179.2,259.9 L179.4,261.0 L179.5,261.2 L179.7,261.6 L179.9,260.9 L180.0,261.8 L180.2,261.5 L180.3,261.1 L180.5,261.7 L180.7,260.7 L180.8,260.9 L181.0,261.5 L181.1,261.5 L181.3,261.7 L181.5,261.7 L181.6,261.1 L181.8,261.1 L182.0,261.1 L182.1,261.2 L182.3,261.5 L182.4,261.1 L182.6,261.8 L182.8,261.3 L182.9,260.8 L183.1,260.8 L183.2,261.4 L183.4,261.4 L183.6,260.8 L183.7,260.7 L183.9,261.8 L184.0,261.4 L184.2,261.2 L184.4,260.9 L184.5,261.6 L184.7,261.0 L184.9,261.4 L185.0,260.5 L185.2,261.1 L185.3,261.3 L185.5,261.4 L185.7,260.9 L185.8,261.0 L186.0,261.6 L186.1,261.2 L186.3,261.7 L186.5,261.5 L186.6,261.7 L186.8,261.7 L186.9,261.5 L187.1,261.6 L187.3,261.1 L187.4,261.0 L187.6,261.3 L187.7,261.6 L187.9,261.0 L188.1,262.0 L188.2,261.9 L188.4,261.0 L188.6,261.0 L188.7,260.9 L188.9,261.3 L189.0,261.7 L189.2,261.4 L189.4,261.1 L189.5,261.5 L189.7,261.5 L189.8,261.7 L190.0,261.7 L190.2,261.0 L190.3,261.1 L190.5,261.7 L190.6,261.6 L190.8,261.5 L191.0,261.1 L191.1,261.7 L191.3,261.3 L191.5,262.0 L191.6,261.7 L191.8,261.1 L191.9,261.0 L192.1,261.5 L192.3,260.4 L192.4,257.8 L192.6,257.9 L192.7,260.1 L192.9,261.7 L193.1,262.4 L193.2,261.5 L193.4,261.1 L193.5,261.5 L193.7,261.3 L193.9,261.3 L194.0,261.7 L194.2,261.6 L194.3,260.9 L194.5,261.8 L194.7,260.9 L194.8,261.2 L195.0,261.3 L195.2,261.1 L195.3,261.1 L195.5,260.9 L195.6,261.4 L195.8,261.3 L196.0,261.3 L196.1,260.6 L196.3,260.9 L196.4,261.6 L196.6,261.4 L196.8,261.5 L196.9,261.3 L197.1,261.2 L197.2,260.5 L197.4,261.9 L197.6,260.9 L197.7,261.1 L197.9,261.5 L198.1,261.3 L198.2,261.4 L198.4,261.2 L198.5,260.9 L198.7,261.8 L198.9,260.8 L199.0,261.4 L199.2,260.8 L199.3,261.1 L199.5,260.8 L199.7,261.1 L199.8,260.9 L200.0,261.2 L200.1,261.5 L200.3,261.0 L200.5,261.0 L200.6,260.6 L200.8,261.9 L201.0,261.3 L201.1,260.9 L201.3,261.7 L201.4,261.3 L201.6,260.5 L201.8,260.8 L201.9,261.6 L202.1,260.8 L202.2,260.9 L202.4,261.0 L202.6,261.1 L202.7,261.2 L202.9,261.6 L203.0,261.4 L203.2,261.0 L203.4,261.2 L203.5,260.6 L203.7,261.4 L203.8,262.1 L204.0,261.4 L204.2,261.2 L204.3,261.1 L204.5,261.2 L204.7,261.5 L204.8,260.8 L205.0,261.5 L205.1,261.0 L205.3,261.4 L205.5,261.7 L205.6,260.8 L205.8,262.1 L205.9,261.5 L206.1,261.1 L206.3,261.4 L206.4,261.0 L206.6,261.3 L206.7,261.4 L206.9,260.5 L207.1,261.3 L207.2,261.3 L207.4,261.6 L207.6,261.5 L207.7,261.0 L207.9,261.1 L208.0,261.3 L208.2,261.5 L208.4,261.0 L208.5,261.8 L208.7,261.4 L208.8,261.3 L209.0,261.5 L209.2,261.2 L209.3,261.5 L209.5,261.5 L209.6,260.6 L209.8,261.0 L210.0,260.8 L210.1,261.2 L210.3,260.9 L210.4,261.0 L210.6,260.8 L210.8,260.5 L210.9,261.3 L211.1,261.2 L211.3,261.3 L211.4,262.4 L211.6,261.7 L211.7,261.2 L211.9,261.0 L212.1,261.4 L212.2,260.9 L212.4,260.8 L212.5,261.4 L212.7,260.8 L212.9,260.7 L213.0,261.1 L213.2,261.6 L213.3,260.8 L213.5,261.3 L213.7,261.4 L213.8,261.2 L214.0,261.4 L214.2,260.9 L214.3,261.0 L214.5,260.8 L214.6,261.1 L214.8,261.5 L215.0,261.3 L215.1,261.0 L215.3,261.4 L215.4,260.3 L215.6,261.3 L215.8,261.4 L215.9,260.9 L216.1,261.0 L216.2,261.3 L216.4,261.3 L216.6,261.1 L216.7,261.0 L216.9,261.0 L217.1,261.4 L217.2,261.1 L217.4,261.0 L217.5,261.0 L217.7,262.3 L217.9,261.6 L218.0,261.5 L218.2,261.3 L218.3,261.2 L218.5,260.9 L218.7,261.0 L218.8,261.3 L219.0,261.2 L219.1,260.7 L219.3,261.5 L219.5,261.1 L219.6,260.7 L219.8,261.1 L219.9,261.9 L220.1,261.1 L220.3,261.4 L220.4,261.3 L220.6,260.9 L220.8,261.1 L220.9,261.3 L221.1,260.9 L221.2,261.1 L221.4,261.2 L221.6,261.1 L221.7,261.2 L221.9,261.4 L222.0,261.4 L222.2,261.2 L222.4,261.6 L222.5,261.7 L222.7,260.8 L222.8,261.3 L223.0,261.3 L223.2,261.3 L223.3,261.2 L223.5,261.2 L223.7,261.2 L223.8,261.5 L224.0,260.9 L224.1,261.5 L224.3,260.9 L224.5,261.9 L224.6,261.6 L224.8,260.9 L224.9,261.3 L225.1,261.5 L225.3,261.1 L225.4,261.6 L225.6,261.2 L225.7,262.0 L225.9,261.4 L226.1,261.5 L226.2,261.1 L226.4,261.0 L226.5,261.5 L226.7,260.7 L226.9,261.5 L227.0,261.9 L227.2,262.1 L227.4,260.7 L227.5,261.3 L227.7,261.5 L227.8,261.5 L228.0,261.6 L228.2,260.8 L228.3,261.3 L228.5,260.6 L228.6,261.3 L228.8,262.0 L229.0,261.0 L229.1,261.4 L229.3,261.3 L229.4,260.7 L229.6,261.3 L229.8,260.9 L229.9,261.3 L230.1,261.5 L230.3,261.1 L230.4,261.5 L230.6,260.8 L230.7,260.9 L230.9,261.2 L231.1,261.0 L231.2,261.1 L231.4,261.3 L231.5,260.9 L231.7,261.3 L231.9,261.0 L232.0,261.6 L232.2,261.2 L232.3,261.1 L232.5,261.5 L232.7,261.4 L232.8,261.4 L233.0,261.0 L233.2,261.5 L233.3,261.1 L233.5,260.7 L233.6,261.1 L233.8,261.8 L234.0,261.2 L234.1,260.9 L234.3,261.3 L234.4,260.9 L234.6,261.0 L234.8,261.1 L234.9,261.3 L235.1,261.4 L235.2,261.3 L235.4,261.2 L235.6,261.1 L235.7,261.1 L235.9,261.3 L236.0,261.2 L236.2,261.1 L236.4,261.8 L236.5,261.5 L236.7,261.5 L236.9,261.3 L237.0,261.3 L237.2,261.3 L237.3,261.5 L237.5,261.0 L237.7,261.2 L237.8,261.8 L238.0,261.2 L238.1,261.6 L238.3,260.7 L238.5,261.4 L238.6,261.4 L238.8,261.2 L238.9,261.3 L239.1,261.3 L239.3,260.7 L239.4,261.2 L239.6,261.0 L239.8,260.9 L239.9,261.6 L240.1,260.7 L240.2,261.0 L240.4,260.9 L240.6,261.5 L240.7,261.0 L240.9,261.1 L241.0,261.4 L241.2,260.5 L241.4,261.1 L241.5,261.3 L241.7,261.2 L241.8,260.9 L242.0,260.9 L242.2,261.0 L242.3,260.8 L242.5,260.7 L242.6,261.7 L242.8,261.4 L243.0,261.6 L243.1,261.2 L243.3,260.8 L243.5,261.0 L243.6,261.6 L243.8,261.3 L243.9,260.9 L244.1,261.4 L244.3,261.3 L244.4,261.1 L244.6,261.9 L244.7,261.0 L244.9,261.1 L245.1,261.1 L245.2,261.6 L245.4,261.5 L245.5,261.4 L245.7,261.2 L245.9,261.2 L246.0,261.2 L246.2,260.6 L246.4,260.8 L246.5,261.5 L246.7,261.5 L246.8,260.7 L247.0,261.4 L247.2,260.8 L247.3,260.7 L247.5,261.4 L247.6,261.3 L247.8,261.2 L248.0,261.5 L248.1,261.6 L248.3,261.4 L248.4,261.0 L248.6,261.4 L248.8,261.3 L248.9,261.4 L249.1,261.7 L249.2,260.7 L249.4,262.0 L249.6,261.5 L249.7,261.1 L249.9,261.7 L250.1,261.0 L250.2,260.8 L250.4,261.5 L250.5,261.2 L250.7,261.6 L250.9,261.1 L251.0,261.2 L251.2,261.2 L251.3,260.8 L251.5,261.1 L251.7,260.8 L251.8,261.0 L252.0,261.6 L252.1,261.2 L252.3,261.1 L252.5,261.7 L252.6,260.8 L252.8,261.2 L253.0,261.1 L253.1,261.5 L253.3,261.2 L253.4,261.1 L253.6,261.4 L253.8,261.2 L253.9,262.0 L254.1,260.8 L254.2,261.6 L254.4,262.0 L254.6,261.6 L254.7,261.5 L254.9,261.1 L255.0,261.6 L255.2,261.1 L255.4,261.6 L255.5,260.5 L255.7,261.1 L255.9,260.6 L256.0,261.6 L256.2,261.0 L256.3,261.6 L256.5,261.0 L256.7,261.0 L256.8,261.8 L257.0,261.6 L257.1,261.6 L257.3,261.8 L257.5,261.5 L257.6,261.6 L257.8,261.7 L257.9,261.2 L258.1,261.1 L258.3,261.7 L258.4,261.4 L258.6,261.2 L258.7,261.3 L258.9,261.5 L259.1,261.0 L259.2,261.0 L259.4,261.0 L259.6,261.3 L259.7,260.6 L259.9,260.7 L260.0,261.4 L260.2,261.3 L260.4,260.8 L260.5,261.5 L260.7,261.1 L260.8,261.2 L261.0,261.5 L261.2,261.3 L261.3,261.8 L261.5,261.4 L261.6,261.9 L261.8,260.5 L262.0,260.7 L262.1,260.8 L262.3,261.1 L262.5,260.9 L262.6,260.8 L262.8,260.9 L262.9,260.9 L263.1,261.6 L263.3,261.1 L263.4,261.4 L263.6,261.6 L263.7,261.6 L263.9,261.1 L264.1,260.9 L264.2,261.7 L264.4,260.7 L264.5,260.8 L264.7,261.4 L264.9,261.4 L265.0,261.3 L265.2,260.9 L265.4,261.4 L265.5,261.6 L265.7,261.1 L265.8,261.9 L266.0,261.2 L266.2,260.9 L266.3,261.1 L266.5,261.0 L266.6,261.1 L266.8,261.0 L267.0,261.2 L267.1,261.5 L267.3,261.3 L267.4,261.3 L267.6,260.8 L267.8,260.7 L267.9,261.1 L268.1,261.5 L268.2,261.5 L268.4,261.3 L268.6,260.8 L268.7,261.1 L268.9,261.3 L269.1,261.5 L269.2,261.0 L269.4,261.2 L269.5,261.3 L269.7,261.2 L269.9,260.7 L270.0,261.3 L270.2,260.7 L270.3,260.8 L270.5,261.2 L270.7,261.0 L270.8,261.3 L271.0,261.5 L271.1,261.3 L271.3,261.6 L271.5,261.1 L271.6,261.2 L271.8,261.1 L272.0,261.0 L272.1,262.3 L272.3,261.1 L272.4,261.9 L272.6,261.2 L272.8,261.5 L272.9,261.2 L273.1,260.8 L273.2,261.8 L273.4,261.2 L273.6,261.3 L273.7,261.9 L273.9,261.0 L274.0,261.2 L274.2,261.4 L274.4,261.5 L274.5,260.2 L274.7,261.4 L274.8,261.9 L275.0,261.6 L275.2,261.4 L275.3,261.4 L275.5,261.3 L275.7,261.6 L275.8,261.1 L276.0,261.4 L276.1,261.7 L276.3,261.5 L276.5,261.4 L276.6,261.0 L276.8,261.1 L276.9,261.4 L277.1,261.2 L277.3,261.2 L277.4,260.5 L277.6,261.5 L277.7,261.1 L277.9,261.0 L278.1,261.6 L278.2,261.2 L278.4,261.2 L278.6,261.4 L278.7,261.1 L278.9,260.9 L279.0,260.9 L279.1,261.3 L279.1,261.2 L279.2,260.4 L279.3,261.6 L279.3,261.2 L279.4,260.9 L279.4,261.2 L279.5,261.0 L279.5,261.2 L279.6,261.0 L279.6,260.8 L279.7,261.3 L279.7,261.2 L279.8,261.3 L279.8,261.4 L279.9,261.3 L280.0,261.6 L280.0,261.0 L280.0,260.7 L280.1,260.7 L280.2,260.8 L280.3,261.6 L280.5,260.7 L280.6,261.5 L280.8,261.3 L281.0,260.6 L281.0,261.6 L281.1,261.0 L281.1,261.6 L281.2,263.9 L281.3,269.0 L281.3,270.8 L281.3,272.0 L281.4,268.3 L281.4,263.2 L281.5,260.5 L281.6,255.0 L281.6,251.8 L281.6,249.7 L281.7,250.5 L281.8,256.0 L281.8,260.1 L281.9,261.7 L281.9,261.4 L282.0,261.1 L282.0,261.7 L282.1,261.6 L282.3,260.7 L282.4,260.8 L282.6,261.8 L282.7,261.7 L282.9,261.1 L283.1,261.7 L283.2,261.3 L283.4,261.4 L283.5,261.0 L283.7,262.2 L283.8,262.2 L283.8,262.3 L283.9,262.0 L283.9,263.1 L284.0,264.4 L284.0,262.9 L284.1,261.6 L284.2,261.4 L284.2,261.3 L284.2,260.9 L284.3,259.8 L284.3,258.2 L284.4,256.8 L284.5,258.3 L284.5,259.5 L284.5,260.5 L284.6,261.0 L284.7,261.3 L284.7,261.3 L284.8,260.9 L285.0,261.1 L285.2,260.9 L285.3,261.8 L285.5,261.0 L285.6,261.5 L285.8,261.5 L286.0,261.6 L286.1,260.8 L286.3,260.9 L286.4,261.5 L286.6,261.7 L286.8,261.2 L286.9,261.4 L287.1,260.6 L287.2,261.8 L287.4,261.9 L287.6,261.3 L287.7,261.2 L287.9,261.2 L288.1,261.0 L288.2,260.5 L288.4,261.4 L288.5,261.5 L288.7,261.9 L288.9,261.2 L289.0,260.9 L289.2,261.3 L289.3,260.8 L289.5,261.2 L289.7,260.7 L289.8,261.1 L290.0,261.6 L290.1,261.5 L290.3,261.8 L290.5,261.9 L290.6,261.2 L290.8,260.9 L290.9,260.5 L291.1,261.3 L291.3,261.3 L291.4,261.7 L291.6,260.9 L291.8,261.1 L291.9,261.5 L292.1,261.0 L292.2,261.0 L292.4,262.0 L292.6,261.0 L292.7,261.2 L292.9,261.4 L293.0,261.4 L293.2,260.6 L293.4,260.7 L293.5,260.6 L293.7,261.7 L293.8,261.5 L294.0,260.9 L294.2,261.7 L294.3,261.5 L294.5,261.9 L294.7,260.5 L294.8,260.8 L295.0,261.1 L295.1,261.2 L295.3,261.4 L295.5,261.4 L295.6,261.0 L295.8,261.5 L295.9,260.8 L296.1,261.4 L296.3,261.6 L296.4,260.8 L296.6,261.3 L296.7,261.0 L296.9,261.4 L297.1,262.1 L297.2,261.0 L297.4,261.8 L297.6,260.8 L297.7,261.8 L297.9,262.0 L298.0,261.1 L298.2,261.1 L298.4,261.2 L298.5,261.7 L298.7,260.9 L298.8,261.8 L299.0,261.4 L299.2,261.6 L299.3,261.4 L299.5,260.9 L299.6,261.5 L299.8,261.0 L300.0,261.0 L300.1,261.9 L300.3,261.7 L300.4,261.4 L300.6,261.5 L300.8,261.1 L300.8,262.0 L300.9,261.0 L300.9,261.0 L301.0,261.3 L301.0,261.8 L301.1,261.2 L301.2,261.5 L301.2,261.0 L301.3,261.3 L301.3,261.0 L301.3,261.4 L301.4,260.7 L301.5,262.2 L301.5,261.7 L301.6,261.1 L301.6,261.8 L301.7,261.0 L301.7,261.7 L301.8,261.2 L301.9,261.6 L301.9,261.4 L302.1,261.2 L302.2,261.3 L302.4,261.4 L302.5,260.4 L302.6,261.2 L302.7,261.6 L302.8,260.9 L302.8,260.9 L302.9,260.8 L302.9,260.5 L303.0,261.6 L303.0,260.8 L303.1,260.8 L303.2,261.2 L303.2,261.2 L303.2,262.4 L303.3,261.5 L303.3,260.5 L303.4,262.0 L303.5,261.5 L303.5,261.1 L303.5,261.0 L303.6,260.6 L303.7,262.0 L303.8,261.2 L304.0,260.9 L304.2,261.8 L304.3,261.3 L304.5,260.5 L304.6,260.7 L304.8,261.0 L305.0,262.3 L305.1,261.3 L305.3,261.1 L305.4,261.4 L305.6,261.3 L305.8,260.0 L305.9,261.3 L306.1,261.6 L306.2,261.2 L306.4,261.4 L306.6,261.4 L306.7,261.3 L306.9,260.9 L307.0,261.2 L307.2,261.7 L307.4,261.3 L307.5,261.1 L307.7,261.4 L307.9,260.8 L308.0,260.9 L308.2,261.7 L308.3,261.1 L308.5,260.4 L308.7,260.6 L308.8,261.3 L309.0,260.9 L309.1,261.5 L309.3,261.8 L309.5,261.0 L309.6,261.1 L309.8,261.0 L309.9,261.3 L310.1,261.1 L310.3,261.5 L310.4,261.1 L310.6,260.9 L310.8,261.3 L310.9,260.9 L311.1,262.0 L311.2,261.6 L311.4,260.7 L311.6,260.5 L311.7,261.1 L311.9,261.3 L312.0,261.8 L312.2,261.1 L312.4,260.9 L312.5,261.9 L312.7,261.0 L312.8,261.0 L313.0,261.1 L313.2,261.7 L313.3,261.0 L313.5,261.9 L313.7,260.6 L313.8,261.2 L314.0,261.7 L314.1,260.7 L314.3,260.8 L314.5,261.5 L314.6,260.3 L314.8,261.7 L314.9,261.1 L315.1,260.8 L315.3,262.2 L315.4,260.8 L315.6,261.3 L315.7,261.3 L315.9,261.7 L316.1,261.1 L316.2,261.7 L316.4,261.7 L316.5,261.4 L316.7,261.8 L316.9,260.6 L317.0,261.8 L317.2,261.6 L317.4,261.4 L317.5,261.2 L317.7,260.9 L317.8,260.9 L318.0,261.4 L318.2,261.4 L318.3,261.2 L318.5,260.9 L318.6,261.0 L318.8,261.5 L319.0,262.1 L319.1,260.3 L319.3,260.8 L319.4,261.1 L319.6,261.1 L319.8,261.5 L319.9,261.7 L320.1,261.4 L320.3,261.3 L320.4,261.5 L320.6,261.9 L320.7,261.4 L320.9,261.0 L321.1,261.5 L321.2,261.2 L321.4,262.1 L321.5,261.3 L321.7,261.3 L321.9,261.8 L322.0,262.0 L322.2,261.1 L322.3,261.6 L322.5,261.0 L322.7,261.4 L322.8,261.0 L323.0,261.4 L323.1,261.9 L323.3,261.3 L323.5,261.4 L323.6,261.0 L323.8,261.4 L324.0,261.4 L324.1,260.9 L324.3,260.7 L324.4,260.9 L324.6,260.8 L324.8,261.1 L324.9,260.9 L325.1,260.9 L325.2,261.1 L325.4,261.2 L325.6,261.2 L325.7,260.2 L325.9,261.2 L326.0,261.4 L326.2,261.4 L326.4,261.3 L326.5,261.1 L326.7,261.8 L326.9,262.1 L327.0,261.1 L327.2,262.0 L327.3,261.1 L327.5,261.2 L327.7,260.7 L327.8,260.5 L328.0,261.1 L328.1,261.5 L328.3,261.8 L328.5,261.6 L328.6,261.2 L328.8,262.2 L328.9,261.2 L329.1,261.3 L329.3,261.0 L329.4,261.4 L329.6,261.2 L329.8,261.6 L329.9,261.5 L330.1,262.0 L330.2,261.2 L330.4,260.6 L330.6,261.2 L330.7,261.1 L330.9,261.7 L331.0,260.6 L331.2,261.6 L331.4,260.9 L331.5,261.2 L331.7,261.7 L331.8,260.8 L332.0,261.2 L332.2,261.2 L332.3,261.0 L332.5,261.3 L332.6,261.4 L332.8,261.0 L333.0,261.4 L333.1,261.2 L333.3,261.6 L333.5,261.9 L333.6,261.6 L333.8,261.5 L333.9,261.2 L334.1,260.7 L334.3,262.0 L334.4,261.2 L334.6,262.3 L334.7,261.7 L334.9,261.5 L335.1,262.3 L335.2,262.1 L335.4,261.2 L335.5,261.2 L335.7,261.3 L335.9,261.6 L336.0,260.3 L336.2,261.3 L336.4,261.6 L336.5,260.5 L336.7,261.0 L336.8,261.4 L337.0,260.7 L337.2,261.2 L337.3,261.0 L337.5,261.1 L337.6,261.7 L337.8,260.8 L338.0,261.2 L338.1,261.7 L338.3,261.6 L338.4,260.8 L338.6,261.4 L338.8,261.2 L338.9,260.9 L339.1,261.2 L339.2,262.0 L339.4,261.0 L339.6,260.8 L339.7,260.8 L339.9,260.5 L340.1,261.1 L340.2,260.9 L340.4,260.5 L340.5,261.4 L340.7,260.4 L340.9,260.4 L341.0,260.9 L341.2,260.4 L341.3,260.8 L341.5,261.7 L341.7,260.7 L341.8,261.1 L342.0,261.1 L342.1,261.2 L342.3,260.6 L342.5,261.0 L342.6,261.6 L342.8,261.0 L343.0,260.9 L343.1,261.6 L343.3,261.5 L343.4,261.4 L343.6,261.5 L343.8,261.1 L343.9,260.8 L344.1,260.3 L344.2,260.7 L344.4,260.8 L344.6,260.7 L344.7,260.6 L344.9,261.4 L345.0,260.9 L345.2,261.1 L345.4,261.3 L345.5,261.5 L345.7,261.5 L345.8,261.4 L346.0,261.9 L346.2,261.0 L346.3,261.3 L346.5,261.2 L346.7,261.1 L346.8,260.9 L347.0,261.5 L347.1,261.3 L347.3,262.0 L347.5,262.4 L347.6,262.2 L347.8,260.5 L347.9,262.2 L348.1,261.0 L348.3,260.5 L348.4,261.5 L348.6,260.4 L348.7,260.3 L348.9,260.8 L349.1,260.1 L349.2,260.9 L349.4,261.6 L349.6,261.0 L349.7,261.5 L349.9,261.9 L350.0,261.9 L350.2,260.1 L350.4,261.5 L350.5,261.3 L350.7,261.6 L350.8,261.2 L351.0,261.4 L351.2,261.5 L351.3,261.9 L351.5,262.0 L351.6,261.6 L351.8,261.1 L352.0,260.2 L352.1,260.7 L352.3,260.3 L352.5,261.0 L352.6,261.3 L352.8,261.9 L352.9,261.2 L353.1,262.3 L353.3,261.4 L353.4,260.4 L353.6,261.1 L353.7,260.7 L353.9,261.4 L354.1,262.0 L354.2,261.5 L354.4,261.4 L354.5,260.6 L354.7,260.2 L354.9,261.6 L355.0,261.4 L355.2,261.3 L355.3,261.4 L355.5,261.9 L355.7,261.2 L355.8,261.0 L356.0,261.0 L356.2,261.9 L356.3,261.3 L356.5,262.2 L356.6,260.8 L356.8,261.8 L357.0,261.4 L357.1,261.5 L357.3,261.5 L357.4,261.8 L357.6,262.2 L357.8,260.3 L357.9,261.1 L358.1,261.1 L358.2,260.1 L358.4,261.3 L358.6,260.9 L358.7,261.2 L358.9,260.6 L359.1,261.0 L359.2,261.1 L359.4,261.4 L359.5,261.1 L359.7,260.6 L359.9,262.3 L360.0,261.3 L360.2,261.5 L360.3,261.4 L360.5,262.3 L360.7,260.8 L360.8,261.7 L361.0,261.4 L361.1,261.5 L361.3,262.1 L361.5,261.5 L361.6,262.2 L361.8,261.7 L361.9,261.4 L362.1,261.2 L362.3,261.2 L362.4,261.3 L362.6,260.1 L362.8,261.0 L362.9,261.9 L363.1,261.6 L363.2,261.6 L363.4,261.3 L363.6,261.6 L363.7,261.7 L363.9,260.3 L364.0,261.2 L364.2,261.4 L364.4,261.4 L364.5,261.4 L364.7,260.5 L364.8,261.0 L365.0,260.6 L365.2,263.0 L365.3,261.0 L365.5,260.6 L365.7,260.1 L365.8,261.2 L366.0,262.2 L366.1,260.9 L366.3,261.6 L366.5,262.2 L366.6,261.6 L366.8,260.6 L366.9,260.6 L367.1,260.8 L367.3,261.8 L367.4,259.8 L367.6,261.9 L367.7,261.3 L367.9,262.0 L368.1,260.5 L368.2,261.0 L368.4,260.7 L368.6,261.2 L368.7,261.3 L368.9,261.1 L369.0,262.3 L369.2,260.7 L369.4,260.7 L369.5,261.5 L369.7,261.2 L369.8,261.1 L370.0,260.3 L370.2,261.0 L370.3,261.2 L370.5,261.5 L370.6,262.1 L370.8,261.6 L371.0,261.2 L371.1,261.4 L371.3,261.2 L371.4,260.8 L371.6,261.0 L371.8,261.1 L371.9,260.8 L372.1,261.1 L372.3,261.2 L372.4,261.0 L372.6,262.2 L372.7,260.5 L372.9,262.0 L373.1,260.7 L373.2,261.2 L373.4,260.6 L373.5,261.2 L373.7,261.8 L373.9,260.6 L374.0,261.1 L374.2,261.2 L374.3,261.2 L374.5,260.6 L374.7,260.7 L374.8,261.1 L375.0,262.1 L375.2,261.5 L375.3,261.2 L375.5,260.2 L375.6,261.0 L375.8,261.3 L376.0,260.5 L376.1,261.3 L376.3,261.2 L376.4,261.1 L376.6,262.1 L376.8,260.7 L376.9,261.0 L377.1,261.4 L377.2,261.9 L377.4,261.1 L377.6,260.4 L377.7,261.6 L377.9,261.9 L378.1,261.0 L378.2,262.2 L378.4,262.5 L378.5,261.5 L378.7,261.6 L378.9,261.4 L379.0,261.5 L379.2,261.0 L379.3,261.3 L379.5,261.6 L379.7,261.5 L379.8,260.8 L380.0,260.6 L380.1,260.7 L380.3,260.8 L380.5,263.2 L380.6,261.8 L380.8,261.4 L380.9,261.1 L381.1,262.2 L381.3,260.3 L381.4,261.0 L381.6,261.6 L381.8,261.1 L381.9,261.4 L382.1,261.7 L382.2,260.9 L382.4,261.5 L382.6,262.1 L382.7,261.6 L382.9,261.3 L383.0,261.9 L383.2,260.4 L383.4,261.9 L383.5,260.1 L383.7,260.7 L383.8,261.8 L384.0,261.1 L384.2,260.5 L384.3,261.3 L384.5,261.9 L384.7,261.1 L384.8,260.0 L385.0,262.1 L385.1,260.9 L385.3,261.2 L385.5,261.3 L385.6,261.5 L385.8,261.4 L385.9,260.6 L386.1,260.8 L386.3,261.8 L386.4,260.2 L386.6,262.0 L386.7,260.8 L386.9,261.1 L387.1,260.5 L387.2,261.0 L387.4,260.5 L387.5,261.2 L387.7,260.6 L387.9,261.0 L388.0,259.9 L388.2,261.6 L388.4,260.5 L388.5,260.9 L388.7,261.1 L388.8,261.6 L389.0,260.9 L389.2,262.1 L389.3,262.1 L389.5,260.8 L389.6,262.2 L389.8,260.3 L390.0,261.4 L390.1,261.0 L390.3,261.2 L390.4,260.9 L390.6,261.4 L390.8,261.4 L390.9,261.3 L391.1,260.5 L391.3,260.5 L391.4,260.4 L391.6,261.0 L391.7,261.3 L391.9,262.3 L392.1,260.8 L392.2,260.7 L392.4,261.5 L392.5,260.7 L392.7,260.4 L392.9,261.1 L393.0,260.5 L393.2,261.0 L393.3,262.3 L393.5,261.5 L393.7,261.5 L393.8,260.9 L394.0,261.8 L394.2,261.5 L394.3,261.8 L394.5,261.2 L394.6,261.2 L394.8,260.6 L395.0,260.7 L395.1,261.1 L395.3,261.0 L395.4,261.1 L395.6,261.1 L395.8,260.2 L395.9,262.8 L396.1,261.3 L396.2,261.0 L396.4,260.5 L396.6,261.9 L396.7,261.0 L396.9,260.6 L397.0,261.5 L397.2,262.5 L397.4,261.4 L397.5,262.0 L397.7,260.8 L397.9,261.8 L398.0,260.0 L398.2,261.1 L398.3,261.7 L398.5,261.5 L398.7,261.9 L398.8,260.9 L399.0,260.2 L399.1,261.3 L399.3,260.6 L399.5,261.8 L399.6,261.0 L399.8,259.7 L399.9,262.1 L400.1,260.4 L400.3,260.4 L400.4,262.5 L400.6,262.2 L400.8,261.9 L400.9,260.5 L401.1,261.5 L401.2,261.3 L401.4,260.7 L401.6,261.1 L401.7,261.0 L401.9,261.4 L402.0,260.4 L402.2,261.7 L402.4,260.1 L402.5,261.4 L402.7,261.7 L402.8,260.8 L403.0,260.9 L403.2,262.5 L403.3,261.0 L403.5,262.1 L403.6,261.8 L403.8,260.7 L404.0,261.8 L404.1,261.0 L404.3,261.5 L404.5,259.9 L404.6,261.3 L404.8,262.0 L404.9,261.9 L405.1,261.8 L405.3,261.1 L405.4,261.2 L405.6,260.5 L405.7,261.1 L405.9,261.1 L406.1,261.0 L406.2,261.3 L406.4,261.0 L406.5,260.7 L406.7,260.7 L406.9,261.6 L407.0,262.4 L407.2,261.8 L407.4,261.0 L407.5,262.9 L407.7,261.5 L407.8,260.9 L408.0,261.6 L408.2,262.0 L408.3,259.9 L408.5,260.1 L408.6,261.4 L408.8,260.1 L409.0,260.1 L409.1,262.2 L409.3,258.8 L409.4,262.1 L409.6,261.5 L409.8,262.3 L409.9,261.1 L410.1,262.7 L410.3,261.2 L410.4,259.8 L410.6,260.9 L410.7,261.6 L410.9,258.8 L411.1,262.6 L411.2,259.5 L411.4,261.6 L411.5,260.6 L411.7,260.7 L411.9,260.3 L412.0,260.4 L412.2,261.7 L412.3,261.3 L412.5,259.4 L412.7,260.8 L412.8,263.3 L413.0,262.5 L413.1,262.5 L413.3,261.2 L413.5,260.8 L413.6,261.0 L413.8,262.4 L414.0,261.1 L414.1,263.6 L414.3,266.0 L414.4,261.3 L414.6,263.7 L414.8,262.6 L414.9,262.9 L415.1,260.4 L415.2,262.7 L415.4,260.9 L415.6,261.8 L415.7,262.5 L415.9,262.8 L416.0,260.8 L416.2,260.9 L416.4,260.6 L416.5,259.7 L416.7,261.0 L416.9,261.0 L417.0,261.3 L417.2,261.2 L417.3,261.5 L417.5,261.9 L417.7,259.8 L417.8,262.5 L418.0,261.1 L418.1,260.9 L418.3,261.1 L418.5,261.9 L418.6,261.4 L418.8,261.6 L418.9,262.0 L419.1,261.3 L419.3,261.5 L419.4,261.6 L419.6,260.8 L419.7,262.0 L419.9,260.9 L420.1,261.7 L420.2,261.0 L420.4,261.2 L420.6,261.1 L420.7,261.9 L420.9,261.8 L421.0,261.8 L421.2,261.1 L421.4,260.7 L421.5,260.5 L421.7,261.6 L421.8,261.2 L422.0,262.3 L422.2,262.8 L422.3,261.8 L422.5,261.7 L422.6,262.3 L422.8,262.5 L423.0,260.9 L423.1,261.8 L423.3,262.4 L423.5,259.7 L423.6,261.1 L423.8,261.5 L423.9,260.8 L424.1,261.8 L424.3,260.2 L424.4,262.3 L424.6,262.1 L424.7,261.4 L424.9,261.8 L425.1,260.3 L425.2,262.3 L425.4,261.8 L425.5,261.1 L425.7,260.9 L425.9,260.6 L426.0,261.0 L426.2,259.8 L426.3,261.6 L426.5,261.2 L426.7,260.7 L426.8,261.5 L427.0,261.5 L427.2,261.6 L427.3,261.7 L427.5,262.0 L427.6,261.6 L427.8,262.3 L428.0,261.0 L428.1,262.3 L428.3,259.9 L428.4,260.1 L428.6,260.5 L428.8,261.4 L428.9,261.7 L429.1,260.5 L429.2,261.2 L429.4,260.9 L429.6,261.8 L429.7,260.6 L429.9,261.8 L430.1,261.2 L430.2,262.4 L430.4,261.7 L430.5,260.9 L430.7,261.6 L430.9,261.6 L431.0,260.8 L431.2,261.3 L431.3,260.4 L431.5,262.9 L431.7,260.9 L431.8,260.9 L432.0,262.3 L432.1,262.2 L432.3,260.7 L432.5,262.0 L432.6,261.7 L432.8,260.9 L433.0,261.5 L433.1,261.0 L433.3,261.9 L433.4,261.1 L433.6,260.6 L433.8,261.1 L433.9,262.8 L434.1,260.8 L434.2,261.2 L434.4,261.9 L434.6,260.3 L434.7,262.5 L434.9,260.0 L435.0,261.7 L435.2,260.2 L435.4,261.3 L435.5,262.2 L435.7,261.2 L435.8,261.1 L436.0,260.9 L436.2,260.6 L436.3,261.9 L436.5,261.0 L436.7,260.8 L436.8,261.5 L437.0,261.9 L437.1,261.9 L437.3,260.8 L437.5,260.7 L437.6,261.8 L437.8,262.2 L437.9,260.5 L438.1,262.3 L438.3,261.2 L438.4,261.8 L438.6,262.5 L438.7,261.2 L438.9,261.4 L439.1,260.3 L439.2,259.8 L439.4,261.4 L439.6,260.6 L439.7,260.6 L439.9,261.6 L440.0,261.9 L440.2,260.2 L440.4,261.5 L440.5,261.3 L440.7,261.5 L440.8,261.4 L441.0,261.7 L441.2,260.8 L441.3,260.4 L441.5,261.5 L441.6,262.2 L441.8,261.3 L442.0,262.3 L442.1,261.7 L442.3,260.5 L442.4,259.7 L442.6,261.0 L442.8,262.0 L442.9,260.8 L443.1,262.8 L443.3,261.8 L443.4,260.3 L443.6,260.8 L443.7,262.2 L443.9,262.4 L444.1,260.7 L444.2,261.3 L444.4,261.7 L444.5,261.0 L444.7,261.7 L444.9,262.6 L445.0,260.7 L445.2,261.7 L445.3,262.0 L445.5,262.2 L445.7,261.1 L445.8,261.8 L446.0,260.9 L446.2,261.5 L446.3,260.6 L446.5,261.5 L446.6,261.7 L446.8,262.6 L447.0,262.0 L447.1,260.8 L447.3,259.2 L447.4,262.1 L447.6,262.0 L447.8,261.1 L447.9,261.0 L448.1,261.7 L448.2,261.2 L448.4,262.4 L448.6,261.5 L448.7,260.7 L448.9,260.2 L449.1,261.4 L449.2,261.5 L449.4,261.0 L449.5,260.5 L449.7,261.0 L449.9,261.8 L450.0,261.0 L450.2,260.6 L450.3,261.8 L450.5,262.2 L450.7,260.9 L450.8,261.0 L451.0,260.6 L451.1,261.2 L451.3,261.7 L451.5,261.6 L451.6,262.0 L451.8,261.9 L451.9,261.7 L452.1,261.6 L452.3,260.5 L452.4,262.1 L452.6,261.3 L452.8,261.7 L452.9,260.3 L453.1,261.1 L453.2,261.5 L453.4,260.7 L453.6,261.2 L453.7,261.6 L453.9,260.3 L454.0,260.8 L454.2,260.1 L454.4,260.5 L454.5,260.8 L454.7,261.2 L454.8,262.0 L455.0,260.8 L455.2,261.2 L455.3,260.8 L455.5,261.3 L455.7,261.7 L455.8,262.0 L456.0,260.8 L456.1,260.4 L456.3,261.5 L456.5,261.0 L456.6,260.3 L456.8,261.8 L456.9,261.5 L457.1,262.0 L457.3,260.5 L457.4,261.1 L457.6,261.6 L457.7,262.4 L457.9,261.4 L458.1,260.6 L458.2,261.5 L458.4,261.6 L458.6,260.8 L458.7,262.1 L458.9,261.2 L459.0,260.9 L459.2,261.8 L459.4,261.8 L459.5,261.1 L459.7,261.3 L459.8,261.4 L460.0,261.1 L460.2,261.1 L460.3,261.9 L460.5,261.7 L460.6,261.0 L460.8,260.5 L461.0,260.4 L461.1,261.8 L461.3,260.5 L461.4,260.8 L461.6,261.3 L461.8,260.9 L461.9,260.7 L462.1,260.1 L462.3,262.0 L462.4,260.9 L462.6,261.4 L462.7,261.4 L462.9,260.5 L463.1,260.7 L463.2,262.0 L463.4,261.5 L463.5,261.1 L463.7,262.2 L463.9,260.7 L464.0,261.3 L464.2,261.2 L464.3,261.0 L464.5,260.1 L464.7,261.2 L464.8,261.5 L465.0,260.1 L465.2,261.6 L465.3,261.6 L465.5,262.2 L465.6,260.5 L465.8,261.1 L466.0,261.0 L466.1,261.2 L466.3,261.4 L466.4,261.8 L466.6,261.8 L466.8,261.0 L466.9,261.2 L467.1,260.2 L467.2,261.8 L467.4,261.6 L467.6,262.0 L467.7,260.3 L467.9,262.1 L468.0,260.8 L468.2,260.3 L468.4,261.4 L468.5,260.8 L468.7,262.7 L468.9,261.5 L469.0,262.4 L469.2,261.2 L469.3,261.3 L469.5,261.8 L469.7,260.6 L469.8,261.0 L470.0,261.6 L470.1,261.6 L470.3,262.3 L470.5,261.4 L470.6,259.9 L470.8,261.7 L470.9,261.0 L471.1,261.6 L471.3,260.7 L471.4,261.0 L471.6,261.4 L471.8,262.5 L471.9,261.6 L472.1,260.5 L472.2,261.4 L472.4,260.8 L472.6,261.6 L472.7,262.5 L472.9,261.0 L473.0,261.1 L473.2,261.7 L473.4,261.5 L473.5,261.1 L473.7,261.7 L473.8,261.0 L474.0,261.4 L474.2,262.8 L474.3,261.4 L474.5,261.7 L474.7,261.8 L474.8,261.0 L475.0,261.6 L475.1,260.9 L475.3,260.5 L475.5,261.2 L475.6,262.3 L475.8,261.8 L475.9,260.7 L476.1,261.4 L476.3,261.8 L476.4,261.3 L476.6,260.9 L476.7,261.1 L476.9,260.8 L477.1,261.8 L477.2,261.4 L477.4,261.4 L477.5,261.3 L477.7,262.7 L477.9,261.4 L478.0,262.2 L478.2,260.3 L478.4,260.2 L478.5,260.1 L478.7,260.7 L478.8,261.6 L479.0,260.6 L479.2,261.4 L479.3,260.9 L479.5,261.9 L479.6,261.7 L479.8,261.0 L480.0,260.1 L480.1,261.3 L480.3,259.8 L480.4,259.4 L480.6,262.1 L480.8,261.3 L480.9,261.9 L481.1,261.4 L481.3,261.6 L481.4,261.3 L481.6,260.6 L481.7,260.6 L481.9,261.1 L482.1,261.3 L482.2,261.2 L482.4,261.2 L482.5,260.9 L482.7,261.3 L482.9,260.9 L483.0,262.1 L483.2,260.7 L483.3,260.1 L483.5,261.1 L483.7,262.2 L483.8,260.4 L484.0,261.5 L484.1,263.3 L484.3,261.4 L484.5,260.9 L484.6,261.0 L484.8,260.4 L485.0,260.8 L485.1,261.2 L485.3,262.6 L485.4,262.0 L485.6,261.1 L485.8,260.8 L485.9,261.9 L486.1,261.7 L486.2,260.9 L486.4,262.5 L486.6,262.6 L486.7,261.4 L486.9,261.1 L487.0,261.6 L487.2,262.8 L487.4,261.2 L487.5,262.1 L487.7,260.8 L487.9,261.3 L488.0,261.1 L488.2,260.8 L488.3,261.6 L488.5,260.7 L488.7,260.4 L488.8,261.0 L489.0,260.4 L489.1,261.7 L489.3,260.6 L489.5,261.1 L489.6,261.9 L489.8,261.3 L489.9,261.6 L490.1,261.6 L490.3,261.2 L490.4,260.5 L490.6,261.5 L490.8,261.2 L490.9,262.2 L491.1,261.2 L491.2,260.5 L491.4,260.7 L491.6,260.9 L491.7,261.6 L491.9,261.9 L492.0,261.2 L492.2,261.7 L492.4,261.2 L492.5,260.1 L492.7,261.8 L492.8,260.0 L493.0,262.2 L493.2,261.0 L493.3,262.0 L493.5,261.1 L493.6,262.0 L493.8,261.2 L494.0,261.4 L494.1,261.6 L494.3,260.9 L494.5,260.2 L494.6,261.7 L494.8,260.7 L494.9,261.2 L495.1,261.3 L495.3,259.8 L495.4,262.7 L495.6,261.7 L495.7,262.5 L495.9,261.5 L496.1,261.4 L496.2,258.7 L496.4,261.0 L496.5,260.1 L496.7,260.4 L496.9,261.6 L497.0,260.9 L497.2,260.0 L497.4,260.6 L497.5,260.1 L497.7,260.3 L497.8,262.2 L498.0,261.8 L498.2,261.0 L498.3,260.9 L498.5,261.9 L498.6,261.5 L498.8,261.3 L499.0,261.4 L499.1,260.8 L499.3,261.2 L499.4,261.1 L499.6,262.2 L499.8,262.0 L499.9,261.0 L500.1,262.3 L500.2,261.1 L500.4,261.7 L500.6,261.8 L500.7,260.8 L500.9,261.7 L501.1,261.8 L501.2,261.7 L501.4,261.2 L501.5,259.4 L501.7,262.7 L501.9,261.3 L502.0,261.4 L502.2,260.6 L502.3,261.5 L502.5,262.9 L502.7,260.4 L502.8,262.0 L503.0,261.3 L503.1,262.2 L503.3,262.0 L503.5,261.6 L503.6,260.7 L503.8,260.7 L504.0,261.7 L504.1,260.9 L504.3,261.5 L504.4,261.2 L504.6,261.2 L504.8,260.8 L504.9,261.7 L505.1,261.4 L505.2,261.1 L505.4,261.2 L505.6,261.8 L505.7,260.1 L505.9,261.6 L506.0,260.8 L506.2,261.0 L506.4,259.9 L506.5,261.7 L506.7,259.3 L506.8,261.3 L507.0,262.1 L507.2,261.2 L507.3,259.8 L507.5,260.9 L507.7,262.1 L507.8,261.6 L508.0,260.4 L508.1,262.2 L508.3,261.4 L508.5,261.5 L508.6,259.8 L508.8,261.5 L508.9,260.4 L509.1,261.7 L509.3,261.8 L509.4,260.6 L509.6,260.9 L509.7,262.4 L509.9,260.8 L510.1,260.8 L510.2,261.7 L510.4,261.1 L510.6,261.1 L510.7,261.6 L510.9,261.7 L511.0,261.7 L511.2,261.5 L511.4,262.2 L511.5,261.3 L511.7,262.3 L511.8,261.2 L512.0,261.3 L512.2,262.0 L512.3,260.7 L512.5,260.0 L512.6,260.4 L512.8,262.2 L513.0,260.4 L513.1,261.1 L513.3,261.3 L513.5,261.7 L513.6,261.3 L513.8,260.3 L513.9,260.6 L514.1,260.1 L514.3,259.2 L514.4,260.1 L514.6,260.6 L514.7,260.0 L514.9,262.0 L515.1,261.3 L515.2,261.5 L515.4,261.8 L515.5,261.0 L515.7,260.9 L515.9,262.2 L516.0,262.0 L516.2,260.5 L516.3,261.1 L516.5,260.9 L516.7,261.6 L516.8,261.5 L517.0,261.0 L517.2,261.6 L517.3,262.0 L517.5,261.3 L517.6,260.7 L517.8,262.0 L518.0,260.6 L518.1,260.8 L518.3,261.9 L518.4,261.3 L518.6,261.3 L518.8,260.8 L518.9,260.8 L519.1,262.1 L519.2,262.2 L519.4,260.6 L519.6,261.2 L519.7,261.0 L519.9,261.0 L520.1,260.2 L520.2,262.1 L520.4,260.5 L520.5,261.8 L520.7,260.8 L520.9,260.4 L521.0,262.2 L521.2,261.0 L521.3,261.5 L521.5,261.5 L521.7,261.1 L521.8,261.5 L522.0,261.1 L522.1,260.3 L522.3,260.6 L522.5,261.6 L522.6,262.2 L522.8,259.7 L522.9,260.5 L523.1,261.0 L523.3,262.0 L523.4,261.7 L523.6,261.1 L523.8,261.9 L523.9,260.2 L524.1,261.2 L524.2,261.0 L524.4,262.0 L524.6,261.9 L524.7,261.8 L524.9,261.1 L525.0,261.5 L525.2,261.5 L525.4,261.1 L525.5,261.1 L525.7,260.3 L525.8,261.4 L526.0,261.9 L526.2,261.3 L526.3,260.3 L526.5,261.6 L526.7,261.2 L526.8,261.5 L527.0,261.0 L527.1,261.1 L527.3,261.8 L527.5,261.4 L527.6,260.6 L527.8,260.5 L527.9,260.7 L528.1,260.7 L528.3,261.5 L528.4,261.5 L528.6,260.7 L528.7,262.1 L528.9,261.3 L529.1,262.5 L529.2,261.5 L529.4,261.7 L529.6,262.1 L529.7,260.9 L529.9,261.8 L530.0,261.5 L530.2,261.4 L530.4,261.8 L530.5,260.3 L530.7,261.6 L530.8,261.1 L531.0,262.1 L531.2,261.6 L531.3,261.5 L531.5,261.5 L531.6,261.7 L531.8,261.2 L532.0,260.2 L532.1,261.4 L532.3,261.4 L532.4,261.5 L532.6,259.6 L532.8,260.2 L532.9,260.9 L533.1,260.8 L533.3,261.7 L533.4,261.4 L533.6,261.1 L533.7,261.2 L533.9,261.8 L534.1,261.8 L534.2,260.9 L534.4,261.1 L534.5,262.7 L534.7,261.2 L534.9,260.4 L535.0,261.7 L535.2,261.1 L535.3,262.2 L535.5,260.7 L535.7,262.0 L535.8,262.1 L536.0,261.5 L536.2,259.7 L536.3,261.7 L536.5,262.1 L536.6,261.0 L536.8,261.1 L537.0,260.2 L537.1,262.1 L537.3,262.3 L537.4,261.5 L537.6,261.0 L537.8,261.0 L537.9,260.6 L538.1,262.3 L538.2,261.8 L538.4,261.4 L538.6,260.7 L538.7,261.0 L538.9,261.6 L539.0,261.9 L539.2,260.7 L539.4,260.6 L539.5,259.5 L539.7,261.4 L539.9,260.2 L540.0,262.1 L540.2,261.6 L540.3,261.7 L540.5,261.6 L540.7,261.9 L540.8,261.6 L541.0,261.3 L541.1,261.6 L541.3,260.8 L541.5,261.3 L541.6,261.3 L541.8,260.3 L541.9,261.1 L542.1,261.2 L542.3,261.3 L542.4,261.2 L542.6,260.9 L542.8,261.8 L542.9,260.5 L543.1,260.2 L543.2,260.5 L543.4,261.6 L543.6,262.3 L543.7,261.6 L543.9,261.2 L544.0,260.7 L544.2,261.4 L544.4,261.5 L544.5,260.3 L544.7,261.7 L544.8,260.6 L545.0,260.7 L545.2,262.2 L545.3,261.1 L545.5,261.6 L545.7,261.9 L545.8,262.5 L546.0,262.3 L546.1,261.0 L546.3,261.5 L546.5,261.1 L546.6,262.0 L546.8,261.5 L546.9,261.4 L547.1,262.3 L547.3,262.4 L547.4,261.0 L547.6,261.2 L547.7,261.9 L547.9,261.3 L548.1,260.8 L548.2,260.1 L548.4,261.9 L548.5,260.9 L548.7,259.9 L548.9,261.2 L549.0,260.3 L549.2,263.0 L549.4,260.3 L549.5,261.3 L549.7,262.5 L549.8,260.8 L550.0,260.6 L550.2,260.5 L550.3,260.5 L550.5,261.3 L550.6,261.8 L550.8,261.6 L551.0,261.3 L551.1,261.0 L551.3,261.5 L551.4,260.7 L551.6,259.8 L551.8,260.6 L551.9,259.7 L552.1,259.8 L552.3,262.0 L552.4,261.6 L552.6,262.1 L552.7,262.0 L552.9,260.9 L553.1,261.9 L553.2,262.0 L553.4,261.4 L553.5,260.7 L553.7,261.5 L553.9,261.5 L554.0,260.7 L554.2,261.0 L554.3,261.0 L554.5,260.6 L554.7,261.9 L554.8,261.1 L555.0,261.7 L555.1,260.6 L555.3,260.7 L555.5,262.0 L555.6,260.4 L555.8,262.0 L556.0,260.5 L556.1,261.1 L556.3,261.8 L556.4,262.0 L556.6,261.5 L556.8,261.3 L556.9,261.7 L557.1,260.9 L557.2,262.2 L557.4,261.3 L557.6,261.3 L557.7,262.5 L557.9,261.1 L558.0,262.1 L558.2,262.9 L558.4,261.7 L558.5,261.4 L558.7,260.7 L558.9,261.6 L559.0,260.3 L559.2,260.3 L559.3,260.5 L559.5,260.4 L559.7,261.0 L559.8,261.6 L560.0,260.8 L560.1,260.6 L560.3,261.1 L560.5,261.4 L560.6,262.3 L560.8,260.8 L560.9,261.0 L561.1,262.1 L561.3,261.2 L561.4,260.8 L561.6,261.3 L561.8,260.7 L561.9,260.8 L562.1,262.3 L562.2,261.5 L562.4,260.9 L562.6,260.7 L562.7,260.3 L562.9,262.6 L563.0,261.3 L563.2,260.8 L563.4,260.5 L563.5,260.1 L563.7,261.9 L563.8,261.5 L564.0,262.0 L564.2,260.7 L564.3,262.2 L564.5,260.5 L564.6,260.6 L564.8,260.9 L565.0,262.7 L565.1,261.7 L565.3,260.8 L565.5,262.2 L565.6,261.4 L565.8,261.3 L565.9,260.7 L566.1,261.1 L566.3,261.1 L566.4,261.6 L566.6,261.3 L566.7,261.4 L566.9,260.8 L567.1,261.4 L567.2,260.6 L567.4,262.4 L567.5,260.5 L567.7,261.4 L567.9,260.5 L568.0,261.2 L568.2,260.7 L568.4,260.3 L568.5,261.6 L568.7,261.2 L568.8,261.4 L569.0,261.1 L569.2,262.3 L569.3,261.3 L569.5,260.9 L569.6,261.0 L569.8,260.9 L570.0,262.2 L570.1,260.3 L570.3,261.0 L570.4,260.0 L570.6,261.9 L570.8,262.1 L570.9,261.1 L571.1,262.4 L571.2,261.1 L571.4,261.7 L571.6,261.5 L571.7,261.1 L571.9,261.2 L572.1,260.0 L572.2,260.9 L572.4,262.1 L572.5,260.6 L572.7,262.2 L572.9,261.2 L573.0,262.1 L573.2,261.7 L573.3,259.8 L573.5,260.6 L573.7,261.1 L573.8,261.5 L574.0,261.5 L574.1,260.3 L574.3,262.1 L574.5,262.1 L574.6,260.9 L574.8,262.3 L575.0,261.5 L575.1,260.5 L575.3,261.3 L575.4,261.6 L575.6,261.8 L575.8,261.9 L575.9,261.7 L576.1,261.2 L576.2,260.4 L576.4,260.6 L576.6,261.7 L576.7,261.8 L576.9,260.8 L577.0,262.4 L577.2,261.0 L577.4,260.5 L577.5,261.4 L577.7,261.8 L577.9,261.0 L578.0,262.4 L578.2,261.9 L578.3,261.7 L578.5,261.2 L578.7,262.2 L578.8,260.6 L579.0,261.5 L579.1,261.5 L579.3,261.5 L579.5,261.7 L579.6,261.9 L579.8,260.5 L579.9,261.2 L580.1,261.4 L580.3,260.6 L580.4,261.8 L580.6,260.9 L580.7,261.3 L580.9,261.8 L581.1,260.2 L581.2,261.3 L581.4,260.3 L581.6,261.8 L581.7,261.0 L581.9,260.4 L582.0,260.9 L582.2,261.7 L582.4,261.3 L582.5,261.5 L582.7,262.1 L582.8,262.0 L583.0,261.3 L583.2,260.9 L583.3,262.5 L583.5,261.3 L583.6,261.0 L583.8,261.2 L584.0,262.0 L584.1,260.6 L584.3,262.1 L584.5,260.9 L584.6,260.2 L584.8,262.7 L584.9,261.1 L585.1,261.1 L585.3,261.2 L585.4,261.8 L585.6,261.5 L585.7,262.2 L585.9,261.2 L586.1,260.8 L586.2,261.2 L586.4,260.9 L586.5,261.0 L586.7,261.2 L586.9,261.3 L587.0,261.4 L587.2,261.3 L587.3,262.2 L587.5,263.1 L587.7,260.9 L587.8,260.4 L588.0,262.3 L588.2,261.8 L588.3,261.1 L588.5,260.7 L588.6,260.9 L588.8,260.5 L589.0,261.4 L589.1,261.0 L589.3,261.0 L589.4,261.6 L589.6,260.5 L589.8,260.9 L589.9,260.6 L590.1,261.1 L590.2,259.8 L590.4,261.5 L590.6,261.0 L590.7,263.0 L590.9,262.0 L591.1,260.8 L591.2,261.6 L591.4,261.2 L591.5,262.4 L591.7,260.3 L591.9,260.9 L592.0,261.3 L592.2,261.0 L592.3,261.1 L592.5,260.4 L592.7,261.2 L592.8,262.3 L593.0,261.5 L593.1,260.5 L593.3,260.9 L593.5,261.6 L593.6,260.9 L593.8,261.2 L594.0,260.9 L594.1,262.4 L594.3,261.9 L594.4,260.9 L594.6,261.5 L594.8,261.1 L594.9,260.0 L595.1,261.5 L595.2,261.2 L595.4,261.7 L595.6,261.7 L595.7,261.4 L595.9,262.3 L596.0,262.7 L596.2,260.4 L596.4,261.4 L596.5,260.6 L596.7,261.2 L596.8,261.2 L597.0,260.9 L597.2,260.8 L597.3,262.1 L597.5,260.5 L597.7,262.0 L597.8,261.2 L598.0,259.6 L598.1,261.3 L598.3,260.2 L598.5,261.5 L598.6,260.9 L598.8,261.3 L598.9,261.0 L599.1,261.9 L599.3,261.9 L599.4,261.1 L599.6,262.3 L599.7,261.9 L599.9,260.9 L600.1,261.7 L600.2,261.9 L600.4,262.0 L600.6,261.2 L600.7,261.6 L600.9,261.2 L601.0,261.4 L601.2,260.1 L601.4,261.6 L601.5,262.6 L601.7,261.2 L601.8,261.3 L602.0,261.2 L602.2,262.4 L602.3,260.6 L602.5,261.3 L602.6,261.3 L602.8,262.4 L603.0,261.0 L603.1,261.4 L603.3,260.4 L603.4,261.6 L603.6,261.8 L603.8,259.7 L603.9,259.8 L604.1,260.1 L604.3,261.7 L604.4,259.7 L604.6,255.9 L604.7,255.2 L604.9,260.0 L605.1,264.2 L605.2,265.1 L605.4,263.4 L605.5,261.4 L605.7,261.1 L605.9,261.4 L606.0,259.8 L606.2,259.8 L606.3,261.0 L606.5,260.9 L606.7,261.0 L606.8,261.6 L607.0,262.2 L607.2,260.8 L607.3,260.6 L607.5,260.9 L607.6,261.0 L607.8,261.1 L608.0,261.3 L608.1,261.1 L608.3,261.3 L608.4,261.1 L608.6,261.9 L608.8,261.7 L608.9,260.9 L609.1,261.5 L609.2,262.9 L609.4,261.2 L609.6,262.8 L609.7,260.1 L609.9,260.8 L610.1,260.9 L610.2,261.7 L610.4,262.1 L610.5,261.5 L610.7,261.3 L610.9,261.8 L611.0,261.2 L611.2,260.9 L611.3,260.9 L611.5,262.0 L611.7,262.7 L611.8,261.3 L612.0,261.7 L612.1,261.0 L612.3,260.2 L612.5,260.2 L612.6,261.1 L612.8,260.6 L612.9,260.2 L613.1,261.3 L613.3,261.1 L613.4,260.8 L613.6,261.3 L613.8,261.6 L613.9,261.8 L614.1,261.3 L614.2,261.7 L614.4,260.8 L614.6,261.5 L614.7,260.4 L614.9,260.5 L615.0,262.1 L615.2,260.6 L615.4,261.6 L615.5,260.4 L615.7,261.0 L615.8,261.3 L616.0,260.9 L616.2,261.7 L616.3,261.1 L616.5,261.0 L616.7,261.4 L616.8,261.0 L617.0,262.0 L617.1,260.9 L617.3,262.1 L617.5,260.9 L617.6,261.0 L617.8,260.8 L617.9,261.7 L618.1,259.2 L618.3,261.5 L618.4,261.2 L618.6,261.8 L618.7,260.3 L618.9,261.6 L619.1,260.6 L619.2,262.0 L619.4,261.1 L619.5,261.6 L619.7,260.6 L619.9,261.5 L620.0,261.9 L620.2,261.0 L620.4,262.2 L620.5,262.0 L620.7,260.7 L620.8,262.7 L621.0,260.7 L621.2,261.6 L621.3,262.0 L621.5,261.1 L621.6,260.8 L621.8,261.8 L622.0,261.4 L622.1,260.6 L622.3,260.7 L622.4,261.3 L622.6,262.0 L622.8,262.1 L622.9,261.8 L623.1,260.7 L623.3,260.8 L623.4,261.0 L623.6,260.0 L623.7,261.6 L623.9,261.7 L624.1,261.7 L624.2,259.4 L624.4,263.4 L624.5,261.0 L624.7,260.8 L624.9,261.2 L625.0,258.8 L625.2,260.0 L625.3,260.4 L625.5,262.3 L625.7,260.7 L625.8,261.7 L626.0,261.2 L626.2,261.0 L626.3,261.9 L626.5,260.6 L626.6,259.7 L626.8,261.2 L627.0,262.7 L627.1,265.0 L627.3,260.3 L627.4,259.9 L627.6,261.5 L627.8,261.9 L627.9,260.4 L628.1,262.4 L628.2,260.1 L628.4,262.8 L628.6,262.2 L628.7,260.1 L628.9,261.7 L629.0,260.1 L629.2,260.1 L629.4,263.2 L629.5,259.9 L629.7,262.1 L629.9,260.4 L630.0,260.9 L630.2,262.0 L630.3,262.1 L630.5,264.0 L630.7,262.4 L630.8,262.5 L631.0,258.7 L631.1,259.7 L631.3,263.4 L631.5,260.0 L631.6,260.9 L631.8,261.9 L631.9,260.5 L632.1,260.0 L632.3,262.2" stroke="#ff0000" stroke-width="1.15"/>
</g>
<rect x="44" y="1.2" width="1" height="282.4" fill="#fff" fill-opacity="0.55"/>
<rect x="628.7" y="1.2" width="1.1" height="282.4" fill="#fff" fill-opacity="0.55"/>
<rect x="44" y="1.2" width="584.4" height="1" fill="#fff" fill-opacity="0.55"/>
<rect x="44" y="282.6" width="584.4" height="1" fill="#fff" fill-opacity="0.55"/>
<rect x="42" y="0" width="2" height="285" fill="#5e5e5e"/>
<rect x="629.8" y="0" width="1.2" height="285" fill="#4a4a4a"/>
<rect x="42" y="0" width="589" height="1.2" fill="#1c1c1c"/>
<rect x="42" y="283.8" width="589" height="1.5" fill="#606060"/>
<line x1="37.6" x2="42.5" y1="7.51" y2="7.51" stroke="#000" stroke-width="1.1"/>
<line x1="37.6" x2="42.5" y1="49.80" y2="49.80" stroke="#000" stroke-width="1.1"/>
<line x1="37.6" x2="42.5" y1="92.09" y2="92.09" stroke="#000" stroke-width="1.1"/>
<line x1="37.6" x2="42.5" y1="134.38" y2="134.38" stroke="#000" stroke-width="1.1"/>
<line x1="37.6" x2="42.5" y1="176.67" y2="176.67" stroke="#000" stroke-width="1.1"/>
<line x1="37.6" x2="42.5" y1="218.96" y2="218.96" stroke="#000" stroke-width="1.1"/>
<line x1="37.6" x2="42.5" y1="261.25" y2="261.25" stroke="#000" stroke-width="1.1"/>
<line y1="284" y2="289.8" x1="79.90" x2="79.90" stroke="#000" stroke-width="1.1"/>
<line y1="284" y2="289.8" x1="208.70" x2="208.70" stroke="#000" stroke-width="1.1"/>
<line y1="284" y2="289.8" x1="337.50" x2="337.50" stroke="#000" stroke-width="1.1"/>
<line y1="284" y2="289.8" x1="466.30" x2="466.30" stroke="#000" stroke-width="1.1"/>
<line y1="284" y2="289.8" x1="595.10" x2="595.10" stroke="#000" stroke-width="1.1"/>
<g font-family="Liberation Sans, sans-serif" font-size="12" fill="#000" stroke="#000" stroke-width="0.25">
<text x="79.90" y="304.8" text-anchor="middle" textLength="29.7" lengthAdjust="spacingAndGlyphs">5000</text>
<text x="208.70" y="304.8" text-anchor="middle" textLength="29.7" lengthAdjust="spacingAndGlyphs">6000</text>
<text x="337.50" y="304.8" text-anchor="middle" textLength="29.7" lengthAdjust="spacingAndGlyphs">7000</text>
<text x="466.30" y="304.8" text-anchor="middle" textLength="29.7" lengthAdjust="spacingAndGlyphs">8000</text>
<text x="595.10" y="304.8" text-anchor="middle" textLength="29.7" lengthAdjust="spacingAndGlyphs">9000</text>
<text transform="translate(30.4 29.61) rotate(-90)" x="0" y="0" textLength="26.8" lengthAdjust="spacingAndGlyphs">0.30</text>
<text transform="translate(30.4 71.90) rotate(-90)" x="0" y="0" textLength="26.8" lengthAdjust="spacingAndGlyphs">0.25</text>
<text transform="translate(30.4 114.19) rotate(-90)" x="0" y="0" textLength="26.8" lengthAdjust="spacingAndGlyphs">0.20</text>
<text transform="translate(30.4 156.48) rotate(-90)" x="0" y="0" textLength="26.8" lengthAdjust="spacingAndGlyphs">0.15</text>
<text transform="translate(30.4 198.77) rotate(-90)" x="0" y="0" textLength="26.8" lengthAdjust="spacingAndGlyphs">0.10</text>
<text transform="translate(30.4 241.06) rotate(-90)" x="0" y="0" textLength="26.8" lengthAdjust="spacingAndGlyphs">0.05</text>
<text transform="translate(30.4 283.35) rotate(-90)" x="0" y="0" textLength="26.8" lengthAdjust="spacingAndGlyphs">0.00</text>
<text x="336.2" y="317.6" text-anchor="middle" textLength="91" lengthAdjust="spacingAndGlyphs">Wavelength (Å)</text>
<text transform="translate(11.6 233.2) rotate(-90)" x="0" y="0" stroke-width="0.05" textLength="180.5" lengthAdjust="spacingAndGlyphs">Flux (10<tspan dy="-4.5" font-size="8.4">−16</tspan><tspan dy="4.5"> erg s</tspan><tspan dy="-4.5" font-size="8.4">−1</tspan><tspan dy="4.5"> cm</tspan><tspan dy="-4.5" font-size="8.4">−2</tspan><tspan dy="4.5"> Å</tspan><tspan dy="-4.5" font-size="8.4">−1</tspan><tspan dy="4.5">)</tspan></text>
</g>
<rect x="49.3" y="6.3" width="104.9" height="90.4" rx="3" fill="#fff" fill-opacity="0.8" stroke="#d4d4d4" stroke-width="1"/>
<line x1="53.2" x2="77.7" y1="16.0" y2="16.0" stroke="#777777" stroke-width="1.9"/>
<line x1="53.2" x2="77.7" y1="33.5" y2="33.5" stroke="#ffc04d" stroke-width="1.3"/>
<line x1="53.2" x2="77.7" y1="51.0" y2="51.0" stroke="#ff80ff" stroke-width="1.9"/>
<line x1="53.2" x2="77.7" y1="68.4" y2="68.4" stroke="#5ea8f5" stroke-width="1.3"/>
<line x1="53.2" x2="77.7" y1="86.0" y2="86.0" stroke="#ff7777" stroke-width="1.9"/>
<g font-family="Liberation Sans, sans-serif" font-size="12" fill="#000" stroke="#000" stroke-width="0.25">
<text x="86.8" y="20.1" textLength="46" lengthAdjust="spacingAndGlyphs">Original</text>
<text x="86.8" y="37.6" textLength="62.5" lengthAdjust="spacingAndGlyphs">SSP model</text>
<text x="86.8" y="55.1" textLength="55" lengthAdjust="spacingAndGlyphs">SSP + EL</text>
<text x="86.8" y="72.5" textLength="22" lengthAdjust="spacingAndGlyphs">Gas</text>
<text x="86.8" y="90.1" textLength="48" lengthAdjust="spacingAndGlyphs">Residual</text>
</g>
<rect x="409" y="15" width="180" height="128" fill="#eaeaf2"/>
<g clip-path="url(#ci)" fill="none" stroke-linejoin="round">
<path d="M405.6,128.6 L406.5,128.7 L407.4,129.0 L408.2,128.7 L409.1,128.8 L410.0,128.9 L410.9,128.9 L411.8,128.3 L412.6,128.9 L413.5,129.1 L414.4,129.0 L415.3,128.9 L416.2,128.9 L417.0,128.8 L417.9,128.9 L418.8,128.7 L419.7,128.8 L420.6,129.0 L421.4,128.9 L422.3,128.7 L423.2,128.5 L424.1,128.5 L425.0,128.7 L425.8,128.7 L426.7,128.7 L427.6,128.5 L428.5,128.9 L429.4,128.8 L430.2,128.7 L431.1,128.9 L432.0,128.7 L432.9,128.7 L433.8,128.8 L434.6,128.6 L435.5,128.5 L436.4,128.4 L436.6,128.6 L436.9,128.5 L437.3,128.0 L437.6,128.3 L438.0,127.2 L438.2,126.5 L438.3,125.8 L438.7,123.9 L439.0,122.3 L439.4,121.5 L439.7,122.1 L439.9,123.2 L440.1,124.1 L440.4,126.0 L440.8,127.6 L441.2,128.4 L441.5,128.9 L441.7,128.7 L441.9,128.6 L442.2,128.6 L442.6,128.7 L443.4,129.1 L444.3,128.9 L445.2,129.5 L446.1,129.7 L447.0,129.1 L447.1,129.2 L447.5,127.1 L447.8,122.7 L448.2,114.3 L448.5,100.4 L448.7,90.5 L448.9,79.1 L449.2,52.2 L449.6,29.6 L450.0,20.5 L450.3,25.7 L450.5,33.2 L450.7,43.4 L451.0,69.0 L451.4,94.3 L451.7,112.5 L452.1,122.8 L452.2,125.4 L452.4,127.1 L452.8,129.3 L453.1,129.8 L454.0,129.4 L454.9,129.3 L455.8,129.6 L456.6,129.4 L457.5,128.9 L458.4,129.1 L459.3,128.9 L460.2,128.8 L461.0,128.6 L461.9,129.1 L462.3,129.0 L462.6,128.7 L462.8,128.2 L463.0,128.0 L463.3,126.3 L463.7,121.5 L464.0,115.6 L464.4,110.6 L464.6,109.2 L464.7,108.4 L465.1,109.9 L465.4,114.0 L465.8,118.7 L466.1,123.5 L466.3,125.4 L466.5,126.9 L466.8,128.1 L467.2,128.7 L467.6,128.8 L468.1,128.6 L469.0,128.7 L469.8,128.6 L470.7,129.0 L471.6,128.6 L472.5,128.8 L473.4,128.8 L474.2,128.8 L475.1,128.4 L476.0,128.5 L476.9,128.7 L477.8,128.8 L478.6,128.7 L479.5,128.8 L480.4,128.5 L481.3,129.0 L482.2,129.1 L483.0,128.9 L483.9,128.8 L484.8,128.8 L485.7,128.7 L486.6,128.5 L487.4,128.9 L488.3,128.9 L489.2,129.1 L490.1,128.7 L491.0,128.6 L491.8,128.8 L492.7,128.5 L493.6,128.7 L494.5,128.4 L495.4,128.6 L496.2,128.9 L497.1,128.8 L498.0,129.0 L498.9,129.0 L499.8,128.7 L500.6,128.7 L501.5,128.5 L502.4,128.9 L503.3,128.9 L504.2,129.0 L505.0,128.6 L505.9,128.7 L506.8,128.9 L507.7,128.6 L508.6,128.6 L509.4,129.0 L510.3,128.5 L511.2,128.6 L512.1,128.7 L513.0,128.8 L513.8,128.4 L514.7,128.4 L515.6,128.4 L516.5,128.9 L517.4,128.8 L518.2,128.5 L519.1,128.9 L520.0,128.8 L520.9,129.1 L521.8,128.4 L522.6,128.5 L523.5,128.6 L524.4,128.7 L525.3,128.8 L526.2,128.8 L527.0,128.6 L527.9,128.8 L528.8,128.4 L529.7,128.7 L530.6,128.7 L531.4,128.3 L532.3,128.6 L533.2,128.5 L534.1,128.7 L535.0,129.1 L535.8,128.6 L536.7,129.0 L537.6,128.6 L538.5,129.0 L539.4,129.1 L540.2,128.7 L541.1,128.6 L542.0,128.7 L542.9,128.9 L543.8,128.6 L544.6,129.0 L545.5,128.8 L546.4,128.9 L547.3,128.8 L548.2,128.6 L549.0,128.8 L549.9,128.6 L550.8,128.6 L551.7,129.0 L552.6,128.8 L553.4,128.7 L554.3,128.7 L555.2,128.6 L555.6,129.1 L555.9,128.6 L556.1,128.6 L556.3,128.6 L556.6,128.4 L557.0,127.2 L557.3,125.7 L557.7,123.4 L557.8,122.5 L558.0,121.5 L558.4,120.9 L558.7,121.3 L559.1,124.0 L559.4,125.8 L559.6,126.5 L559.8,127.5 L560.1,128.0 L560.5,128.7 L560.8,128.6 L561.2,128.9 L561.4,128.8 L562.2,128.7 L563.1,128.8 L564.0,128.8 L564.9,128.3 L565.4,128.7 L565.8,128.8 L566.1,128.3 L566.5,128.0 L566.6,127.6 L566.8,127.1 L567.2,126.4 L567.5,124.5 L567.9,123.0 L568.2,122.7 L568.4,122.8 L568.6,123.9 L568.9,124.9 L569.3,126.0 L569.6,127.9 L570.0,128.3 L570.2,128.4 L570.3,128.4 L570.7,128.3 L571.0,129.0 L571.9,128.7 L572.8,128.6 L573.7,129.0 L574.6,128.7 L575.4,128.4 L576.3,128.5 L577.2,128.6 L578.1,129.2 L579.0,128.7 L579.8,128.6 L580.7,128.7 L581.6,128.7 L582.5,128.1 L583.4,128.7 L584.2,128.8 L585.1,128.6 L586.0,128.7 L586.9,128.7 L587.8,128.7 L588.6,128.5 L589.5,128.6 L590.4,128.9 L591.3,128.7 L592.2,128.5" stroke="#000" stroke-opacity="0.6" stroke-width="0.8"/>
<path d="M405.6,128.7 L406.5,128.7 L407.4,128.7 L408.2,128.8 L409.1,128.8 L410.0,128.8 L410.9,128.8 L411.8,128.8 L412.6,128.8 L413.5,128.8 L414.4,128.8 L415.3,128.8 L416.2,128.8 L417.0,128.8 L417.9,128.8 L418.8,128.8 L419.7,128.8 L420.6,128.8 L421.4,128.7 L422.3,128.7 L423.2,128.6 L424.1,128.6 L425.0,128.6 L425.8,128.7 L426.7,128.8 L427.6,128.8 L428.5,128.8 L429.4,128.8 L430.2,128.8 L431.1,128.8 L432.0,128.8 L432.9,128.8 L433.8,128.7 L434.6,128.7 L435.5,128.7 L436.4,128.6 L436.6,128.6 L436.9,128.6 L437.3,128.6 L437.6,128.6 L438.0,128.6 L438.2,128.6 L438.3,128.6 L438.7,128.6 L439.0,128.6 L439.4,128.6 L439.7,128.7 L439.9,128.7 L440.1,128.8 L440.4,128.8 L440.8,128.8 L441.2,128.9 L441.5,128.9 L441.7,128.9 L441.9,128.9 L442.2,128.9 L442.6,128.9 L443.4,129.0 L444.3,129.2 L445.2,129.4 L446.1,129.7 L447.0,130.0 L447.1,130.0 L447.5,130.1 L447.8,130.2 L448.2,130.3 L448.5,130.3 L448.7,130.4 L448.9,130.4 L449.2,130.4 L449.6,130.5 L450.0,130.5 L450.3,130.5 L450.5,130.5 L450.7,130.5 L451.0,130.4 L451.4,130.4 L451.7,130.3 L452.1,130.2 L452.2,130.2 L452.4,130.1 L452.8,130.0 L453.1,130.0 L454.0,129.7 L454.9,129.5 L455.8,129.3 L456.6,129.1 L457.5,129.0 L458.4,128.9 L459.3,128.8 L460.2,128.8 L461.0,128.7 L461.9,128.7 L462.3,128.7 L462.6,128.7 L462.8,128.7 L463.0,128.7 L463.3,128.7 L463.7,128.7 L464.0,128.7 L464.4,128.7 L464.6,128.7 L464.7,128.7 L465.1,128.7 L465.4,128.7 L465.8,128.7 L466.1,128.7 L466.3,128.7 L466.5,128.7 L466.8,128.7 L467.2,128.7 L467.6,128.8 L468.1,128.8 L469.0,128.8 L469.8,128.8 L470.7,128.8 L471.6,128.7 L472.5,128.7 L473.4,128.6 L474.2,128.6 L475.1,128.6 L476.0,128.6 L476.9,128.6 L477.8,128.6 L478.6,128.7 L479.5,128.7 L480.4,128.7 L481.3,128.8 L482.2,128.8 L483.0,128.8 L483.9,128.8 L484.8,128.8 L485.7,128.8 L486.6,128.8 L487.4,128.8 L488.3,128.8 L489.2,128.8 L490.1,128.8 L491.0,128.8 L491.8,128.7 L492.7,128.7 L493.6,128.7 L494.5,128.7 L495.4,128.7 L496.2,128.7 L497.1,128.7 L498.0,128.7 L498.9,128.7 L499.8,128.8 L500.6,128.8 L501.5,128.8 L502.4,128.8 L503.3,128.8 L504.2,128.8 L505.0,128.8 L505.9,128.8 L506.8,128.7 L507.7,128.7 L508.6,128.7 L509.4,128.7 L510.3,128.7 L511.2,128.7 L512.1,128.7 L513.0,128.7 L513.8,128.7 L514.7,128.7 L515.6,128.7 L516.5,128.7 L517.4,128.7 L518.2,128.7 L519.1,128.7 L520.0,128.7 L520.9,128.7 L521.8,128.7 L522.6,128.7 L523.5,128.7 L524.4,128.7 L525.3,128.7 L526.2,128.7 L527.0,128.7 L527.9,128.7 L528.8,128.6 L529.7,128.6 L530.6,128.6 L531.4,128.6 L532.3,128.6 L533.2,128.6 L534.1,128.7 L535.0,128.7 L535.8,128.7 L536.7,128.8 L537.6,128.8 L538.5,128.8 L539.4,128.7 L540.2,128.7 L541.1,128.7 L542.0,128.7 L542.9,128.7 L543.8,128.7 L544.6,128.7 L545.5,128.7 L546.4,128.7 L547.3,128.7 L548.2,128.7 L549.0,128.7 L549.9,128.7 L550.8,128.7 L551.7,128.7 L552.6,128.6 L553.4,128.6 L554.3,128.6 L555.2,128.7 L555.6,128.7 L555.9,128.8 L556.1,128.8 L556.3,128.8 L556.6,128.8 L557.0,128.8 L557.3,128.8 L557.7,128.8 L557.8,128.8 L558.0,128.8 L558.4,128.8 L558.7,128.8 L559.1,128.8 L559.4,128.8 L559.6,128.8 L559.8,128.8 L560.1,128.7 L560.5,128.7 L560.8,128.7 L561.2,128.7 L561.4,128.7 L562.2,128.8 L563.1,128.7 L564.0,128.7 L564.9,128.7 L565.4,128.7 L565.8,128.7 L566.1,128.6 L566.5,128.6 L566.6,128.6 L566.8,128.6 L567.2,128.6 L567.5,128.6 L567.9,128.6 L568.2,128.6 L568.4,128.6 L568.6,128.6 L568.9,128.7 L569.3,128.7 L569.6,128.7 L570.0,128.7 L570.2,128.7 L570.3,128.7 L570.7,128.7 L571.0,128.7 L571.9,128.7 L572.8,128.7 L573.7,128.7 L574.6,128.7 L575.4,128.7 L576.3,128.7 L577.2,128.7 L578.1,128.7 L579.0,128.7 L579.8,128.7 L580.7,128.7 L581.6,128.7 L582.5,128.7 L583.4,128.7 L584.2,128.7 L585.1,128.7 L586.0,128.7 L586.9,128.7 L587.8,128.7 L588.6,128.7 L589.5,128.6 L590.4,128.6 L591.3,128.6 L592.2,128.6" stroke="#ffa500" stroke-width="1.1"/>
<path d="M405.6,128.7 L406.5,128.7 L407.4,128.7 L408.2,128.8 L409.1,128.8 L410.0,128.8 L410.9,128.8 L411.8,128.8 L412.6,128.8 L413.5,128.8 L414.4,128.8 L415.3,128.8 L416.2,128.8 L417.0,128.8 L417.9,128.8 L418.8,128.8 L419.7,128.8 L420.6,128.8 L421.4,128.7 L422.3,128.7 L423.2,128.6 L424.1,128.6 L425.0,128.6 L425.8,128.7 L426.7,128.8 L427.6,128.8 L428.5,128.8 L429.4,128.8 L430.2,128.8 L431.1,128.8 L432.0,128.8 L432.9,128.8 L433.8,128.7 L434.6,128.7 L435.5,128.7 L436.4,128.6 L436.6,128.6 L436.9,128.6 L437.3,128.4 L437.6,128.1 L438.0,127.3 L438.2,126.6 L438.3,125.9 L438.7,124.0 L439.0,122.3 L439.4,121.6 L439.7,122.4 L439.9,123.2 L440.1,124.1 L440.4,126.0 L440.8,127.5 L441.2,128.3 L441.5,128.7 L441.7,128.8 L441.9,128.8 L442.2,128.9 L442.6,128.9 L443.4,129.0 L444.3,129.2 L445.2,129.4 L446.1,129.7 L447.0,129.4 L447.1,129.1 L447.5,127.2 L447.8,122.6 L448.2,113.0 L448.5,96.8 L448.7,86.1 L448.9,74.0 L449.2,48.9 L449.6,28.6 L450.0,20.8 L450.3,28.7 L450.5,37.6 L450.7,48.9 L451.0,74.1 L451.4,96.8 L451.7,113.0 L452.1,122.6 L452.2,125.3 L452.4,127.2 L452.8,129.1 L453.1,129.7 L454.0,129.7 L454.9,129.5 L455.8,129.3 L456.6,129.1 L457.5,129.0 L458.4,128.9 L459.3,128.8 L460.2,128.8 L461.0,128.7 L461.9,128.7 L462.3,128.5 L462.6,128.2 L462.8,127.8 L463.0,127.2 L463.3,124.8 L463.7,120.7 L464.0,115.4 L464.4,110.6 L464.6,109.1 L464.7,108.6 L465.1,110.6 L465.4,115.4 L465.8,120.8 L466.1,124.9 L466.3,126.2 L466.5,127.2 L466.8,128.2 L467.2,128.6 L467.6,128.7 L468.1,128.8 L469.0,128.8 L469.8,128.8 L470.7,128.8 L471.6,128.7 L472.5,128.7 L473.4,128.6 L474.2,128.6 L475.1,128.6 L476.0,128.6 L476.9,128.6 L477.8,128.6 L478.6,128.7 L479.5,128.7 L480.4,128.7 L481.3,128.8 L482.2,128.8 L483.0,128.8 L483.9,128.8 L484.8,128.8 L485.7,128.8 L486.6,128.8 L487.4,128.8 L488.3,128.8 L489.2,128.8 L490.1,128.8 L491.0,128.8 L491.8,128.7 L492.7,128.7 L493.6,128.7 L494.5,128.7 L495.4,128.7 L496.2,128.7 L497.1,128.7 L498.0,128.7 L498.9,128.7 L499.8,128.8 L500.6,128.8 L501.5,128.8 L502.4,128.8 L503.3,128.8 L504.2,128.8 L505.0,128.8 L505.9,128.8 L506.8,128.7 L507.7,128.7 L508.6,128.7 L509.4,128.7 L510.3,128.7 L511.2,128.7 L512.1,128.7 L513.0,128.7 L513.8,128.7 L514.7,128.7 L515.6,128.7 L516.5,128.7 L517.4,128.7 L518.2,128.7 L519.1,128.7 L520.0,128.7 L520.9,128.7 L521.8,128.7 L522.6,128.7 L523.5,128.7 L524.4,128.7 L525.3,128.7 L526.2,128.7 L527.0,128.7 L527.9,128.7 L528.8,128.6 L529.7,128.6 L530.6,128.6 L531.4,128.6 L532.3,128.6 L533.2,128.6 L534.1,128.7 L535.0,128.7 L535.8,128.7 L536.7,128.8 L537.6,128.8 L538.5,128.8 L539.4,128.7 L540.2,128.7 L541.1,128.7 L542.0,128.7 L542.9,128.7 L543.8,128.7 L544.6,128.7 L545.5,128.7 L546.4,128.7 L547.3,128.7 L548.2,128.7 L549.0,128.7 L549.9,128.7 L550.8,128.7 L551.7,128.7 L552.6,128.6 L553.4,128.6 L554.3,128.6 L555.2,128.7 L555.6,128.7 L555.9,128.7 L556.1,128.7 L556.3,128.6 L556.6,128.2 L557.0,127.2 L557.3,125.6 L557.7,123.5 L557.8,122.5 L558.0,121.6 L558.4,120.8 L558.7,121.6 L559.1,123.5 L559.4,125.7 L559.6,126.5 L559.8,127.2 L560.1,128.1 L560.5,128.5 L560.8,128.7 L561.2,128.7 L561.4,128.7 L562.2,128.8 L563.1,128.7 L564.0,128.7 L564.9,128.7 L565.4,128.7 L565.8,128.6 L566.1,128.5 L566.5,128.2 L566.6,127.9 L566.8,127.4 L567.2,126.2 L567.5,124.7 L567.9,123.2 L568.2,122.7 L568.4,122.9 L568.6,123.3 L568.9,124.8 L569.3,126.4 L569.6,127.6 L570.0,128.2 L570.2,128.4 L570.3,128.5 L570.7,128.7 L571.0,128.7 L571.9,128.7 L572.8,128.7 L573.7,128.7 L574.6,128.7 L575.4,128.7 L576.3,128.7 L577.2,128.7 L578.1,128.7 L579.0,128.7 L579.8,128.7 L580.7,128.7 L581.6,128.7 L582.5,128.7 L583.4,128.7 L584.2,128.7 L585.1,128.7 L586.0,128.7 L586.9,128.7 L587.8,128.7 L588.6,128.7 L589.5,128.6 L590.4,128.6 L591.3,128.6 L592.2,128.6" stroke="#e61ee6" stroke-width="1.1"/>
</g>
<rect x="409.2" y="15.1" width="180" height="128" fill="none" stroke="#fff" stroke-opacity="0.75" stroke-width="3.4"/>
<rect x="409.2" y="15.1" width="180" height="128" fill="none" stroke="#444" stroke-width="1.3"/>
<line x1="403.8" x2="408.5" y1="57.90" y2="57.90" stroke="#000" stroke-width="1.1"/>
<line x1="403.8" x2="408.5" y1="137.50" y2="137.50" stroke="#000" stroke-width="1.1"/>
<line y1="143.5" y2="148.3" x1="476.00" x2="476.00" stroke="#000" stroke-width="1.1"/>
<line y1="143.5" y2="148.3" x1="546.40" x2="546.40" stroke="#000" stroke-width="1.1"/>
<g font-family="Liberation Sans, sans-serif" font-size="12" fill="#000" stroke="#000" stroke-width="0.25">
<text x="476.00" y="163.6" text-anchor="middle" textLength="29.6" lengthAdjust="spacingAndGlyphs">6600</text>
<text x="546.40" y="163.6" text-anchor="middle" textLength="29.6" lengthAdjust="spacingAndGlyphs">6700</text>
<text transform="translate(396.6 70.90) rotate(-90)" x="0" y="0" textLength="17" lengthAdjust="spacingAndGlyphs">0.2</text>
<text transform="translate(396.6 150.50) rotate(-90)" x="0" y="0" textLength="17" lengthAdjust="spacingAndGlyphs">0.0</text>
</g>
<g font-family="Liberation Sans, sans-serif" font-size="8" fill="#000" stroke="#000" stroke-width="0.15">
<text transform="translate(442.0 80.6) rotate(-90)" x="0" y="0" textLength="35.6" lengthAdjust="spacingAndGlyphs">[NII]6548</text>
<text transform="translate(458.9 80.6) rotate(-90)" x="0" y="0" textLength="10.3" lengthAdjust="spacingAndGlyphs">Hα</text>
<text transform="translate(474.3 80.6) rotate(-90)" x="0" y="0" textLength="35.6" lengthAdjust="spacingAndGlyphs">[NII]6584</text>
<text transform="translate(559.9 80.6) rotate(-90)" x="0" y="0" textLength="34.1" lengthAdjust="spacingAndGlyphs">[SII]6717</text>
<text transform="translate(571.9 80.6) rotate(-90)" x="0" y="0" textLength="34.1" lengthAdjust="spacingAndGlyphs">[SII]6731</text>
</g>
</svg>
</body></html>
